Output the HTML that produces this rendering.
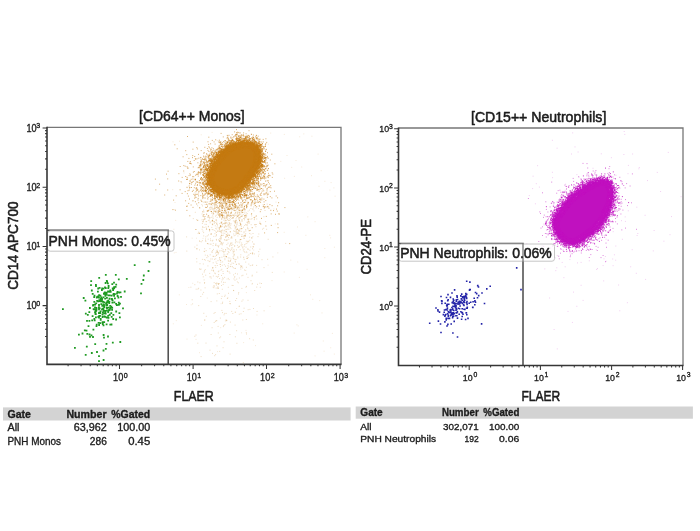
<!DOCTYPE html>
<html lang="en"><head><meta charset="utf-8"><title>PNH clone flow cytometry</title>
<style>html,body{margin:0;padding:0;background:#fff}body{width:700px;height:531px;overflow:hidden}svg{display:block;filter:blur(0.4px)}text{font-family:"Liberation Sans", sans-serif;fill:#1c1c1c;stroke:#1c1c1c;stroke-width:0.55px;stroke-linejoin:round}.s text,.s{stroke-width:0.34px}</style></head><body>
<svg width="700" height="531" viewBox="0 0 700 531">
<defs><filter id="b1" color-interpolation-filters="sRGB" x="-5%" y="-5%" width="110%" height="110%"><feGaussianBlur stdDeviation="0.45" color-interpolation-filters="sRGB"/></filter><filter id="b2" color-interpolation-filters="sRGB" x="-5%" y="-5%" width="110%" height="110%"><feGaussianBlur stdDeviation="0.7" color-interpolation-filters="sRGB"/></filter><filter id="b3" color-interpolation-filters="sRGB" x="-20%" y="-20%" width="140%" height="140%"><feGaussianBlur stdDeviation="0.35" color-interpolation-filters="sRGB"/></filter></defs>
<rect width="700" height="531" fill="#ffffff"/>
<g id="monos">
<path d="M181.2 182.8h1M172.5 141.8h1M258.6 254.3h1M286.5 155.5h1M214.1 204.7h1M253.2 250.1h1M311.0 175.7h1M262.2 323.8h1M330.2 347.8h1M217.0 351.6h1M192.6 200.5h1M218.3 186.7h1M226.1 222.3h1M321.5 312.9h1M269.5 306.5h1M324.4 181.3h1M233.4 251.5h1M243.1 342.6h1M186.7 187.7h1M206.8 298.1h1M178.8 294.8h1M172.2 189.7h1M262.6 186.2h1M330.1 237.9h1M314.6 221.7h1M297.0 227.0h1M244.6 144.5h1M245.5 330.4h1M218.5 245.4h1M250.5 234.2h1M333.8 354.1h1M220.2 327.7h1M314.6 355.9h1M317.6 154.1h1M329.4 190.1h1M297.7 325.9h1M252.0 283.4h1M307.3 216.9h1M192.2 283.3h1M247.3 156.9h1M191.7 238.2h1M246.8 243.0h1M329.3 235.3h1M204.7 198.1h1M283.8 134.4h1M243.8 193.7h1M190.7 304.8h1M220.6 303.7h1M214.5 193.8h1M267.8 144.2h1M280.3 161.4h1M252.3 236.6h1M173.4 229.3h1M186.0 304.5h1M172.8 323.8h1M218.5 140.9h1M318.5 186.3h1M225.0 237.4h1M199.0 352.7h1M228.5 208.5h1M179.0 141.2h1M333.9 247.2h1M186.5 339.1h1M310.0 294.8h1M210.3 157.3h1M274.8 223.9h1M324.3 257.7h1M271.5 280.6h1M303.3 133.9h1M188.3 287.5h1M249.7 152.8h1M312.3 299.3h1M195.5 339.4h1M266.8 183.7h1M196.0 238.2h1M216.8 140.6h1M246.1 251.5h1M311.4 136.2h1M208.7 193.9h1M320.7 170.7h1M262.5 204.5h1M299.2 136.8h1M202.5 238.4h1M333.4 187.9h1M291.2 167.4h1M241.8 153.3h1M175.2 220.4h1M247.4 255.6h1M241.1 332.8h1M334.6 196.2h1M183.5 172.9h1M224.3 217.4h1M212.7 270.5h1M277.3 252.9h1M319.2 300.6h1M284.1 178.3h1M247.0 203.5h1M175.5 252.4h1M324.3 248.5h1M296.4 324.8h1M200.7 134.8h1M305.4 235.3h1M236.1 308.5h1M283.7 232.3h1M290.3 260.1h1M301.2 167.0h1M235.7 264.3h1M235.1 312.2h1M322.8 341.0h1M275.5 202.1h1M211.6 132.4h1M293.9 176.4h1M200.9 325.4h1M229.8 215.1h1M243.3 257.8h1M273.4 209.0h1M295.5 160.5h1M330.6 182.6h1M174.5 202.5h1M323.6 351.2h1M173.8 252.9h1M255.0 345.6h1M234.3 276.6h1M270.2 133.1h1M331.9 333.4h1M298.9 277.4h1M293.7 333.1h1M256.4 315.0h1M173.6 209.5h1M250.5 253.3h1M175.8 320.6h1M306.6 269.3h1M267.6 265.2h1M245.3 185.6h1M297.2 262.0h1M226.5 279.1h1M194.3 192.7h1M283.7 272.0h1M245.9 292.6h1M259.6 186.3h1" fill="none" stroke="#c47a12" stroke-width="1" stroke-opacity="0.16"/>
<path d="M236.9 233.3h1M214.9 321.4h1M241.2 236.5h1M233.3 201.6h1M205.5 221.6h1M232.1 204.0h1M213.3 203.2h1M234.3 204.8h1M232.2 208.2h1M203.2 235.9h1M229.9 250.6h1M251.8 275.2h1M219.9 244.1h1M218.4 271.0h1M254.9 203.1h1M235.9 234.0h1M226.0 204.2h1M232.0 266.7h1M212.8 243.4h1M229.9 303.7h1M242.3 320.0h1M207.4 265.9h1M255.4 226.7h1M224.4 240.0h1M216.3 223.0h1M244.2 209.7h1M212.3 224.8h1M228.4 252.5h1M239.3 231.1h1M228.1 220.6h1M241.3 275.8h1M195.5 335.0h1M234.6 231.4h1M244.2 225.5h1M215.9 255.2h1M228.1 215.6h1M210.3 259.0h1M225.6 213.1h1M218.9 240.7h1M213.9 286.1h1M223.1 256.2h1M221.9 243.8h1M212.1 267.8h1M225.8 223.0h1M219.1 227.3h1M237.9 230.1h1M229.8 266.3h1M242.5 299.9h1M236.3 199.1h1M224.4 258.3h1M229.4 273.2h1M237.7 233.8h1M233.3 201.7h1M229.3 207.2h1M204.0 216.6h1M221.4 257.2h1M222.9 223.5h1M244.1 213.0h1M205.8 316.3h1M258.0 208.5h1M250.5 280.7h1M240.5 245.1h1M203.5 211.9h1M243.5 209.4h1M191.7 299.8h1M224.1 198.1h1M245.6 205.5h1M240.1 265.7h1M222.3 223.9h1M221.0 281.9h1M251.7 201.8h1M244.3 244.5h1M252.7 202.4h1M215.7 288.1h1M227.3 253.8h1M226.9 271.0h1M235.1 300.5h1M226.9 204.7h1M233.0 207.0h1M211.3 227.4h1M190.4 287.2h1M226.5 240.1h1M239.6 228.8h1M246.4 222.3h1M212.2 209.0h1M238.9 264.1h1M213.5 313.4h1M235.5 218.8h1M246.7 204.5h1M223.2 207.0h1M205.5 343.1h1M214.6 222.5h1M226.4 226.7h1M209.6 261.1h1M235.6 259.4h1M228.3 239.3h1M233.9 225.7h1M236.7 222.2h1M228.3 207.0h1M230.7 216.4h1M212.5 245.6h1M217.5 260.6h1M212.7 218.4h1M210.0 238.9h1M217.0 277.1h1M235.5 215.4h1M219.9 318.1h1M224.2 296.4h1M238.5 218.1h1M228.5 234.8h1M219.8 203.4h1M209.8 204.7h1M233.7 235.7h1M220.7 215.6h1M227.5 265.7h1M204.7 204.5h1M203.0 220.1h1M244.7 235.8h1M212.5 267.7h1M220.9 223.6h1M247.6 211.1h1M216.8 293.9h1M233.0 290.4h1M225.9 205.2h1M263.6 208.6h1M237.0 274.0h1M217.6 210.8h1M219.8 201.3h1M215.6 262.0h1M225.0 223.6h1M247.5 221.3h1M220.5 211.2h1M217.8 333.0h1M229.4 261.3h1M272.4 256.9h1M244.0 270.0h1M215.8 283.8h1M233.4 249.4h1M215.2 267.3h1M216.0 223.8h1M205.0 240.8h1M241.5 221.5h1M227.8 260.3h1M228.5 202.5h1M230.3 243.5h1M223.3 199.4h1M236.2 279.1h1M228.9 218.7h1M212.0 353.4h1M207.1 217.2h1M206.9 255.4h1M225.1 204.8h1M228.6 279.6h1M230.4 264.4h1M220.2 241.8h1M253.4 243.8h1M238.8 306.0h1M220.7 243.2h1M213.8 223.6h1M234.7 261.2h1M232.6 205.4h1M227.2 233.2h1M230.4 213.5h1M225.8 229.6h1M248.4 254.8h1M226.1 220.4h1M227.8 224.4h1M215.2 283.4h1M213.5 208.5h1M221.8 244.9h1M254.2 290.5h1M238.6 212.1h1M245.8 332.7h1M209.3 276.9h1M229.6 354.1h1M199.0 249.9h1M241.3 212.8h1M226.8 268.4h1M252.2 264.9h1M229.3 303.6h1M246.5 205.1h1M221.0 215.6h1M228.8 220.5h1M205.7 250.6h1M216.8 265.5h1M224.7 295.2h1M212.4 216.9h1M240.9 226.7h1M240.3 214.7h1M215.2 245.0h1M214.6 256.4h1M240.1 257.0h1M226.3 320.4h1M215.8 219.7h1M233.7 251.0h1M218.7 197.8h1M198.2 232.2h1M219.1 278.5h1M235.4 233.0h1M227.0 235.1h1M236.7 229.4h1M224.1 277.4h1M213.4 287.7h1M229.1 209.9h1M263.6 310.8h1M250.9 214.5h1M236.1 330.7h1M221.5 296.4h1M199.4 282.8h1M239.4 241.1h1M236.4 343.3h1M231.6 285.4h1M212.8 212.7h1M220.7 213.7h1M223.8 227.6h1M200.6 269.1h1M221.0 235.5h1M220.9 298.6h1M241.3 246.0h1M205.4 241.2h1M228.1 263.6h1M215.5 207.4h1M225.8 234.8h1M208.8 229.3h1M202.2 226.8h1M234.8 220.6h1M228.6 227.7h1M221.8 289.3h1M219.2 250.9h1M228.7 215.0h1M236.7 211.9h1M244.2 235.7h1M247.5 300.3h1M213.3 236.4h1M226.4 208.0h1M213.8 205.7h1M226.3 205.8h1M230.7 223.8h1M236.2 225.1h1M222.9 235.2h1M242.9 208.3h1M227.5 243.2h1M202.0 205.9h1M250.2 247.0h1M208.0 234.9h1M215.6 211.2h1M221.2 244.0h1M247.1 227.3h1M199.5 263.7h1M207.9 226.8h1M218.1 246.2h1M202.8 202.2h1M266.1 229.3h1M241.4 266.2h1M196.0 219.7h1M236.9 281.9h1M238.9 246.4h1M201.9 240.7h1M230.4 228.6h1M224.1 208.7h1M234.9 242.8h1M225.4 236.7h1M244.8 217.4h1M243.0 227.2h1M217.4 287.9h1M214.0 259.3h1M207.5 260.6h1M226.5 239.9h1M233.4 197.6h1M225.7 313.4h1M212.7 262.8h1M221.3 269.3h1M229.9 219.8h1M234.6 210.9h1M266.7 204.1h1M204.5 224.3h1M220.4 262.2h1M211.6 221.1h1M222.1 224.6h1M245.9 241.2h1M214.6 312.5h1M244.6 199.4h1M210.6 244.2h1M227.8 278.4h1M202.8 276.8h1M254.0 218.9h1M233.4 278.9h1M205.0 216.5h1M246.0 334.0h1M263.2 228.3h1M231.1 211.2h1M238.0 294.0h1M225.9 234.6h1M214.6 204.5h1M238.9 217.5h1M238.3 247.1h1M217.9 276.3h1M227.3 209.2h1M222.9 326.6h1M243.5 249.2h1M237.6 247.3h1M220.9 232.2h1M245.2 270.4h1M242.9 202.5h1M251.6 203.9h1M247.7 241.1h1M239.7 205.8h1M211.2 217.3h1M224.4 259.7h1M199.2 268.7h1M253.9 253.9h1M202.8 264.0h1M234.5 259.5h1M218.1 274.5h1M221.2 200.4h1M233.2 258.7h1M245.5 247.2h1M222.7 273.5h1M223.8 212.5h1M229.1 216.1h1M209.5 350.2h1M256.6 311.4h1M225.6 256.6h1M230.0 217.4h1M231.5 243.0h1M235.9 220.8h1M227.5 248.9h1M212.9 276.0h1M236.4 207.8h1M258.3 234.0h1M258.9 205.8h1M209.2 273.4h1M241.4 288.4h1M240.3 269.1h1M226.3 244.6h1M256.2 219.0h1M227.8 208.7h1M225.3 225.5h1M204.3 319.9h1M236.1 226.8h1M249.4 250.2h1M216.9 206.4h1M220.4 231.3h1M238.3 233.6h1M209.7 254.8h1M232.3 313.5h1M230.3 244.7h1M271.8 272.4h1M222.1 277.9h1M203.7 272.1h1M234.7 312.2h1M227.8 208.6h1M249.3 240.3h1M220.2 260.6h1M225.2 206.7h1M224.4 251.5h1M224.2 209.7h1M234.2 210.5h1M239.1 205.2h1M211.2 270.2h1M244.4 252.3h1M244.8 215.7h1M212.1 268.0h1M222.2 230.0h1M238.9 278.0h1M242.8 236.4h1M221.8 265.3h1M238.5 200.6h1M196.2 258.7h1M217.0 251.8h1M220.9 215.1h1M228.7 271.9h1M216.1 252.3h1M215.0 199.0h1M222.1 213.8h1M250.7 224.7h1M228.6 222.8h1M212.8 256.5h1M216.3 300.9h1M220.9 238.1h1M226.7 254.2h1M240.0 217.8h1M211.2 252.0h1M210.7 278.1h1M215.3 201.9h1M236.9 245.4h1M228.0 237.5h1M245.3 231.0h1M224.9 206.2h1M227.0 215.7h1M224.3 203.2h1M267.1 259.3h1M226.2 212.7h1M242.4 246.9h1M232.4 244.6h1M240.3 210.7h1M243.8 218.5h1M201.4 201.6h1M224.3 216.3h1M242.9 311.5h1M214.2 355.7h1M201.6 229.3h1M218.6 215.5h1M224.7 226.1h1M221.0 230.4h1M246.3 252.6h1M223.9 239.7h1M216.5 345.9h1M201.3 204.6h1M227.9 261.3h1M242.4 275.3h1M232.9 267.8h1M204.8 255.1h1M221.4 310.4h1M219.4 203.5h1M225.6 203.6h1M213.1 211.3h1M219.7 241.0h1M227.2 219.7h1M244.0 238.3h1M218.0 284.5h1M256.5 197.4h1M218.1 207.4h1M202.2 227.2h1M224.3 222.2h1M228.9 224.6h1M203.1 232.6h1M204.6 218.7h1M252.0 241.9h1M249.1 237.2h1M235.7 241.7h1M238.5 218.9h1M239.5 209.9h1M221.4 222.1h1M215.9 239.4h1M228.0 198.8h1M210.7 201.2h1M225.4 229.3h1M235.7 220.3h1M224.6 256.5h1M233.5 255.7h1M224.6 220.0h1M243.6 308.2h1M215.4 220.2h1M212.7 287.1h1M215.9 285.1h1M234.7 227.0h1M222.0 303.3h1M215.1 253.0h1M206.0 228.3h1M236.1 217.3h1M208.0 217.2h1M232.6 285.5h1M259.4 249.2h1M208.9 220.1h1M227.8 257.9h1M202.8 219.7h1M223.4 254.1h1M216.2 229.0h1M222.9 215.5h1M225.6 319.8h1M224.2 313.4h1M204.0 270.8h1M220.0 227.3h1M199.4 241.5h1M204.1 202.0h1M244.0 219.8h1M243.5 232.8h1M241.1 243.0h1M223.8 264.7h1M239.5 239.6h1M240.5 313.8h1M246.9 206.9h1M219.8 213.6h1M243.7 259.4h1M217.8 211.1h1M249.1 221.8h1M224.4 255.0h1M226.0 231.6h1M201.5 219.8h1M219.0 228.8h1M234.5 280.2h1M218.0 239.8h1M224.8 213.3h1M222.5 230.9h1M229.3 245.2h1M215.2 258.8h1M251.2 215.9h1M232.0 215.2h1M238.7 225.6h1M203.1 292.4h1M222.8 251.4h1M211.7 199.3h1M208.8 217.1h1M233.5 210.2h1M247.7 309.7h1M227.6 214.1h1M262.0 229.2h1M226.4 236.0h1M240.6 228.8h1M204.1 282.5h1M226.1 320.7h1M235.1 240.7h1M241.1 266.2h1M211.9 252.1h1M225.0 220.5h1M230.7 204.4h1M210.2 240.6h1M252.3 209.1h1M237.9 282.8h1M261.0 283.5h1M235.9 203.3h1M243.1 209.5h1M202.0 274.2h1M226.7 247.6h1M225.7 231.9h1M249.9 253.5h1M227.8 211.5h1M209.7 244.1h1M221.8 208.0h1M204.2 248.7h1M255.4 207.9h1M219.8 260.5h1M206.9 243.6h1M219.4 216.1h1M249.6 230.5h1M222.8 242.9h1M247.0 241.7h1M223.0 282.3h1M227.9 207.6h1M253.4 210.9h1M217.0 225.1h1M234.4 203.7h1M217.6 199.7h1M198.1 288.3h1M222.4 205.1h1M223.3 252.3h1M216.8 213.0h1M213.3 285.8h1M222.3 215.0h1M236.0 264.4h1M229.3 203.8h1M208.8 201.7h1M221.7 235.5h1M217.4 286.8h1M236.1 298.5h1M245.7 212.8h1M223.3 325.5h1M249.2 233.5h1M238.5 210.2h1M225.0 249.7h1M222.3 216.8h1M248.0 221.1h1M256.1 265.4h1M259.4 283.2h1M212.9 270.2h1M209.4 248.6h1M221.1 234.0h1M234.3 245.9h1M199.0 240.8h1M218.6 228.0h1M243.6 235.6h1M206.2 229.3h1M244.1 199.3h1M235.1 226.9h1M218.7 227.4h1M223.4 220.2h1M220.2 225.8h1M228.0 202.1h1M234.3 231.2h1M205.9 224.4h1M261.5 259.7h1M252.5 209.0h1M227.7 235.3h1M238.5 212.3h1M235.8 230.3h1M245.9 267.3h1M241.5 234.6h1M209.0 218.1h1M224.8 212.1h1M257.0 284.3h1M224.3 233.3h1M242.4 210.4h1M220.0 266.5h1M223.7 213.2h1M219.5 238.6h1M233.2 234.0h1M219.0 258.0h1M251.5 218.7h1M244.5 209.1h1M240.5 224.4h1M220.5 237.2h1M197.4 289.1h1M211.5 212.9h1M216.9 214.2h1M230.4 266.6h1M244.4 210.9h1M216.1 255.2h1M233.0 230.9h1M221.1 242.5h1M219.3 259.4h1M237.4 258.0h1M212.6 209.8h1M251.7 265.4h1M219.8 203.6h1M203.1 210.2h1M220.7 227.1h1M245.2 216.2h1M207.9 226.3h1M228.1 267.1h1M197.1 205.8h1M247.5 277.4h1M217.1 251.4h1M194.3 336.3h1M248.9 223.1h1M232.3 251.0h1M203.9 217.2h1M243.6 251.4h1M228.0 293.3h1M202.7 215.5h1M235.2 223.0h1M216.2 203.0h1M203.9 259.5h1M246.1 216.2h1M241.4 301.2h1M245.1 224.4h1M203.6 279.9h1M209.7 222.8h1M232.6 256.7h1M196.3 261.9h1M195.7 289.2h1M246.0 286.4h1M219.0 206.5h1M214.3 273.0h1M194.3 284.7h1M253.1 207.0h1M207.7 239.2h1M247.0 228.7h1M207.8 243.9h1M186.1 236.9h1M227.4 225.3h1M230.4 242.9h1M205.4 227.0h1M226.0 214.2h1M239.5 222.0h1M244.4 236.3h1M237.0 233.1h1M206.1 221.6h1M226.9 298.5h1M229.5 205.8h1M222.7 284.4h1M210.3 276.8h1M215.8 276.4h1M203.6 227.5h1M245.2 262.1h1M211.4 213.3h1M214.8 211.5h1M210.6 334.5h1M242.7 214.5h1M215.0 216.2h1M186.3 251.1h1M210.5 209.8h1M222.5 271.4h1M227.2 271.3h1M263.4 216.7h1M225.0 205.5h1M222.1 261.9h1M214.8 225.8h1M220.5 197.9h1M225.0 266.2h1M229.1 235.5h1M244.7 235.0h1M212.6 229.8h1M216.0 232.5h1M221.9 215.4h1M214.3 230.4h1M247.8 249.2h1M243.1 257.2h1M223.6 314.8h1M256.2 287.1h1M231.2 245.5h1M229.8 261.1h1M226.7 223.2h1M220.2 231.1h1M206.3 257.6h1M208.8 261.6h1M222.2 251.1h1M213.1 271.2h1M232.9 220.9h1M216.8 252.5h1M220.8 207.3h1M207.1 243.5h1M219.2 223.6h1M230.3 238.0h1M216.7 211.3h1M210.2 207.0h1M256.3 272.2h1M222.6 218.1h1M245.2 229.6h1M246.8 213.6h1M207.1 198.5h1M216.3 282.9h1M229.3 249.3h1M235.4 210.5h1M225.7 218.1h1M213.6 210.9h1M204.2 320.2h1M205.0 239.0h1M234.6 228.8h1M246.8 202.2h1M214.7 205.6h1M225.4 210.5h1M238.2 263.9h1M205.2 275.2h1M218.9 283.6h1M263.5 267.6h1M237.4 236.0h1M214.7 265.5h1M231.2 311.4h1M215.7 207.2h1M233.1 263.3h1M237.5 216.4h1M221.0 275.5h1M247.4 203.6h1M257.5 236.6h1M231.5 263.1h1M228.8 226.2h1M229.1 246.2h1M220.7 235.8h1M223.8 201.0h1M253.8 219.7h1M220.7 223.0h1M236.2 231.5h1M219.1 337.8h1M208.2 215.5h1M231.3 199.9h1M237.8 232.9h1M258.0 256.1h1M236.1 209.4h1M225.0 222.4h1M242.7 212.4h1M229.4 334.5h1M234.1 277.2h1M249.9 230.3h1M194.3 247.1h1M241.4 236.2h1M228.3 229.3h1M219.8 264.4h1M234.5 268.4h1M245.9 319.5h1M213.0 249.4h1M228.9 235.3h1M233.6 254.7h1M197.3 282.0h1M202.1 294.2h1M234.8 268.4h1M250.5 219.2h1M232.6 253.1h1M234.8 235.1h1M224.1 230.3h1M248.2 228.9h1M218.9 208.0h1M252.5 233.5h1M221.8 204.9h1M215.4 243.9h1M218.8 293.5h1M245.5 217.7h1M216.4 263.5h1M246.2 208.2h1M217.5 254.3h1M255.9 224.5h1M235.9 232.7h1M245.4 287.2h1M232.4 207.0h1M212.1 250.5h1M253.0 308.5h1M242.1 267.9h1M267.7 239.3h1M219.0 230.0h1M206.8 235.9h1M240.3 254.8h1M237.7 232.0h1M192.8 218.6h1M219.1 209.3h1M216.0 240.2h1M221.3 248.4h1M243.2 218.5h1M234.2 225.1h1M215.2 228.4h1M218.7 229.0h1M204.6 287.8h1M233.5 197.1h1M227.8 248.8h1M235.0 262.0h1M248.6 219.1h1M229.0 223.1h1M236.5 224.3h1M229.1 216.2h1M235.9 229.7h1M236.9 213.7h1M234.9 336.8h1M227.8 287.3h1M222.7 249.6h1M249.4 309.4h1M249.1 338.7h1M252.0 248.7h1M229.9 322.1h1M231.2 249.6h1M200.8 241.8h1M217.8 271.7h1M240.7 266.9h1M219.1 240.9h1M236.9 212.4h1M218.1 207.5h1M212.2 215.1h1M232.8 258.2h1M196.5 245.2h1M230.4 259.1h1M230.1 205.3h1M226.7 236.5h1M246.3 204.5h1M243.2 238.2h1M222.0 312.6h1M221.5 206.9h1M211.7 229.5h1M219.6 201.5h1M207.9 220.4h1M211.8 241.0h1M251.6 284.0h1M248.3 264.1h1M238.4 217.7h1M230.1 213.8h1M219.9 225.9h1M220.5 270.2h1M199.6 207.9h1M238.7 306.5h1M235.1 239.5h1M237.2 207.1h1M219.7 264.5h1M219.2 241.5h1M216.0 235.0h1M242.8 250.1h1M236.6 208.6h1M220.7 250.7h1M247.6 218.7h1M242.2 247.9h1M245.2 233.7h1M200.6 356.6h1M241.8 198.7h1M221.7 215.8h1M227.6 208.0h1M213.7 282.6h1M234.6 325.1h1M215.3 236.2h1M241.6 244.5h1M259.3 222.0h1M203.6 251.3h1M216.5 205.7h1M234.6 221.9h1M209.1 231.1h1M221.7 217.4h1M235.1 204.8h1M207.1 204.8h1M243.9 246.1h1M237.2 256.9h1M221.7 279.9h1M237.1 206.7h1M224.0 226.9h1M216.6 227.0h1M234.0 214.0h1M235.3 227.9h1M239.2 242.8h1M227.8 216.1h1M201.9 223.5h1M215.3 245.4h1M244.3 205.3h1M227.1 229.1h1M236.3 205.5h1M251.6 276.1h1M243.6 231.7h1M244.6 215.4h1M217.9 253.2h1M211.6 205.9h1M223.5 341.8h1M197.6 233.4h1M218.1 252.6h1M205.9 229.3h1M238.2 206.5h1M219.5 239.0h1M225.5 226.7h1M216.7 250.2h1M209.5 209.7h1M231.9 218.0h1M231.0 248.0h1M216.9 245.8h1M229.9 227.3h1M210.6 301.6h1M213.7 209.2h1M222.6 347.7h1M204.8 269.6h1M222.1 302.2h1M233.2 290.6h1M239.2 234.4h1M247.9 203.9h1M209.6 221.8h1M238.1 230.7h1M233.1 274.9h1M215.1 354.6h1M229.1 206.0h1M199.6 269.5h1M247.9 221.2h1M226.8 268.4h1M236.0 249.8h1M229.3 301.4h1M246.3 200.8h1M229.3 258.0h1M252.1 254.1h1M212.3 240.3h1M227.7 251.5h1M212.7 256.2h1M207.6 256.6h1M215.8 215.3h1M235.4 215.1h1M246.4 256.7h1M244.7 209.6h1M220.7 206.4h1M215.9 251.1h1M216.1 220.8h1M240.5 225.2h1M227.3 297.8h1M233.8 254.2h1M222.9 199.2h1M202.4 231.1h1M198.2 305.6h1M236.7 207.5h1M200.3 296.5h1M234.5 210.3h1M209.1 229.7h1M222.7 233.1h1M194.8 212.3h1M239.7 249.7h1M217.7 288.3h1M230.0 215.5h1M230.1 260.6h1M237.4 242.1h1M258.2 251.6h1M238.7 219.4h1M216.6 224.2h1M244.9 235.9h1M224.6 282.4h1M219.0 216.9h1M214.8 273.7h1M227.2 219.0h1M232.2 217.7h1M216.7 217.4h1M217.6 288.2h1M247.6 257.5h1M231.3 218.5h1M217.4 203.5h1M254.3 205.7h1M215.9 234.9h1M240.2 267.3h1M230.2 225.2h1M285.2 243.4h1M224.4 324.6h1M219.0 231.5h1M223.7 215.3h1M203.3 313.3h1M264.5 210.5h1M231.4 238.2h1M226.1 218.0h1M238.8 314.2h1M192.1 303.9h1M225.4 237.0h1M220.1 336.9h1M251.2 203.5h1M224.9 320.9h1M218.0 247.0h1M226.9 235.6h1M238.3 209.7h1M221.1 208.0h1M197.3 343.2h1M213.7 322.5h1M215.3 231.8h1M238.2 292.6h1M214.4 233.7h1M209.7 217.8h1M225.6 211.9h1M215.7 320.7h1M249.0 210.1h1M252.8 340.0h1M220.5 239.1h1M245.7 243.6h1M201.6 214.0h1M220.5 232.2h1M234.9 273.4h1M229.7 208.5h1M219.2 351.4h1M226.4 217.6h1M229.4 223.4h1M224.6 231.3h1M201.9 259.4h1M238.8 230.9h1M254.7 216.9h1M241.6 212.0h1M227.8 212.1h1M249.8 265.6h1M244.0 217.0h1M246.6 198.2h1M216.7 205.9h1M217.6 326.4h1M200.4 290.0h1M222.8 278.8h1M211.6 327.7h1M228.1 225.9h1M211.8 259.0h1M231.9 204.8h1M248.2 241.7h1M238.8 229.9h1M237.4 214.0h1M216.3 320.7h1M234.0 246.1h1M226.4 207.0h1M259.8 287.3h1M240.8 231.4h1M210.5 234.4h1M216.9 199.3h1M244.0 208.6h1M234.3 204.2h1M253.5 244.4h1M226.7 209.9h1M222.2 226.3h1M204.1 251.6h1M225.7 240.4h1M236.7 223.1h1M205.3 236.8h1M233.5 210.5h1M227.9 205.4h1M204.8 260.2h1M222.6 217.4h1M233.1 252.0h1M247.1 249.0h1M242.8 362.6h1M219.9 236.9h1M246.1 274.1h1M219.3 257.5h1M225.2 249.9h1M250.4 208.5h1M221.0 285.5h1M204.0 283.3h1M220.4 215.6h1M216.1 209.7h1M227.9 215.1h1M265.1 221.6h1M232.1 247.9h1" fill="none" stroke="#c47a12" stroke-width="1" stroke-opacity="0.25" filter="url(#b3)"/>
<path d="M257.2 171.9h1M243.5 186.9h1M255.1 167.4h1M236.8 145.1h1M203.2 177.5h1M260.8 158.2h1M258.6 174.6h1M226.5 198.0h1M261.3 142.1h1M211.0 184.7h1M231.4 146.4h1M209.9 178.2h1M216.6 192.7h1M251.9 145.1h1M244.1 191.4h1M203.1 175.4h1M225.9 194.1h1M228.9 143.4h1M208.5 155.1h1M240.9 144.8h1M247.4 222.9h1M248.1 185.6h1M245.8 195.7h1M257.7 136.2h1M237.9 145.5h1M244.0 189.5h1M234.7 222.8h1M231.8 197.0h1M248.7 181.4h1M213.7 162.8h1M258.2 143.9h1M260.5 209.6h1M198.1 167.3h1M190.7 179.3h1M222.6 196.0h1M236.2 146.1h1M254.1 146.7h1M209.6 172.3h1M230.4 195.2h1M236.9 195.0h1M263.6 165.8h1M188.7 190.1h1M240.9 144.5h1M249.6 179.4h1M241.5 142.9h1M259.7 171.2h1M224.7 203.7h1M222.1 215.8h1M207.7 172.4h1M240.4 193.1h1M223.0 151.7h1M235.2 142.5h1M226.4 198.8h1M208.3 137.2h1M227.6 199.2h1M247.2 181.0h1M255.8 216.0h1M219.7 154.5h1M264.0 207.7h1M243.8 142.8h1M221.2 219.0h1M255.1 144.1h1M203.0 175.6h1M233.5 145.1h1M197.2 182.5h1M236.8 144.7h1M221.8 193.5h1M210.5 170.0h1M256.1 148.4h1M240.2 143.1h1M227.3 141.7h1M237.1 145.3h1M242.1 194.5h1M221.0 152.1h1M258.0 152.5h1M223.6 152.9h1M266.5 189.3h1M199.7 164.1h1M259.7 150.8h1M256.5 151.8h1M223.2 201.0h1M232.8 140.4h1M264.3 146.5h1M249.6 187.6h1M254.5 174.6h1M207.5 189.8h1M195.8 187.7h1M259.7 194.9h1M239.1 140.9h1M257.2 159.6h1M222.2 154.3h1M245.0 200.2h1M228.0 146.4h1M229.1 148.8h1M218.9 140.2h1M220.3 157.1h1M258.4 174.1h1M203.4 162.8h1M240.6 144.5h1M219.2 157.9h1M216.2 162.2h1M213.0 191.8h1M223.3 199.2h1M230.3 208.9h1M261.9 156.3h1M265.4 226.0h1M238.2 143.6h1M189.4 187.6h1M204.0 186.8h1M220.8 222.3h1M257.1 152.6h1M205.2 181.1h1M202.7 216.3h1M245.4 143.3h1M205.7 183.1h1M229.5 148.3h1M254.2 168.7h1M186.6 166.7h1M261.7 167.0h1M238.7 208.0h1M254.9 148.9h1M257.3 163.4h1M258.1 151.0h1M265.5 159.3h1M212.4 155.6h1M253.4 170.3h1M202.0 175.0h1M258.5 172.2h1M251.6 183.9h1M200.4 157.4h1M241.8 140.3h1M200.2 166.8h1M225.3 152.3h1M277.6 227.7h1M223.6 152.0h1M223.5 153.3h1M223.4 202.3h1M247.7 142.8h1M214.2 162.7h1M261.0 154.5h1M222.9 152.1h1M208.9 177.7h1M219.6 157.2h1M216.8 157.6h1M256.6 151.5h1M213.9 195.2h1M213.3 154.2h1M257.7 157.9h1M208.2 193.7h1M215.0 156.5h1M257.5 171.3h1M260.0 151.7h1M256.8 178.4h1M256.4 163.7h1M253.2 187.3h1M244.9 144.3h1M207.2 185.1h1M214.6 158.6h1M229.2 194.2h1M232.8 194.9h1M250.8 194.0h1M224.2 150.7h1M231.8 144.8h1M229.0 204.9h1M249.8 141.8h1M239.8 190.7h1M262.6 164.9h1M205.8 160.2h1M222.8 136.9h1M219.9 206.0h1M214.9 156.6h1M235.1 191.1h1M205.3 172.2h1M230.5 142.6h1M217.5 192.7h1M258.0 152.7h1M257.3 158.8h1M203.9 176.7h1M198.4 172.7h1M255.8 180.5h1M256.6 165.0h1M254.1 182.7h1M243.5 142.1h1M254.0 192.9h1M206.1 173.8h1M233.0 202.2h1M242.7 184.5h1M260.9 188.5h1M232.9 199.8h1M225.1 150.9h1M222.3 206.9h1M256.2 168.8h1M224.7 151.2h1M211.1 190.3h1M242.0 201.4h1M174.3 144.8h1M183.2 171.0h1M261.9 154.6h1M208.0 166.9h1M236.6 138.8h1M230.7 212.8h1M247.6 142.7h1M213.6 162.6h1M240.0 145.1h1M229.6 197.6h1M228.4 194.4h1M240.7 196.9h1M240.7 141.1h1M237.9 203.2h1M257.9 168.9h1M229.3 148.3h1M219.2 158.4h1M208.1 160.3h1M235.1 144.4h1M205.4 167.2h1M257.2 165.2h1M249.3 175.5h1M212.5 167.2h1M223.8 198.5h1M262.2 155.6h1M259.1 153.3h1M247.3 178.1h1M217.0 157.9h1M206.8 196.0h1M239.8 143.5h1M206.0 170.6h1M192.4 200.9h1M193.8 171.5h1M211.3 187.7h1M252.7 179.4h1M219.6 142.2h1M245.6 133.8h1M251.7 196.5h1M241.5 197.4h1M246.0 141.6h1M211.7 159.9h1M254.1 195.1h1M211.4 152.3h1M214.7 192.0h1M224.2 147.7h1M258.1 184.6h1M259.6 163.0h1M268.0 182.3h1M250.6 144.5h1M225.5 150.9h1M246.7 198.4h1M209.7 182.8h1M203.8 176.7h1M215.6 161.8h1M221.3 197.5h1M258.6 157.0h1M199.8 171.9h1M221.3 153.3h1M270.7 213.9h1M255.4 170.8h1M218.6 158.8h1M199.5 182.8h1M250.5 197.0h1M225.6 151.2h1M233.2 195.0h1M241.0 192.0h1M206.3 180.4h1M215.1 162.9h1M253.6 147.2h1M244.5 140.6h1M259.3 152.6h1M245.5 137.5h1M222.0 216.9h1M256.1 145.7h1M210.0 167.1h1M217.6 153.7h1M193.3 194.3h1M211.9 189.6h1M220.2 193.7h1M204.9 187.5h1M209.7 186.5h1M226.6 150.1h1M228.1 147.4h1M256.5 165.5h1M217.4 160.6h1M231.4 193.0h1M204.3 147.3h1M242.2 144.5h1M240.9 145.4h1M216.4 195.8h1M251.7 227.7h1M239.7 196.3h1M215.9 154.4h1M215.5 196.0h1M219.7 194.9h1M262.8 166.1h1M212.8 165.2h1M195.4 188.8h1M239.3 213.0h1M209.7 174.9h1M259.6 153.0h1M253.5 144.3h1M199.8 168.9h1M217.7 283.7h1M258.6 151.6h1M255.4 182.8h1M251.8 139.7h1M228.0 209.4h1M242.7 186.6h1M245.3 138.7h1M218.3 194.0h1M256.0 150.9h1M224.3 208.2h1M216.6 157.2h1M236.9 216.3h1M243.0 186.6h1M246.2 143.9h1M250.2 144.2h1M202.6 197.2h1M254.2 186.9h1M221.3 155.8h1M265.4 155.2h1M207.5 170.7h1M209.2 169.4h1M261.2 150.6h1M256.7 152.5h1M202.9 167.5h1M207.3 182.1h1M232.3 137.8h1M213.5 189.3h1M239.6 189.0h1M194.5 194.9h1M210.5 166.2h1M226.4 150.0h1M229.3 147.5h1M212.1 160.8h1M190.9 182.4h1M245.5 143.3h1M196.2 204.0h1M203.1 166.4h1M255.2 166.9h1M237.8 132.6h1M209.3 158.7h1M256.1 172.5h1M204.8 157.1h1M209.9 177.9h1M215.5 193.1h1M245.2 193.8h1M205.6 190.5h1M224.7 149.8h1M239.1 140.7h1M193.2 176.7h1M227.0 142.7h1M258.4 168.6h1M233.7 144.7h1M239.1 190.9h1M212.9 164.5h1M212.1 161.0h1M243.6 188.3h1M236.0 191.6h1M256.4 149.2h1M203.2 175.0h1M246.3 188.3h1M238.1 196.0h1M210.1 164.5h1M205.3 178.6h1M262.9 206.1h1M254.4 146.4h1M234.1 196.4h1M264.3 177.6h1M257.1 153.6h1M234.4 145.3h1M226.3 149.3h1M235.5 134.4h1M266.8 194.9h1M239.3 137.9h1M223.7 153.7h1M247.5 189.6h1M240.9 186.9h1M225.9 148.4h1M219.4 155.8h1M246.8 144.6h1M233.4 146.5h1M240.1 140.1h1M206.9 171.1h1M206.5 202.1h1M208.2 168.4h1M238.1 189.0h1M252.0 175.2h1M255.0 176.5h1M225.2 195.6h1M256.3 137.9h1M253.4 188.7h1M259.3 160.8h1M210.5 186.3h1M254.5 173.9h1M232.6 141.9h1M267.6 180.6h1M210.1 170.1h1M213.7 161.8h1M211.4 162.0h1M227.7 146.7h1M231.9 197.2h1M228.5 193.1h1M226.3 150.7h1M226.1 150.8h1M223.3 149.6h1M220.2 149.0h1M225.8 151.6h1M260.3 159.2h1M231.7 142.1h1M218.5 191.7h1M257.7 151.2h1M216.4 207.5h1M240.4 144.4h1M258.0 163.0h1M249.0 183.9h1M251.9 183.0h1M243.3 143.5h1M224.2 153.6h1M232.1 205.2h1M232.0 145.4h1M265.2 168.7h1M249.7 183.4h1M252.3 145.9h1M247.9 182.7h1M258.4 166.5h1M259.3 145.5h1M230.1 146.8h1M255.1 165.7h1M224.3 218.2h1M243.2 141.2h1M206.8 177.2h1M264.9 144.6h1M266.6 177.0h1M224.7 211.3h1M255.2 166.5h1M206.2 207.5h1M210.0 176.1h1M256.9 159.7h1M251.3 144.1h1M257.8 164.4h1M240.8 210.9h1M241.4 143.2h1M237.7 141.0h1M230.1 206.8h1M257.4 144.9h1M204.6 158.5h1M241.2 141.0h1M238.7 188.8h1M234.5 146.5h1M263.1 169.4h1M262.8 141.9h1M208.4 183.0h1M167.2 190.0h1M263.8 204.5h1M203.7 185.6h1M198.7 182.2h1M257.6 182.3h1M257.5 147.7h1M219.1 145.9h1M252.7 174.9h1M204.2 194.9h1M218.2 146.1h1M257.4 153.0h1M190.0 163.3h1M221.5 192.6h1M229.6 147.8h1M212.5 186.1h1M211.3 183.9h1M239.9 188.7h1M256.3 164.8h1M230.1 193.5h1M242.3 185.0h1M256.1 165.8h1M204.5 189.0h1M224.1 195.9h1M224.8 196.2h1M256.9 160.2h1M261.2 178.7h1M218.2 156.4h1M251.3 174.9h1M258.4 156.8h1M208.8 166.5h1M249.2 178.6h1M254.5 224.7h1M211.1 159.2h1M251.8 177.3h1M254.8 173.8h1M222.9 150.1h1M166.0 174.1h1M203.7 165.7h1M200.2 185.9h1M243.8 184.1h1M235.8 146.1h1M260.2 159.0h1M240.0 144.5h1M261.2 167.4h1M198.8 183.0h1M200.3 161.9h1M248.6 142.5h1M205.9 161.7h1M240.6 207.2h1M253.7 182.7h1M260.0 149.1h1M243.0 184.6h1M243.5 141.5h1M220.0 156.7h1M243.1 144.6h1M211.7 166.2h1M215.0 198.5h1M219.3 151.2h1M216.1 153.3h1M259.2 153.5h1M276.8 211.1h1M246.7 182.9h1M186.5 187.3h1M235.5 195.7h1M218.4 153.8h1M226.9 194.6h1M207.2 164.5h1M261.8 149.7h1M251.4 176.5h1M255.4 165.6h1M207.9 188.3h1M208.2 210.3h1M229.6 148.3h1M221.8 154.1h1M260.2 151.9h1M227.2 193.2h1M235.0 204.2h1M224.9 148.1h1M253.5 169.5h1M258.4 164.9h1M257.1 164.1h1M214.4 162.2h1M205.8 177.1h1M243.1 140.1h1M257.5 149.3h1M248.3 141.3h1M225.6 152.0h1M202.3 168.0h1M232.4 197.1h1M203.4 214.5h1M211.9 194.1h1M207.0 206.2h1M253.2 146.4h1M240.3 141.0h1M214.2 151.3h1M218.4 142.0h1M232.0 146.5h1M241.2 185.5h1M233.7 216.0h1M258.0 154.3h1M213.1 164.2h1M230.2 144.8h1M256.1 150.7h1M252.7 176.2h1M247.9 178.2h1M255.0 205.6h1M180.6 181.8h1M215.0 189.4h1M181.6 193.4h1M254.4 168.5h1M244.2 186.3h1M257.4 148.5h1M219.2 196.6h1M206.8 211.1h1M224.5 150.1h1M250.4 141.4h1M249.9 186.4h1M179.6 189.8h1M242.9 134.7h1M252.8 181.4h1M251.3 176.5h1M228.8 200.5h1M202.2 196.4h1M255.7 149.4h1M230.7 144.7h1M245.8 187.0h1M238.1 136.5h1M226.7 196.1h1M202.9 179.1h1M205.6 164.5h1M258.8 140.0h1M230.8 194.3h1M240.8 143.7h1M202.4 174.6h1M232.4 197.3h1M200.7 169.2h1M252.2 144.0h1M229.8 148.0h1M244.0 142.9h1M248.3 180.0h1M200.0 164.1h1M270.8 225.4h1M241.8 209.7h1M229.6 144.6h1M249.9 141.6h1M209.5 179.5h1M213.6 193.3h1M267.8 175.4h1M237.4 142.8h1M248.1 183.5h1M230.5 146.1h1M224.0 198.4h1M260.9 175.0h1M208.8 188.5h1M221.1 144.7h1M254.5 177.0h1M224.9 152.0h1M258.6 191.2h1M246.7 191.9h1M262.9 175.4h1M228.9 142.6h1M241.9 144.8h1M233.2 146.6h1M247.7 185.4h1M185.2 150.7h1M214.3 196.1h1M210.4 199.1h1M255.1 141.4h1M202.9 167.0h1M240.0 198.1h1M257.6 160.0h1M241.8 187.5h1M250.0 143.7h1M257.6 160.2h1M202.3 198.6h1M256.2 163.2h1M255.1 145.8h1M242.6 183.9h1M235.0 205.4h1M235.0 144.2h1M237.8 203.0h1M257.9 183.8h1M247.6 141.6h1M242.2 190.4h1M252.9 173.0h1M218.8 156.1h1M242.3 144.3h1M205.3 156.1h1M243.5 139.5h1M216.5 197.0h1M224.5 196.1h1M211.1 191.5h1M203.3 180.8h1M194.9 201.7h1M218.2 149.0h1M204.7 169.3h1M203.9 159.3h1M213.8 189.8h1M253.6 193.9h1M257.1 161.0h1M232.7 143.6h1M183.3 165.6h1M222.4 198.5h1M243.2 144.1h1M211.8 164.4h1M255.2 172.5h1M261.3 199.9h1M225.1 150.8h1M227.8 149.7h1M213.4 150.2h1M212.9 148.7h1M225.1 151.6h1M233.8 145.3h1M227.6 198.1h1M240.9 141.4h1M234.9 143.6h1M264.3 206.6h1M219.8 152.0h1M255.8 145.7h1M258.0 156.6h1M251.4 191.4h1M262.9 161.5h1M206.7 172.1h1M222.4 155.0h1M246.7 143.0h1M253.7 146.8h1M260.3 146.0h1M208.8 165.6h1M192.8 190.3h1M212.8 166.3h1M213.4 155.4h1M255.9 149.4h1M210.1 185.8h1M243.8 142.9h1M257.5 164.3h1M210.3 190.4h1M229.6 147.5h1M246.0 185.4h1M201.8 164.0h1M261.3 145.9h1M221.8 205.5h1M219.2 193.4h1M207.8 183.2h1M262.7 139.4h1M259.7 156.2h1M258.1 155.2h1M235.4 145.1h1M251.4 144.4h1M217.9 157.9h1M258.9 167.4h1M239.4 192.8h1M254.0 184.7h1M263.1 169.6h1M218.5 191.6h1M227.9 146.3h1M208.4 167.5h1M222.1 153.6h1M228.3 148.1h1M256.1 164.9h1M268.5 175.7h1M259.4 160.6h1M258.7 148.3h1M224.9 146.9h1M257.8 155.7h1M240.5 202.6h1M256.2 168.4h1M197.1 190.2h1M218.6 158.3h1M205.4 170.3h1M252.5 144.8h1M194.5 179.8h1M258.2 167.6h1M258.1 152.6h1M254.4 175.2h1M252.5 139.4h1M207.9 160.4h1M257.4 150.8h1M226.9 145.7h1M259.5 146.8h1M234.9 207.7h1M255.1 136.8h1M254.8 176.6h1M225.4 151.7h1M264.2 175.0h1M236.5 146.2h1M231.7 147.3h1M217.4 231.1h1M252.8 145.5h1M233.5 191.8h1M203.1 159.5h1M256.0 167.8h1M214.8 200.6h1M222.1 149.3h1M219.0 157.5h1M249.8 193.6h1M257.6 138.8h1M210.2 149.0h1M219.5 146.1h1M208.8 177.9h1M255.2 144.0h1M222.0 147.3h1M263.5 147.8h1M254.2 179.8h1M200.1 165.0h1M258.2 156.6h1M257.3 152.9h1M265.3 200.6h1M257.3 166.8h1M228.2 141.6h1M210.6 168.0h1M248.0 188.2h1M230.9 147.2h1M266.7 166.2h1M211.6 162.1h1M251.9 183.0h1M214.8 164.4h1M250.3 145.0h1M229.8 148.0h1M206.4 175.1h1M221.5 151.9h1M232.4 192.5h1M240.3 193.0h1M258.0 150.1h1M237.8 190.7h1M216.5 162.4h1M207.9 156.1h1M260.4 160.4h1M240.1 192.9h1M216.9 196.2h1M255.1 177.9h1M224.9 153.0h1M247.8 188.8h1M200.3 183.4h1M224.4 151.1h1M176.7 148.8h1M230.2 202.1h1M227.4 197.4h1M260.5 195.5h1M255.1 165.7h1M257.6 196.1h1M243.3 191.8h1M184.7 166.2h1M253.7 217.5h1M277.1 197.8h1M228.7 209.2h1M203.6 162.4h1M247.7 143.0h1M235.2 146.1h1M229.4 200.5h1M207.7 197.4h1M253.0 179.2h1M204.4 171.2h1M226.8 150.2h1M254.8 169.0h1M221.8 142.5h1M261.6 161.2h1M243.8 189.4h1M224.4 195.2h1M227.8 149.1h1M221.1 157.0h1M185.2 176.5h1M217.9 193.1h1M228.6 145.6h1M245.6 180.9h1M210.0 181.6h1M225.0 199.0h1M206.4 162.7h1M227.5 145.4h1M236.5 145.3h1M259.4 164.6h1M255.8 147.1h1M254.0 168.7h1M210.9 169.3h1M228.8 148.1h1M206.0 160.9h1M228.9 196.8h1M257.5 148.5h1M238.9 188.6h1M257.4 202.4h1M240.3 144.8h1M234.4 195.1h1M235.0 144.8h1M251.0 176.9h1M219.9 152.9h1M227.0 148.1h1M178.2 181.0h1M246.0 190.7h1M257.6 183.0h1M241.3 205.6h1M260.9 157.9h1M217.3 158.1h1M246.2 181.9h1M210.6 173.4h1M231.1 146.9h1M238.0 191.4h1M258.9 157.4h1M261.9 154.0h1M252.8 172.9h1M256.2 163.2h1M220.6 133.4h1M258.5 167.2h1M239.1 144.1h1M225.1 151.8h1M256.1 147.2h1M259.1 159.6h1M210.9 185.3h1M241.4 190.0h1M249.3 143.3h1M196.1 189.0h1M219.2 210.0h1M233.9 146.6h1M206.8 170.5h1M253.9 145.3h1M219.6 158.3h1M214.5 198.9h1M257.7 167.0h1M246.1 143.9h1M232.0 142.9h1M257.6 172.8h1M246.5 190.7h1M233.1 202.2h1M258.9 151.9h1M225.7 203.7h1M235.8 144.4h1M259.0 154.3h1M182.6 156.8h1M233.4 197.5h1M243.0 191.2h1M208.3 167.4h1M249.8 199.6h1M208.6 177.5h1M207.9 176.6h1M256.0 163.6h1M256.4 166.6h1M219.1 195.8h1M214.9 156.5h1M237.6 192.3h1M220.8 192.8h1M222.8 154.1h1M195.5 191.7h1M219.2 205.1h1M210.9 169.8h1M222.9 154.2h1M266.5 157.3h1M241.8 142.4h1M200.7 169.0h1M206.5 163.7h1M200.3 164.7h1M258.1 154.2h1M208.0 156.4h1M256.0 180.0h1M241.5 143.7h1M247.5 202.8h1M220.3 151.8h1M213.9 159.1h1M242.9 143.8h1M260.2 147.2h1M264.1 169.8h1M256.8 144.6h1M259.3 170.8h1M257.5 152.9h1M239.8 144.0h1M258.0 154.9h1M213.6 194.1h1M245.3 190.2h1M259.6 165.5h1M225.9 143.3h1M211.9 199.5h1M264.4 155.0h1M222.7 150.0h1M219.0 197.3h1M209.1 229.9h1M256.8 147.1h1M265.1 162.1h1M259.9 159.0h1M200.6 179.2h1M248.3 139.6h1M203.7 163.6h1M237.9 137.0h1M210.5 187.2h1M206.6 169.2h1M202.0 193.3h1M260.1 180.3h1M264.8 171.6h1M200.0 179.3h1M219.2 193.8h1M257.6 173.9h1M228.7 146.9h1M202.4 188.4h1M247.1 136.6h1M247.1 184.1h1M209.7 175.6h1M217.6 151.9h1M207.2 168.6h1M234.4 142.8h1M237.2 146.1h1M204.8 190.3h1M256.0 164.6h1M233.5 145.3h1M221.3 203.8h1M206.1 204.3h1M227.0 150.4h1M216.4 161.8h1M218.7 191.5h1M231.0 145.4h1M251.9 175.2h1M232.5 146.5h1M217.2 198.3h1M224.8 194.3h1M260.9 160.0h1M234.7 144.5h1M212.0 152.1h1M259.7 169.1h1M199.1 166.2h1M217.2 160.7h1M254.4 143.4h1M213.9 166.2h1M214.6 161.4h1M254.5 148.4h1M254.9 166.7h1M207.0 183.6h1M221.9 153.9h1M258.6 155.4h1M190.9 184.1h1M238.7 188.1h1M253.5 171.2h1M210.7 172.2h1M216.7 160.1h1M235.0 207.1h1M214.2 163.4h1M254.4 169.2h1M234.6 221.3h1M219.4 194.0h1M239.0 194.2h1M253.3 181.6h1M207.9 193.0h1M238.7 214.8h1M258.9 145.8h1M239.5 145.4h1M208.9 169.2h1M228.8 147.9h1M228.2 197.7h1M214.6 199.8h1M250.7 177.6h1M246.6 189.4h1M213.5 203.9h1M229.3 148.4h1M261.5 151.8h1M218.4 156.3h1M255.3 174.9h1M252.4 145.3h1M254.7 188.2h1M215.7 161.3h1M228.9 196.6h1M223.1 150.0h1M216.4 197.4h1M228.8 209.5h1M256.0 172.5h1M234.6 146.0h1M230.3 143.8h1M256.6 169.6h1M223.6 152.8h1M221.2 212.5h1M209.6 179.0h1M257.4 176.8h1M206.9 185.1h1M240.8 134.8h1M210.5 155.4h1M216.7 160.9h1M239.8 143.2h1M248.5 185.0h1M225.1 151.7h1M213.4 166.6h1M265.7 184.9h1M215.1 159.1h1M259.9 147.7h1M256.8 146.2h1M255.6 164.6h1M245.5 185.1h1M213.5 158.9h1M247.9 144.3h1M217.6 156.3h1M264.2 162.5h1M208.1 144.4h1M221.8 152.9h1M221.7 156.5h1M261.8 164.5h1M221.6 214.3h1M174.9 210.2h1M266.7 188.5h1M206.9 171.2h1M222.2 194.9h1M255.1 188.1h1M261.2 148.5h1M210.9 152.1h1M249.6 139.0h1M255.3 147.7h1M207.3 181.3h1M228.6 197.8h1M204.2 179.8h1M230.6 215.6h1M223.7 150.2h1M201.0 160.3h1M187.3 167.8h1M188.4 158.4h1M206.7 174.8h1M232.3 146.4h1M259.1 151.9h1M251.4 144.4h1M207.3 155.9h1M238.1 141.5h1M252.9 135.0h1M257.3 154.0h1M256.5 166.5h1M257.2 169.4h1M260.2 177.2h1M214.1 161.3h1M240.0 224.8h1M251.6 172.2h1M258.4 160.1h1M258.2 158.5h1M247.8 195.6h1M252.9 182.8h1M219.2 192.5h1M249.4 180.6h1M258.1 156.8h1M240.6 216.5h1M245.4 143.6h1M217.0 197.1h1M255.3 199.6h1M221.2 151.0h1M251.1 183.6h1M228.8 140.3h1M247.5 144.6h1M227.8 146.1h1M253.3 186.9h1M227.7 200.4h1M210.7 200.3h1M259.0 159.9h1M230.2 145.2h1M254.4 144.2h1M255.6 167.9h1M204.2 219.1h1M257.1 153.8h1M246.3 206.5h1M231.8 146.8h1M223.6 153.3h1M265.4 207.0h1M257.1 156.8h1M220.2 197.0h1M248.7 143.5h1M230.7 212.7h1M265.4 138.8h1M257.8 156.6h1M224.9 147.1h1M216.9 156.8h1M224.6 202.7h1M225.5 151.5h1M208.6 172.3h1M215.6 192.9h1M197.7 167.8h1M208.9 147.8h1M221.0 193.2h1M243.4 140.5h1M256.8 153.4h1M256.8 160.9h1M232.6 198.4h1M234.8 144.8h1M263.1 166.5h1M251.9 142.3h1M262.0 149.0h1M213.0 163.9h1M260.5 160.1h1M258.1 202.2h1M260.7 178.6h1M213.7 161.3h1M202.2 190.9h1M208.7 155.1h1M201.5 161.8h1M244.9 136.9h1M239.7 143.8h1M215.5 195.2h1M255.2 177.7h1M252.9 146.4h1M260.3 154.1h1M200.8 179.9h1M217.4 159.9h1M240.3 239.5h1M191.9 182.2h1M248.2 189.7h1M228.5 146.9h1M258.9 162.9h1M258.3 157.9h1M235.1 145.9h1M215.0 150.2h1M257.3 158.0h1M225.5 194.1h1M253.6 197.0h1M222.6 154.9h1M226.9 207.0h1M253.2 175.0h1M256.6 182.8h1M242.5 144.6h1M245.4 142.3h1M277.1 205.8h1M256.4 169.4h1M257.1 200.9h1M221.0 194.8h1M226.1 151.1h1M209.0 177.8h1M254.2 169.6h1M207.8 210.9h1M261.6 153.1h1M252.4 184.2h1M213.3 165.8h1M205.2 186.7h1M253.7 140.2h1M211.4 147.8h1M214.5 196.1h1M253.6 173.5h1M237.1 143.4h1M209.5 173.5h1M259.1 156.4h1M228.7 206.6h1M215.2 162.6h1M223.7 153.8h1M201.7 179.1h1M254.3 183.3h1M262.0 150.9h1M234.9 194.1h1M226.1 194.0h1M258.2 189.7h1M258.7 156.1h1M245.8 189.9h1M211.3 159.1h1M187.4 168.4h1M235.2 146.3h1M244.9 182.8h1M214.4 190.2h1M251.0 141.4h1M239.1 144.9h1M226.6 150.7h1M224.1 151.6h1M227.4 145.3h1M254.3 203.2h1M243.8 194.1h1M242.9 187.4h1M197.5 200.0h1M257.4 180.2h1M194.9 179.7h1M231.9 204.4h1M216.3 159.4h1M220.2 148.6h1M207.9 183.8h1M218.9 151.9h1M257.4 147.3h1M185.1 200.8h1M261.6 170.6h1M208.4 172.9h1M241.9 185.1h1M223.3 192.7h1M258.3 150.7h1M234.6 146.3h1M240.8 145.5h1M262.2 169.0h1M264.1 232.9h1M218.4 158.3h1M225.4 202.3h1M242.4 189.4h1M206.8 177.5h1M253.5 170.4h1M242.3 184.9h1M257.3 153.4h1M188.7 186.0h1M233.8 143.0h1M256.5 190.1h1M265.1 163.8h1M235.4 138.8h1M234.3 145.8h1M216.4 160.3h1M231.4 192.3h1M213.2 162.8h1M267.4 176.6h1M209.4 196.4h1M248.7 181.9h1M253.7 170.5h1M218.0 159.0h1M209.0 159.0h1M232.8 217.8h1M218.3 158.3h1M219.0 214.0h1M195.0 179.7h1M237.7 144.1h1M213.4 158.7h1M262.4 177.7h1M221.4 215.4h1M227.6 199.2h1M231.1 208.7h1M226.8 147.8h1M238.9 145.4h1M200.6 169.5h1M238.5 145.4h1M271.4 197.9h1M201.0 177.6h1M257.0 153.9h1M219.0 156.8h1M223.3 192.6h1M202.4 195.3h1M256.0 163.8h1M259.8 184.0h1M253.7 171.2h1M263.7 185.2h1M210.9 158.3h1M231.2 237.0h1M212.6 163.8h1M258.2 183.6h1M223.4 153.2h1M240.9 186.3h1M213.0 193.0h1M198.3 158.2h1M220.2 225.9h1M212.6 186.9h1M220.3 141.7h1M258.3 164.1h1M254.5 147.6h1M211.4 153.7h1M252.5 171.6h1M262.0 178.2h1M252.8 183.2h1M192.2 155.6h1M204.9 180.5h1M258.1 157.7h1M257.6 178.9h1M255.2 168.0h1M259.1 172.8h1M265.3 178.2h1M222.5 146.1h1M245.8 143.0h1M219.7 214.6h1M228.1 148.3h1M228.6 198.7h1M237.9 145.2h1M252.7 173.9h1M211.2 170.3h1M214.9 194.2h1M211.6 152.5h1M226.0 150.0h1M278.7 214.1h1M253.9 143.9h1M198.9 180.5h1M198.9 233.3h1M216.7 194.4h1M197.7 198.4h1M255.8 149.9h1M222.1 193.0h1M198.2 202.7h1M257.9 155.2h1M225.8 207.6h1M256.6 189.0h1M259.3 152.6h1M184.7 191.6h1M220.5 154.5h1M221.6 146.7h1M222.5 195.0h1M195.1 175.2h1M255.6 150.2h1M251.8 202.0h1M192.1 176.7h1M211.8 170.3h1M186.5 179.3h1M247.0 184.3h1M257.6 157.1h1M263.5 193.7h1M262.9 172.1h1M259.6 171.4h1M245.5 192.2h1M235.0 146.4h1M260.1 156.0h1M219.4 158.3h1M245.0 181.3h1M261.5 150.2h1M261.9 161.4h1M210.9 164.3h1M198.6 191.2h1M226.2 203.5h1M226.2 150.7h1M232.8 215.2h1M209.2 193.5h1M258.4 153.3h1M265.0 181.1h1M255.1 147.1h1M224.4 199.3h1M249.7 144.7h1M249.0 176.5h1M215.2 151.9h1M260.3 224.1h1M261.1 152.4h1M214.6 154.7h1M209.8 160.4h1M240.9 198.1h1M226.1 197.4h1M206.7 179.4h1M216.1 161.6h1M207.8 184.0h1M230.9 144.6h1M212.8 167.3h1M252.1 253.1h1M246.2 195.7h1M228.2 201.9h1M209.4 180.2h1M192.0 157.6h1M248.5 178.1h1M243.6 202.3h1M221.7 151.9h1M257.0 163.8h1M208.7 177.4h1M236.6 138.4h1M241.4 139.0h1M196.8 185.5h1M212.2 158.1h1M222.6 193.9h1M256.0 145.7h1M246.9 144.1h1M258.0 156.5h1M258.2 155.8h1M257.4 143.1h1M257.6 154.3h1M248.7 180.7h1M214.2 198.1h1M246.9 181.2h1M208.3 177.2h1M258.6 156.5h1M256.9 169.2h1M258.2 146.9h1M258.2 143.1h1M250.3 190.6h1M240.3 190.7h1M219.8 157.9h1M253.8 174.5h1M209.3 181.4h1M259.2 152.7h1M206.6 161.9h1M258.4 165.5h1M228.6 194.7h1M213.2 159.8h1M256.5 190.1h1M206.4 188.0h1M243.2 142.0h1M229.8 197.6h1M256.6 165.4h1M260.0 150.2h1M244.5 139.0h1M268.7 175.2h1M208.3 161.6h1M256.5 137.9h1M251.7 186.8h1M260.1 199.0h1M214.1 160.3h1M203.5 161.9h1M239.7 145.1h1M218.1 211.0h1M252.3 200.6h1M245.5 142.3h1M232.7 201.7h1M225.9 148.6h1M230.5 204.3h1M255.4 171.5h1M252.5 193.9h1M255.7 149.1h1M253.0 174.7h1M212.5 168.8h1M227.9 148.0h1M249.0 144.2h1M228.9 148.8h1M221.7 208.0h1M215.5 152.1h1M243.2 138.3h1M255.5 170.0h1M200.1 190.4h1M229.2 192.9h1M241.8 212.4h1M215.6 162.1h1M261.4 145.8h1M221.6 200.1h1M261.0 218.4h1M164.2 195.0h1M250.8 177.6h1M256.5 165.4h1M204.5 159.6h1M221.7 154.8h1M244.9 138.2h1M252.5 140.6h1M204.3 171.3h1M256.8 187.9h1M254.7 144.3h1M202.8 184.7h1M231.7 146.8h1M258.7 153.9h1M256.0 146.4h1M243.8 144.8h1M204.3 165.5h1M219.3 156.6h1M221.4 214.8h1M259.9 163.0h1M239.5 189.6h1M223.2 153.6h1M234.1 146.0h1M192.4 179.0h1M232.3 146.4h1M215.7 156.7h1M248.3 178.9h1M219.1 206.2h1M244.0 206.6h1M258.4 150.5h1M254.8 146.5h1M246.6 187.2h1M237.3 144.6h1M212.1 200.3h1M232.0 146.7h1M222.4 192.7h1M231.2 147.1h1M233.9 198.0h1M219.1 155.1h1M216.3 156.9h1M218.1 153.5h1M241.2 145.2h1M239.8 223.4h1M264.1 174.1h1M229.9 144.7h1M230.9 198.2h1M213.7 160.5h1M200.9 186.7h1M239.4 143.1h1M215.8 160.4h1M258.7 186.9h1M216.7 201.6h1M196.5 174.1h1M257.4 150.3h1M233.1 202.3h1M207.0 181.7h1M248.5 143.3h1M208.5 180.5h1M246.0 143.6h1M263.5 173.5h1M221.1 206.0h1M258.3 151.2h1M209.8 181.8h1M248.5 179.1h1M230.5 192.5h1M241.7 144.1h1M256.7 169.5h1M225.3 149.9h1M204.0 173.4h1M226.4 151.1h1M223.9 193.1h1M246.2 187.5h1M216.8 158.2h1M224.0 151.1h1M247.5 143.3h1M192.8 166.9h1M246.5 225.0h1M255.5 202.3h1M254.1 199.4h1M219.2 147.5h1M226.3 197.1h1M249.7 194.7h1M188.2 203.4h1M245.4 185.8h1M245.1 187.5h1M247.1 137.9h1M254.6 171.4h1M200.3 162.1h1M219.4 197.9h1M220.0 156.8h1M241.1 188.3h1M215.2 162.2h1M244.6 186.1h1M246.2 195.9h1M232.7 194.3h1M186.7 206.1h1M203.4 171.4h1M254.5 201.0h1M256.4 150.1h1M197.8 176.1h1M246.3 144.1h1M231.8 146.1h1M257.2 170.3h1M222.4 155.6h1M224.0 145.9h1M246.1 139.8h1M256.5 138.0h1M241.9 195.2h1M226.6 138.3h1M234.3 143.7h1M263.1 178.2h1M197.8 173.8h1M242.4 203.7h1M262.6 157.7h1M179.7 166.5h1M228.2 198.7h1M255.6 146.2h1M273.0 210.6h1M221.2 155.0h1M218.0 158.8h1M195.6 197.4h1M258.3 152.6h1M258.3 142.4h1M204.9 194.1h1M208.4 173.0h1M225.5 150.3h1M202.3 211.8h1M211.7 203.0h1M228.3 144.4h1M240.5 204.3h1M216.3 196.9h1M254.3 174.1h1M223.0 154.0h1M241.5 141.2h1M221.0 146.3h1M211.2 161.7h1M224.4 140.6h1M213.7 198.6h1M223.2 154.9h1M253.2 174.0h1M233.8 146.6h1M242.0 144.9h1M259.8 211.7h1M237.5 197.9h1M213.5 163.2h1M208.2 158.5h1M208.6 183.4h1M246.3 195.4h1M257.9 181.4h1M229.8 142.2h1M218.9 154.3h1M278.4 213.8h1M205.8 192.1h1M223.4 151.3h1M211.0 169.7h1M246.8 179.7h1M187.5 190.7h1M238.9 140.3h1M212.7 167.7h1M208.6 181.3h1M239.5 140.3h1M251.9 183.6h1M247.5 180.9h1M259.2 186.2h1M255.1 167.7h1M229.9 143.1h1M208.1 192.9h1M252.8 173.6h1M256.4 176.7h1M254.7 174.6h1M233.7 145.8h1M274.0 191.2h1M247.5 188.7h1M260.3 158.8h1M248.9 176.2h1M255.6 138.0h1M217.5 154.5h1M257.2 152.3h1M215.3 164.2h1M213.1 213.8h1M229.1 147.5h1M213.3 166.5h1M194.2 198.2h1M175.7 195.8h1M250.5 144.1h1M246.6 179.2h1M188.6 175.6h1M263.1 162.0h1M259.8 158.3h1M206.7 169.2h1M259.3 176.2h1M221.5 196.2h1M256.7 151.1h1M243.9 182.3h1M231.7 144.5h1M226.9 137.5h1M240.6 187.0h1M210.6 186.6h1M277.1 232.6h1M217.9 160.1h1M264.5 158.1h1M205.0 189.9h1M215.6 157.7h1M235.1 212.9h1M234.9 146.1h1M221.5 153.1h1M266.7 170.1h1M261.9 166.2h1M229.6 144.0h1M211.0 204.4h1M229.2 143.8h1M257.8 157.7h1M249.4 183.5h1M206.3 176.9h1M260.4 146.8h1M208.3 193.5h1M209.3 160.5h1M231.4 147.0h1M252.5 179.9h1M221.3 197.8h1M262.4 189.1h1M205.6 176.8h1M206.1 183.8h1M211.0 163.4h1M227.8 139.1h1M234.5 146.0h1M247.5 179.1h1M233.1 141.0h1M253.9 171.1h1M195.4 194.2h1M250.0 184.1h1M259.1 160.8h1M255.5 147.2h1M253.9 143.2h1M216.5 158.8h1M239.4 136.6h1M247.8 143.6h1M256.8 152.5h1M213.1 187.6h1M225.8 147.0h1M244.7 144.7h1M210.4 185.1h1M225.7 204.8h1M196.1 190.4h1M190.6 205.0h1M245.1 144.7h1M216.6 190.5h1M232.5 196.7h1M223.6 153.4h1M210.8 171.0h1M244.2 142.5h1M212.5 158.1h1M243.9 206.7h1M234.3 192.3h1M218.5 158.9h1M254.6 167.8h1M246.8 190.0h1M239.8 145.7h1M258.6 157.7h1M260.9 166.4h1M210.7 173.0h1M211.5 161.3h1M232.2 205.6h1M233.9 200.5h1M233.2 193.5h1M234.9 144.7h1M223.4 148.6h1M245.1 144.6h1M219.1 192.6h1M219.3 199.5h1M239.4 144.8h1M244.3 142.2h1M209.2 179.6h1M208.2 184.0h1M249.6 181.5h1M195.4 229.5h1M216.8 160.0h1M265.2 151.0h1M249.7 179.1h1M253.0 178.2h1M249.2 185.9h1M194.7 179.1h1M250.7 204.2h1M187.0 136.5h1M226.5 201.7h1M210.1 167.1h1M239.0 220.6h1M256.6 167.9h1M248.5 137.3h1M248.4 139.8h1M247.1 192.1h1M211.1 194.5h1M215.9 159.1h1M211.0 185.0h1M209.8 161.0h1M254.5 176.6h1M224.6 195.1h1M219.1 202.5h1M228.9 195.2h1M244.4 195.8h1M208.6 164.9h1M254.5 184.7h1M204.8 175.3h1M256.2 146.5h1M225.8 212.9h1M257.7 166.1h1M261.5 164.2h1M261.4 198.1h1M229.8 231.8h1M238.4 142.3h1M217.2 149.1h1M225.6 150.3h1M253.0 144.5h1M198.0 154.4h1M225.7 143.6h1M249.7 143.6h1M262.5 156.1h1M230.9 194.7h1M214.3 162.9h1M258.7 157.6h1M253.3 170.0h1M211.3 167.8h1M230.7 142.2h1M216.7 157.7h1M261.0 169.8h1M215.3 157.3h1M200.5 189.3h1M264.6 161.8h1M257.0 151.3h1M263.4 154.4h1M231.7 197.0h1M212.3 165.1h1M238.8 210.5h1M259.7 171.9h1M267.2 170.4h1M211.8 160.8h1M220.3 155.0h1M257.1 145.3h1M205.3 169.0h1M209.2 173.0h1M254.8 148.4h1M221.5 193.7h1M243.2 187.8h1M245.0 181.7h1M228.7 196.1h1M218.7 154.8h1M259.7 156.0h1M210.9 153.7h1M250.5 200.2h1M257.7 163.7h1M232.3 146.3h1M217.6 194.3h1M230.4 196.8h1M248.3 142.6h1M222.6 194.5h1M224.1 153.0h1M257.9 152.6h1M207.3 170.7h1M199.2 185.1h1M212.2 163.1h1M218.6 202.7h1M258.7 149.0h1M203.3 195.3h1M209.5 184.1h1M235.1 201.5h1M246.3 179.6h1M223.0 141.6h1M219.8 154.4h1M215.1 163.7h1M214.8 159.3h1M226.6 149.2h1M243.7 197.3h1M247.5 140.6h1M240.1 144.7h1M231.0 147.4h1M266.0 192.9h1M248.5 178.1h1M216.2 155.1h1M237.0 144.8h1M207.7 179.7h1M203.4 157.0h1M245.4 144.4h1M231.0 207.8h1M251.7 145.0h1M252.3 145.9h1M249.3 194.3h1M230.1 147.5h1M224.5 144.2h1M222.8 150.0h1M223.1 206.2h1M238.0 196.2h1M206.9 210.9h1M256.1 143.8h1M216.2 150.2h1M266.3 184.6h1M271.8 177.4h1M242.7 136.0h1M253.2 144.7h1M235.4 191.4h1M252.5 185.3h1M258.3 145.7h1M221.2 154.8h1M208.6 159.9h1M208.2 182.4h1M260.1 193.9h1M268.4 208.2h1M239.7 197.6h1M228.0 145.9h1M231.4 201.5h1M242.5 200.2h1M252.7 175.9h1M230.5 143.1h1M222.9 154.3h1M242.8 192.6h1M256.3 146.0h1M200.3 165.5h1M255.5 165.8h1M241.8 204.9h1M258.9 162.6h1M241.7 207.0h1M239.5 144.0h1M252.2 145.2h1M237.9 145.6h1M257.0 153.5h1M232.2 146.9h1M215.2 162.9h1M227.2 150.0h1M235.3 143.5h1M242.8 186.3h1M245.2 195.7h1M257.2 147.2h1M213.2 165.6h1M248.0 186.3h1M258.5 153.1h1M267.8 187.4h1M236.6 145.8h1M155.3 189.9h1M249.3 192.4h1M238.0 143.3h1M195.1 183.8h1M206.0 167.9h1M256.4 168.8h1M244.3 144.5h1M225.3 151.7h1M222.4 144.2h1M227.4 196.2h1M258.8 163.7h1M231.9 197.8h1M249.9 176.7h1M223.0 153.5h1M210.3 189.4h1M238.3 196.3h1M207.3 174.6h1M233.8 141.9h1M217.3 156.8h1M268.9 183.9h1M240.7 187.7h1M241.4 141.4h1M221.0 157.0h1M228.9 204.3h1M249.5 179.5h1M261.4 165.1h1M243.6 186.6h1M212.6 163.0h1M255.8 164.2h1M196.3 174.6h1M212.6 162.6h1M219.0 196.4h1M262.2 157.9h1M221.3 153.3h1M257.5 162.5h1M262.4 173.1h1M253.3 143.7h1M221.2 150.3h1M253.7 177.0h1M222.6 203.5h1M241.6 143.0h1M250.3 179.0h1M250.8 144.5h1M241.7 185.0h1M206.1 214.2h1M211.3 172.0h1M254.0 170.3h1M222.4 194.5h1M200.5 187.7h1M217.2 149.4h1M228.1 146.7h1M265.0 157.6h1M256.8 151.5h1M236.2 139.7h1M246.6 197.5h1M206.4 170.1h1M203.8 190.8h1M243.1 141.3h1M256.2 164.7h1M261.6 156.8h1M243.0 183.4h1M202.9 191.3h1M210.2 191.2h1M257.9 158.6h1M259.8 155.3h1M245.7 135.9h1M234.3 146.0h1M261.5 155.1h1M267.4 193.3h1M204.6 165.0h1M220.2 156.2h1M200.5 159.8h1M244.0 195.2h1M250.8 183.0h1M210.2 161.5h1M256.8 189.9h1M260.7 145.1h1M265.4 193.1h1M257.0 162.2h1M208.0 191.4h1M225.5 197.5h1M246.0 184.0h1M192.9 172.2h1M205.9 187.7h1M261.0 193.0h1M214.6 144.1h1M252.5 194.3h1M248.9 182.8h1M202.3 197.3h1M226.2 146.7h1M204.9 191.4h1M222.7 155.1h1M254.0 144.8h1M223.9 144.9h1M238.1 197.7h1M250.3 144.8h1M245.1 191.1h1M256.9 147.7h1M196.3 147.6h1M222.2 155.5h1M251.4 138.6h1M215.5 196.3h1M208.0 175.1h1M210.2 184.1h1M258.7 174.7h1M238.2 143.5h1M259.4 151.4h1M190.0 175.0h1M230.4 195.6h1M154.9 179.1h1M238.1 145.5h1M210.4 189.6h1M238.5 190.0h1M224.1 150.9h1M202.7 171.1h1M208.1 169.6h1M258.3 164.6h1M225.0 143.7h1M226.7 148.5h1M221.6 150.8h1M257.1 172.8h1M256.2 206.7h1M208.5 203.8h1M272.3 174.1h1M206.4 193.3h1M228.6 148.6h1M217.1 156.3h1M262.9 165.3h1M231.7 134.7h1M210.5 185.1h1M222.0 153.8h1M251.1 145.1h1M251.3 172.6h1M256.6 142.5h1M231.2 146.6h1M211.3 169.3h1M214.5 208.6h1M230.5 146.0h1M248.6 189.9h1M241.5 189.5h1M259.3 160.2h1M207.2 174.5h1M233.7 206.5h1M259.2 159.6h1M256.3 168.7h1M219.9 150.9h1M260.3 173.9h1M261.4 158.7h1M258.5 146.2h1M246.3 198.9h1M240.2 144.7h1M261.2 153.6h1M214.9 160.1h1M221.7 153.2h1M257.1 170.4h1M181.7 177.4h1M215.8 190.7h1M218.4 194.5h1M258.6 148.8h1M267.9 177.6h1M257.7 151.2h1M233.9 145.7h1M238.3 145.4h1M258.6 163.7h1M214.2 153.6h1M248.8 197.0h1M250.2 144.2h1M214.7 189.3h1M230.8 146.6h1M248.7 181.9h1M234.0 193.1h1M216.8 156.2h1M200.1 157.8h1M252.9 176.8h1M217.2 155.2h1M236.6 145.6h1M235.3 191.2h1M211.7 162.8h1M205.6 159.1h1M225.3 152.4h1M260.2 167.0h1M242.4 184.2h1M237.0 145.6h1M234.4 144.4h1M235.3 143.3h1M220.2 203.9h1M233.3 208.8h1M207.4 161.8h1M263.5 194.7h1M252.0 175.1h1M236.2 132.5h1M208.6 157.1h1M227.0 145.1h1M217.8 153.3h1M258.0 150.6h1M187.9 196.1h1M246.9 179.8h1M230.9 202.6h1M243.9 202.5h1M216.0 161.1h1M257.0 155.0h1M246.0 179.9h1M234.4 144.3h1M211.9 169.3h1M210.1 180.0h1M255.2 148.4h1M237.6 207.5h1M246.8 194.2h1M265.9 157.7h1M228.6 148.7h1M242.7 142.6h1M228.5 135.3h1M256.4 165.2h1M208.8 178.3h1M251.5 182.7h1M239.1 191.2h1M208.3 188.0h1M228.8 146.8h1M258.5 155.3h1M234.2 207.9h1M229.5 194.6h1M216.3 158.6h1M262.2 172.4h1M227.1 146.9h1M186.4 210.4h1M212.6 154.4h1M221.8 153.5h1M247.1 189.4h1M241.0 144.8h1M244.4 138.3h1M235.3 146.2h1M253.8 174.2h1M258.6 164.7h1M222.5 153.1h1M238.6 144.2h1M245.8 143.1h1M254.6 147.9h1M252.4 171.1h1M256.4 199.0h1M257.6 196.5h1M196.4 188.2h1M260.8 165.1h1M252.0 143.5h1M243.9 191.7h1M203.0 162.1h1M254.7 169.7h1M217.5 157.6h1M210.7 171.9h1M251.5 175.9h1M210.0 171.1h1M261.1 144.4h1M256.7 179.2h1M240.7 145.4h1M205.9 168.4h1M241.5 135.1h1M235.4 192.2h1M204.7 168.6h1M254.2 174.1h1M228.4 208.8h1M211.7 160.4h1M256.5 148.0h1M244.7 195.2h1M255.8 175.7h1M225.3 199.8h1M219.6 147.9h1M209.6 184.0h1M214.0 189.8h1M210.0 159.1h1M239.6 188.6h1M200.9 177.5h1M254.2 203.1h1M260.0 161.4h1M253.4 146.6h1M244.1 185.0h1M244.7 144.6h1M218.6 202.6h1M249.2 176.9h1M213.8 158.2h1M202.3 159.5h1M202.9 172.6h1M207.5 165.4h1M196.4 248.8h1M256.4 162.1h1M209.0 174.1h1M231.1 197.1h1M194.9 158.7h1M202.5 183.1h1M242.0 210.5h1M221.8 154.3h1M236.8 145.6h1M251.2 172.9h1M223.6 201.2h1M249.9 144.3h1M247.2 144.1h1M196.9 148.9h1M259.4 144.4h1M261.4 165.6h1M205.1 207.4h1M236.4 192.9h1M234.6 207.0h1M251.3 145.1h1M244.4 196.9h1M240.4 144.0h1M219.3 150.8h1M207.3 194.4h1M253.7 174.3h1M207.4 180.4h1M241.4 191.5h1M251.3 142.5h1M219.9 200.1h1M252.8 177.8h1M204.7 178.8h1M260.1 178.6h1M260.3 152.9h1M249.6 142.2h1M254.2 199.4h1M263.0 147.2h1M205.2 190.1h1M202.6 187.6h1M233.7 146.5h1M218.4 153.5h1M264.7 159.1h1M246.6 188.0h1M249.1 178.8h1M266.3 165.3h1M206.9 148.5h1M212.1 189.3h1M207.9 193.8h1M215.6 204.7h1M221.4 210.2h1M209.1 160.7h1M261.0 150.2h1M237.5 197.6h1M215.2 163.8h1M205.3 183.3h1M215.9 153.2h1M205.2 177.9h1M257.6 170.9h1M271.6 205.7h1M215.8 155.5h1M192.7 142.1h1M211.2 192.4h1M210.9 161.0h1M255.9 148.4h1M203.1 184.2h1M246.0 144.3h1M231.8 140.4h1M194.7 197.0h1M226.3 203.6h1M219.4 157.1h1M197.0 184.6h1M256.9 180.3h1M262.4 149.1h1M258.1 161.4h1M197.6 172.4h1M208.5 176.8h1M204.9 202.1h1M209.0 178.9h1M246.4 182.7h1M200.4 173.0h1M251.4 137.5h1M253.9 183.4h1M254.1 173.6h1M235.1 143.1h1M241.5 145.2h1M221.6 202.1h1M224.7 210.1h1M235.7 196.9h1M209.1 183.8h1M256.8 163.7h1M220.6 155.8h1M234.6 194.4h1M244.9 202.2h1M219.4 211.3h1M247.7 144.5h1M216.6 160.2h1M226.1 149.6h1M226.4 194.9h1M213.0 192.4h1M260.1 202.3h1M233.6 205.1h1M238.7 145.6h1M247.6 219.5h1M256.3 165.7h1M254.2 147.5h1M212.5 156.3h1M238.4 143.6h1M255.3 166.1h1M234.9 145.1h1M227.1 143.5h1M252.4 175.8h1M203.9 170.7h1M267.6 194.5h1M233.9 202.8h1M269.4 187.1h1M260.9 173.9h1M267.3 206.9h1M245.5 195.2h1M235.6 143.5h1M243.1 132.9h1M258.8 162.2h1M251.2 189.7h1M265.3 185.7h1M218.1 214.1h1M226.7 150.1h1M259.2 157.5h1M228.8 143.0h1M218.7 211.4h1M230.1 146.6h1M264.4 169.2h1M258.8 151.6h1M244.3 143.9h1M232.7 144.2h1M253.2 171.5h1M257.9 163.4h1M246.1 141.4h1M192.5 207.4h1M228.1 212.8h1M212.6 168.6h1M257.3 184.5h1M255.5 182.2h1M206.8 193.6h1M219.4 157.1h1M220.0 144.4h1M245.8 141.7h1M245.0 140.1h1M200.1 182.5h1M239.7 145.2h1M220.6 202.5h1M256.3 138.5h1M261.6 165.5h1M211.0 168.2h1M259.4 151.4h1M259.9 199.9h1M248.4 139.2h1M234.9 144.1h1M173.1 200.1h1M258.2 159.0h1M277.3 224.0h1M202.9 175.1h1M211.4 207.9h1M230.8 192.8h1M167.2 178.9h1M203.4 190.7h1M212.4 186.7h1M248.7 143.8h1M247.1 142.9h1M212.5 164.5h1M259.4 147.2h1M263.4 167.4h1M218.4 158.2h1M257.2 164.9h1M208.7 184.0h1M236.5 139.5h1M194.2 156.5h1M257.3 156.7h1M255.4 171.0h1M244.7 140.7h1M221.5 151.6h1M222.7 149.9h1M259.8 170.6h1M233.7 145.1h1M246.4 198.5h1M240.1 144.5h1M240.2 190.6h1M217.2 157.2h1M219.5 150.4h1M240.0 143.4h1M229.8 200.3h1M269.8 160.0h1M255.9 163.5h1M233.1 200.5h1M213.6 198.7h1M263.3 185.8h1M236.2 191.7h1M186.7 177.4h1M256.7 161.5h1M276.0 209.1h1M258.7 155.8h1M255.0 175.8h1M235.0 197.5h1M218.5 158.5h1M228.0 198.8h1M251.6 184.3h1M209.0 160.9h1M214.2 193.5h1M267.3 206.4h1M224.5 151.1h1M236.7 192.1h1M233.0 143.0h1M258.3 151.2h1M250.6 144.2h1M258.3 155.9h1M246.2 142.7h1M253.7 147.0h1M200.9 191.7h1M238.0 140.1h1M256.0 150.5h1M256.7 149.0h1M234.9 142.9h1M252.0 144.6h1M218.1 159.1h1M233.4 146.3h1M197.2 220.3h1M236.4 194.2h1M194.4 195.6h1M198.9 172.7h1M232.4 145.5h1M266.6 180.9h1M259.5 188.0h1M213.5 156.8h1M254.6 169.4h1M232.0 140.5h1M263.4 199.1h1M258.2 157.2h1M214.0 163.2h1M222.6 149.7h1M253.3 187.4h1M206.6 181.8h1M263.9 165.9h1M201.4 164.1h1M225.6 147.0h1M204.1 181.2h1M206.9 169.5h1M202.5 169.8h1M227.3 136.0h1M258.7 185.8h1M252.2 173.9h1M200.7 172.1h1M227.1 144.9h1M250.0 189.6h1M248.6 190.8h1M248.3 185.4h1M238.8 140.3h1M212.0 197.7h1M189.0 187.9h1M242.0 143.3h1M257.9 161.9h1M251.0 195.8h1M234.4 191.2h1M167.6 171.2h1M261.7 191.1h1M234.1 131.9h1M211.6 203.6h1M231.4 146.1h1M258.6 165.9h1M217.6 160.9h1M203.3 153.3h1M236.4 145.0h1M255.1 167.2h1M216.1 162.4h1M223.9 154.0h1M256.2 169.4h1M249.9 181.1h1M250.4 195.1h1M208.4 146.7h1M221.3 154.8h1M243.3 185.0h1M245.6 183.1h1M245.5 195.3h1M222.2 151.4h1M203.1 189.1h1M229.1 196.6h1M209.9 174.4h1M210.5 195.1h1M246.5 186.4h1M258.1 161.8h1M251.6 144.4h1M252.3 182.5h1M255.1 147.0h1M258.7 162.5h1M209.9 177.1h1M252.5 141.2h1M210.7 211.5h1M262.8 154.1h1M251.0 144.2h1M226.2 148.3h1M240.2 145.6h1M218.1 195.1h1M231.8 193.5h1M213.4 163.1h1M254.3 146.6h1M203.8 185.6h1M275.7 196.0h1M226.6 151.1h1M234.3 204.0h1M236.1 198.9h1M236.1 195.0h1M239.2 144.9h1M254.8 171.7h1M237.9 144.9h1M258.7 156.9h1M231.8 146.9h1M245.3 144.2h1M269.8 191.6h1M216.3 194.5h1M211.5 170.3h1M237.9 191.9h1M239.9 143.7h1M237.4 145.4h1M249.0 139.0h1M200.0 174.0h1M247.9 181.2h1M252.4 145.4h1M258.1 173.9h1M197.2 189.6h1M253.3 188.4h1M231.5 198.8h1M208.3 181.9h1M214.9 159.4h1M256.4 173.2h1M231.2 145.8h1M245.3 144.1h1M235.8 138.4h1M224.3 223.7h1M217.1 159.3h1M248.2 180.1h1M229.2 206.2h1M257.1 154.8h1M206.1 192.3h1M230.4 147.0h1M228.0 148.8h1M256.0 179.0h1M226.8 135.4h1M226.9 150.7h1M256.4 166.9h1M227.2 215.1h1M216.4 155.7h1M259.6 169.4h1M206.2 184.1h1M240.5 144.6h1M219.3 192.5h1M231.1 140.1h1M230.9 197.2h1M247.5 137.6h1M256.8 194.9h1M227.5 147.6h1M219.2 159.0h1M218.3 155.6h1M210.1 170.9h1M200.5 170.4h1M256.5 171.0h1M241.6 216.0h1M231.5 145.8h1M215.7 192.9h1M220.3 193.5h1M253.4 176.3h1M259.7 154.1h1M218.2 195.1h1M236.4 140.9h1M243.1 144.1h1M255.2 141.1h1M212.1 220.3h1M235.5 206.0h1M249.2 142.8h1M250.5 187.0h1M241.2 143.0h1M213.5 159.4h1M245.6 215.1h1M220.3 154.0h1M201.9 158.6h1M207.0 181.1h1M210.9 189.3h1M215.4 190.6h1M222.9 154.3h1M208.8 183.9h1M220.9 156.3h1M200.1 172.8h1M233.8 144.7h1M219.7 192.1h1M209.2 175.3h1M226.4 193.4h1M231.9 145.2h1M193.7 160.5h1M209.6 203.8h1M257.2 146.2h1M216.9 191.2h1M233.6 199.9h1M261.7 155.0h1M224.0 151.8h1M255.0 177.6h1M270.3 210.3h1M260.4 154.4h1M211.4 194.9h1M257.3 164.5h1M254.8 167.2h1M222.4 208.2h1M238.7 140.4h1M211.4 171.2h1M215.7 153.2h1M243.2 185.5h1M248.8 176.3h1M256.5 178.3h1M186.3 154.6h1M257.6 156.9h1M189.3 215.8h1M255.7 149.5h1M264.9 186.9h1M220.0 142.6h1M259.0 199.3h1M205.8 183.9h1M215.2 139.8h1M229.0 145.8h1M207.7 181.2h1M254.1 181.0h1M216.2 197.4h1M238.4 140.7h1M260.5 151.6h1M245.6 142.6h1M252.1 193.3h1M258.4 154.0h1M207.5 141.8h1M204.3 176.8h1M259.0 171.9h1M233.0 146.2h1M258.8 141.6h1M256.2 186.3h1M258.6 161.9h1M209.7 184.5h1M251.5 180.1h1M245.1 136.8h1M227.0 209.2h1M249.2 142.6h1M219.1 199.8h1M250.9 177.6h1M209.7 176.6h1M255.9 135.7h1M271.3 154.2h1M255.2 142.2h1M216.0 149.4h1M257.0 150.5h1M202.5 221.7h1M257.9 152.7h1M253.6 171.2h1M209.3 155.0h1M259.1 159.3h1M202.1 183.6h1M255.2 188.5h1M257.0 166.7h1M215.5 162.3h1M220.3 226.5h1M218.3 151.8h1M212.0 195.5h1M230.3 208.7h1M217.3 208.1h1M274.4 163.8h1M221.9 205.3h1M206.4 165.5h1M208.6 175.5h1M206.5 183.5h1M258.0 162.5h1M209.4 170.9h1M203.9 184.0h1M222.8 154.5h1M244.8 192.6h1M226.5 216.9h1M256.3 162.7h1M269.4 204.6h1M220.6 154.4h1M224.6 152.0h1M229.2 197.5h1M211.0 167.5h1M189.7 181.0h1M221.0 212.7h1M257.6 160.4h1M248.5 144.4h1M213.3 162.0h1M233.2 145.9h1M256.6 153.0h1M248.2 182.9h1M205.6 186.6h1M206.5 164.6h1M217.8 190.9h1M253.2 139.9h1M249.6 140.7h1M260.5 185.0h1M244.6 184.1h1M231.7 140.3h1M259.5 223.4h1M225.5 152.3h1M229.2 148.0h1M261.5 157.4h1M209.1 171.9h1M249.9 177.1h1M252.1 145.2h1M249.4 186.0h1M249.6 138.7h1M200.7 161.7h1M257.6 161.3h1M259.1 167.2h1M212.1 166.5h1M211.0 162.2h1M246.1 187.2h1M249.2 143.2h1M252.4 183.8h1M227.0 148.2h1M261.0 170.4h1M236.7 145.7h1M211.0 183.5h1M212.9 154.6h1M262.6 152.6h1M218.1 158.5h1M206.9 181.9h1M255.0 167.5h1M230.8 146.4h1M213.6 141.9h1M194.3 185.2h1M256.4 183.4h1M248.3 185.4h1M250.0 176.8h1M215.4 196.8h1M254.7 173.8h1M255.6 168.4h1M259.4 169.5h1M257.3 146.0h1M228.3 149.5h1M241.0 142.5h1M221.9 148.8h1M256.9 161.4h1M209.2 171.5h1M243.6 196.1h1M213.5 161.7h1M259.5 189.5h1M209.3 173.8h1M236.9 145.1h1M203.7 152.6h1M253.5 141.7h1M208.6 183.6h1M210.0 167.5h1M217.6 152.8h1M202.1 179.7h1M266.2 142.4h1M230.0 145.7h1M237.6 135.7h1M225.1 197.3h1M256.3 151.9h1M258.2 162.1h1M220.2 157.1h1M265.0 173.7h1M227.7 193.0h1M252.2 178.3h1M259.5 155.6h1M226.0 142.9h1M247.6 135.3h1M229.0 148.3h1M245.1 143.4h1M259.0 151.6h1M238.8 205.2h1M225.0 152.0h1M210.5 160.8h1M256.1 149.8h1M237.0 189.9h1M259.6 157.4h1M220.9 152.7h1M242.7 135.5h1M254.5 147.1h1M250.6 205.7h1M225.4 150.9h1M252.3 174.4h1M257.9 165.3h1M189.0 199.0h1M210.2 150.2h1M219.2 158.6h1M234.4 191.8h1M216.5 162.3h1M266.5 190.9h1M248.6 180.2h1M248.5 130.7h1M207.7 173.3h1M255.1 167.5h1M241.3 192.5h1M256.2 151.0h1M245.1 139.4h1M261.9 166.9h1M228.7 140.2h1M256.9 163.8h1M221.5 207.8h1M226.0 150.3h1M246.3 137.7h1M252.3 172.8h1M256.0 177.8h1M227.4 193.7h1M221.3 156.1h1M238.8 142.9h1M228.2 148.8h1M245.8 194.8h1M267.7 165.1h1M252.0 201.2h1M254.4 180.3h1M200.3 195.6h1M209.1 184.6h1M239.0 189.8h1M261.5 166.2h1M233.2 194.1h1M200.6 178.0h1M256.0 170.8h1M204.5 198.0h1M264.0 178.8h1M216.0 196.3h1M216.7 160.7h1M205.6 178.8h1M247.6 142.0h1M186.9 179.2h1M228.5 148.4h1M221.6 204.2h1M251.2 183.9h1M230.6 138.4h1M261.4 166.9h1M214.5 211.2h1M200.3 165.7h1M260.9 169.6h1M247.9 182.0h1M220.6 155.7h1M223.3 148.3h1M256.2 183.8h1M264.7 158.1h1M189.0 183.7h1M244.4 143.4h1M260.7 157.9h1M197.4 174.2h1M256.2 149.0h1M263.6 201.9h1M211.9 163.7h1M261.0 161.2h1M250.9 187.8h1M219.4 216.9h1M249.9 144.3h1M244.1 140.2h1M205.6 177.5h1M225.5 144.9h1M257.0 161.3h1M208.7 179.5h1M200.7 150.6h1M210.3 173.6h1M237.2 132.2h1M218.6 158.5h1M248.0 202.4h1M221.0 154.1h1M246.4 186.8h1M206.1 175.6h1M216.2 201.5h1M250.6 199.5h1M241.4 144.7h1M250.5 143.2h1M224.7 195.2h1M214.4 197.0h1M256.3 151.0h1M244.1 182.9h1M252.4 171.5h1M249.5 185.1h1M258.6 170.5h1M216.8 197.1h1M254.2 180.1h1M250.1 190.3h1M209.9 175.6h1M224.9 148.2h1M218.6 151.6h1M206.4 176.4h1M256.1 148.8h1M257.5 161.1h1M262.4 153.4h1M261.6 160.2h1M260.7 188.5h1M224.3 197.1h1M250.4 175.4h1M247.1 188.9h1M233.9 145.9h1M225.3 196.8h1M261.8 148.4h1M220.4 156.9h1M236.1 136.7h1M257.8 147.9h1M257.3 168.2h1M238.8 141.2h1M233.3 145.5h1M223.8 196.8h1M260.1 170.2h1M206.4 185.3h1M214.4 197.5h1M259.8 165.3h1M201.2 201.3h1M222.8 146.7h1M214.3 165.4h1M234.6 145.3h1M257.5 161.6h1M258.4 155.7h1M240.5 191.6h1M265.0 151.4h1M210.6 184.4h1M257.9 155.3h1M201.8 178.7h1M208.1 172.2h1M260.3 156.3h1M251.9 176.6h1M218.8 192.3h1M231.6 144.7h1M210.1 143.8h1M262.9 172.0h1M265.3 143.7h1M201.2 189.0h1M247.2 142.8h1M234.8 142.4h1M252.7 246.8h1M241.4 142.8h1M268.6 187.1h1M203.9 163.2h1M255.3 165.6h1M254.2 171.7h1M259.1 155.2h1M218.7 153.0h1M269.7 175.7h1M257.8 183.4h1M245.1 190.8h1M212.3 150.9h1M202.1 194.1h1M221.0 143.7h1M193.8 187.7h1M223.0 154.3h1M204.4 160.7h1M257.8 185.7h1M251.8 173.1h1M257.0 154.1h1M243.2 183.7h1M217.4 150.9h1M209.8 159.0h1M250.5 143.5h1M214.2 165.0h1M214.3 194.0h1M249.9 143.7h1M246.4 143.3h1M260.2 163.5h1M241.2 141.7h1M247.2 190.9h1M231.1 145.5h1M220.3 191.8h1M221.5 155.3h1M257.9 158.8h1M248.4 143.1h1M215.3 212.1h1M267.9 158.2h1M239.2 145.1h1M228.7 148.7h1M246.1 205.7h1M257.4 167.7h1M252.7 146.2h1M226.0 149.6h1M204.6 174.3h1M233.6 143.6h1M248.6 141.9h1M221.8 152.1h1M236.4 137.6h1M201.5 180.8h1M263.2 190.8h1M246.0 207.5h1M225.3 148.2h1M238.3 141.0h1M252.0 181.4h1M214.6 157.1h1M233.8 144.3h1M260.1 162.1h1M261.1 157.2h1M250.1 143.6h1M256.5 151.4h1M219.5 152.7h1M224.2 194.0h1M228.1 195.6h1M256.6 164.3h1M244.2 143.9h1M207.4 162.4h1M205.7 172.9h1M207.3 183.1h1M210.1 201.3h1M210.4 182.4h1M235.1 136.0h1M256.1 171.9h1M241.8 142.4h1M218.8 142.3h1M206.9 164.7h1M237.5 192.1h1M254.7 185.8h1M211.7 168.5h1M213.3 160.9h1M231.8 209.2h1M245.8 194.7h1M235.6 135.0h1M228.1 197.7h1M218.6 152.8h1M236.9 229.1h1M207.5 165.0h1M258.6 160.1h1M239.0 191.9h1M208.4 151.5h1M232.7 145.7h1M261.7 159.3h1M241.3 228.6h1M258.8 158.3h1M212.0 165.0h1M233.6 144.0h1M247.6 198.2h1M249.4 180.9h1M200.1 178.6h1M209.8 172.3h1M243.3 187.7h1M223.8 198.8h1M214.6 158.1h1M214.3 153.0h1M198.1 195.9h1M240.1 144.9h1M213.8 163.4h1M210.4 168.1h1M210.9 211.5h1M227.9 148.9h1M233.4 145.4h1M207.8 178.5h1M250.7 177.8h1M200.5 200.2h1M240.6 142.8h1M207.6 182.1h1M258.8 149.4h1M235.6 192.1h1M264.7 153.8h1M257.9 152.7h1M259.1 201.6h1M250.4 181.9h1M241.5 220.0h1M230.0 148.0h1M260.6 157.9h1M263.9 162.2h1M257.2 150.3h1M258.0 153.9h1M257.6 156.8h1M250.7 175.4h1M248.2 197.9h1M252.7 141.7h1M242.9 141.0h1M251.7 174.8h1M209.6 153.3h1M208.4 173.5h1M210.8 173.0h1M239.4 142.8h1M258.6 164.2h1M211.1 159.8h1M257.1 159.8h1M251.9 172.4h1M210.7 233.9h1M224.9 194.7h1M236.2 196.3h1M255.6 182.8h1M255.1 166.8h1M214.7 203.2h1M252.2 145.8h1M242.2 141.4h1M243.1 144.3h1M246.9 186.7h1M251.4 179.3h1M211.0 160.8h1M254.0 145.9h1M229.1 148.4h1M252.0 187.1h1M213.5 157.7h1M235.1 198.9h1M222.4 195.4h1M197.4 162.8h1M236.9 138.4h1M249.4 140.7h1M244.8 194.7h1M222.3 154.4h1M240.2 194.8h1M224.7 152.9h1M222.9 193.7h1M207.8 174.0h1M248.6 190.8h1M210.5 151.8h1M211.2 170.2h1M228.2 148.8h1M236.2 138.0h1M214.4 159.9h1M243.7 191.5h1M266.6 158.0h1M248.6 143.3h1M202.0 172.3h1M214.9 155.0h1M211.0 170.4h1M260.2 167.3h1M254.1 170.2h1M218.1 156.5h1M260.4 158.8h1M259.7 173.7h1M246.6 258.5h1M205.7 187.7h1M250.2 182.4h1M201.5 168.8h1M249.7 138.5h1M225.4 151.7h1M254.2 139.1h1M217.0 155.5h1M197.7 194.0h1M249.0 139.1h1M254.0 174.4h1M186.2 179.5h1M211.4 186.9h1M224.7 150.9h1M244.1 188.0h1M212.1 155.7h1M253.6 204.0h1M257.9 146.8h1M210.2 191.6h1M211.7 168.5h1M243.2 140.7h1M217.5 155.7h1M243.6 136.2h1M213.5 156.4h1M240.6 197.7h1M245.7 180.3h1M209.1 160.4h1M254.5 167.8h1M203.2 165.3h1M266.9 197.3h1M257.8 148.5h1M245.0 188.1h1M243.6 208.2h1M248.4 144.5h1M248.0 144.1h1M192.4 149.2h1M198.0 171.8h1M236.7 196.4h1M240.3 187.9h1M235.4 139.2h1M257.8 145.9h1M235.5 145.6h1M189.8 161.5h1M264.4 157.1h1M172.4 209.6h1M257.7 189.5h1M221.2 148.5h1M202.3 182.7h1M275.0 214.3h1M223.4 154.4h1M259.1 156.1h1M203.7 181.2h1M236.9 190.4h1M205.4 184.1h1M211.8 220.9h1M209.4 207.9h1M234.7 145.0h1M205.9 175.9h1M252.9 145.7h1M208.2 177.9h1M258.1 159.9h1M224.7 148.1h1M230.4 147.0h1M240.3 187.9h1M207.1 178.6h1M244.5 144.2h1M255.4 148.0h1M226.0 198.0h1M205.4 191.3h1M251.0 144.7h1M257.4 167.6h1M262.8 206.7h1M238.9 144.3h1M219.4 152.0h1M244.0 185.1h1M256.3 164.7h1M218.8 159.3h1M234.3 135.9h1M245.2 141.7h1M218.6 215.4h1M223.5 152.1h1M198.9 165.5h1M256.8 153.9h1M239.1 139.7h1M210.2 161.5h1M257.1 154.0h1M226.6 149.5h1M233.4 144.4h1M228.5 195.8h1M237.9 145.8h1M192.8 181.4h1M198.2 192.0h1M253.8 143.5h1M228.9 148.0h1M241.3 190.6h1M207.6 184.8h1M211.9 164.3h1M250.1 183.0h1M243.4 196.9h1M246.8 144.5h1M284.4 207.6h1M248.7 230.7h1M228.6 199.0h1M260.4 161.6h1M262.1 161.0h1M212.4 164.6h1M236.0 129.6h1M253.5 183.6h1M258.4 156.6h1M247.9 177.0h1M257.2 160.9h1M250.4 196.5h1M255.8 169.0h1M246.5 144.1h1M216.3 154.9h1M232.4 142.9h1M207.0 184.3h1M258.2 165.6h1M189.3 183.4h1M238.1 143.2h1M251.1 213.7h1M232.4 194.6h1M267.1 165.6h1M245.7 189.1h1M206.4 186.1h1M214.4 162.3h1M254.1 184.8h1M250.9 179.5h1M259.1 153.6h1M215.6 156.4h1M256.5 152.3h1M264.6 194.1h1M261.7 177.2h1M232.7 146.4h1M238.4 142.8h1M261.5 164.5h1M249.2 193.9h1M209.6 187.4h1M252.3 144.9h1M217.2 156.9h1M186.2 206.4h1M207.8 215.9h1M219.3 156.8h1M239.4 145.7h1M210.4 184.3h1M254.0 198.5h1M230.3 198.5h1M224.7 146.0h1M224.8 148.9h1M256.7 165.0h1M237.9 140.7h1M246.8 178.9h1M257.0 166.2h1M258.0 154.4h1M255.3 148.6h1M260.4 147.9h1M220.9 151.2h1M241.6 144.4h1M245.2 143.9h1M207.5 150.4h1M226.0 256.7h1M237.6 145.7h1M201.0 186.6h1M231.6 144.7h1M218.3 195.5h1M206.1 153.7h1M230.6 146.9h1M215.2 202.2h1M259.0 161.1h1M210.3 186.1h1M248.3 186.3h1M206.8 185.0h1M252.3 175.4h1M237.0 144.8h1M211.3 157.1h1M237.6 145.1h1M246.0 141.7h1M255.8 145.3h1M213.1 189.7h1M252.7 143.0h1M229.0 146.1h1M220.3 191.8h1M223.5 152.6h1M235.7 144.7h1M249.4 187.5h1M207.3 180.8h1M251.2 202.6h1M257.8 158.8h1M238.4 142.8h1M189.3 173.9h1M255.8 166.5h1M227.6 202.7h1M221.9 210.5h1M206.5 154.4h1M246.3 183.7h1M248.0 178.9h1M256.4 139.2h1M253.4 180.1h1M238.7 145.8h1M259.1 156.4h1M245.8 139.0h1M205.5 190.6h1M259.7 157.3h1M189.5 181.0h1M233.9 146.7h1M257.7 155.3h1M195.7 182.2h1M258.8 206.0h1M263.7 170.4h1M220.4 197.8h1M253.8 142.1h1M230.5 193.1h1M207.2 185.1h1M236.2 134.2h1M196.5 194.5h1M220.2 157.8h1M239.7 195.4h1M226.2 215.9h1M238.0 145.9h1M252.3 145.7h1M238.0 142.5h1M256.3 147.0h1M265.3 160.4h1M222.8 194.5h1M215.0 152.1h1M214.3 159.9h1M239.9 143.7h1M240.5 194.1h1M255.5 149.2h1M211.6 168.2h1M225.4 198.8h1M221.5 153.3h1M204.7 193.3h1M248.3 185.3h1M229.5 147.1h1M257.4 152.7h1M237.2 208.8h1M255.0 142.2h1M199.0 207.8h1M259.1 170.9h1M255.2 168.2h1M249.3 143.5h1M261.5 184.1h1M249.8 139.1h1M224.0 210.5h1M242.6 145.0h1M249.2 178.6h1M228.0 138.2h1M213.8 163.7h1M236.4 139.6h1M191.0 187.5h1M258.0 154.3h1M227.0 149.3h1M255.2 181.2h1M187.3 161.4h1M199.1 167.6h1M238.8 145.6h1M235.4 206.8h1M233.5 141.2h1M207.3 199.1h1M252.9 196.2h1M259.2 149.0h1M278.1 202.7h1M216.6 160.2h1M222.6 212.3h1M256.7 162.1h1M236.0 200.5h1M244.2 215.7h1M267.0 156.4h1M250.7 186.6h1M178.4 173.7h1M238.3 144.0h1M214.4 191.5h1M242.6 143.5h1M224.7 201.5h1M248.9 177.6h1M260.6 171.6h1M208.9 173.7h1M213.6 152.9h1M255.7 164.9h1M246.2 180.2h1M251.0 177.3h1M252.2 140.0h1M205.2 162.6h1M260.7 158.4h1M244.1 140.2h1M214.5 202.4h1M251.3 237.9h1M221.2 155.3h1M210.8 149.7h1M204.4 183.9h1M231.2 147.0h1M211.9 224.2h1M255.9 135.3h1M260.2 178.9h1M260.3 163.5h1M244.9 144.7h1M268.0 173.3h1M211.5 168.1h1M222.0 150.9h1M264.2 176.7h1M230.6 146.7h1M259.0 152.0h1M234.1 143.3h1M260.7 149.4h1M217.6 153.7h1M250.5 141.7h1M242.3 200.3h1M240.6 136.4h1M205.7 182.8h1M257.9 151.0h1M247.2 142.5h1M224.9 140.6h1M233.4 145.5h1M227.6 149.3h1M210.2 158.6h1M220.0 154.1h1M262.8 162.6h1M196.5 158.8h1M257.3 154.9h1M257.8 181.2h1M269.8 196.6h1M239.5 144.9h1M204.5 159.3h1M238.0 196.2h1M202.4 182.4h1M241.0 187.4h1M237.7 215.6h1M261.9 157.5h1M244.7 140.9h1M237.1 199.1h1M218.6 191.6h1M196.6 181.5h1M247.4 183.5h1M205.7 165.7h1M217.3 160.7h1M246.1 206.0h1M228.8 143.2h1M247.6 177.3h1M264.0 170.9h1M208.5 188.3h1M270.5 187.8h1M219.1 159.2h1M260.9 164.6h1M258.4 156.3h1M221.5 156.3h1M257.5 171.9h1M247.9 188.3h1M237.5 199.7h1M257.0 147.2h1M247.4 144.3h1M215.9 157.5h1M253.9 173.0h1M252.9 177.1h1M204.4 169.8h1M258.5 161.3h1M260.3 141.9h1M247.2 178.8h1M257.4 155.8h1M250.9 176.6h1M230.9 193.6h1M255.3 196.6h1M223.6 194.7h1M259.5 168.8h1M255.9 150.3h1M246.1 197.1h1M218.8 197.5h1M232.2 142.2h1M209.7 185.9h1M253.6 193.2h1M216.2 190.6h1M215.9 200.3h1M206.1 174.3h1M241.9 143.7h1M203.1 156.1h1M212.4 168.3h1M186.9 193.7h1M255.6 164.8h1M252.2 172.8h1M257.6 177.9h1M254.2 169.7h1M242.5 145.1h1M249.9 191.6h1M267.0 152.7h1M248.5 179.9h1M240.9 199.1h1M242.1 144.9h1M255.6 165.9h1M258.8 197.6h1M258.2 149.9h1M246.4 144.1h1M226.0 195.4h1M242.0 139.2h1M252.4 178.0h1M256.0 168.4h1M258.9 176.5h1M263.1 172.5h1M249.1 143.2h1M250.2 180.6h1M257.8 160.9h1M189.5 163.4h1M244.2 140.4h1M216.0 191.1h1M205.6 187.3h1M238.8 144.3h1M191.9 191.4h1M257.2 147.2h1M236.9 143.1h1M190.8 163.8h1M204.0 181.3h1M226.4 147.0h1M239.9 144.9h1M214.0 156.9h1M210.5 172.9h1M257.6 161.3h1M252.7 174.6h1M210.3 196.5h1M248.0 187.5h1M214.2 207.1h1M225.2 193.9h1M213.8 165.5h1M217.8 160.5h1M261.6 172.9h1M195.2 159.2h1M257.3 159.1h1M216.2 192.8h1M215.8 154.4h1M264.0 160.7h1M238.1 144.1h1M289.2 243.6h1M207.2 172.5h1M203.4 169.3h1M256.4 165.3h1M263.3 176.5h1M248.5 138.0h1M204.9 169.4h1M250.9 176.9h1M249.4 180.2h1M256.5 161.6h1M216.5 190.9h1M255.3 166.4h1M251.3 144.8h1M228.2 145.3h1M254.8 146.3h1M259.3 162.3h1M243.4 187.4h1M236.2 145.5h1M258.4 185.5h1M205.8 156.9h1M253.3 139.5h1M215.6 155.3h1M220.5 157.2h1M265.8 216.4h1M205.0 188.3h1M259.0 156.3h1M271.7 172.8h1M254.9 172.5h1M254.1 141.7h1M216.4 162.4h1M243.4 183.8h1M215.9 202.5h1M234.1 204.3h1M227.6 144.5h1M254.0 170.9h1M225.9 150.8h1M256.2 142.1h1M230.4 194.1h1M213.6 221.7h1M209.8 170.5h1M256.7 143.8h1M260.3 168.5h1M213.0 158.1h1M218.4 208.9h1M238.7 145.7h1M260.7 155.9h1M249.7 142.2h1M201.8 184.2h1M257.8 162.5h1M223.9 152.7h1M208.5 172.7h1M250.4 178.0h1M210.6 172.5h1M252.3 179.6h1M211.8 140.4h1M244.5 144.4h1M220.1 152.1h1M252.9 183.8h1M239.8 139.1h1M227.1 201.0h1M246.2 137.0h1M215.9 160.1h1M226.8 197.6h1M249.3 187.2h1M203.4 172.1h1M258.1 157.6h1M256.0 164.4h1M221.2 146.3h1M217.9 158.5h1M249.1 176.2h1M216.1 152.9h1M220.5 151.9h1M219.7 150.2h1M256.5 146.2h1M261.0 146.8h1M207.3 192.3h1M243.7 144.4h1M253.8 144.8h1M225.6 151.4h1M259.6 153.9h1M258.4 150.7h1M218.9 194.4h1M243.0 195.1h1M259.4 156.8h1M206.2 177.5h1M210.1 185.1h1M207.5 170.5h1M213.1 153.6h1M224.2 149.3h1M217.5 155.5h1M255.9 167.7h1M220.0 157.1h1M208.6 194.2h1M255.3 177.6h1M204.9 186.4h1M223.3 151.0h1M256.6 172.9h1M159.1 184.2h1M270.2 185.6h1M256.9 153.2h1M219.5 158.4h1M225.2 196.5h1M240.4 187.7h1M257.7 153.5h1M257.1 174.4h1M254.0 146.7h1M217.8 212.5h1M189.3 163.1h1M223.6 151.0h1M253.5 147.0h1M256.0 164.9h1" fill="none" stroke="#c47a12" stroke-width="1" stroke-opacity="0.58" filter="url(#b3)"/>
<path d="M238.0 189.7h1M242.9 184.7h1M210.1 170.1h1M208.5 178.1h1M207.5 170.9h1M233.1 144.6h1M255.1 148.0h1M254.5 144.0h1M250.2 142.5h1M247.4 180.1h1M232.1 146.4h1M239.0 192.9h1M262.3 157.8h1M256.8 165.7h1M244.2 144.5h1M219.3 193.7h1M253.7 169.9h1M245.6 144.3h1M258.0 169.9h1M245.4 142.9h1M251.8 172.8h1M209.4 170.8h1M239.1 145.2h1M243.4 141.2h1M215.6 162.6h1M233.5 141.6h1M257.8 155.8h1M230.0 193.5h1M257.9 165.4h1M256.1 165.1h1M264.1 160.5h1M229.7 144.2h1M246.5 143.1h1M216.6 153.9h1M240.5 188.9h1M255.7 168.9h1M255.1 177.1h1M247.5 140.4h1M257.3 156.9h1M247.2 144.1h1M251.5 177.2h1M208.8 176.4h1M256.9 168.5h1M243.9 144.2h1M228.7 193.9h1M218.9 152.3h1M224.5 152.1h1M226.6 150.7h1M210.6 171.5h1M243.3 189.0h1M213.1 165.9h1M213.0 166.9h1M207.6 181.0h1M235.0 192.4h1M246.6 186.9h1M253.6 171.8h1M248.5 182.7h1M229.7 197.4h1M255.9 164.9h1M234.2 192.5h1M258.5 164.8h1M209.9 173.5h1M210.0 160.0h1M216.3 161.3h1M253.8 175.1h1M249.9 175.6h1M213.0 192.6h1M250.1 143.4h1M239.1 192.1h1M240.3 187.9h1M258.4 182.2h1M251.3 144.8h1M227.6 149.5h1M227.3 195.2h1M209.8 176.1h1M234.1 144.6h1M241.6 186.4h1M215.8 190.6h1M250.6 174.0h1M215.6 160.8h1M246.8 181.6h1M213.1 165.2h1M219.0 194.6h1M210.0 172.3h1M229.5 146.1h1M254.0 172.0h1M248.7 144.2h1M246.6 180.7h1M216.4 191.3h1M226.8 193.5h1M235.7 191.1h1M230.8 193.0h1M208.3 175.5h1M258.0 164.0h1M237.1 140.4h1M256.7 167.3h1M254.7 145.5h1M258.3 154.3h1M246.8 187.0h1M206.8 169.2h1M254.7 146.6h1M206.7 180.3h1M256.7 149.2h1M235.2 144.0h1M238.5 188.7h1M220.4 152.0h1M254.4 147.3h1M258.2 153.2h1M260.5 153.0h1M250.1 175.8h1M215.7 161.7h1M245.6 144.2h1M240.9 138.0h1M215.0 189.7h1M245.9 184.7h1M231.4 193.4h1M210.4 172.9h1M219.3 157.9h1M234.0 192.4h1M257.5 157.9h1M247.1 183.5h1M212.7 187.4h1M251.6 145.1h1M228.5 193.3h1M259.2 162.2h1M230.3 192.9h1M245.0 183.5h1M232.0 201.7h1M258.1 152.7h1M239.3 188.1h1M247.2 179.6h1M266.7 162.9h1M203.3 182.4h1M211.9 156.3h1M227.2 194.3h1M237.0 192.2h1M243.0 185.4h1M240.6 139.7h1M230.3 195.2h1M233.3 145.6h1M220.8 194.5h1M250.0 176.6h1M258.6 167.6h1M209.5 173.6h1M219.4 193.4h1M249.3 180.2h1M237.3 145.2h1M209.7 167.6h1M210.2 170.7h1M241.7 142.0h1M253.4 170.4h1M227.5 149.5h1M236.3 192.1h1M243.8 185.4h1M209.7 178.8h1M255.0 168.4h1M223.1 152.6h1M208.8 176.8h1M236.6 143.5h1M249.6 175.4h1M257.3 158.6h1M252.2 172.1h1M258.7 151.0h1M234.7 193.5h1M232.0 192.6h1M235.8 192.5h1M230.8 197.9h1M234.5 198.3h1M212.6 167.8h1M229.2 194.9h1M219.5 193.2h1M252.6 143.8h1M248.8 177.7h1M238.8 194.2h1M214.9 191.4h1M232.3 195.4h1M228.2 196.3h1M217.3 155.8h1M248.7 143.8h1M254.3 168.6h1M213.4 189.2h1M257.3 153.6h1M209.8 180.3h1M216.3 161.9h1M248.5 183.3h1M246.7 142.7h1M233.9 191.9h1M259.0 159.1h1M228.4 148.6h1M223.0 199.6h1M222.6 193.5h1M223.7 152.1h1M228.8 148.0h1M240.1 143.3h1M220.3 192.6h1M258.6 162.0h1M253.4 145.2h1M207.0 182.2h1M257.0 146.9h1M243.8 193.5h1M229.3 145.2h1M227.5 147.1h1M253.6 145.7h1M208.7 163.9h1M212.4 167.5h1M236.2 144.4h1M221.9 154.9h1M255.3 167.1h1M246.8 144.0h1M225.6 150.9h1M211.9 168.8h1M258.1 162.2h1M253.7 146.8h1M233.1 145.7h1M256.0 173.2h1M213.1 187.7h1M257.2 154.3h1M211.8 191.3h1M225.5 193.6h1M238.9 144.2h1M220.6 193.3h1M252.9 144.4h1M246.4 141.7h1M238.5 189.9h1M249.6 177.0h1M235.4 197.8h1M216.9 192.5h1M235.7 191.1h1M217.3 192.6h1M252.8 178.0h1M244.4 184.7h1M211.2 154.5h1M259.6 152.8h1M253.4 176.3h1M210.7 165.4h1M212.2 168.9h1M208.8 176.9h1M244.6 182.8h1M208.8 169.2h1M216.3 161.1h1M249.0 140.5h1M234.7 145.7h1M240.0 144.9h1M211.3 187.7h1M249.2 143.8h1M227.7 148.3h1M215.7 191.8h1M221.5 192.9h1M210.7 171.6h1M230.2 147.6h1M206.1 169.9h1M217.5 192.1h1M206.7 180.3h1M218.1 155.6h1M227.2 142.5h1M244.9 182.2h1M240.0 141.2h1M231.6 196.8h1M259.4 157.7h1M212.5 166.3h1M210.3 170.8h1M247.9 179.2h1M208.3 174.1h1M231.6 198.8h1M241.7 143.4h1M211.8 185.5h1M219.6 192.1h1M258.2 163.5h1M252.0 172.7h1M209.6 167.9h1M235.2 199.3h1M250.0 178.1h1M251.4 142.7h1M218.8 196.9h1M239.8 187.9h1M254.1 140.4h1M214.9 158.2h1M221.6 155.4h1M213.4 166.5h1M255.5 147.0h1M243.1 185.0h1M245.9 182.8h1M251.3 142.9h1M243.0 142.5h1M228.1 193.7h1M247.1 185.4h1M259.9 150.3h1M213.3 166.4h1M255.8 167.9h1M233.2 194.1h1M239.9 188.4h1M252.0 142.0h1M222.1 155.3h1M228.3 193.0h1M227.3 196.2h1M217.3 192.7h1M250.2 177.4h1M210.3 163.5h1M253.6 180.5h1M234.8 191.5h1M208.9 179.5h1M239.3 187.9h1M240.6 143.1h1M255.9 145.1h1M259.3 150.6h1M219.8 157.4h1M247.3 185.6h1M258.9 172.6h1M240.4 187.1h1M220.3 155.4h1M239.5 132.9h1M255.7 166.9h1M250.3 175.2h1M257.4 164.2h1M243.4 186.2h1M210.1 168.3h1M240.6 187.3h1M258.8 152.4h1M253.2 171.8h1M251.9 173.0h1M240.0 142.4h1M251.9 173.3h1M249.5 143.7h1M249.0 136.2h1M224.4 193.6h1M229.7 147.2h1M246.1 144.2h1M250.9 134.3h1M212.1 189.6h1M235.5 144.0h1M231.1 192.8h1M232.1 192.9h1M229.9 145.2h1M221.7 144.7h1M239.7 187.7h1M241.4 185.8h1M244.5 143.1h1M243.1 143.4h1M257.1 159.9h1M219.7 157.0h1M214.6 164.0h1M252.5 137.0h1M229.6 147.9h1M211.5 165.6h1M255.4 174.7h1M238.8 144.0h1M248.7 197.8h1M254.9 168.1h1M254.9 169.4h1M214.8 163.6h1M212.1 188.3h1M257.3 155.0h1M203.6 167.2h1M210.5 172.9h1M232.1 192.8h1M239.8 187.5h1M212.5 189.6h1M235.3 145.5h1M257.9 165.6h1M260.7 151.4h1M216.3 160.7h1M232.9 144.3h1M227.4 193.1h1M233.5 191.9h1M258.4 155.0h1M254.9 148.4h1M209.9 172.1h1M255.4 141.9h1M259.6 150.4h1M235.7 194.0h1M221.6 153.2h1M258.5 157.8h1M254.3 147.2h1M242.2 189.4h1M254.0 171.7h1M251.9 176.1h1M244.3 143.9h1M232.6 197.2h1M245.8 140.9h1M235.7 190.9h1M261.1 163.7h1M246.6 139.6h1M210.9 189.8h1M254.6 171.0h1M227.5 197.7h1M214.4 164.5h1M246.1 182.8h1M262.5 146.5h1M256.8 148.4h1M244.2 184.3h1M240.0 142.6h1M246.0 184.1h1M254.0 170.2h1M224.6 151.1h1M258.0 159.2h1M234.7 145.7h1M229.1 193.7h1M248.1 177.4h1M221.6 155.9h1M215.5 156.4h1M215.6 156.2h1M208.5 176.2h1M237.9 140.3h1M249.2 185.8h1M234.7 145.8h1M213.9 190.7h1M211.9 164.9h1M259.3 163.9h1M263.4 183.5h1M210.7 185.9h1M256.3 172.4h1M232.8 145.3h1M215.0 162.8h1M219.5 192.3h1M214.6 158.2h1M237.9 193.2h1M260.1 160.5h1M236.3 139.2h1M210.6 183.4h1M258.9 155.4h1M254.8 171.2h1M240.1 188.6h1M257.8 149.4h1M236.6 142.8h1M210.1 186.1h1M209.1 184.9h1M205.7 179.3h1M258.4 157.6h1M211.0 184.1h1M258.6 170.8h1M258.1 161.1h1M222.5 151.0h1M223.5 154.0h1M210.5 173.1h1M236.6 191.4h1M213.2 188.8h1M219.2 155.3h1M245.1 182.8h1M259.6 152.3h1M235.5 145.0h1M255.3 167.8h1M211.0 171.7h1M258.4 142.0h1M232.5 194.6h1M211.6 165.9h1M232.7 143.7h1M209.8 166.9h1M233.1 146.5h1M259.3 143.8h1M213.8 161.7h1M253.1 170.7h1M255.9 146.8h1M241.6 188.2h1M241.8 188.9h1M220.4 153.9h1M234.2 144.1h1M252.3 173.5h1M248.0 177.8h1M228.0 195.2h1M239.5 191.8h1M231.0 195.3h1M211.7 189.7h1M242.9 189.3h1M234.1 145.5h1M233.9 193.7h1M210.0 174.4h1M256.0 169.0h1M258.5 151.3h1M234.2 192.7h1M209.7 182.8h1M217.8 191.7h1M254.0 145.9h1M223.6 153.2h1M215.6 162.3h1M228.4 146.8h1M225.1 194.4h1M209.1 179.1h1M208.6 183.6h1M259.4 150.4h1M251.1 143.6h1M258.6 161.5h1M217.0 158.2h1M239.2 144.3h1M220.4 157.0h1M218.0 199.7h1M259.3 155.6h1M223.1 152.5h1M240.7 188.7h1M258.3 154.6h1M254.6 169.1h1M242.3 184.7h1M233.8 191.7h1M251.7 144.2h1M239.2 144.3h1M261.5 160.7h1M218.9 156.9h1M241.2 143.2h1M237.1 195.8h1M231.7 145.2h1M259.6 145.3h1M226.6 146.7h1M253.1 171.9h1M207.8 181.6h1M208.2 172.5h1M237.2 143.4h1M247.9 179.3h1M256.7 149.2h1M249.2 144.3h1M233.3 136.8h1M210.0 180.3h1M225.7 151.6h1M244.5 143.0h1M232.6 145.6h1M220.1 152.8h1M217.3 191.8h1M209.8 172.0h1M222.7 192.9h1M234.8 144.5h1M216.7 154.5h1M249.2 143.9h1M256.1 165.8h1M254.5 145.8h1M247.6 182.4h1M256.8 152.4h1M244.5 186.2h1M221.7 192.6h1M258.2 160.2h1M211.4 163.7h1M236.2 145.0h1M262.0 164.8h1M237.6 190.1h1M212.3 161.8h1M247.1 180.0h1M218.6 159.1h1M240.0 194.8h1M215.3 193.0h1M262.1 155.3h1M225.2 149.8h1M216.3 161.2h1M263.7 158.5h1M256.7 148.2h1M216.0 190.5h1M204.2 164.2h1M211.8 187.1h1M236.0 193.3h1M224.1 193.6h1M235.2 143.0h1M213.4 166.8h1M210.0 171.6h1M219.8 154.6h1M258.5 159.3h1M257.8 151.4h1M208.2 175.6h1M243.4 190.1h1M209.3 166.9h1M246.0 142.0h1M206.8 166.1h1M256.8 172.2h1M257.6 163.5h1M215.1 191.0h1M248.9 182.1h1M237.6 142.2h1M221.2 151.2h1M257.4 168.5h1M203.1 166.9h1M253.2 145.9h1M213.0 188.5h1M235.1 193.1h1M231.5 140.8h1M213.9 165.0h1M216.5 160.7h1M207.5 172.5h1M231.0 192.8h1M245.3 183.1h1M242.2 186.0h1M249.5 178.1h1M257.6 140.1h1M211.5 167.0h1M222.9 192.9h1M259.6 157.2h1M259.6 162.3h1M245.2 183.8h1M218.7 158.7h1M246.7 179.4h1M241.0 144.3h1M244.7 144.1h1M234.5 194.0h1M211.5 161.3h1M244.5 184.2h1M211.1 185.5h1M223.7 195.2h1M223.7 194.6h1M247.0 179.0h1M251.4 143.3h1M233.4 192.6h1M227.9 193.5h1M255.5 166.9h1M258.6 143.5h1M253.1 145.6h1M210.8 183.2h1M222.3 193.2h1M239.4 196.0h1M208.1 177.3h1M257.5 171.1h1M215.7 157.6h1M229.5 195.0h1M222.5 195.6h1M253.5 145.6h1M219.3 192.4h1M258.1 158.9h1M210.2 182.3h1M256.8 161.5h1M254.2 146.3h1M216.7 191.5h1M259.2 166.1h1M211.1 160.1h1M244.9 185.7h1M210.1 168.2h1M209.0 180.6h1M243.6 185.1h1M234.5 197.4h1M213.9 166.1h1M259.8 156.9h1M209.8 173.4h1M238.1 193.0h1M256.2 165.7h1M238.7 145.1h1M236.0 144.5h1M258.0 164.5h1M215.3 192.1h1M245.7 143.6h1M208.4 184.3h1M214.4 164.5h1M246.3 143.5h1M239.9 196.4h1M213.6 190.4h1M231.8 145.8h1M218.9 156.4h1M256.8 151.1h1M258.5 149.5h1M246.9 140.8h1M218.6 147.8h1M251.0 177.9h1M258.0 166.1h1M233.2 196.9h1M230.8 146.8h1M249.1 189.4h1M253.4 169.9h1M217.7 191.6h1M247.4 183.0h1M222.0 152.5h1M221.1 156.1h1M240.4 186.9h1M208.6 171.2h1M213.0 190.0h1M249.0 188.4h1M225.9 148.2h1M216.9 193.0h1M247.4 181.0h1M212.7 190.3h1M212.6 191.5h1M244.6 182.8h1M230.8 143.5h1M231.6 145.2h1M240.4 144.9h1M238.4 189.1h1M217.0 192.4h1M258.3 164.8h1M210.9 162.9h1M209.3 177.8h1M229.2 198.4h1M212.8 166.6h1M228.9 193.5h1M256.8 152.4h1M235.4 146.0h1M215.1 190.7h1M243.4 142.8h1M210.5 183.8h1M254.0 147.0h1M230.5 194.3h1M226.0 149.7h1M226.2 194.4h1M229.3 201.1h1M220.2 156.2h1M216.2 159.1h1M261.9 161.9h1M257.2 160.6h1M258.1 168.2h1M258.0 158.0h1M254.8 148.2h1M214.7 164.1h1M209.6 167.9h1M240.2 145.1h1M248.7 143.8h1M227.4 148.1h1M221.8 194.4h1M211.3 189.4h1M255.1 148.5h1M255.9 146.1h1M213.0 165.1h1M230.2 194.9h1M233.9 192.2h1M205.7 176.6h1M257.7 161.2h1M255.7 148.0h1M259.5 164.2h1M257.2 165.6h1M248.1 142.1h1M250.2 177.2h1M256.8 175.9h1M217.4 160.6h1M237.8 196.8h1M250.0 175.2h1M226.4 150.5h1M226.6 148.9h1M237.5 190.3h1M207.1 175.7h1M259.9 156.5h1M230.1 194.9h1M255.8 145.2h1M240.9 143.0h1M246.1 184.8h1M238.1 138.5h1M259.7 163.0h1M237.8 190.2h1M247.7 178.6h1M256.5 145.7h1M209.7 180.4h1M255.6 148.1h1M247.0 179.1h1M257.7 158.7h1M209.7 182.5h1M256.8 165.9h1M209.4 176.6h1M224.6 145.6h1M224.5 142.1h1M230.6 192.8h1M232.9 145.7h1M244.6 186.8h1M254.7 170.1h1M255.5 167.8h1M217.1 191.6h1M238.1 192.2h1M228.1 193.0h1M262.0 169.0h1M218.2 196.4h1M245.6 183.4h1M262.0 166.6h1M251.9 143.6h1M215.4 162.4h1M222.0 193.8h1M224.7 149.5h1M257.1 166.0h1M261.8 171.1h1M229.4 193.9h1M232.9 144.8h1M236.0 191.5h1M218.8 157.6h1M244.4 186.4h1M222.1 151.4h1M249.6 175.3h1M211.1 184.3h1M227.4 145.9h1M215.0 190.2h1M261.0 165.7h1M214.4 162.8h1M209.3 163.7h1M222.2 153.5h1M212.2 168.0h1M255.8 144.1h1M255.4 173.6h1M227.7 193.9h1M242.1 186.8h1M236.8 144.6h1M260.4 155.6h1M253.8 146.9h1M225.5 149.2h1M249.8 181.3h1M259.0 162.1h1M210.0 174.2h1M214.3 161.7h1M209.2 169.7h1M256.7 151.4h1M228.4 148.4h1M212.3 165.1h1M238.1 145.4h1M205.2 175.8h1M259.4 164.8h1M221.3 153.2h1M223.7 152.9h1M239.1 189.5h1M255.1 172.2h1M211.3 185.9h1M222.3 192.7h1M232.6 197.3h1M256.1 165.9h1M211.7 163.5h1M211.1 166.0h1M233.2 192.7h1M252.5 145.8h1M209.5 173.3h1M221.1 155.6h1M263.5 148.8h1M216.9 161.2h1M227.6 146.8h1M256.7 164.0h1M204.8 191.0h1M244.4 183.0h1M210.0 167.2h1M207.8 167.1h1M235.6 192.9h1M221.3 154.3h1M265.7 149.4h1M229.3 195.4h1M209.9 183.8h1M211.0 165.4h1M209.2 184.8h1M233.6 192.1h1M210.9 183.6h1M207.0 166.1h1M223.0 193.3h1M248.5 178.7h1M232.4 145.8h1M252.6 144.1h1M242.1 185.0h1M256.6 166.7h1M226.2 193.6h1M227.2 147.1h1M207.9 176.6h1M260.0 144.5h1M246.7 143.9h1M208.2 179.5h1M219.3 158.4h1M256.0 148.9h1M244.9 142.5h1M257.7 157.1h1M232.7 145.5h1M212.0 187.4h1M212.0 169.0h1M240.8 189.0h1M212.2 189.4h1M200.4 169.5h1M248.8 176.6h1M216.7 155.2h1M252.1 143.6h1M220.4 197.7h1M208.1 171.9h1M227.0 146.5h1M211.0 189.2h1M258.5 149.4h1M211.2 184.1h1M250.7 174.6h1M250.9 175.5h1M236.9 144.6h1M212.3 168.6h1M245.0 182.0h1M240.9 186.7h1M211.2 165.8h1M256.0 172.3h1M224.7 150.7h1M229.7 147.1h1M208.8 174.8h1M232.3 202.8h1M234.1 192.1h1M220.7 157.1h1M237.5 143.0h1M228.6 147.6h1M206.8 178.3h1M238.8 144.6h1M239.3 189.3h1M263.8 161.5h1M223.3 151.4h1M236.6 192.8h1M209.9 180.8h1M238.5 144.8h1M244.8 183.2h1M239.0 188.2h1M238.2 190.7h1M233.3 146.5h1M252.7 175.4h1M259.7 153.1h1M213.1 165.1h1M216.4 191.2h1M257.9 162.4h1M233.8 144.5h1M236.2 197.1h1M238.2 141.1h1M240.8 145.1h1M242.0 185.3h1M257.4 155.3h1M250.7 144.6h1M251.2 144.5h1M211.1 191.5h1M248.3 177.5h1M217.9 193.4h1M257.6 163.7h1M245.7 140.4h1M216.1 152.6h1M242.0 144.9h1M264.4 157.6h1M243.0 185.8h1M208.9 177.2h1M249.6 180.8h1M240.5 135.7h1M257.2 154.0h1M216.3 160.7h1M212.1 191.7h1M252.8 170.8h1M216.2 154.3h1M254.5 167.9h1M214.2 162.6h1M230.0 193.7h1M230.8 193.4h1M242.4 184.6h1M213.9 190.0h1M209.2 180.1h1M253.7 175.5h1M228.2 147.9h1M209.8 165.5h1M223.3 193.3h1M224.8 150.7h1M253.2 144.8h1M220.0 153.6h1M211.1 169.3h1M220.6 195.6h1M241.9 142.9h1M245.0 186.9h1M248.5 182.6h1M218.5 193.8h1M240.0 191.5h1M250.4 144.4h1M213.6 165.6h1M206.9 179.3h1M245.1 181.3h1M219.6 157.9h1M224.7 194.5h1M257.7 159.9h1M249.0 143.7h1M225.4 149.0h1M210.3 184.9h1M209.6 180.1h1M210.9 171.8h1M245.7 182.7h1M258.2 173.5h1M234.4 192.4h1M260.0 162.9h1M226.9 193.7h1M257.7 176.9h1M240.1 144.5h1M254.4 146.9h1M232.4 146.8h1M214.2 196.2h1M211.6 168.6h1M253.9 145.5h1M252.4 175.1h1M211.0 183.8h1M257.3 163.2h1M220.8 194.2h1M240.4 145.1h1M238.7 192.2h1M257.0 161.1h1M255.8 147.2h1M220.5 154.9h1M250.2 175.1h1M257.3 158.0h1M219.7 197.3h1M219.9 193.4h1M254.4 171.3h1M225.8 196.0h1M229.2 147.0h1M256.1 145.1h1M257.7 150.8h1M247.8 143.8h1M228.8 194.1h1M260.6 165.0h1M224.6 146.6h1M225.4 147.2h1M212.8 167.7h1M246.2 182.2h1M233.1 193.7h1M258.8 158.3h1M218.2 156.1h1M210.5 167.1h1M243.0 186.3h1M255.5 145.1h1M208.4 185.5h1M222.4 155.0h1M233.3 146.0h1M210.2 182.2h1M241.6 187.6h1M237.9 144.4h1M209.0 155.8h1M210.6 169.8h1M252.7 174.0h1M236.0 143.4h1M222.9 193.8h1M232.0 144.5h1M241.8 144.9h1M218.6 192.3h1M222.3 192.9h1M226.0 147.5h1M225.1 151.4h1M208.4 180.6h1M244.5 183.8h1M208.7 180.2h1M256.4 164.6h1M208.8 175.1h1M230.3 193.0h1M247.9 177.6h1M205.6 190.7h1M219.1 194.6h1M257.1 152.4h1M232.8 144.5h1M253.0 170.6h1M216.7 156.1h1M226.4 150.2h1M225.9 195.8h1M226.5 150.3h1M232.6 144.5h1M244.5 142.5h1M231.5 195.1h1M206.5 174.5h1M235.3 145.8h1M212.7 164.6h1M237.7 145.6h1M229.3 194.2h1M208.4 176.2h1M259.4 156.2h1M240.4 187.8h1M256.7 162.5h1M231.5 146.3h1M214.0 164.1h1M225.6 151.0h1M246.5 180.1h1M212.6 168.3h1M257.8 160.5h1M222.0 193.9h1M212.2 187.8h1M206.9 189.5h1M220.6 156.0h1M256.1 166.6h1M213.0 166.1h1M222.0 196.0h1M257.8 178.3h1M219.7 155.5h1M259.1 161.9h1M250.8 174.5h1M252.8 174.6h1M207.4 186.4h1M256.4 147.2h1M218.0 155.3h1M247.0 180.4h1M258.4 157.8h1M257.4 156.4h1M219.8 144.0h1M204.8 173.1h1M222.5 193.5h1M235.7 191.0h1M229.3 147.3h1M243.7 140.6h1M228.3 194.0h1M210.9 167.5h1M227.2 142.5h1M209.8 181.9h1M208.0 182.9h1M220.6 155.0h1M221.4 152.9h1M247.5 181.9h1M248.7 176.5h1M251.5 179.8h1M237.2 144.9h1M259.5 144.3h1M215.6 190.4h1M246.1 180.6h1M211.5 170.0h1M212.7 161.3h1M257.1 149.8h1M210.4 184.1h1M253.0 143.9h1M238.7 145.2h1M243.7 144.5h1M226.2 146.2h1M260.4 154.6h1M234.4 142.1h1M229.7 195.7h1M266.2 166.8h1M223.6 149.8h1M226.4 193.1h1M256.0 165.0h1M253.6 174.1h1M259.5 149.8h1M209.8 164.4h1M206.2 188.6h1M220.5 156.4h1M258.5 159.9h1M216.1 157.3h1M221.4 153.4h1M243.4 139.0h1M235.4 191.1h1M222.9 152.4h1M240.6 143.8h1M261.9 143.6h1M225.9 151.3h1M230.7 194.3h1M246.2 183.6h1M236.1 143.6h1M257.7 156.7h1M211.5 170.7h1M217.4 195.4h1M225.3 198.1h1M223.0 154.4h1M226.5 148.3h1M219.3 158.1h1M216.4 191.8h1M252.9 173.2h1M257.5 154.1h1M242.1 141.4h1M241.5 190.9h1M227.9 148.4h1M253.7 172.9h1M241.6 138.2h1M210.3 167.6h1M217.5 193.1h1M257.4 152.8h1M246.6 181.1h1M244.7 181.9h1M209.7 163.0h1M239.2 142.5h1M255.0 167.7h1M214.1 189.1h1M226.0 195.5h1M252.9 172.2h1M217.2 192.5h1M211.2 185.2h1M207.5 177.6h1M260.6 156.5h1M216.0 161.4h1M240.4 142.3h1M232.6 193.9h1M249.5 176.5h1M222.0 193.4h1M232.9 146.3h1M235.2 144.4h1M235.8 192.6h1M210.0 181.5h1M209.4 177.8h1M256.9 166.2h1M252.7 145.4h1M241.8 188.6h1M243.4 186.4h1M211.6 168.9h1M241.2 142.8h1M251.5 172.8h1M211.6 191.4h1M238.1 144.9h1M256.1 150.2h1M248.0 179.0h1M232.0 146.9h1M257.3 151.8h1M210.0 195.0h1M213.9 190.4h1M232.2 144.7h1M223.0 199.6h1M237.1 144.6h1M211.6 185.9h1M256.5 163.1h1M209.8 179.6h1M231.5 146.7h1M244.6 183.0h1M208.8 179.8h1M255.1 146.9h1M256.6 163.3h1M247.7 177.8h1M218.8 158.5h1M220.6 195.6h1M257.6 172.0h1M247.8 180.8h1M241.6 185.7h1M220.0 155.4h1M218.5 156.5h1M231.8 143.5h1M212.4 166.8h1M242.7 144.0h1M264.9 157.9h1M218.4 152.4h1M231.8 195.0h1M240.9 189.2h1M225.7 144.6h1M208.3 183.6h1M210.0 167.2h1M237.2 143.8h1M204.6 166.0h1M223.7 193.9h1M215.5 190.7h1M239.4 145.4h1M225.8 151.2h1M232.8 196.1h1M252.0 173.2h1M254.3 171.5h1M257.7 155.9h1M258.6 153.7h1M257.5 157.0h1M210.0 173.5h1M249.4 176.4h1M210.7 186.4h1M233.9 144.6h1M205.7 177.1h1M226.8 149.7h1M248.9 179.8h1M221.5 149.5h1M237.8 189.4h1M259.5 153.3h1M228.2 144.7h1M222.9 152.4h1M211.9 188.7h1M257.6 171.7h1M209.3 179.6h1M257.3 160.7h1M234.7 145.3h1M240.4 143.2h1M241.9 143.0h1M217.9 160.0h1M212.5 160.1h1M228.2 148.8h1M255.1 168.3h1M242.7 187.9h1M240.9 190.9h1M240.1 142.0h1M225.2 149.8h1M238.6 145.6h1M235.5 145.8h1M243.6 144.1h1M218.0 157.2h1M209.2 175.4h1M261.4 151.6h1M256.4 150.3h1M241.9 187.5h1M257.6 170.1h1M209.6 189.9h1M259.7 160.9h1M242.1 144.3h1M260.7 166.9h1M240.9 142.1h1M244.9 187.4h1M217.9 191.9h1M258.9 154.0h1M232.0 145.8h1M221.2 150.2h1M254.1 169.8h1M256.5 162.6h1M256.7 163.2h1M256.3 163.2h1M221.0 154.8h1M209.5 178.7h1M232.7 145.5h1M211.3 186.2h1M227.5 147.8h1M230.0 145.2h1M214.4 191.4h1M241.9 144.6h1M222.4 192.9h1M254.1 178.5h1M211.1 162.7h1M211.2 170.7h1M251.8 142.6h1M223.1 150.2h1M209.4 181.8h1M244.2 183.5h1M241.7 142.6h1M217.8 158.1h1M257.3 155.0h1M250.8 176.5h1M253.1 137.6h1M245.2 181.6h1M224.0 153.2h1M228.1 195.3h1M255.0 169.8h1M216.9 195.3h1M227.1 197.9h1M219.3 198.4h1M204.8 166.8h1M212.1 189.2h1M242.4 188.7h1M249.2 143.4h1M233.6 146.1h1M228.8 147.5h1M261.5 165.5h1M242.2 185.1h1M264.3 166.5h1M229.3 148.0h1M247.9 177.8h1M244.0 185.2h1M212.9 190.8h1M248.5 144.3h1M246.8 143.8h1M213.8 166.1h1M243.3 184.7h1M232.1 196.0h1M238.7 192.8h1M257.2 148.4h1M229.7 202.3h1M238.1 190.5h1M255.8 166.8h1M207.7 175.9h1M243.9 183.2h1M253.1 145.7h1M248.1 143.8h1M209.3 175.2h1M254.2 146.5h1M252.4 174.1h1M232.2 192.7h1M232.6 193.1h1M256.7 165.1h1M237.8 142.5h1M216.7 161.0h1M207.0 175.6h1M220.5 154.9h1M221.7 193.1h1M211.6 187.1h1M209.9 184.3h1M244.1 141.7h1M230.4 193.3h1M218.6 159.3h1M212.5 187.6h1M216.7 195.1h1M210.9 165.3h1M220.7 198.9h1M242.1 185.2h1M217.1 191.9h1M249.9 141.9h1M209.8 182.6h1M259.1 149.5h1M210.1 173.0h1M243.7 184.1h1M211.9 187.3h1M259.2 152.6h1M217.1 160.8h1M213.4 188.7h1M246.8 184.1h1M237.1 192.4h1M227.4 149.9h1M249.9 143.8h1M261.5 157.1h1M227.1 149.1h1M260.1 161.7h1M214.8 158.2h1M259.3 157.7h1M246.8 185.7h1M261.7 164.5h1M223.4 192.8h1M238.8 192.7h1M235.8 145.0h1M238.4 144.6h1M214.5 159.9h1M234.1 196.1h1M227.7 193.1h1M246.2 181.8h1M256.2 149.5h1M258.3 162.9h1M208.9 176.9h1M243.6 143.3h1M250.1 177.6h1M237.4 191.5h1M229.6 146.5h1M258.2 160.2h1M213.5 159.9h1M218.6 192.7h1M239.0 144.6h1M259.1 156.8h1M223.8 153.4h1M265.0 146.2h1M203.3 175.6h1M257.8 156.5h1M209.5 159.8h1M253.2 142.3h1M230.5 141.2h1M253.2 173.8h1M244.1 195.4h1M254.9 141.7h1M257.2 174.7h1M218.4 154.9h1M209.9 183.1h1M234.6 145.4h1M204.3 173.5h1M248.7 179.2h1M223.5 150.8h1M257.6 153.7h1M256.9 176.3h1M231.9 193.8h1M218.7 193.9h1M236.4 191.3h1M246.6 142.0h1M253.4 180.8h1M225.2 151.4h1M210.3 186.1h1M213.6 193.1h1M212.1 166.5h1M253.9 171.5h1M248.0 178.2h1M227.4 148.4h1M208.9 169.7h1M237.7 144.2h1M225.3 194.7h1M254.9 175.6h1M235.8 190.7h1M218.0 159.1h1M256.1 142.1h1M209.4 172.7h1M259.1 166.4h1M253.4 175.3h1M263.7 176.7h1M245.1 181.8h1M258.4 147.5h1M244.2 144.3h1M242.6 186.7h1M255.5 167.2h1M212.2 187.8h1M247.0 142.4h1M217.6 160.0h1M212.9 165.6h1M216.3 190.6h1M231.1 146.8h1M257.1 168.0h1M250.5 175.2h1M221.2 152.2h1M232.4 143.8h1M258.5 152.3h1M231.3 194.7h1M210.1 184.0h1M220.7 192.5h1M214.1 163.8h1M223.9 194.3h1M230.5 193.0h1M221.9 154.8h1M249.6 179.8h1M236.4 144.9h1M236.8 145.9h1M210.4 182.6h1M259.1 157.6h1M228.4 196.5h1M258.2 149.4h1M242.8 187.4h1M213.1 190.5h1M247.7 143.9h1M221.8 155.8h1M249.7 143.3h1M206.1 174.3h1M217.8 159.7h1M226.5 149.8h1M221.5 150.0h1M223.8 193.2h1M221.4 149.5h1M248.4 178.2h1M256.9 162.6h1M210.5 184.9h1M239.2 188.1h1M223.0 152.3h1M212.1 187.5h1M230.2 193.7h1M218.1 159.5h1M228.7 197.2h1M241.6 141.7h1M210.0 182.2h1M255.0 174.7h1M259.0 146.4h1M244.4 185.9h1M225.3 150.1h1M238.0 189.5h1M211.3 169.0h1M232.4 192.6h1M251.2 173.8h1M206.1 179.9h1M223.3 152.4h1M257.5 171.1h1M224.6 148.7h1M205.6 184.5h1M216.8 157.3h1M217.8 192.7h1M231.3 194.3h1M247.0 181.8h1M209.2 179.5h1M252.9 176.4h1M223.9 152.9h1M211.9 186.2h1M217.7 148.3h1M252.9 145.4h1M209.2 180.9h1M257.3 149.2h1M261.1 165.0h1M219.3 148.0h1M238.1 145.7h1M224.3 192.9h1M249.8 178.1h1M206.6 184.3h1M259.2 154.2h1M222.7 152.4h1M248.0 142.8h1M226.5 148.0h1M259.0 164.4h1M216.3 157.5h1M231.6 145.2h1M250.7 177.9h1M211.7 196.0h1M224.8 193.8h1M223.6 152.5h1M209.5 180.1h1M260.0 166.0h1M225.2 194.4h1M219.1 195.6h1M216.1 161.3h1M256.2 150.7h1M210.0 173.6h1M226.4 149.7h1M260.7 149.3h1M252.2 181.0h1M251.3 183.1h1M256.6 144.7h1M233.0 144.2h1M219.4 148.8h1M213.4 191.0h1M238.0 190.1h1M209.4 163.3h1M217.7 160.2h1M211.1 184.5h1M259.3 172.7h1M217.0 192.0h1M236.4 142.5h1M208.6 184.3h1M232.4 146.1h1M244.5 144.5h1M258.9 152.2h1M212.2 166.4h1M239.7 144.5h1M256.7 143.8h1M237.7 190.6h1M252.2 172.9h1M237.7 190.5h1M209.1 179.9h1M248.9 181.0h1M226.5 141.6h1M203.8 177.2h1M227.9 149.3h1M240.8 144.5h1M259.3 156.4h1M251.7 173.1h1M219.4 193.7h1M258.7 142.0h1M221.2 194.0h1M206.4 168.4h1M239.2 188.1h1M235.9 145.0h1M211.6 165.5h1M223.0 154.2h1M209.7 176.6h1M254.0 171.6h1M210.4 167.8h1M258.3 158.8h1M251.7 173.6h1M254.8 168.0h1M223.6 193.7h1M256.8 168.0h1M239.0 142.5h1M240.9 143.5h1M246.9 180.6h1M239.3 145.4h1M260.8 159.2h1M226.4 193.1h1M228.0 145.5h1M218.3 151.1h1M259.4 157.5h1M234.0 145.6h1M259.7 158.9h1M227.0 148.3h1M239.2 139.3h1M255.8 176.9h1M256.5 162.4h1M258.3 155.5h1M207.8 182.5h1M247.6 179.8h1M259.3 162.7h1M257.3 154.8h1M253.7 146.5h1M221.5 153.1h1M219.1 158.7h1M212.7 188.9h1M230.2 146.4h1M226.3 148.6h1M220.3 153.2h1M247.1 179.2h1M258.8 163.1h1M231.7 145.8h1M210.7 163.9h1M211.4 167.7h1M256.2 148.1h1M213.1 167.3h1M244.7 183.7h1M244.9 144.5h1M252.3 183.5h1M212.4 187.8h1M215.0 163.9h1M229.2 197.5h1M245.2 184.9h1M219.7 157.7h1M204.6 184.7h1M222.0 193.5h1M253.7 171.1h1M236.3 143.9h1M254.3 145.8h1M258.1 162.6h1M242.1 186.3h1M240.7 186.6h1M213.7 159.4h1M228.8 145.1h1M261.4 161.2h1M239.7 145.4h1M227.9 149.3h1M258.8 156.7h1M208.4 174.2h1M244.0 185.8h1M212.6 165.0h1M258.2 150.0h1M258.1 148.2h1M247.0 179.2h1M260.2 159.1h1M258.3 143.6h1M259.4 139.2h1M243.0 185.6h1M218.9 158.9h1M252.8 144.4h1M230.8 196.5h1M240.7 187.5h1M256.2 173.5h1M257.2 173.0h1M253.4 171.6h1M249.9 178.4h1M254.6 147.9h1M251.2 175.0h1M216.6 152.3h1M258.0 158.8h1M257.4 155.5h1M251.9 173.8h1M214.8 163.4h1M231.6 192.6h1M244.1 143.8h1M243.4 188.6h1M216.0 190.5h1M234.8 193.5h1M257.5 156.5h1M226.2 146.3h1M219.8 152.1h1M250.6 143.2h1M210.4 163.5h1M248.9 176.9h1M233.8 145.0h1M216.6 192.4h1M213.2 157.4h1M243.0 184.9h1M238.5 144.6h1M248.2 142.4h1M211.5 160.8h1M208.3 174.4h1M212.6 166.7h1M252.0 138.4h1M251.3 177.2h1M257.4 160.4h1M215.2 189.8h1M240.8 191.5h1M239.8 187.9h1M250.7 182.8h1M237.9 190.4h1M209.7 161.9h1M240.7 143.6h1M228.7 147.7h1M210.3 181.7h1M213.8 166.1h1M224.9 150.1h1M246.3 184.9h1M224.7 146.4h1M213.5 156.1h1M210.5 190.7h1M256.7 147.3h1M208.1 181.0h1M241.9 188.6h1M251.4 174.3h1M209.6 173.2h1M226.2 149.3h1M234.8 145.7h1M220.1 192.4h1M238.6 189.4h1M233.0 142.9h1M212.6 189.7h1M218.0 194.1h1M256.7 145.6h1M236.6 194.4h1M257.2 162.7h1M232.6 146.8h1M211.1 184.6h1M211.4 191.4h1M234.3 146.3h1M247.8 144.2h1M246.4 136.6h1M261.2 157.0h1M210.4 172.7h1M259.0 167.5h1M210.6 182.4h1M209.1 184.0h1M243.1 144.2h1M247.4 180.8h1M209.5 183.5h1M242.3 187.0h1M234.3 196.3h1M247.3 186.9h1M260.3 159.5h1M248.7 179.1h1M237.4 189.9h1M259.3 163.3h1M208.5 177.0h1M211.7 169.5h1M257.3 154.7h1M228.8 148.4h1M238.3 191.2h1M228.0 197.4h1M215.5 191.7h1M244.4 182.2h1M215.0 158.3h1M206.6 173.2h1M232.9 192.3h1M249.8 144.5h1M210.2 186.9h1M256.2 170.4h1M258.4 153.5h1M229.9 194.5h1M245.9 181.0h1M210.1 184.1h1M209.1 179.7h1M210.7 165.6h1M212.2 166.9h1M217.6 160.1h1M260.0 162.8h1M209.6 182.4h1M225.5 150.3h1M207.7 175.4h1M263.5 154.7h1M242.6 184.3h1M208.0 184.2h1M230.5 142.6h1M203.1 183.9h1M209.5 174.6h1M247.8 142.8h1M226.8 193.9h1M234.0 145.7h1M221.9 153.6h1M209.1 183.1h1M209.4 187.1h1M217.4 156.8h1M256.9 164.2h1M241.5 143.8h1M238.2 139.8h1M227.0 148.1h1M212.1 188.9h1M226.3 193.9h1M249.1 179.7h1M207.6 174.3h1M258.3 168.3h1M220.1 150.8h1M254.3 170.1h1M257.9 178.9h1M243.9 140.2h1M237.2 145.6h1M241.8 186.7h1M257.0 162.1h1M230.9 146.7h1M254.3 142.6h1M242.9 144.7h1M236.8 193.4h1M212.7 189.5h1M255.2 170.0h1M230.0 146.8h1M213.0 166.1h1M229.5 148.0h1M214.3 164.9h1M212.4 166.9h1M255.4 148.6h1M226.0 193.8h1M234.2 145.0h1M247.3 143.4h1M245.9 181.4h1M209.5 178.6h1M208.2 178.2h1M220.4 148.9h1M237.0 191.9h1M231.4 146.7h1M259.7 169.5h1M251.0 144.6h1M222.1 155.2h1M232.6 193.6h1M256.5 148.9h1M245.1 181.5h1M250.5 175.4h1M211.7 164.8h1M237.0 193.8h1M239.9 144.7h1M257.4 157.7h1M211.6 169.3h1M240.4 187.5h1M208.8 185.2h1M216.8 161.1h1M231.3 193.6h1M233.7 193.3h1M248.3 142.6h1M252.0 175.7h1M206.7 166.0h1M205.9 174.4h1M219.8 151.8h1M221.1 151.4h1M238.7 190.2h1M215.7 162.1h1M225.0 152.4h1M228.7 148.8h1M230.9 146.5h1M257.3 153.3h1M238.6 194.4h1M248.5 182.6h1M243.1 184.2h1M215.7 161.9h1M257.8 163.0h1M224.7 151.8h1M257.6 158.7h1M245.8 189.0h1M250.0 143.8h1M231.0 146.1h1M219.7 155.3h1M251.0 143.9h1M220.0 157.0h1M246.7 144.2h1M257.5 158.1h1M209.8 189.2h1M241.1 186.6h1M249.8 181.8h1M238.6 135.7h1M241.0 188.7h1M251.3 177.3h1M248.9 143.6h1M234.5 145.5h1M233.7 196.5h1M221.1 194.6h1M257.5 166.1h1M239.7 142.2h1M209.0 182.2h1M226.9 149.8h1M228.8 146.7h1M205.7 183.9h1M214.0 157.6h1M211.0 183.6h1M217.5 160.4h1M252.5 175.1h1M257.0 164.0h1M257.1 149.4h1M209.7 190.4h1M253.5 170.4h1M233.8 144.5h1M235.4 146.0h1M220.4 154.1h1M223.9 151.4h1M258.4 158.1h1M246.4 181.8h1M221.9 152.8h1M247.0 142.5h1M218.3 159.5h1M255.5 148.1h1M233.3 192.3h1M255.6 149.6h1M249.8 176.6h1M209.6 179.6h1M208.9 174.0h1M226.2 150.0h1M221.5 193.7h1M257.7 157.3h1M209.8 173.6h1M208.7 175.5h1M252.2 174.9h1M211.3 162.3h1M235.7 141.3h1M256.4 165.7h1M219.3 192.7h1M250.5 144.3h1M214.1 188.9h1M257.5 154.1h1M230.5 193.4h1M218.3 159.5h1M251.1 144.1h1M249.8 177.7h1M252.0 189.5h1M258.3 161.1h1M225.4 193.8h1M215.6 162.4h1M232.3 146.7h1M230.4 140.6h1M257.5 168.6h1M255.5 149.2h1M226.4 193.1h1M214.6 159.5h1M260.2 162.1h1M246.4 141.8h1M255.4 171.0h1M247.6 141.4h1M257.7 159.8h1M240.3 142.1h1M215.1 159.0h1M236.8 191.3h1M227.8 147.5h1M237.4 192.6h1M253.2 171.6h1M216.6 190.7h1M255.0 167.4h1M210.9 168.4h1M252.2 172.7h1M225.4 149.8h1M239.6 137.5h1M258.7 175.9h1M212.6 187.6h1M245.0 142.8h1M249.2 177.2h1M243.9 189.4h1M238.2 144.6h1M227.5 147.8h1M242.3 142.3h1M256.4 168.5h1M227.5 194.0h1M233.7 146.4h1M209.9 165.6h1M252.0 176.0h1M256.9 164.1h1M232.1 195.8h1M261.8 166.2h1M245.8 181.3h1M221.0 192.8h1M213.3 166.7h1M257.0 150.1h1M218.8 156.6h1M202.2 187.5h1M219.7 154.6h1M223.0 193.9h1M255.7 170.7h1M246.3 179.8h1M218.9 191.8h1M211.2 167.6h1M254.8 148.3h1M213.2 159.1h1M259.6 161.4h1M259.3 153.8h1M245.7 143.8h1M245.4 185.4h1M258.3 160.7h1M227.8 196.3h1M231.9 192.4h1M240.0 137.3h1M239.7 139.8h1M235.5 191.1h1M239.7 144.0h1M207.6 161.6h1M250.4 179.7h1M212.3 191.6h1M209.8 182.4h1M235.3 192.3h1M227.2 194.0h1M246.3 144.4h1M229.7 193.3h1M222.1 154.7h1M255.6 167.6h1M253.2 182.6h1M249.9 143.4h1M228.1 196.4h1M239.3 143.9h1M246.9 181.5h1M217.3 154.5h1M245.1 143.7h1M256.3 150.2h1M223.2 200.5h1M227.3 148.2h1M208.6 177.5h1M257.6 153.0h1M210.0 172.3h1M246.4 143.6h1M221.0 192.7h1M246.9 143.6h1M255.6 172.1h1M228.0 197.1h1M261.7 158.7h1M247.3 142.2h1M241.2 145.1h1M214.2 189.0h1M238.0 144.9h1M211.8 192.9h1M222.6 192.8h1M236.1 145.8h1M209.9 165.8h1M250.8 176.1h1M223.1 193.4h1M257.0 149.6h1M240.6 187.5h1M212.5 165.1h1M251.4 177.6h1M224.5 195.6h1M231.1 196.5h1M255.0 168.6h1M234.5 191.9h1M248.3 181.1h1M242.5 140.5h1M254.9 148.0h1M255.7 170.4h1M247.9 143.8h1M253.4 171.6h1M263.4 156.5h1M243.4 185.4h1M232.6 146.5h1M249.0 178.0h1M255.6 149.4h1M258.0 159.7h1M259.7 148.7h1M247.8 183.6h1M221.1 149.6h1M226.1 194.8h1M238.9 143.9h1M247.9 181.0h1M257.4 160.1h1M232.0 195.2h1M248.4 144.2h1M214.0 164.4h1M251.3 175.2h1M241.9 187.5h1M260.1 147.3h1M212.3 188.1h1M228.5 193.3h1M253.0 171.8h1M236.5 145.6h1M207.8 174.4h1M259.1 152.2h1M236.6 190.3h1M218.4 192.1h1M256.7 163.6h1M230.4 137.2h1M233.4 144.2h1M246.5 142.6h1M258.2 156.7h1M255.5 147.9h1M209.9 181.3h1M238.1 144.3h1M258.7 145.4h1M207.1 173.7h1M212.4 164.1h1M256.3 145.6h1M247.7 135.7h1M251.1 176.3h1M255.3 166.9h1M239.2 138.3h1M211.8 167.8h1M225.2 150.4h1M226.2 149.5h1M259.4 168.3h1M208.9 178.1h1M212.7 164.9h1M211.9 166.6h1M257.2 171.5h1M230.4 193.8h1M224.1 150.7h1M214.7 163.8h1M210.4 181.8h1M244.1 143.8h1M210.7 172.8h1M257.5 155.1h1M209.7 193.9h1M222.1 155.2h1M258.4 157.4h1M240.6 191.5h1M228.1 193.7h1M207.9 176.6h1M230.9 141.3h1M257.8 154.7h1M210.2 195.6h1M228.2 147.3h1M254.8 167.7h1M254.0 171.8h1M240.8 190.4h1M224.7 196.0h1M247.0 178.7h1M210.5 171.6h1M245.8 144.3h1M245.0 143.9h1M240.0 188.3h1M242.6 186.3h1M210.2 181.9h1M211.2 186.1h1M212.1 159.2h1M213.4 193.0h1M242.0 195.2h1M240.6 191.9h1M241.1 143.6h1M258.1 160.4h1M253.4 175.4h1M236.3 191.1h1M255.7 148.7h1M207.3 173.2h1M208.0 168.5h1M246.5 182.0h1M209.6 176.8h1M213.1 164.4h1M207.7 157.6h1M253.7 143.1h1M261.2 144.5h1M235.9 145.8h1M213.6 166.2h1M258.0 167.3h1M245.7 184.3h1M241.9 187.5h1M258.0 153.3h1M221.4 155.8h1M206.3 183.7h1M230.8 193.3h1M213.7 192.0h1M210.4 187.8h1M218.8 158.1h1M222.8 193.0h1M223.9 152.6h1M259.2 166.3h1M249.6 179.8h1M210.8 185.3h1M240.8 141.7h1M211.8 169.0h1M247.1 180.9h1M256.5 172.0h1M258.3 145.5h1M257.2 146.5h1M216.8 194.3h1M228.5 193.8h1M211.3 169.4h1M257.1 160.3h1M211.3 162.0h1M252.9 181.6h1M228.1 193.4h1M224.8 194.4h1M257.5 144.9h1M208.0 188.0h1M239.3 189.2h1M258.4 158.1h1M258.6 160.5h1M211.8 186.9h1M250.7 174.0h1M219.4 149.1h1M217.4 192.8h1M214.4 162.9h1M249.2 176.4h1M235.8 196.1h1M251.8 145.3h1M212.1 169.2h1M253.5 171.2h1M235.5 191.9h1M229.3 148.2h1M257.9 151.0h1M256.1 149.8h1M254.9 148.4h1M250.7 178.4h1M249.3 184.6h1M255.2 169.8h1M255.2 169.0h1M226.6 150.3h1M232.7 192.8h1M210.2 183.4h1M257.6 160.7h1M244.6 143.8h1M232.4 192.6h1M251.9 142.6h1M215.0 163.7h1M252.1 143.7h1M214.5 159.8h1M214.2 164.6h1M253.2 171.3h1M216.9 192.1h1M231.2 193.4h1M209.7 171.7h1M243.9 186.7h1M216.8 154.6h1M251.3 175.5h1M222.7 152.4h1M219.3 192.5h1M249.3 143.3h1M254.1 175.9h1M206.9 185.2h1M249.2 176.3h1M254.1 171.6h1M240.8 194.5h1M232.9 146.4h1M240.9 187.1h1M259.5 153.4h1M238.7 190.5h1M209.7 170.2h1M258.6 160.3h1M243.6 184.4h1M245.1 137.3h1M226.4 193.9h1M238.7 145.0h1M250.3 177.5h1M231.5 196.3h1M206.7 169.5h1M218.2 151.3h1M210.9 169.8h1M216.5 192.4h1M240.7 143.6h1M215.8 190.7h1M230.7 147.3h1M260.4 162.4h1M224.0 151.5h1M219.0 157.6h1M219.0 158.7h1M242.2 190.0h1M257.8 156.6h1M229.3 141.0h1M250.8 174.9h1M254.1 169.9h1M253.3 139.0h1M254.7 176.2h1M211.0 170.7h1M211.1 170.9h1M240.0 187.5h1M234.1 143.7h1M213.8 159.7h1M208.0 174.5h1M256.5 151.5h1M240.6 144.5h1M241.3 142.5h1M236.7 134.1h1M221.7 154.5h1M231.0 192.8h1M235.5 134.8h1M240.8 189.8h1M258.5 147.2h1M247.7 181.3h1M219.8 155.4h1M230.0 194.6h1M213.3 193.7h1M209.1 181.9h1M245.2 143.9h1M257.4 157.4h1M259.6 163.4h1M257.7 154.3h1M249.1 143.6h1M256.3 145.4h1M207.8 177.8h1M248.6 143.7h1M211.9 186.0h1M258.9 160.3h1M210.3 169.6h1M259.1 158.4h1M229.0 202.2h1M226.0 145.5h1M242.6 141.5h1M257.4 150.7h1M230.3 143.6h1M213.8 161.2h1M258.5 164.0h1M259.7 161.4h1M213.9 161.7h1M253.9 145.3h1M217.3 191.6h1M235.6 143.4h1M238.3 189.9h1M252.0 179.3h1M251.1 142.8h1M258.0 159.9h1M257.3 161.0h1M235.2 146.1h1M212.2 167.5h1M205.3 182.0h1M242.0 141.4h1M232.0 193.0h1M252.5 171.4h1M257.7 160.7h1M206.9 181.5h1M243.1 144.4h1M227.3 193.8h1M233.6 192.7h1M239.7 189.8h1M241.6 142.6h1M252.0 145.2h1M257.6 157.1h1M217.1 154.9h1M224.2 194.1h1M218.2 192.7h1M224.8 149.8h1M211.4 169.6h1M227.0 194.7h1M216.6 190.8h1M260.1 155.6h1M219.1 197.7h1M210.1 172.9h1M219.9 197.4h1M212.4 188.4h1M251.5 140.5h1M253.4 143.8h1M227.8 148.9h1M246.3 188.6h1M221.0 194.2h1M237.3 144.9h1M239.1 189.5h1M207.0 177.9h1M222.6 199.4h1M250.5 177.6h1M242.8 144.1h1M240.9 144.2h1M219.7 195.9h1M220.4 193.4h1M213.4 152.8h1M255.0 170.3h1M257.3 157.1h1M217.8 193.5h1M257.4 152.4h1M222.7 193.8h1M244.4 143.2h1M220.8 193.7h1M242.2 141.4h1M238.7 189.0h1M251.0 175.5h1M258.3 150.9h1M212.4 165.6h1M254.0 173.0h1M229.8 147.9h1M215.3 162.6h1M231.9 144.0h1M212.3 188.7h1M226.0 146.3h1M256.5 163.1h1M246.5 183.3h1M245.5 181.3h1M248.7 143.2h1M241.0 142.6h1M218.8 152.5h1M232.5 145.6h1M249.1 144.0h1M240.5 144.4h1M239.7 142.9h1M248.4 140.8h1M208.8 170.6h1M243.3 185.8h1M249.7 180.6h1M242.0 187.7h1M227.4 149.3h1M220.3 195.2h1M213.3 163.4h1M210.1 167.3h1M257.4 146.3h1M210.3 169.4h1M248.2 182.5h1M223.8 149.4h1M258.2 167.6h1M252.9 175.0h1M212.4 168.2h1M239.9 187.4h1M207.2 175.2h1M212.8 166.5h1M234.1 145.2h1M227.5 148.9h1M210.2 181.8h1M255.9 164.9h1M221.3 194.4h1M259.6 159.3h1M257.4 153.5h1M239.2 195.7h1M251.5 143.4h1M235.3 143.3h1M211.1 194.7h1M209.9 163.8h1M246.3 180.4h1M212.0 187.7h1M247.9 186.1h1M238.9 190.0h1M225.6 194.3h1M253.9 146.1h1M209.5 179.8h1M221.1 196.2h1M247.0 185.3h1M209.3 173.4h1M243.7 138.6h1M258.0 149.7h1M208.3 183.4h1M253.3 172.1h1M257.0 152.7h1M240.4 144.1h1M206.4 177.6h1M247.4 184.1h1M241.2 143.9h1M205.3 167.2h1M256.3 146.9h1M213.6 192.7h1M260.4 165.8h1M260.6 167.9h1M208.9 181.4h1M209.0 185.3h1M219.0 155.3h1M224.6 193.4h1M252.4 173.9h1M222.5 152.4h1M255.6 149.4h1M254.4 146.8h1M260.1 156.4h1M227.4 195.8h1M250.2 177.1h1M241.8 185.4h1M214.3 195.2h1M251.8 174.4h1M257.7 146.1h1M206.7 176.1h1M236.2 141.0h1M228.1 195.2h1M210.5 172.6h1M256.1 148.8h1M257.3 152.5h1M235.7 143.9h1M267.9 168.6h1M238.2 190.5h1M231.4 192.9h1M219.2 156.5h1M232.1 139.6h1M231.5 192.7h1M216.9 161.2h1M215.0 189.6h1M221.1 153.3h1M222.2 152.7h1M257.2 164.4h1M209.6 181.7h1M256.3 171.8h1M223.8 151.6h1M258.4 168.4h1M250.3 175.3h1M204.8 169.3h1M215.2 156.3h1M226.5 149.8h1M213.9 162.1h1M260.2 166.2h1M240.0 144.2h1M246.4 144.1h1M206.9 182.4h1M210.3 173.7h1M230.8 147.2h1M236.0 191.0h1M208.9 176.3h1M249.1 143.2h1M213.2 163.8h1M237.7 144.0h1M255.3 148.6h1M250.9 179.0h1M212.7 189.0h1M248.9 178.8h1M212.3 187.6h1M252.7 145.8h1M239.6 187.6h1M209.0 178.8h1M253.2 146.2h1M249.8 143.3h1M224.2 152.7h1M250.4 175.6h1M252.5 184.9h1M258.4 161.3h1M248.5 184.7h1M250.7 143.5h1M256.6 165.1h1M257.1 150.1h1M252.7 145.0h1M249.5 185.6h1M217.1 193.1h1M222.2 152.3h1M259.7 152.3h1M253.5 143.1h1M243.1 143.4h1M226.6 147.9h1M256.2 149.1h1M236.0 192.3h1M257.6 150.9h1M233.3 195.9h1M258.0 156.8h1M209.6 192.2h1M229.6 196.9h1M260.3 177.2h1M248.6 176.5h1M226.4 149.7h1M229.6 145.8h1M244.8 186.6h1M260.7 161.1h1M225.9 197.2h1M242.7 143.8h1M209.3 169.5h1M240.7 189.7h1M211.6 185.7h1M222.6 154.9h1M247.2 141.0h1M213.7 163.9h1M207.4 184.2h1M211.0 183.7h1M224.5 150.1h1M244.7 184.3h1M222.8 193.6h1M263.3 153.5h1M256.0 183.7h1M220.8 156.9h1M251.7 144.9h1M234.2 192.0h1M237.3 190.9h1M215.9 190.6h1M254.2 170.1h1M223.3 150.0h1M229.4 193.8h1M208.2 178.6h1M253.8 173.1h1M235.3 192.2h1M246.8 181.5h1M229.8 146.4h1M210.4 187.5h1M229.5 194.1h1M226.4 148.9h1M218.9 158.2h1M257.9 152.7h1M212.7 167.3h1M252.6 171.6h1M214.2 190.1h1M246.5 140.3h1M258.0 161.8h1M238.6 191.9h1M232.5 145.6h1M213.4 189.0h1M257.4 157.4h1M228.5 197.1h1M247.9 142.9h1M241.4 190.4h1M221.4 192.6h1M243.7 143.5h1M238.9 145.0h1M257.8 151.1h1M254.3 169.2h1M244.7 144.5h1M223.4 153.9h1M237.3 196.2h1M223.0 197.1h1M244.9 182.5h1M203.0 173.9h1M236.7 191.4h1M252.4 143.6h1M226.9 149.8h1M251.4 173.7h1M240.0 187.6h1M226.2 151.1h1M251.0 173.8h1M218.9 156.8h1M216.6 193.7h1M228.6 196.1h1M206.8 186.5h1M230.6 142.2h1M232.3 146.0h1M219.8 157.7h1M215.7 161.8h1M245.2 143.1h1M223.9 195.0h1M225.0 151.9h1M211.4 195.2h1M241.0 191.6h1M225.9 149.5h1M258.6 160.4h1M249.7 175.9h1M257.7 163.1h1M257.9 160.1h1M228.9 194.5h1M232.3 192.5h1M253.5 176.2h1M257.4 147.4h1M227.3 149.6h1M224.9 200.3h1M237.9 191.6h1M227.9 140.1h1M256.8 163.3h1M254.8 168.2h1M236.5 141.0h1M217.3 159.7h1M230.5 194.5h1M231.1 194.8h1M242.4 186.5h1M220.3 154.7h1M218.5 192.9h1M258.6 158.3h1M262.2 162.1h1M236.4 194.1h1M258.1 153.4h1M209.2 177.1h1M250.3 174.7h1M238.8 144.9h1M258.1 157.0h1M214.0 164.0h1M212.5 167.3h1M239.7 189.6h1M240.0 145.2h1M254.0 140.9h1M256.7 172.6h1M212.4 187.3h1M222.0 155.0h1M212.0 169.7h1M207.2 178.7h1M210.4 160.1h1M222.0 192.9h1M220.7 193.0h1M252.2 172.0h1M255.6 170.1h1M205.9 175.0h1M209.3 174.8h1M249.4 144.1h1M213.9 191.7h1M229.1 147.4h1M248.7 179.1h1M222.9 154.2h1M209.2 183.6h1M211.5 170.7h1M220.4 155.3h1M239.3 142.4h1M221.3 193.1h1M260.3 162.3h1M253.8 146.5h1M257.9 156.1h1M218.6 154.6h1M216.7 194.5h1M221.8 152.2h1M258.6 151.1h1M223.6 153.8h1M221.5 192.9h1M222.7 152.0h1M210.3 181.8h1M257.2 153.1h1M256.5 149.0h1M216.8 157.9h1M208.3 191.0h1M212.1 167.9h1M262.8 159.0h1M215.1 190.2h1M257.7 164.2h1M228.9 147.5h1M257.6 157.7h1M257.6 160.1h1M247.2 144.3h1M236.6 192.2h1M234.0 192.8h1M230.1 193.5h1M237.1 140.6h1M258.0 165.0h1M257.2 167.0h1M258.0 166.4h1M261.8 151.0h1M237.9 189.3h1M208.6 176.4h1M236.2 191.2h1M229.3 147.9h1M253.2 170.6h1M210.0 180.7h1M229.0 193.9h1M207.8 180.8h1M235.4 192.6h1M234.3 193.6h1M256.1 166.0h1M253.5 172.5h1M215.9 190.4h1M212.3 160.6h1M243.6 184.6h1M214.6 162.8h1M260.7 160.0h1M251.4 173.0h1M228.1 193.0h1M256.2 147.3h1M216.0 159.4h1M221.6 155.4h1M253.9 173.7h1M265.3 168.3h1M208.4 187.2h1M228.7 147.5h1M215.5 161.9h1M249.7 176.7h1M248.8 179.5h1M208.7 189.7h1M243.9 193.6h1M221.6 192.7h1M212.1 167.3h1M232.7 145.1h1M217.6 194.9h1M242.9 187.6h1M254.7 168.5h1M258.7 160.7h1M241.1 187.6h1M212.9 189.9h1M259.0 154.0h1M254.6 147.4h1M257.0 153.3h1M237.6 192.0h1M260.1 145.7h1M215.7 161.0h1M254.2 175.8h1M235.7 141.8h1M228.2 193.8h1M201.7 190.4h1M207.8 177.6h1M258.1 150.5h1M258.4 152.3h1M259.4 157.6h1M210.8 186.6h1M212.8 189.4h1M228.9 143.4h1M242.7 188.1h1M213.9 163.3h1M229.7 193.4h1M200.5 170.7h1M248.5 180.6h1M221.1 151.0h1M254.2 144.8h1M206.5 170.6h1M208.1 178.1h1M252.6 172.9h1M244.2 185.4h1M222.4 193.1h1M207.8 173.7h1M239.2 188.7h1M224.0 152.7h1M220.1 153.1h1M211.4 170.1h1M243.9 186.0h1M246.6 180.1h1M256.6 176.3h1M219.5 154.8h1M237.3 191.1h1M216.8 192.4h1M209.4 190.2h1M210.5 182.2h1M252.4 176.4h1M236.0 194.0h1M244.5 183.1h1M208.7 166.6h1M229.5 195.6h1M219.9 152.1h1M224.7 148.7h1M249.1 177.8h1M208.8 175.0h1M210.3 183.9h1M215.5 162.9h1M239.1 189.8h1M213.3 166.1h1M244.6 184.1h1M211.8 167.3h1M236.5 145.7h1M245.5 138.5h1M220.7 155.1h1M219.1 154.7h1M256.1 143.0h1M209.5 170.6h1M215.8 162.7h1M256.1 150.3h1M229.9 193.5h1M234.8 195.0h1M209.5 171.7h1M213.7 188.6h1M230.3 194.7h1M214.4 164.3h1M244.0 140.3h1M241.6 185.4h1M212.7 190.7h1M233.0 145.9h1M246.1 184.9h1M220.7 196.1h1M256.1 166.6h1M250.2 178.5h1M224.2 153.1h1M257.5 164.1h1M232.2 194.2h1M239.1 143.7h1M229.4 193.8h1M229.5 195.0h1M241.8 143.7h1M256.9 175.0h1M223.1 193.7h1M255.2 147.1h1M247.7 182.1h1M207.6 181.6h1M240.4 144.3h1M236.6 143.9h1M234.5 191.7h1M244.1 142.7h1M211.4 186.6h1M222.0 154.7h1M246.2 180.6h1M254.5 147.2h1M208.6 177.5h1M218.2 152.7h1M246.4 142.8h1M211.6 186.3h1M212.8 187.3h1M208.8 168.0h1M259.7 157.5h1M248.3 178.7h1M208.9 183.8h1" fill="none" stroke="#c47a12" stroke-width="1" stroke-opacity="0.85" filter="url(#b3)"/>
<path d="M238.4 146.9L238.8 146.8L239.3 146.7L239.7 146.6L240.2 146.5L240.6 146.4L241.1 146.3L241.6 146.2L242.0 146.1L242.5 146.1L243.0 146.0L243.5 145.9L244.0 145.8L244.5 145.7L245.0 145.7L245.5 145.6L246.0 145.6L246.4 145.5L246.9 145.5L247.4 145.5L247.8 145.5L248.2 145.5L248.6 145.6L249.0 145.6L249.4 145.7L249.7 145.8L250.0 145.9L250.4 146.1L250.7 146.2L251.0 146.4L251.3 146.5L251.5 146.7L251.8 146.9L252.1 147.1L252.3 147.4L252.5 147.6L252.8 147.8L253.0 148.1L253.2 148.4L253.4 148.6L253.6 148.9L253.8 149.2L254.0 149.4L254.1 149.7L254.3 150.0L254.5 150.3L254.6 150.6L254.8 150.9L254.9 151.1L255.1 151.4L255.2 151.7L255.3 152.0L255.4 152.4L255.5 152.7L255.6 153.0L255.7 153.3L255.8 153.6L255.8 154.0L255.9 154.3L255.9 154.7L256.0 155.0L256.0 155.4L256.1 155.7L256.1 156.1L256.1 156.4L256.1 156.8L256.1 157.2L256.1 157.5L256.1 157.9L256.1 158.3L256.0 158.6L256.0 159.0L256.0 159.4L255.9 159.7L255.8 160.1L255.8 160.5L255.7 160.9L255.6 161.3L255.5 161.7L255.4 162.1L255.3 162.5L255.2 162.9L255.0 163.2L254.9 163.6L254.8 164.0L254.6 164.4L254.5 164.8L254.3 165.2L254.2 165.6L254.0 166.0L253.8 166.4L253.7 166.8L253.5 167.1L253.3 167.5L253.2 167.8L253.0 168.2L252.8 168.5L252.6 168.9L252.4 169.2L252.2 169.5L252.0 169.8L251.8 170.1L251.6 170.5L251.4 170.8L251.2 171.1L251.0 171.4L250.8 171.7L250.6 171.9L250.3 172.2L250.1 172.5L249.9 172.8L249.7 173.1L249.4 173.4L249.2 173.6L249.0 173.9L248.7 174.2L248.5 174.5L248.3 174.8L248.0 175.1L247.8 175.4L247.6 175.6L247.4 175.9L247.1 176.2L246.9 176.5L246.7 176.9L246.5 177.2L246.2 177.5L246.0 177.8L245.8 178.1L245.5 178.4L245.3 178.8L245.1 179.1L244.8 179.4L244.6 179.7L244.4 180.1L244.1 180.4L243.9 180.7L243.6 181.1L243.4 181.4L243.2 181.7L242.9 182.0L242.6 182.4L242.4 182.7L242.1 183.0L241.8 183.3L241.6 183.6L241.3 183.9L241.0 184.2L240.7 184.6L240.4 184.9L240.1 185.2L239.8 185.6L239.5 185.9L239.2 186.2L238.9 186.5L238.6 186.9L238.3 187.2L237.9 187.5L237.6 187.8L237.3 188.1L236.9 188.4L236.6 188.7L236.2 189.0L235.9 189.2L235.5 189.5L235.1 189.7L234.8 189.9L234.4 190.1L234.0 190.3L233.7 190.5L233.3 190.6L232.9 190.8L232.5 190.9L232.1 191.0L231.7 191.1L231.3 191.2L230.8 191.3L230.4 191.4L230.0 191.5L229.6 191.5L229.1 191.6L228.7 191.6L228.3 191.7L227.8 191.7L227.4 191.7L227.0 191.7L226.6 191.7L226.2 191.7L225.7 191.7L225.3 191.7L224.9 191.7L224.5 191.6L224.1 191.6L223.7 191.5L223.3 191.5L222.9 191.4L222.5 191.3L222.1 191.3L221.7 191.2L221.3 191.1L220.9 191.0L220.6 190.9L220.2 190.8L219.8 190.6L219.4 190.5L219.0 190.3L218.6 190.2L218.3 190.0L217.9 189.9L217.6 189.7L217.2 189.5L216.9 189.3L216.6 189.1L216.3 188.9L216.0 188.7L215.7 188.5L215.4 188.2L215.1 188.0L214.9 187.7L214.6 187.4L214.4 187.1L214.2 186.8L213.9 186.5L213.7 186.2L213.5 185.9L213.3 185.5L213.1 185.2L212.9 184.8L212.8 184.5L212.6 184.1L212.5 183.7L212.3 183.4L212.2 183.0L212.0 182.6L211.9 182.3L211.8 181.9L211.7 181.6L211.6 181.2L211.5 180.9L211.4 180.6L211.3 180.3L211.2 179.9L211.2 179.6L211.1 179.3L211.1 179.0L211.0 178.8L211.0 178.5L211.0 178.2L210.9 177.9L210.9 177.6L210.9 177.4L210.9 177.1L210.9 176.8L211.0 176.5L211.0 176.3L211.0 176.0L211.1 175.7L211.1 175.4L211.2 175.1L211.3 174.8L211.4 174.5L211.5 174.1L211.6 173.8L211.7 173.5L211.8 173.1L211.9 172.8L212.1 172.4L212.2 172.0L212.4 171.6L212.6 171.2L212.7 170.8L212.9 170.4L213.1 170.0L213.4 169.5L213.6 169.1L213.8 168.7L214.0 168.3L214.3 167.8L214.5 167.4L214.7 167.0L215.0 166.6L215.2 166.2L215.4 165.8L215.7 165.4L215.9 165.0L216.1 164.7L216.4 164.3L216.6 164.0L216.8 163.6L217.0 163.3L217.3 163.0L217.5 162.7L217.7 162.4L217.9 162.1L218.1 161.9L218.3 161.6L218.6 161.3L218.8 161.1L219.0 160.8L219.2 160.6L219.5 160.3L219.7 160.1L219.9 159.8L220.1 159.6L220.4 159.3L220.6 159.1L220.9 158.8L221.1 158.6L221.4 158.3L221.6 158.1L221.9 157.8L222.1 157.6L222.4 157.3L222.7 157.0L222.9 156.7L223.2 156.4L223.5 156.0L223.8 155.7L224.1 155.4L224.4 155.0L224.7 154.7L225.0 154.3L225.3 153.9L225.7 153.6L226.0 153.2L226.3 152.8L226.6 152.5L227.0 152.1L227.3 151.8L227.6 151.4L228.0 151.1L228.3 150.8L228.6 150.5L229.0 150.2L229.3 149.9L229.7 149.6L230.0 149.4L230.3 149.2L230.7 149.0L231.0 148.8L231.3 148.6L231.7 148.5L232.0 148.3L232.3 148.2L232.7 148.1L233.0 148.0L233.4 147.9L233.7 147.8L234.0 147.7L234.4 147.6L234.7 147.5L235.1 147.5L235.4 147.4L235.8 147.3L236.2 147.3L236.5 147.2L236.9 147.2L237.3 147.1L237.7 147.0L238.0 147.0Z" fill="#c47a12" filter="url(#b1)"/>
<path d="M255.6 164.3h1M247.6 174.5h1M216.1 163.7h1M211.4 179.7h1M241.4 183.1h1M245.5 175.7h1M216.9 188.1h1M257.8 158.0h1M211.9 179.9h1M231.8 150.3h1M253.8 166.4h1M231.5 148.3h1M212.5 180.5h1M252.6 145.8h1M235.2 186.9h1M225.2 154.6h1M209.3 176.7h1M247.8 175.8h1M212.3 172.1h1M256.7 163.1h1M249.8 146.6h1M256.7 154.5h1M245.1 176.7h1M233.7 189.4h1M252.3 168.3h1M219.8 163.2h1M254.7 158.8h1M253.5 150.8h1M251.3 146.6h1M216.2 188.9h1M222.1 158.1h1M216.0 188.2h1M229.6 149.0h1M211.2 172.8h1M221.4 156.0h1M229.8 150.3h1M223.0 189.7h1M231.3 150.3h1M229.7 190.3h1M250.4 168.4h1M234.6 188.0h1M211.5 181.4h1M248.6 177.2h1M227.8 153.7h1M253.3 167.8h1M245.6 176.8h1M253.7 168.2h1M243.3 178.4h1M239.8 147.6h1M212.8 186.1h1M251.6 170.4h1M248.6 145.4h1M215.3 186.1h1M253.9 156.5h1M249.6 173.1h1M236.9 189.1h1M255.9 153.0h1M254.0 161.8h1M233.3 191.9h1M231.9 188.7h1M252.1 166.6h1M249.7 171.9h1M250.3 169.2h1M251.4 167.3h1M232.0 191.8h1M254.2 161.0h1M230.0 191.5h1M253.4 166.0h1M219.4 158.2h1M256.7 157.1h1M223.3 157.5h1M254.5 156.9h1M215.0 170.4h1M216.2 186.4h1M254.8 160.7h1M213.0 168.0h1M251.8 165.7h1M250.0 148.0h1M214.9 186.6h1M224.2 191.2h1M212.3 185.7h1M257.7 156.0h1M253.9 166.6h1M212.4 178.4h1M250.2 145.9h1M224.1 155.4h1M237.8 186.9h1M214.3 186.9h1M248.5 173.8h1M254.6 156.8h1M240.5 146.5h1M254.8 161.0h1M223.3 155.9h1M234.6 146.4h1M237.2 189.5h1M242.9 181.4h1M252.2 170.1h1M234.5 148.9h1M247.1 146.2h1M239.6 185.2h1M257.6 155.5h1M255.8 166.1h1M214.0 165.3h1M254.6 160.2h1M222.0 191.5h1M244.4 180.9h1M228.1 192.7h1M248.2 177.6h1M250.7 170.5h1M251.4 170.2h1M250.8 146.2h1M232.3 192.1h1M224.0 154.3h1M231.9 149.2h1M242.9 146.5h1M228.3 151.1h1M254.0 149.4h1M214.1 170.7h1M224.9 151.9h1M257.0 155.4h1M248.4 177.2h1M243.2 182.0h1M244.4 177.6h1M227.1 189.9h1M240.1 147.6h1M237.6 185.3h1M224.2 154.6h1M251.3 145.9h1M231.8 192.3h1M231.7 190.9h1M214.3 164.9h1M233.9 147.8h1M210.6 175.3h1M251.7 169.3h1M209.7 181.0h1M245.1 177.9h1M213.9 167.4h1M209.7 180.1h1M235.3 145.9h1M223.7 157.0h1M245.6 147.6h1M251.7 172.0h1M223.8 157.4h1M217.3 187.2h1M247.1 178.9h1M246.5 145.8h1M214.9 168.4h1M239.3 147.8h1M250.9 147.5h1M237.6 146.3h1M216.0 167.0h1M223.9 156.4h1M232.2 190.7h1M254.8 155.5h1M224.5 193.1h1M237.5 186.4h1M255.9 154.8h1M253.9 155.5h1M254.2 168.2h1M231.5 149.2h1M237.0 147.9h1M212.9 176.3h1M212.6 173.6h1M212.6 172.5h1M226.9 191.9h1M254.8 156.6h1M225.1 155.8h1M224.1 154.0h1M212.1 175.4h1M229.5 149.0h1M235.8 147.1h1M229.2 192.5h1M215.7 169.9h1M215.2 187.0h1M253.4 148.5h1M249.6 175.2h1M248.3 147.6h1M224.1 153.3h1M241.9 145.8h1M224.1 192.3h1M253.8 156.8h1M256.6 152.1h1M255.9 155.3h1M225.1 155.8h1M230.1 190.3h1M247.4 178.1h1M238.9 148.9h1M222.9 190.9h1M250.2 173.5h1M242.1 179.8h1M212.5 177.3h1M253.6 149.7h1M212.3 168.3h1M224.4 153.7h1M232.3 189.4h1M236.2 186.6h1M256.0 151.8h1M239.1 187.3h1M212.7 167.3h1M240.9 186.6h1M214.1 186.6h1M245.3 147.5h1M254.5 162.4h1M253.7 160.3h1M236.2 147.2h1M245.3 145.0h1M254.4 162.1h1M243.7 147.7h1M214.3 183.8h1M211.4 182.7h1M245.2 177.4h1M243.7 146.3h1M237.0 187.5h1M256.1 155.9h1M238.3 186.7h1M243.2 180.5h1M254.8 163.0h1M220.0 158.3h1M211.9 177.5h1M232.5 188.5h1M242.2 185.4h1M252.9 148.4h1M215.4 189.1h1M228.7 190.2h1M228.3 153.5h1M234.4 147.0h1M217.7 162.4h1M223.6 156.6h1M230.1 192.3h1M243.0 180.9h1M231.8 189.1h1M224.8 193.4h1M217.7 161.3h1M254.2 153.6h1M216.6 188.3h1M227.0 152.1h1M253.5 162.3h1M250.2 170.7h1M221.7 160.3h1M213.8 182.3h1M233.6 147.3h1M213.6 183.8h1M231.3 147.1h1M220.6 161.7h1M210.4 180.4h1M254.4 158.1h1M253.9 161.5h1M222.4 156.2h1M245.4 175.8h1M210.5 178.3h1M237.7 188.5h1M235.2 190.9h1M240.0 145.4h1M218.6 161.1h1M249.3 174.3h1M246.0 176.4h1M248.6 146.8h1M213.1 186.8h1M216.8 167.5h1M227.7 192.8h1M232.1 190.7h1M216.1 167.8h1M251.1 147.9h1M223.8 190.3h1M215.1 171.0h1M243.2 179.5h1M222.7 154.5h1M234.6 189.3h1M254.9 148.2h1M235.3 146.2h1M234.3 188.0h1M213.6 169.3h1M249.8 146.2h1M219.1 163.7h1M256.2 152.9h1M253.5 150.4h1M252.2 170.2h1M238.9 187.5h1M231.9 191.7h1M238.3 187.7h1M243.9 146.9h1M216.2 189.3h1M212.2 170.7h1M235.8 147.6h1M221.4 191.5h1M229.1 148.5h1M232.8 149.5h1M253.7 161.4h1M247.8 146.1h1M257.2 155.6h1M213.8 171.1h1M254.6 168.6h1M252.4 148.9h1M230.3 147.4h1M209.8 178.8h1M232.8 147.8h1M248.0 176.7h1M254.5 158.5h1M253.3 152.1h1M232.1 150.7h1M254.2 155.1h1M216.8 163.4h1M253.4 160.9h1M224.3 158.0h1M246.8 145.4h1M243.3 182.4h1M239.9 183.3h1M235.3 146.3h1M227.6 154.0h1M243.0 182.8h1M237.3 186.2h1M210.2 174.1h1M211.9 185.1h1M225.0 152.2h1M211.4 178.1h1M227.2 193.0h1M225.9 152.2h1M248.4 177.3h1M243.8 180.6h1M246.3 179.2h1M230.6 189.6h1M244.3 147.6h1M234.5 187.6h1M247.0 173.6h1M252.7 165.3h1M254.1 166.2h1M216.4 164.1h1M243.3 183.7h1M236.0 149.1h1M240.1 186.3h1M211.3 176.9h1M249.6 173.4h1M220.5 161.7h1M253.6 161.2h1M251.9 169.9h1M251.8 172.8h1M254.3 150.3h1M213.2 169.7h1M237.8 188.0h1M253.1 150.5h1M224.4 192.7h1M231.0 189.9h1M228.5 191.1h1M211.9 175.0h1M248.6 144.3h1M230.9 192.4h1M246.5 145.9h1M235.8 149.3h1M213.5 181.4h1M254.1 155.6h1M227.8 150.1h1M256.5 156.4h1M244.3 178.4h1M245.9 147.2h1M244.9 181.9h1M210.8 171.8h1M252.3 150.3h1M214.8 166.3h1M239.2 187.9h1M216.8 163.3h1M257.3 156.1h1M228.3 153.8h1M212.2 172.8h1M245.9 146.8h1M232.9 191.8h1M248.2 145.9h1M211.1 173.2h1M244.3 179.8h1M214.7 166.8h1M224.6 154.2h1M256.8 156.6h1M218.7 163.1h1M242.6 183.0h1M241.7 181.6h1M213.7 182.0h1M235.1 147.9h1M210.7 178.8h1M256.0 163.4h1M238.9 146.5h1M252.5 149.0h1M249.5 171.2h1M248.7 145.2h1M248.0 146.6h1M230.8 147.2h1M255.6 153.2h1M247.0 176.7h1M233.9 146.7h1M224.9 193.3h1M211.1 177.5h1M249.8 170.0h1M211.7 180.9h1M257.6 154.8h1M246.9 178.8h1M226.4 151.2h1M213.4 173.4h1M234.1 188.8h1M235.6 191.2h1M213.3 171.1h1M241.5 184.4h1M237.3 187.3h1M220.1 190.4h1M220.6 191.9h1M234.5 190.0h1M216.3 187.5h1M255.5 152.8h1M212.5 171.4h1M255.6 154.9h1M218.9 163.6h1M219.0 191.8h1M230.5 150.0h1M238.7 185.4h1M213.7 181.5h1M249.2 144.9h1M249.6 173.4h1M256.8 154.2h1M210.4 181.0h1M254.2 149.1h1M229.1 189.9h1M253.2 166.8h1M256.8 155.4h1M218.3 162.6h1M253.7 165.7h1M249.2 147.5h1M241.0 182.6h1M255.3 161.3h1M210.5 174.3h1M215.9 186.0h1M231.1 146.8h1M223.2 159.3h1M249.8 174.1h1M223.0 157.7h1M253.0 166.6h1M223.2 159.2h1M255.1 152.2h1M228.8 149.1h1M220.3 191.6h1M234.1 188.1h1M241.5 185.8h1M243.6 181.9h1M255.1 154.1h1M213.4 185.4h1M245.3 179.5h1M224.0 153.8h1M254.5 149.4h1M232.8 188.4h1M218.3 188.1h1M213.5 173.2h1M210.4 183.2h1M238.1 187.0h1M211.6 172.0h1M211.8 175.2h1M242.1 181.8h1M238.6 188.3h1M246.1 179.6h1M214.3 165.8h1M256.3 151.7h1M219.2 162.7h1M217.0 190.3h1M244.5 181.8h1M231.3 149.5h1M233.3 149.4h1M234.6 149.0h1M251.2 148.1h1M230.8 191.0h1M227.3 149.5h1M239.9 146.6h1M250.6 173.2h1M234.4 189.6h1M251.8 170.3h1M218.7 192.0h1M224.4 191.6h1M221.4 159.1h1M252.6 164.7h1M214.8 169.5h1M230.3 192.4h1M233.2 146.1h1M223.2 158.5h1M241.8 146.9h1M240.8 184.2h1M253.4 167.1h1M231.3 192.7h1M238.3 149.0h1M218.3 191.1h1M248.2 147.7h1M213.6 170.4h1M257.5 160.1h1M234.3 189.9h1M212.6 185.2h1M227.7 151.5h1M245.0 176.8h1M212.0 181.1h1M243.6 144.7h1M247.6 147.3h1M237.9 186.8h1M216.7 190.5h1M250.6 170.5h1M213.5 171.0h1M248.2 175.3h1M253.4 169.9h1M210.5 177.0h1M210.5 175.2h1M235.9 149.2h1M256.0 150.1h1M251.4 147.3h1M220.7 161.2h1M253.2 170.9h1M227.2 151.8h1M219.5 190.4h1M215.7 188.9h1M239.6 148.3h1M220.4 190.0h1M224.2 156.2h1M237.6 146.5h1M241.4 180.9h1M254.1 155.5h1M227.2 152.9h1M238.7 185.0h1M234.7 188.4h1M233.4 190.5h1M222.5 192.5h1M247.4 147.7h1M240.8 147.6h1M214.8 167.9h1M214.7 184.7h1M241.3 183.5h1M211.7 182.6h1M212.5 175.2h1M251.7 172.5h1M240.5 182.4h1M255.2 166.5h1M255.3 151.2h1M216.2 190.4h1M212.4 171.2h1M214.6 188.6h1M254.1 167.7h1M212.2 184.7h1M238.6 184.4h1M236.0 188.6h1M240.7 147.0h1M215.0 166.2h1M225.9 152.4h1M249.6 170.9h1M245.0 180.5h1M230.6 190.7h1M241.4 184.4h1M245.0 181.3h1M215.1 171.3h1M214.1 182.0h1M248.6 175.4h1M213.1 185.1h1M211.3 178.7h1M237.7 188.8h1M253.0 168.0h1M221.5 155.7h1M239.4 145.1h1M213.4 174.5h1M218.9 163.3h1M254.0 160.9h1M220.2 189.6h1M236.1 146.7h1M250.2 173.2h1M214.3 187.4h1M238.8 185.0h1M237.4 189.1h1M214.6 169.8h1M223.0 192.6h1M251.5 170.2h1M212.3 171.1h1M221.6 189.8h1M249.6 173.7h1M215.8 189.6h1M211.3 170.5h1M247.9 144.5h1M255.6 155.0h1M246.1 179.9h1M255.1 167.3h1M220.1 191.5h1M245.9 146.3h1M229.1 151.7h1M212.1 171.7h1M238.6 185.7h1M255.0 153.4h1M247.7 147.5h1M211.5 170.6h1M220.4 189.4h1M240.6 187.1h1M248.3 174.4h1M246.7 144.9h1M214.4 169.0h1M255.8 161.5h1M251.9 168.7h1M255.6 164.8h1M220.5 189.6h1M250.4 171.1h1M253.7 147.6h1M222.8 155.1h1M257.3 156.3h1M256.3 162.5h1M211.2 170.4h1M234.3 188.7h1M230.4 149.9h1M226.4 153.1h1M221.0 190.2h1M255.6 155.0h1M249.8 173.9h1M212.1 181.0h1M249.2 171.5h1M227.6 191.5h1M252.3 150.6h1M221.2 189.4h1M231.7 150.7h1M215.1 185.9h1M250.8 171.0h1M252.6 149.4h1M217.0 187.6h1M222.2 190.3h1M213.6 169.6h1M239.2 146.9h1M257.3 152.7h1M213.3 188.3h1M218.5 191.4h1M211.9 176.3h1M224.9 152.1h1M215.7 168.1h1M214.5 188.4h1M237.9 147.8h1M247.6 177.6h1M252.8 164.9h1M251.7 168.5h1M215.1 184.7h1M253.8 149.2h1M241.1 185.8h1M245.3 177.8h1M254.7 148.7h1M220.2 160.9h1M218.7 158.7h1M255.0 167.4h1M249.9 148.2h1M214.9 185.4h1M253.8 160.4h1M217.9 189.8h1M242.4 184.0h1M221.9 156.4h1M248.8 174.0h1M226.7 191.1h1M250.2 145.2h1M242.9 179.6h1M225.8 151.6h1M253.5 152.9h1M212.8 168.8h1M236.2 189.9h1M220.6 190.8h1M224.6 152.1h1M227.5 152.9h1M236.3 186.8h1M237.9 148.6h1M250.2 170.0h1M255.7 163.2h1M215.9 186.5h1M216.8 190.3h1M226.4 191.6h1M249.1 173.6h1M237.1 187.1h1M222.7 192.3h1M243.0 148.1h1M247.9 145.1h1M244.2 145.6h1M220.3 159.4h1M213.2 187.2h1M247.3 172.7h1M218.7 190.8h1M225.9 156.4h1M252.4 147.0h1M255.9 159.3h1M247.0 175.8h1M235.2 189.9h1M244.0 178.7h1M222.7 159.4h1M223.3 189.8h1M249.7 144.9h1M251.5 167.4h1M228.3 191.3h1M215.2 169.7h1M214.0 185.8h1M238.3 146.7h1M248.4 175.8h1M213.4 187.2h1M233.0 147.4h1M234.7 187.2h1M254.5 154.8h1M255.0 163.7h1M240.8 184.7h1M253.9 149.7h1M232.4 189.7h1M234.5 147.4h1M225.4 155.7h1M216.4 188.9h1M229.7 147.8h1M213.8 185.7h1M249.6 147.6h1M211.4 182.9h1M216.6 190.6h1M211.5 184.1h1M252.6 167.6h1M211.2 172.0h1M225.1 189.6h1M234.5 149.7h1M253.1 151.0h1M225.5 193.3h1M221.0 157.2h1M254.0 155.3h1M214.1 167.1h1M229.8 148.6h1M211.5 171.0h1M212.2 182.5h1M254.9 162.1h1M230.8 151.6h1M249.5 148.0h1M244.2 180.2h1M246.6 146.7h1M233.1 188.4h1M212.4 171.5h1M229.1 190.9h1M254.0 164.6h1M214.4 185.1h1M213.9 172.2h1M252.5 166.7h1M246.9 175.7h1M257.2 161.0h1M234.1 187.9h1M247.2 145.1h1M239.9 186.8h1M249.8 147.2h1M254.4 168.7h1M237.6 148.1h1M248.8 144.4h1M248.9 170.7h1M241.8 181.0h1M219.3 159.9h1M254.5 148.1h1M229.9 150.4h1M211.5 173.5h1M226.0 152.7h1M217.7 160.8h1M218.4 188.3h1M246.1 144.1h1M225.7 151.6h1M217.8 190.5h1M257.5 155.2h1M232.9 150.1h1M255.3 154.9h1M255.0 159.0h1M216.5 187.0h1M214.2 172.1h1M254.6 150.7h1M240.9 182.9h1M235.2 188.0h1M235.0 189.9h1M232.1 190.8h1M236.5 190.5h1M241.4 145.6h1M231.0 150.3h1M218.8 189.5h1M209.5 175.4h1M211.7 181.6h1M232.4 146.6h1M222.0 190.5h1M246.6 180.0h1M212.9 169.1h1M256.3 157.3h1M215.8 190.6h1M213.1 171.9h1M219.7 191.2h1M219.8 158.3h1M255.4 152.2h1M219.1 162.5h1M231.7 150.0h1M223.0 159.8h1M242.9 182.0h1M255.7 153.5h1M216.6 188.3h1M254.0 168.6h1M210.4 176.2h1M248.3 174.4h1M212.1 173.8h1M241.0 182.2h1M233.1 192.1h1M226.7 151.1h1M241.2 184.3h1M246.4 146.6h1M233.1 146.7h1M257.3 155.1h1M252.0 172.6h1M214.9 168.3h1M239.0 147.0h1M215.1 169.4h1M230.4 190.9h1M210.3 180.9h1M246.9 177.3h1M250.1 173.3h1M232.0 147.4h1M226.4 153.8h1M213.3 184.1h1M244.1 177.0h1M251.5 147.9h1M248.2 143.9h1M252.8 169.8h1M212.3 172.1h1M254.0 168.0h1M252.1 167.1h1M225.8 192.2h1M212.9 167.0h1M236.1 147.1h1M232.9 148.0h1M220.0 190.0h1M210.9 184.3h1M245.1 175.6h1M257.1 152.4h1M211.9 186.6h1M255.4 153.4h1M226.2 154.4h1M254.0 152.8h1M210.9 181.0h1M246.8 144.6h1M210.4 178.2h1M256.5 159.4h1M214.0 181.8h1M221.4 160.3h1M242.7 147.5h1M246.2 178.0h1M254.1 150.8h1M251.6 168.9h1M243.8 177.4h1M234.8 147.8h1M245.0 181.2h1M212.1 177.9h1M253.4 170.1h1M253.3 166.0h1M240.4 182.4h1M214.3 187.7h1M217.1 189.8h1M239.2 182.8h1M255.4 157.3h1M221.5 161.1h1M221.4 190.9h1M216.3 189.8h1M212.3 172.9h1M253.9 160.7h1M231.9 147.7h1M215.1 164.4h1M215.7 163.5h1M214.3 170.9h1M255.3 160.7h1M211.6 183.1h1M252.7 165.4h1M225.4 191.8h1M225.1 153.0h1M224.9 190.6h1M248.1 144.9h1M213.2 170.7h1M235.2 148.3h1M215.7 165.9h1M212.2 181.2h1M249.6 144.9h1M250.9 170.8h1M245.7 144.2h1M241.6 186.0h1M214.6 183.8h1M218.8 161.6h1M242.8 182.1h1M243.0 180.7h1M254.8 159.3h1M246.0 144.4h1M212.8 177.8h1M237.2 187.9h1M218.2 191.7h1M212.3 176.4h1M239.8 183.3h1M221.7 158.3h1M231.7 189.5h1M224.2 191.9h1M219.2 163.0h1M248.6 171.6h1M212.9 172.8h1M250.7 168.2h1M215.3 169.2h1M215.0 187.3h1M233.3 149.3h1M232.3 189.1h1M211.6 172.5h1M248.1 145.7h1M211.8 174.6h1M223.8 190.6h1M253.6 163.6h1M217.3 163.5h1M256.6 159.4h1M228.7 193.0h1M211.0 184.4h1M251.0 146.6h1M219.6 192.3h1M254.7 147.9h1M227.5 150.9h1M255.7 163.6h1M219.1 189.9h1M231.2 150.4h1M237.0 189.6h1M240.5 147.7h1M241.6 181.0h1M216.7 188.8h1M223.8 190.3h1M233.3 148.0h1M252.3 145.4h1M253.1 149.1h1M243.0 182.2h1M236.6 187.2h1M217.4 161.0h1M255.0 156.1h1M242.6 146.7h1M212.5 176.9h1M235.1 187.4h1M245.1 146.0h1M229.9 150.3h1M245.1 145.2h1M231.9 189.8h1M244.0 179.0h1M232.8 149.7h1M238.5 186.5h1M255.5 161.2h1M223.9 158.3h1M226.7 191.4h1M254.8 154.2h1M256.3 150.2h1M216.7 187.7h1M247.8 147.0h1M245.8 178.0h1M211.0 178.8h1M211.2 174.3h1M213.7 181.5h1M256.1 151.4h1M241.9 148.1h1M214.1 182.6h1M243.5 182.7h1M222.3 190.0h1M253.9 150.5h1M253.7 152.3h1M254.6 155.1h1M212.5 175.1h1M254.8 160.5h1M256.6 161.8h1M217.3 160.7h1M244.1 182.2h1M217.3 162.3h1M229.2 190.9h1M219.7 188.7h1M245.7 179.9h1M233.4 190.0h1M240.3 184.2h1M223.5 190.1h1M226.1 153.6h1M214.5 186.5h1M218.2 190.6h1M212.7 186.1h1M241.3 146.4h1M254.5 164.1h1M239.8 186.0h1M235.4 146.1h1M211.3 170.6h1M227.9 151.7h1M220.9 192.2h1M224.4 157.3h1M233.3 189.1h1M227.9 152.9h1M237.7 146.3h1M212.5 180.9h1M231.5 189.8h1M210.8 175.1h1M232.7 149.5h1M234.9 191.7h1M209.9 177.8h1M246.0 145.0h1M218.3 190.0h1M249.1 172.8h1M215.9 168.3h1M250.6 171.6h1M216.8 187.2h1M229.3 191.8h1M238.8 148.9h1M224.5 156.1h1M250.7 146.7h1M228.3 151.9h1M215.2 168.3h1M252.8 148.8h1M213.6 170.5h1M229.4 151.7h1M249.9 172.5h1M222.0 190.4h1M255.9 153.4h1M242.2 179.7h1M230.3 191.9h1M237.2 187.3h1M255.5 158.4h1M236.3 148.5h1M241.7 148.3h1M257.5 156.3h1M249.9 172.7h1M252.6 165.9h1M247.8 144.6h1M239.1 183.5h1M255.8 165.8h1M245.5 175.9h1M253.7 147.1h1M222.2 155.3h1M214.7 164.2h1M241.1 147.5h1M243.3 146.2h1M213.6 180.3h1M250.8 168.4h1M245.4 179.8h1M231.1 189.9h1M231.7 149.6h1M255.1 148.9h1M246.0 180.8h1M212.7 168.1h1M217.9 188.1h1M245.2 181.1h1M227.7 192.5h1M243.9 146.5h1M246.2 178.7h1M209.2 177.2h1M241.1 145.6h1M230.9 189.6h1M255.5 156.4h1M256.9 158.3h1M248.3 172.1h1M254.6 161.8h1M253.0 148.4h1M251.9 171.4h1M214.8 168.1h1M217.7 190.5h1M216.9 167.7h1M220.3 159.5h1M211.3 174.5h1M254.5 160.5h1M242.7 182.4h1M249.0 171.7h1M213.7 169.8h1M215.6 185.9h1M213.3 186.0h1M224.5 157.3h1M253.0 164.3h1M253.7 170.2h1M214.0 181.7h1M222.9 159.6h1M240.4 145.4h1M227.4 151.0h1M252.1 168.9h1M248.5 176.1h1M214.6 183.6h1M228.8 151.8h1M248.1 145.9h1M233.3 190.4h1M217.8 162.3h1M229.8 191.3h1M215.7 188.7h1M210.8 174.2h1M214.8 185.3h1M241.0 146.7h1M226.4 154.6h1M254.9 166.4h1M238.7 187.7h1M220.1 158.1h1M244.6 178.3h1M235.9 186.5h1M214.2 189.0h1M244.8 178.1h1M251.8 170.2h1M226.3 192.1h1M256.3 156.8h1M241.6 183.7h1M255.8 161.9h1M253.1 150.2h1M234.2 146.0h1M219.3 161.0h1M233.3 149.2h1M238.6 185.1h1M253.1 168.0h1M225.7 152.0h1M253.2 167.1h1M238.0 187.1h1M213.2 187.6h1M253.9 161.1h1M231.6 191.9h1M215.1 164.3h1M217.2 187.2h1M247.6 177.1h1M255.3 151.9h1M235.6 188.4h1M234.3 191.5h1M250.1 168.6h1M243.1 184.2h1M244.0 183.2h1M252.4 148.5h1M226.4 151.7h1M218.3 165.1h1M216.4 187.2h1M254.3 167.6h1M222.1 189.3h1M242.6 179.4h1M255.8 161.5h1M251.4 170.6h1M219.2 189.1h1M249.0 171.8h1M214.5 183.8h1M222.4 157.2h1M211.6 170.4h1M223.8 153.3h1M224.7 154.7h1M215.3 170.1h1M231.5 192.5h1M254.8 162.3h1M246.8 146.3h1M242.5 182.5h1M254.1 148.6h1M253.1 149.2h1M251.0 173.0h1M244.7 176.4h1M235.6 147.4h1M254.2 151.9h1M215.2 186.3h1M243.0 144.7h1M220.2 158.3h1M253.5 147.6h1M242.9 184.1h1M230.3 189.5h1M216.7 165.2h1M232.3 190.9h1M251.5 169.7h1M217.2 164.6h1M254.1 159.5h1M233.3 146.3h1M214.0 182.9h1M242.4 145.3h1M232.6 146.5h1M223.0 157.1h1M254.5 160.0h1M236.0 147.6h1M238.9 186.0h1M235.6 148.3h1M227.5 190.5h1M238.8 183.5h1M242.1 179.9h1M214.4 171.1h1M215.7 167.5h1M220.0 162.7h1M213.8 166.8h1M253.8 152.9h1M246.1 147.0h1M248.1 171.7h1M247.4 176.7h1M241.7 182.8h1M220.2 189.2h1M252.6 169.8h1M234.8 146.4h1M242.1 181.2h1M253.4 161.8h1M239.5 183.0h1M235.9 188.8h1M222.1 192.8h1M255.3 157.9h1M237.3 190.2h1M230.8 149.0h1M253.7 150.9h1M218.4 164.5h1M254.3 165.7h1M247.8 176.4h1M224.7 153.0h1M235.1 190.8h1M229.7 151.1h1M240.8 147.1h1M222.1 191.3h1M249.1 145.5h1M228.6 189.6h1M215.0 169.7h1M254.1 152.3h1M253.9 162.4h1M219.6 157.9h1M213.4 170.1h1M219.6 190.6h1M216.9 189.9h1M255.5 159.3h1M227.3 190.6h1M227.4 153.8h1M236.9 186.8h1M248.6 147.4h1M231.7 150.3h1M214.6 165.6h1M249.0 147.6h1M240.0 187.1h1M253.5 153.7h1M224.8 153.7h1M212.0 182.7h1M230.2 151.1h1M233.6 190.6h1M237.7 149.1h1M249.7 144.3h1M252.4 163.8h1M217.0 162.4h1M216.9 189.2h1M228.8 150.9h1M243.4 181.2h1M239.1 147.5h1M233.2 189.9h1M256.5 150.8h1M256.6 153.9h1M254.1 161.6h1M255.0 160.1h1M238.9 187.3h1M220.8 190.0h1M218.1 159.4h1M242.6 144.5h1M247.6 145.5h1M246.5 178.5h1M240.3 187.4h1M252.8 146.0h1M213.6 166.9h1M252.6 166.7h1M237.2 148.2h1M210.8 183.3h1M248.4 146.3h1M226.1 150.8h1M235.3 189.3h1M216.8 162.7h1M210.6 173.2h1M250.2 171.0h1M230.5 191.2h1M246.1 146.6h1M244.1 144.2h1M245.9 176.7h1M227.4 150.4h1M213.3 172.2h1M213.6 168.0h1M239.9 187.5h1M233.0 148.7h1M219.8 191.6h1M214.6 189.2h1M226.9 153.9h1M254.2 164.3h1M252.9 162.5h1M222.7 191.7h1M223.6 189.8h1M212.0 185.6h1M252.6 147.0h1M252.6 171.0h1M251.8 166.8h1M230.6 189.1h1M217.6 189.1h1M237.1 187.0h1M225.4 154.0h1M238.2 183.9h1M224.5 189.5h1M254.4 149.2h1M229.7 193.1h1M232.3 148.3h1M227.1 155.0h1M240.6 145.9h1M236.3 148.7h1M220.9 192.2h1M217.7 161.3h1M253.7 163.9h1M248.2 145.6h1M227.1 155.3h1M230.5 190.1h1M251.9 167.7h1M252.5 168.2h1M241.7 181.6h1M256.4 162.9h1M253.4 166.3h1M216.0 187.8h1M228.4 149.7h1M213.8 183.2h1M224.4 191.6h1M257.2 154.4h1M239.6 145.9h1M222.4 158.3h1M223.8 158.7h1M224.4 156.4h1M254.8 156.5h1M242.5 145.4h1M232.1 190.0h1M235.3 188.5h1M227.6 189.7h1M211.7 174.2h1M224.2 158.0h1M230.3 192.1h1M213.8 166.3h1M239.6 146.8h1M253.9 161.3h1M254.1 166.0h1M240.5 181.8h1M223.6 157.6h1M254.4 156.4h1M221.1 160.3h1M254.2 154.2h1M256.3 153.5h1M245.0 180.6h1M233.1 191.9h1M223.6 158.1h1M216.8 190.1h1M252.2 172.4h1M254.9 153.4h1M219.1 191.4h1M214.2 166.8h1M237.0 189.1h1M254.3 163.0h1M250.3 173.2h1M236.1 190.1h1M222.8 154.8h1M227.5 151.5h1M251.1 149.0h1M248.9 146.1h1M249.9 170.3h1M239.3 148.9h1M226.1 192.8h1M233.1 148.6h1M215.4 168.7h1M249.7 175.0h1M241.3 144.8h1M211.9 183.5h1M211.3 170.8h1M223.8 156.7h1M222.1 156.6h1M212.0 171.6h1M222.2 190.4h1M241.7 181.2h1M247.1 176.0h1M217.3 165.4h1M215.8 188.8h1M228.8 151.7h1M216.2 168.8h1M254.6 164.4h1M254.8 148.5h1M239.8 146.5h1M249.2 146.3h1M243.9 179.6h1M230.1 151.1h1M248.2 175.9h1M243.4 146.4h1M221.9 159.4h1M235.7 189.5h1M225.0 190.6h1M213.4 184.3h1M251.5 147.8h1M226.3 189.5h1M252.1 172.1h1M252.5 165.5h1M242.7 146.4h1M231.0 189.3h1M245.4 144.7h1M249.7 148.0h1M217.6 187.2h1M213.1 186.2h1M223.1 157.0h1M227.6 150.8h1M229.9 189.6h1M220.7 162.2h1M256.9 157.0h1M223.5 192.2h1M229.8 151.1h1M248.0 146.7h1M216.7 165.1h1M253.9 154.8h1M244.8 146.1h1M224.4 192.2h1M224.4 156.4h1M246.8 176.9h1M253.8 163.5h1M248.3 173.6h1M253.3 163.1h1M227.0 191.6h1M251.9 148.5h1M254.8 157.1h1M213.7 165.7h1M256.6 163.0h1M209.8 180.8h1M234.7 187.4h1M252.7 148.3h1M244.5 180.1h1M255.6 162.2h1M216.2 167.9h1M225.3 152.8h1M212.8 178.0h1M229.6 189.7h1M235.1 149.4h1M255.2 158.9h1M250.4 144.7h1M254.3 161.3h1M231.1 190.3h1M213.5 171.1h1M250.6 148.4h1M231.1 149.4h1M229.6 192.4h1M216.4 162.1h1M211.4 176.5h1M250.2 148.3h1M218.5 159.8h1M247.6 178.2h1M223.2 189.5h1M213.3 186.7h1M246.0 178.2h1M253.1 166.9h1M238.6 184.4h1M212.4 172.4h1M210.5 183.2h1M230.8 191.5h1M217.4 161.4h1M257.5 158.8h1M224.0 152.8h1M239.8 182.4h1M242.0 146.6h1M224.4 191.2h1M233.3 190.9h1M253.0 170.2h1M224.3 192.5h1M213.0 176.6h1M231.2 150.6h1M243.7 145.8h1M218.8 189.0h1M234.0 149.0h1M245.6 178.1h1M228.6 152.4h1M244.9 175.8h1M213.4 171.9h1M240.8 186.1h1M211.8 185.8h1M211.7 180.6h1M256.6 151.8h1M257.2 157.7h1M227.4 190.8h1M256.3 154.0h1M219.6 160.5h1M214.4 183.5h1M250.4 144.9h1M224.5 157.5h1M216.5 163.5h1M222.7 157.4h1M239.7 146.8h1M252.4 145.8h1M253.6 153.5h1M251.5 144.9h1M213.2 183.1h1M233.0 146.8h1M213.5 173.2h1M247.7 144.3h1M225.8 153.0h1M247.0 178.3h1M234.3 190.8h1M212.0 174.4h1M216.6 191.1h1M222.9 154.9h1M253.8 159.2h1M252.9 162.8h1M254.2 151.5h1M253.6 167.5h1M226.7 189.6h1M252.7 148.9h1M224.3 155.0h1M218.5 163.2h1M213.5 167.9h1M233.3 150.1h1M221.0 189.9h1M210.1 177.7h1M252.0 171.0h1M229.2 152.1h1M222.0 159.5h1M212.2 184.5h1M254.1 158.8h1M218.5 189.3h1M244.6 180.1h1M256.2 159.7h1M232.3 190.7h1M213.2 186.3h1M223.8 155.1h1M242.1 182.3h1M256.1 159.4h1M249.9 173.6h1M218.9 191.1h1M213.6 185.7h1M246.0 176.0h1M220.6 158.8h1M237.9 185.7h1M221.8 189.8h1M217.3 163.6h1M225.0 154.4h1M233.4 191.3h1M243.5 147.9h1M214.5 169.7h1M256.9 154.3h1M218.3 190.2h1M227.6 154.5h1M214.9 188.4h1M224.6 158.2h1M239.5 187.6h1M253.2 147.8h1M238.2 186.9h1M218.4 159.2h1M252.9 167.4h1M233.5 150.0h1M256.0 152.3h1M209.8 176.8h1M215.5 162.7h1M253.1 164.8h1M213.1 170.9h1M228.9 151.7h1M248.2 177.1h1M252.6 168.1h1M249.6 174.3h1M228.6 190.2h1M224.0 153.5h1M246.7 176.6h1M232.6 148.1h1M214.3 166.4h1M220.3 189.3h1M210.4 179.1h1M233.5 146.7h1M252.7 151.1h1M231.0 192.1h1M247.2 175.0h1M228.6 148.7h1M228.0 193.3h1M247.0 177.6h1M253.2 147.0h1M224.9 154.9h1M254.5 149.9h1M226.0 191.1h1M218.0 160.6h1M210.5 181.0h1M219.9 160.1h1M217.2 190.6h1M211.6 170.1h1M218.2 190.1h1M233.8 190.8h1M215.3 165.1h1M248.3 175.5h1M253.8 156.7h1M255.1 147.9h1M251.3 147.3h1M213.1 176.6h1M251.1 168.3h1M228.0 151.5h1M256.0 153.4h1M228.6 192.8h1M217.6 164.0h1M211.2 175.2h1M242.0 145.7h1M212.8 168.7h1M231.8 146.6h1M253.0 163.6h1M220.6 160.8h1M220.4 189.1h1M254.7 164.2h1M235.5 147.3h1M228.7 151.5h1M217.9 164.3h1M239.1 146.6h1M210.7 181.2h1M236.3 188.9h1M253.4 169.1h1M222.5 159.0h1M256.8 155.5h1M254.1 149.6h1M216.8 187.2h1M213.5 185.0h1M215.4 165.8h1M249.3 170.7h1M211.0 182.0h1M211.6 171.8h1M233.8 148.3h1M237.8 146.0h1M213.4 169.1h1M250.9 171.7h1M235.4 187.1h1M251.5 167.1h1M243.4 182.7h1M254.3 154.1h1M210.6 176.3h1M256.3 153.5h1M214.8 165.7h1M238.9 184.6h1M235.5 187.7h1M233.1 148.2h1M213.2 176.5h1M245.6 144.3h1M220.9 161.8h1M216.4 190.0h1M216.1 163.9h1M227.0 192.1h1M221.9 191.7h1M215.8 167.7h1M215.9 188.6h1M254.7 151.3h1M215.6 165.7h1M248.6 176.3h1M255.3 160.6h1M221.1 188.8h1M250.6 173.7h1M218.5 162.7h1M214.0 165.1h1M233.6 149.0h1M251.8 146.2h1M210.6 173.5h1M247.3 175.2h1M224.9 153.2h1M244.2 145.4h1M244.2 180.6h1M240.8 184.8h1M213.3 175.9h1M254.3 155.8h1M214.2 169.4h1M251.4 145.5h1M223.5 189.3h1M224.9 157.6h1M217.4 187.1h1M210.9 183.0h1M211.3 170.8h1M247.5 172.3h1M239.0 185.7h1M218.9 190.2h1M244.2 181.2h1M248.3 174.0h1M236.7 149.3h1M239.0 147.0h1M251.3 169.9h1M254.2 153.9h1M239.7 187.1h1M224.3 154.9h1M213.0 185.7h1M230.7 150.4h1M250.0 148.3h1M236.8 148.1h1M219.1 158.4h1M224.1 153.5h1M234.9 188.2h1M251.6 148.4h1M211.0 172.6h1M253.0 146.4h1M237.5 149.3h1M255.8 152.5h1M232.4 190.5h1M235.9 190.6h1M255.6 151.3h1M253.8 153.2h1M237.6 188.8h1M245.8 175.1h1M224.3 191.0h1M219.6 188.4h1M213.9 172.8h1M215.0 186.8h1M233.9 190.0h1M221.4 191.3h1M210.8 179.7h1M252.6 167.5h1M213.0 172.4h1M211.2 179.6h1M214.1 182.3h1M252.5 168.9h1M250.5 174.7h1M212.1 180.7h1M246.9 147.4h1M247.7 177.0h1M241.6 181.8h1M254.4 150.0h1M212.2 186.3h1M237.0 149.4h1M230.4 151.9h1M248.3 145.8h1M225.0 189.8h1M246.3 177.0h1M236.1 147.0h1M213.1 183.7h1M219.0 164.1h1M242.8 146.3h1M221.2 188.9h1M255.0 164.7h1M241.3 182.5h1M231.9 190.7h1M212.2 180.6h1M242.4 184.2h1M218.6 159.9h1M244.8 179.7h1M252.7 165.5h1M230.9 190.5h1M225.9 155.8h1M234.9 148.3h1M255.1 148.0h1M256.2 154.7h1M249.6 145.8h1M256.8 152.2h1M225.0 153.6h1M211.8 174.6h1M217.0 166.0h1M215.1 168.8h1M246.8 174.9h1M241.4 184.5h1M245.8 178.7h1M226.4 189.6h1M249.2 148.0h1M226.3 189.7h1M236.5 188.0h1M219.0 190.0h1M228.1 150.6h1M231.4 150.8h1M239.5 184.8h1M250.5 148.5h1M234.9 147.7h1M253.9 155.2h1M228.5 151.9h1M255.0 148.3h1M235.1 188.1h1M250.1 171.5h1M251.4 167.6h1M227.2 193.0h1M226.0 190.4h1M215.0 165.4h1M224.7 192.4h1M233.8 149.7h1M210.1 180.7h1M223.1 191.2h1M221.9 160.8h1M231.4 147.5h1M257.3 159.8h1M228.7 148.5h1M226.5 153.7h1M216.4 189.3h1M224.3 192.5h1M234.9 191.0h1M210.7 172.0h1M217.8 187.5h1M219.7 192.4h1M226.6 152.7h1M225.0 151.9h1M238.3 147.0h1M237.9 185.1h1M209.6 174.8h1M249.8 147.6h1M238.0 148.1h1M228.3 189.8h1M243.9 178.6h1M209.9 176.9h1M238.4 186.7h1M220.2 191.9h1M226.6 192.4h1M214.0 171.8h1M235.3 188.4h1M246.5 147.2h1M227.4 149.4h1M223.7 155.9h1M241.0 182.4h1M213.8 181.1h1M213.4 179.3h1M213.6 182.6h1M213.1 171.2h1M254.9 149.6h1M253.2 170.9h1M215.2 186.3h1M220.3 159.8h1M213.3 176.4h1M256.0 156.8h1M253.9 165.4h1M210.9 182.3h1M220.0 159.8h1M221.0 191.4h1M236.1 187.3h1M254.0 155.2h1M253.2 146.0h1M249.1 173.4h1M213.0 175.4h1M253.8 155.7h1M237.0 186.4h1M233.8 148.4h1M217.7 161.3h1M227.7 154.4h1M216.6 190.3h1M215.0 166.6h1M228.5 190.4h1M240.2 183.2h1M213.4 166.8h1M221.3 190.9h1M247.3 175.5h1M212.7 186.5h1M232.8 146.3h1M249.5 145.0h1M244.0 182.9h1M216.1 187.5h1M227.6 151.1h1M239.4 182.9h1M254.5 158.9h1M255.3 156.1h1M234.3 191.0h1M244.8 176.7h1M246.2 147.6h1M251.5 166.1h1M233.4 147.8h1M239.1 184.9h1M238.5 186.0h1M254.8 163.4h1M243.4 184.1h1M221.3 190.9h1M254.3 158.0h1M216.9 190.6h1M222.0 160.2h1M236.5 188.9h1M254.0 159.5h1M246.1 178.1h1M233.1 148.3h1M216.8 187.9h1M221.5 161.2h1M226.0 156.3h1M221.3 190.4h1M211.3 180.4h1M240.5 184.5h1M245.3 178.0h1M232.1 190.2h1M242.6 184.1h1M221.9 189.6h1M237.3 148.4h1M217.3 164.2h1M227.5 154.2h1M251.1 167.2h1M247.4 175.2h1M233.6 148.0h1M241.5 181.9h1M221.2 189.5h1M244.3 146.3h1M226.3 153.9h1M214.5 165.1h1M217.2 165.8h1M252.6 150.5h1M255.3 152.1h1M239.5 185.5h1M224.4 155.1h1M248.5 147.9h1M248.4 144.1h1M213.7 169.8h1M215.0 165.0h1M227.9 191.5h1M231.4 190.4h1M255.0 155.7h1M257.3 157.8h1M254.4 152.7h1M254.3 168.1h1M222.9 157.1h1M217.1 190.7h1M213.6 188.8h1M237.2 149.0h1M248.8 176.5h1M230.5 192.3h1M219.8 162.8h1M212.1 186.9h1M250.2 169.9h1M257.1 158.6h1M244.9 180.6h1M247.0 174.3h1M254.1 149.5h1M246.7 173.9h1M252.6 165.5h1M219.8 160.2h1M255.3 154.8h1M227.6 192.0h1M214.4 168.2h1M250.0 172.7h1M256.0 158.1h1M214.2 187.4h1M239.2 183.8h1M230.2 189.4h1M251.7 145.9h1M237.6 145.5h1M256.3 162.6h1M213.9 167.1h1M237.1 148.5h1M249.2 174.2h1M238.4 148.9h1M246.4 177.8h1M232.5 191.4h1M231.9 190.1h1M245.4 177.3h1M253.5 170.3h1M254.2 156.1h1M218.1 162.2h1M251.3 168.9h1M240.2 183.0h1M242.8 183.8h1M212.5 182.6h1M256.4 153.6h1M219.6 158.9h1M256.8 151.5h1M214.4 182.8h1M223.3 155.0h1M249.7 169.5h1M252.2 171.0h1M217.5 163.5h1M209.9 180.3h1M256.3 154.0h1M254.6 157.4h1M230.0 151.2h1M221.6 156.4h1M224.5 189.8h1M217.4 165.9h1M239.8 182.6h1M240.5 146.8h1M251.5 171.2h1M254.8 163.2h1M215.7 163.6h1M256.1 153.7h1M239.4 183.0h1M235.4 146.4h1M249.8 169.2h1M212.4 184.7h1M212.9 178.5h1M226.8 149.9h1M233.8 149.4h1M229.5 148.3h1M218.5 189.2h1M234.6 149.8h1M248.6 146.3h1M242.9 144.7h1M213.1 173.3h1M214.3 188.1h1M240.4 182.3h1M211.9 179.3h1M219.7 159.6h1M237.7 147.0h1M212.4 179.5h1M213.1 175.4h1M213.2 182.4h1M234.2 188.2h1M234.1 189.4h1M255.7 162.7h1M213.5 184.8h1M243.8 178.2h1M241.0 145.7h1M229.5 149.8h1M217.5 191.0h1M215.3 184.9h1M213.4 170.6h1M251.9 169.0h1M242.9 183.1h1M237.5 145.6h1M253.2 166.4h1M244.4 182.8h1M227.7 151.1h1M252.3 167.7h1M253.7 152.3h1M254.8 156.4h1M257.0 157.8h1M254.7 162.7h1M241.2 148.4h1M244.1 145.2h1M210.5 179.9h1M210.7 172.1h1M210.8 172.6h1M229.6 190.8h1M231.7 189.8h1M219.5 161.9h1M213.2 183.1h1M213.1 167.3h1M224.9 152.5h1M220.4 190.2h1M233.9 149.3h1M221.3 190.5h1M220.3 157.8h1M214.5 184.5h1M233.2 149.1h1M213.2 187.3h1M256.4 159.9h1M214.4 187.1h1M254.7 165.4h1M220.6 158.8h1M238.7 147.0h1M219.1 161.3h1M230.9 191.3h1M238.1 189.3h1M222.3 156.1h1M254.5 149.5h1M210.2 177.3h1M256.4 162.3h1M254.4 148.9h1M225.1 153.5h1M255.3 149.3h1M248.0 174.0h1M233.6 189.1h1M252.1 165.3h1M219.2 159.6h1M237.4 148.2h1M244.2 145.7h1M226.2 153.3h1M237.3 186.1h1M211.7 184.8h1M233.0 188.8h1M236.8 186.1h1M237.0 188.0h1M214.7 168.9h1M253.2 162.0h1M234.0 149.9h1M218.3 164.0h1M255.6 153.6h1M241.1 145.3h1M246.0 175.5h1M255.1 162.8h1M253.4 148.8h1M211.9 170.1h1M251.6 145.5h1M246.1 174.8h1M252.3 171.9h1M216.6 167.5h1M228.6 148.4h1M229.7 192.7h1M242.6 184.1h1M248.0 175.8h1M226.8 191.2h1M249.8 173.9h1M210.4 174.5h1M246.2 147.8h1M225.9 155.5h1M219.4 161.9h1M251.7 166.3h1M240.3 145.2h1M213.3 173.0h1M255.9 160.3h1M237.0 188.4h1M247.0 177.3h1M223.6 189.9h1M225.9 152.3h1M242.9 179.9h1M214.1 170.0h1M218.5 191.0h1M253.1 148.0h1M211.1 175.6h1M218.5 163.2h1M234.1 188.0h1M241.5 185.6h1M215.4 168.9h1M211.3 177.4h1M253.7 166.6h1M223.6 154.0h1M227.1 153.6h1M214.3 165.4h1M253.4 168.3h1M232.2 149.7h1M214.0 171.5h1M243.0 145.5h1M221.7 159.2h1M228.5 192.3h1M240.2 146.4h1M255.0 154.9h1M254.1 164.4h1M212.5 181.3h1M252.7 149.9h1M254.2 163.4h1M251.4 148.2h1M226.7 190.4h1M256.8 157.8h1M254.5 164.3h1M226.9 155.1h1M219.3 163.6h1M254.5 166.9h1M229.9 149.5h1M246.3 179.1h1M254.4 153.6h1M210.7 179.7h1M214.8 188.0h1M226.2 189.8h1M234.3 147.4h1M248.3 176.6h1M215.8 188.1h1M255.5 162.0h1M211.9 175.7h1M210.9 179.8h1M246.0 179.5h1M238.8 146.9h1M246.7 178.0h1M256.0 156.9h1M212.9 187.0h1M252.3 165.9h1M256.2 155.3h1M238.9 188.7h1M221.9 189.9h1M247.9 147.2h1M231.8 150.7h1M254.3 160.1h1M242.9 182.7h1M250.7 173.2h1M232.5 146.6h1M223.9 158.0h1M256.8 155.2h1M224.0 153.4h1M216.5 191.1h1M248.6 176.6h1M232.8 147.3h1M214.4 171.3h1M254.5 160.1h1M236.4 146.4h1M212.6 183.6h1M210.1 182.1h1M232.9 189.2h1M241.0 182.9h1M239.7 145.1h1M215.4 169.3h1M214.8 189.4h1M210.7 173.3h1M242.8 183.5h1M215.8 168.4h1M253.7 153.1h1M238.7 147.2h1M216.2 166.9h1M242.6 180.4h1M213.8 183.3h1M254.0 153.3h1M214.8 189.9h1M228.4 150.8h1M214.4 169.5h1M212.4 168.4h1M215.8 168.3h1M254.4 154.1h1M249.9 169.3h1M210.5 173.4h1M253.4 149.5h1M249.7 174.8h1M244.4 145.8h1M255.0 159.0h1M212.5 178.8h1M221.0 161.5h1M236.9 145.8h1M225.2 154.8h1M214.7 169.6h1M221.8 157.0h1M225.0 157.4h1M212.5 184.7h1M228.2 189.5h1M212.8 177.9h1M213.2 173.0h1M248.8 144.9h1M220.6 158.9h1M231.8 192.2h1M221.9 192.9h1M238.6 187.1h1M254.8 151.6h1M223.0 156.2h1M214.6 183.4h1M252.3 165.5h1M245.8 179.9h1M231.8 190.5h1M255.8 159.4h1M216.1 190.1h1M233.8 188.4h1M216.1 167.4h1M217.2 164.7h1M211.3 172.4h1M232.0 192.5h1M222.5 189.9h1M251.5 173.5h1M247.7 175.1h1M250.8 148.3h1M227.0 153.4h1M244.1 178.1h1M240.5 184.0h1M232.8 189.1h1M230.3 149.9h1M211.6 179.1h1M219.7 162.2h1M254.7 157.2h1M256.0 158.3h1M255.0 148.9h1M237.1 146.4h1M211.1 184.8h1M234.7 188.8h1M226.5 192.2h1M210.2 178.9h1M219.7 161.8h1M213.2 184.6h1M215.0 168.1h1M242.5 148.4h1M254.8 155.7h1M234.9 147.2h1M223.6 157.1h1M237.3 186.7h1M239.6 182.9h1M254.7 153.0h1M251.6 149.7h1M236.3 187.4h1M253.8 148.2h1M216.7 163.3h1M215.5 189.8h1M243.4 180.5h1M225.1 155.2h1M255.6 160.7h1M252.7 150.9h1M253.9 158.7h1M226.3 153.9h1M254.9 152.2h1M249.7 145.6h1M213.5 182.4h1M211.7 179.8h1M251.9 167.6h1M238.0 188.5h1M238.5 185.5h1M217.7 161.8h1M211.3 183.0h1M229.7 151.1h1M236.3 149.0h1M254.4 155.2h1M244.8 182.1h1M216.1 186.7h1M228.7 148.8h1M255.6 157.0h1M256.7 158.7h1M238.7 145.5h1M210.0 176.8h1M216.1 166.9h1M240.7 146.7h1M241.4 145.5h1M214.7 170.6h1M224.4 192.0h1M251.6 167.5h1M219.8 188.4h1M246.6 179.0h1M215.4 170.6h1M224.5 152.6h1M239.2 148.0h1M213.8 171.9h1M213.3 167.3h1M251.3 168.5h1M211.5 177.0h1M242.6 181.7h1M249.3 171.4h1M218.7 189.7h1M214.7 169.2h1M226.9 151.2h1M226.8 153.7h1M255.5 150.4h1M210.9 176.1h1M220.7 189.0h1M215.7 168.7h1M219.9 161.1h1M251.8 149.1h1M210.5 176.6h1M255.3 162.2h1M241.3 183.4h1M248.2 146.1h1M230.6 147.4h1M216.7 190.5h1M212.6 182.2h1M238.9 187.6h1M247.6 177.1h1M255.9 164.6h1M254.4 166.0h1M241.9 185.5h1M218.3 159.4h1M253.0 152.0h1M228.1 148.7h1M242.5 147.3h1M236.9 146.9h1M217.2 161.3h1M216.6 161.6h1M216.9 166.3h1M214.1 172.9h1M229.6 152.3h1M253.3 152.9h1M211.4 172.6h1M246.3 146.6h1M244.7 179.4h1M213.0 172.9h1M220.0 188.8h1M228.5 192.0h1M247.0 147.2h1M213.9 173.7h1M255.5 160.7h1M228.4 193.3h1M235.6 146.8h1M231.6 189.9h1M210.8 179.6h1M241.8 180.5h1M211.9 185.0h1M253.0 148.3h1M252.6 147.2h1M256.4 151.8h1M209.5 175.5h1M256.7 159.8h1M254.5 158.7h1M212.3 185.0h1M246.8 175.9h1M214.2 187.3h1M255.2 154.8h1M254.9 148.4h1M227.7 189.9h1M255.2 166.6h1M254.2 155.6h1M245.2 147.9h1M231.4 148.6h1M219.0 191.0h1M211.7 179.7h1M228.2 152.8h1M232.9 147.4h1M211.5 180.0h1M236.8 147.5h1M229.1 191.6h1M239.2 184.3h1M254.4 155.5h1M240.0 185.6h1M216.6 188.7h1M246.2 177.2h1M231.5 149.3h1M252.2 148.7h1M228.3 150.9h1M219.9 190.2h1M245.4 179.0h1M255.6 164.1h1M254.1 149.1h1M254.1 147.6h1M244.1 146.1h1M253.8 168.0h1M224.0 156.1h1M253.9 148.5h1M243.0 146.3h1M229.2 189.4h1M248.3 177.7h1M244.8 181.0h1M244.4 147.9h1M235.8 186.9h1M243.5 183.7h1M237.0 147.9h1M233.1 147.4h1M240.0 184.0h1M228.4 149.7h1M218.5 188.8h1M256.0 155.6h1M235.0 146.3h1M240.0 182.1h1M230.0 189.8h1M211.5 175.9h1M255.7 164.7h1M231.1 189.2h1M255.5 166.0h1M252.7 165.9h1M243.8 178.3h1M229.4 152.7h1M210.9 183.2h1M242.1 183.8h1M247.3 177.9h1M238.5 184.7h1M255.2 152.5h1M225.7 156.4h1M242.1 180.1h1M231.1 191.1h1M252.4 146.7h1M228.2 152.2h1M227.1 189.8h1M238.0 145.9h1M254.3 147.0h1M250.9 167.4h1M215.2 187.0h1M240.8 184.9h1M215.9 162.0h1M216.8 189.1h1M223.2 156.3h1M217.9 165.0h1M242.5 146.1h1M231.6 150.5h1M257.1 152.0h1M246.9 179.3h1M224.2 189.9h1M226.4 155.5h1M251.0 174.0h1M243.4 147.3h1M251.9 148.9h1M216.3 163.7h1M256.6 160.2h1M210.2 180.8h1M210.1 178.7h1M232.4 146.6h1M238.8 148.1h1M254.1 164.9h1M219.9 157.9h1M242.5 184.9h1M256.4 162.7h1M245.2 176.7h1M257.1 161.0h1M239.0 149.0h1M241.4 148.5h1M223.1 159.6h1M212.0 175.9h1M221.0 188.9h1M253.4 162.5h1M248.8 175.7h1M232.1 148.9h1M219.5 162.3h1M255.4 148.8h1M237.6 189.1h1M232.4 150.2h1M243.0 145.9h1M225.4 192.2h1M210.9 172.4h1M254.2 169.3h1M239.2 184.6h1M230.0 150.5h1M213.6 188.7h1M222.3 159.0h1M209.9 176.6h1M255.7 164.0h1M255.4 153.6h1M213.6 188.4h1M248.3 175.2h1M248.7 146.2h1M246.7 144.9h1M219.2 163.4h1M211.7 173.6h1M222.9 159.1h1M241.1 148.0h1M215.2 189.9h1M254.3 153.1h1M225.9 154.9h1M213.0 186.9h1M244.3 144.2h1M222.2 155.2h1M254.9 167.1h1M232.5 150.0h1M246.6 176.2h1M213.8 165.3h1M228.7 191.9h1M232.5 190.6h1M249.6 172.8h1M237.5 145.4h1M224.6 155.0h1M238.0 145.4h1M250.3 147.6h1M215.4 188.1h1M229.5 189.5h1M251.0 172.5h1M214.9 186.6h1M232.9 148.1h1M214.1 171.3h1M214.1 183.2h1M245.9 180.7h1M217.6 191.4h1M239.8 148.6h1M251.4 166.7h1M213.2 184.2h1M211.3 183.9h1M255.6 149.3h1M246.3 178.7h1M234.0 146.0h1M256.5 162.4h1M255.7 154.6h1M229.0 193.3h1M243.1 179.7h1M226.7 193.0h1M248.5 146.2h1M210.7 179.2h1M241.8 185.6h1M252.5 145.2h1M225.9 192.8h1M216.7 190.2h1M247.5 173.6h1M253.9 164.6h1M225.6 155.0h1M213.7 184.7h1M247.9 173.1h1M214.2 165.1h1M238.6 183.7h1M233.0 191.4h1M255.5 152.5h1M248.6 172.4h1M242.4 179.4h1M219.9 162.1h1M256.5 163.5h1M226.6 191.1h1M253.9 165.8h1M213.2 170.8h1M256.0 152.5h1M230.6 190.8h1M251.5 167.0h1M212.1 175.4h1M226.1 155.9h1M236.1 148.4h1M210.5 178.0h1M239.2 145.6h1M213.8 171.5h1M212.4 172.5h1M218.8 162.2h1M211.1 171.1h1M257.0 153.0h1M229.8 149.5h1M253.8 168.2h1M217.0 162.1h1M255.3 149.8h1M250.4 145.1h1M250.5 170.2h1M252.3 147.3h1M249.3 175.5h1M256.0 153.9h1M223.2 155.3h1M216.5 167.3h1M225.0 157.1h1M217.8 190.1h1M255.9 165.2h1M244.8 144.5h1M251.1 147.2h1M251.9 169.2h1M252.9 170.6h1M251.1 171.8h1M220.9 160.8h1M213.3 174.1h1M220.0 188.5h1M237.1 185.9h1M254.4 165.5h1M215.8 190.6h1M253.6 168.5h1M218.7 163.1h1M229.7 152.5h1M223.7 192.7h1M244.7 144.2h1M209.9 178.3h1M249.7 175.2h1M230.0 151.1h1M250.1 144.5h1M211.0 175.3h1M213.3 169.1h1M245.3 146.3h1M220.0 160.0h1M254.2 164.0h1M215.5 165.2h1M218.6 160.0h1M221.6 191.1h1M216.4 188.6h1M230.3 150.2h1M254.2 154.0h1M227.1 190.4h1M243.4 180.7h1M241.7 145.8h1M253.6 146.2h1M247.0 178.1h1M222.5 157.7h1M222.1 158.3h1M249.5 175.2h1M211.1 173.3h1M217.2 190.8h1M218.3 159.1h1M215.6 167.5h1M247.6 174.3h1M222.9 155.1h1M210.3 178.8h1M253.9 150.0h1M250.8 145.8h1M247.9 145.1h1M217.6 164.3h1M229.4 189.5h1M251.5 147.2h1M212.7 183.5h1M210.9 182.7h1M225.8 156.2h1M213.9 186.4h1M238.7 148.0h1M222.4 190.2h1M234.6 189.0h1M219.5 162.9h1M253.7 168.9h1M254.6 166.3h1M213.7 174.0h1M221.0 159.7h1M210.4 179.4h1M256.6 162.7h1M221.2 192.3h1M250.9 145.5h1M222.7 157.1h1M234.7 149.3h1M241.2 144.8h1M241.7 182.6h1M223.2 156.9h1M221.9 158.6h1M244.9 181.0h1M255.1 165.7h1M219.8 188.4h1M242.4 182.9h1M240.7 146.1h1M227.3 191.0h1M243.7 181.2h1M242.5 180.8h1M255.1 156.2h1M217.2 187.4h1M251.1 167.0h1M238.4 148.3h1M213.3 184.9h1M216.5 165.7h1M217.9 163.8h1M257.2 159.9h1M225.2 157.1h1M219.3 163.5h1M217.2 188.0h1M222.1 157.7h1M238.9 184.5h1M254.7 166.5h1M247.0 172.8h1M216.4 165.6h1M216.1 187.1h1M226.9 191.2h1M221.6 159.0h1M252.1 147.4h1M242.9 146.8h1M218.5 189.1h1M210.7 177.2h1M222.2 159.1h1M233.1 189.8h1M211.9 182.5h1M245.8 180.9h1M256.7 151.0h1M219.9 160.4h1M230.4 149.0h1M255.2 151.1h1M212.9 188.1h1M213.7 183.4h1M212.7 177.7h1M237.4 189.6h1M247.8 176.5h1M241.3 181.8h1M251.2 170.4h1M218.8 189.5h1M254.3 150.3h1M231.1 189.9h1M221.0 192.6h1M223.8 153.4h1M224.6 190.5h1M245.8 175.0h1M213.8 188.9h1M246.7 145.6h1M249.2 173.3h1M226.1 190.4h1M213.4 188.0h1M254.0 160.6h1M215.5 162.7h1M249.3 171.1h1M236.7 147.3h1M232.7 149.4h1M242.6 179.7h1M243.8 147.5h1M216.0 187.5h1M222.5 156.1h1M227.1 191.8h1M224.7 155.6h1M235.8 187.1h1M224.1 191.2h1M239.2 183.4h1M250.7 145.7h1M257.3 160.9h1M224.1 156.8h1M230.7 190.3h1M210.1 175.5h1M212.4 178.7h1M254.6 156.5h1M244.4 144.5h1M256.4 152.7h1M242.1 144.8h1M253.7 163.8h1M220.3 192.5h1M243.7 183.8h1M255.3 162.7h1M215.2 163.9h1M251.5 169.4h1M228.3 153.0h1M253.5 153.5h1M254.8 161.0h1M254.3 160.3h1M255.8 157.9h1M254.9 151.3h1M235.6 148.9h1M254.1 149.8h1M229.8 150.8h1M250.0 173.7h1M251.9 148.9h1M246.2 180.5h1M231.9 192.0h1M211.4 183.4h1M235.0 146.3h1M225.1 190.3h1M214.5 189.0h1M209.5 178.5h1M257.2 158.3h1M237.6 188.1h1M215.4 168.7h1M256.8 157.4h1M255.4 155.4h1M212.6 180.9h1M221.2 189.6h1M255.7 162.6h1M246.3 176.9h1M253.9 158.3h1M257.0 155.3h1M216.4 186.2h1M247.5 145.4h1M246.9 174.1h1M220.1 159.3h1M216.6 161.3h1M254.5 161.6h1M252.3 168.5h1M250.6 168.8h1M240.5 184.9h1M255.0 160.4h1M243.6 183.0h1M255.9 161.8h1M219.8 190.4h1M242.0 185.1h1M247.9 173.2h1M252.3 147.6h1M249.7 145.6h1M214.3 169.1h1M254.4 167.1h1M255.6 148.9h1M245.1 178.8h1M218.7 190.7h1M235.1 148.1h1M255.7 165.4h1M236.5 148.8h1M240.8 184.0h1M252.4 147.0h1M232.1 150.6h1M249.4 146.8h1M248.7 147.6h1M255.1 155.1h1M233.2 147.8h1M250.4 146.2h1M256.8 157.8h1M242.9 180.4h1M228.9 152.8h1M229.6 148.5h1M215.2 167.2h1M242.6 184.1h1M214.3 171.3h1M229.0 153.0h1M211.1 182.1h1M217.9 162.5h1M246.4 176.5h1M245.3 145.4h1M236.4 189.3h1M221.7 156.6h1M256.1 156.9h1M253.9 150.5h1M235.1 187.9h1M249.4 172.7h1M239.4 146.2h1M218.2 164.9h1M211.0 173.0h1M233.9 147.4h1M241.8 146.5h1M252.9 150.1h1M238.1 187.0h1M213.4 172.4h1M252.2 168.6h1M254.0 148.1h1M253.2 149.8h1M243.6 182.8h1M246.6 179.6h1M227.2 149.8h1M235.1 188.4h1M234.0 188.5h1M231.4 148.2h1M224.1 192.0h1M247.7 144.0h1M243.1 145.0h1M236.1 186.7h1M252.8 163.9h1M214.2 182.8h1M222.5 190.4h1M250.1 169.5h1M243.3 146.3h1M248.8 171.6h1M209.3 176.6h1M220.8 191.0h1M255.0 150.3h1M248.4 144.5h1M211.8 186.0h1M237.1 147.9h1M227.7 153.2h1M214.6 166.3h1M243.9 147.3h1M211.8 172.3h1M250.7 168.5h1M227.8 152.5h1M247.3 176.5h1M243.7 181.9h1M210.0 176.3h1M248.1 147.6h1M238.3 184.5h1M257.5 154.2h1M211.9 184.7h1M251.2 167.5h1M242.8 184.5h1M223.1 157.1h1M224.6 190.4h1M219.8 162.5h1M216.0 168.7h1M255.4 166.6h1M213.2 170.8h1M229.0 148.8h1M214.6 167.4h1M210.8 172.6h1M255.9 155.6h1M227.4 193.0h1M249.1 147.7h1M228.6 192.9h1M250.5 147.8h1M220.3 157.5h1M233.6 188.7h1M240.0 184.6h1M213.2 171.4h1M220.0 189.9h1M251.1 169.0h1M213.7 183.2h1M229.1 190.6h1M242.9 182.0h1M217.5 161.4h1M212.0 184.3h1M232.6 191.2h1M237.0 147.9h1M215.2 186.5h1M215.1 185.9h1M234.8 189.2h1M244.1 183.0h1M236.5 186.9h1M250.8 168.8h1M225.2 152.8h1M250.3 148.6h1M232.3 149.8h1M212.1 176.8h1M255.6 158.6h1M254.2 149.1h1M247.9 175.8h1M239.4 183.3h1M231.1 149.2h1M224.3 189.8h1M226.0 189.6h1M233.0 148.4h1M209.9 178.8h1M213.5 167.6h1M254.2 166.5h1M222.5 189.4h1M255.1 151.9h1M254.7 160.1h1M212.8 184.7h1M256.8 158.2h1M224.2 190.1h1M243.8 181.8h1M253.7 159.3h1M240.4 148.3h1M248.6 173.7h1M237.8 188.4h1M243.2 183.2h1M216.5 187.3h1M236.7 146.6h1M220.7 157.2h1M241.1 184.3h1M211.6 173.5h1M256.1 161.6h1M224.3 154.8h1M256.3 155.9h1M248.9 174.6h1M217.3 162.2h1M235.1 147.1h1M239.5 148.5h1M232.2 149.0h1M248.8 146.1h1M212.1 168.5h1M243.8 180.7h1M252.7 163.4h1M220.7 188.9h1M210.2 172.7h1M245.8 180.1h1M254.2 165.8h1M253.5 151.8h1M216.3 168.1h1M216.7 161.8h1M236.4 189.0h1M229.3 193.2h1M217.2 188.1h1M250.9 144.7h1M251.2 172.2h1M216.1 188.2h1M246.2 179.2h1M252.3 149.8h1M240.4 144.9h1M230.6 190.2h1M235.0 189.4h1M254.2 166.2h1M245.2 147.2h1M209.8 176.1h1M212.4 173.5h1M244.1 146.0h1M253.2 164.1h1M255.8 152.5h1M238.8 185.0h1M216.3 189.2h1M211.4 185.5h1M213.0 168.1h1M223.4 191.8h1M211.8 181.1h1M228.8 190.6h1M219.8 162.6h1M225.0 192.6h1M216.7 190.8h1M247.4 177.2h1M227.4 151.0h1M230.6 148.7h1M210.1 181.6h1M212.3 181.5h1M240.6 186.1h1M255.0 164.2h1M248.3 176.3h1M232.4 192.4h1M231.5 151.0h1M255.1 160.1h1M251.6 172.0h1M231.3 150.3h1M234.8 189.5h1M216.8 167.0h1M209.9 173.5h1M244.5 179.4h1M253.6 147.5h1M248.9 147.2h1M219.1 163.9h1M227.3 149.5h1M250.7 169.8h1M211.3 175.1h1M228.0 190.0h1M210.5 179.7h1M239.2 184.1h1M212.6 168.9h1M238.2 148.8h1M229.0 190.3h1M216.5 162.6h1M254.6 166.4h1M223.8 189.7h1M229.9 150.8h1M250.8 168.3h1M252.1 147.9h1M249.8 172.0h1M244.7 176.2h1M213.1 167.1h1M255.1 157.5h1M251.9 168.4h1M216.4 166.2h1M241.5 185.8h1M238.0 145.4h1M243.5 145.6h1M253.4 151.2h1M255.7 161.9h1M218.7 161.7h1M222.2 189.3h1M221.2 156.0h1M247.3 176.5h1M220.4 162.1h1M245.3 147.3h1M226.1 192.6h1M227.8 150.4h1M253.4 169.5h1M253.3 152.6h1M247.5 174.3h1M235.1 146.9h1M233.7 146.8h1M213.4 181.0h1M235.0 146.4h1M251.4 170.8h1M212.9 176.1h1M222.4 192.6h1M254.6 162.8h1M255.3 152.7h1M213.9 184.2h1M233.8 188.8h1M237.1 187.5h1M245.2 179.6h1M253.5 161.0h1M230.1 147.8h1M216.0 189.6h1M252.6 150.8h1M231.6 191.5h1M250.5 174.3h1M240.8 182.1h1M217.6 163.2h1M235.0 148.8h1M227.6 192.6h1M254.8 156.1h1M214.7 169.4h1M242.0 145.2h1M212.1 185.6h1M236.8 188.4h1M246.4 176.5h1M245.8 146.8h1M251.0 169.6h1M249.9 145.1h1M215.4 166.0h1M246.7 173.4h1M225.4 153.3h1M214.4 171.1h1M214.1 166.0h1" fill="none" stroke="#c47a12" stroke-width="1" filter="url(#b3)"/>
</g>
<path d="M113.5 302.4h1.8M106.2 281.6h1.8M93.8 320.4h1.8M115.3 284.7h1.8M93.6 295.7h1.8M84.5 300.7h1.8M98.1 309.3h1.8M98.0 313.1h1.8M98.3 301.2h1.8M90.3 281.2h1.8M107.4 295.4h1.8M103.9 292.5h1.8M86.9 314.9h1.8M91.7 316.1h1.8M105.9 280.8h1.8M114.0 294.1h1.8M117.9 279.3h1.8M107.7 286.8h1.8M99.3 313.1h1.8M111.8 288.3h1.8M97.3 288.5h1.8M104.3 298.7h1.8M95.5 307.9h1.8M91.8 293.9h1.8M98.4 300.2h1.8M112.5 294.3h1.8M100.4 297.5h1.8M123.8 291.5h1.8M110.8 316.8h1.8M104.8 295.4h1.8M110.9 298.8h1.8M112.3 319.0h1.8M94.1 312.1h1.8M104.1 287.3h1.8M104.3 294.4h1.8M93.3 297.2h1.8M97.0 291.6h1.8M101.1 309.3h1.8M102.5 297.3h1.8M101.8 308.7h1.8M108.5 301.7h1.8M104.9 288.1h1.8M100.4 304.1h1.8M107.4 291.7h1.8M92.7 309.1h1.8M96.2 300.8h1.8M97.4 316.8h1.8M102.3 301.9h1.8M106.7 302.1h1.8M109.6 307.9h1.8M109.3 308.6h1.8M104.7 283.0h1.8M107.0 283.3h1.8M94.4 312.8h1.8M112.2 290.1h1.8M99.5 323.1h1.8M92.5 304.8h1.8M99.8 301.4h1.8M106.3 301.4h1.8M105.8 317.5h1.8M108.9 314.8h1.8M97.4 296.3h1.8M98.0 307.6h1.8M94.2 304.5h1.8M114.0 298.4h1.8M112.9 294.0h1.8M101.0 300.6h1.8M99.8 298.7h1.8M105.8 303.0h1.8M107.8 310.4h1.8M95.3 303.4h1.8M95.1 310.7h1.8M108.8 295.4h1.8M103.5 302.4h1.8M105.4 304.4h1.8M98.2 295.1h1.8M103.1 293.5h1.8M98.3 277.9h1.8M102.5 304.5h1.8M108.8 310.2h1.8M90.9 290.5h1.8M94.1 307.4h1.8M118.2 292.5h1.8M108.8 291.5h1.8M95.1 286.2h1.8M111.3 307.8h1.8M98.7 287.8h1.8M120.1 296.8h1.8M103.0 293.9h1.8M97.2 301.3h1.8M93.4 318.8h1.8M109.8 291.8h1.8M105.8 307.7h1.8M102.0 312.3h1.8M108.5 291.8h1.8M115.2 303.8h1.8M99.8 319.0h1.8M105.2 303.7h1.8M103.1 304.8h1.8M109.5 291.0h1.8M91.3 320.4h1.8M106.1 308.3h1.8M106.3 305.0h1.8M113.2 287.2h1.8M104.1 316.9h1.8M98.1 317.5h1.8M111.5 302.6h1.8M101.3 288.4h1.8M113.1 282.7h1.8M118.1 304.7h1.8M92.1 305.5h1.8M117.5 297.5h1.8M96.5 297.0h1.8M105.4 305.3h1.8M96.6 296.7h1.8M107.7 285.9h1.8M95.6 309.0h1.8M93.6 309.5h1.8M110.5 306.6h1.8M109.3 305.8h1.8M104.8 313.6h1.8M99.7 311.3h1.8M117.7 304.8h1.8M119.6 292.4h1.8M110.7 295.7h1.8M101.0 290.0h1.8M116.6 291.8h1.8M95.8 324.6h1.8M95.0 317.3h1.8M104.4 311.8h1.8M101.7 317.0h1.8M95.5 310.3h1.8M108.3 303.2h1.8M98.1 316.1h1.8M103.3 307.4h1.8M88.5 320.8h1.8M94.5 309.4h1.8M113.3 288.3h1.8M110.4 313.2h1.8M122.1 308.3h1.8M105.8 292.7h1.8M93.4 301.9h1.8M105.2 294.1h1.8M99.5 295.7h1.8M105.4 292.6h1.8M102.6 309.7h1.8M88.4 312.2h1.8M101.6 314.5h1.8M105.9 310.6h1.8M117.9 302.6h1.8M115.3 311.5h1.8M108.3 309.9h1.8M118.5 313.2h1.8M107.4 288.1h1.8M102.2 308.6h1.8M114.7 286.9h1.8M99.1 315.9h1.8M107.3 312.0h1.8M107.1 291.4h1.8M119.1 303.7h1.8M107.3 315.8h1.8M105.7 304.1h1.8M102.7 310.8h1.8M102.6 288.7h1.8M90.1 285.2h1.8M98.8 308.4h1.8M108.7 298.9h1.8M103.2 306.3h1.8M95.9 297.5h1.8M101.2 298.9h1.8M112.5 314.9h1.8M111.7 300.4h1.8M111.2 299.5h1.8M104.5 295.9h1.8M116.1 293.5h1.8M111.2 309.9h1.8M99.8 319.9h1.8M98.1 304.8h1.8M107.2 300.7h1.8M98.0 297.5h1.8M105.6 294.3h1.8M113.2 295.9h1.8M99.5 300.4h1.8M101.7 301.7h1.8M107.6 317.8h1.8M109.4 290.3h1.8M107.6 307.6h1.8M95.0 311.3h1.8M89.0 308.0h1.8M101.4 305.8h1.8M111.4 284.2h1.8M95.0 285.0h1.8M84.9 313.6h1.8M100.3 301.0h1.8M115.9 305.2h1.8M104.0 292.7h1.8M106.0 297.9h1.8M104.3 310.8h1.8M108.6 298.6h1.8M98.1 305.7h1.8M108.7 314.6h1.8M82.8 298.0h1.8M116.7 296.0h1.8M98.4 312.6h1.8M103.4 313.4h1.8M94.6 314.0h1.8M103.6 316.4h1.8M115.2 319.5h1.8M110.6 324.5h1.8M109.4 324.7h1.8M107.2 320.7h1.8M86.1 320.9h1.8M119.0 317.3h1.8M101.9 324.0h1.8M101.7 322.1h1.8M94.9 314.1h1.8M103.3 322.2h1.8M102.6 325.4h1.8M87.6 326.2h1.8M92.5 329.6h1.8M83.9 330.3h1.8M85.6 330.7h1.8M105.7 324.4h1.8M95.6 326.2h1.8M97.7 322.9h1.8M98.2 325.0h1.8M62.0 309.2h1.8M148.5 261.8h1.8M133.8 265.1h1.8M147.6 271.0h1.8M142.9 275.5h1.8M142.4 280.0h1.8M140.6 283.9h1.8M140.1 293.4h1.8M125.9 278.9h1.8M114.9 274.9h1.8M104.9 274.9h1.8M74.0 347.9h1.8M78.0 334.7h1.8M98.1 361.2h1.8M102.7 360.0h1.8M84.8 354.9h1.8M90.9 353.0h1.8M96.1 352.0h1.8M98.1 356.2h1.8M85.9 346.7h1.8M94.3 344.2h1.8M104.9 348.8h1.8M102.6 350.5h1.8M105.6 343.8h1.8M111.9 342.7h1.8M119.4 342.0h1.8M86.4 333.8h1.8M88.6 334.5h1.8M90.6 335.3h1.8M92.1 337.0h1.8M89.1 336.8h1.8M102.7 335.0h1.8M103.1 337.7h1.8M107.1 336.5h1.8M81.6 333.5h1.8" fill="none" stroke="#1f9a22" stroke-width="1.8" filter="url(#b1)"/>
<path d="M47.00 230.2H168.2V364.40" fill="none" stroke="#4a4a4a" stroke-width="1.5"/>
<rect x="47.6" y="230.9" width="126.4" height="20.3" rx="2.5" ry="2.5" fill="#ffffff" fill-opacity="0.82" stroke="#c6c6c6" stroke-width="1"/>
<path d="M168.2 230.2V252" fill="none" stroke="#4a4a4a" stroke-width="1.5" stroke-opacity="0.55"/>
<text x="48.6" y="246.0" font-size="15.2" textLength="122" lengthAdjust="spacingAndGlyphs" fill="#111">PNH Monos: 0.45%</text>
<path d="M47.00 127.30H341.00V364.40" fill="none" stroke="#777777" stroke-width="1.3"/>
<path d="M47.00 126.80V364.40H341.50" fill="none" stroke="#363636" stroke-width="1.6"/>
<path d="M68.10 364.40v1.9M47.00 347.00h-1.9M81.05 364.40v1.9M47.00 336.57h-1.9M90.24 364.40v1.9M47.00 329.17h-1.9M97.36 364.40v1.9M47.00 323.43h-1.9M103.19 364.40v1.9M47.00 318.74h-1.9M108.11 364.40v1.9M47.00 314.78h-1.9M112.37 364.40v1.9M47.00 311.34h-1.9M116.14 364.40v1.9M47.00 308.31h-1.9M119.50 364.40v4.6M47.00 305.60h-4.4M141.64 364.40v1.9M47.00 287.77h-1.9M154.58 364.40v1.9M47.00 277.34h-1.9M163.77 364.40v1.9M47.00 269.94h-1.9M170.90 364.40v1.9M47.00 264.20h-1.9M176.72 364.40v1.9M47.00 259.51h-1.9M181.64 364.40v1.9M47.00 255.54h-1.9M185.91 364.40v1.9M47.00 252.11h-1.9M189.67 364.40v1.9M47.00 249.08h-1.9M193.10 364.40v4.6M47.00 246.40h-4.4M215.17 364.40v1.9M47.00 228.54h-1.9M228.12 364.40v1.9M47.00 218.11h-1.9M237.30 364.40v1.9M47.00 210.70h-1.9M244.43 364.40v1.9M47.00 204.96h-1.9M250.25 364.40v1.9M47.00 200.27h-1.9M255.18 364.40v1.9M47.00 196.31h-1.9M259.44 364.40v1.9M47.00 192.87h-1.9M263.20 364.40v1.9M47.00 189.84h-1.9M266.50 364.40v4.6M47.00 187.20h-4.4M288.70 364.40v1.9M47.00 169.30h-1.9M301.65 364.40v1.9M47.00 158.87h-1.9M310.84 364.40v1.9M47.00 151.47h-1.9M317.96 364.40v1.9M47.00 145.73h-1.9M323.79 364.40v1.9M47.00 141.04h-1.9M328.71 364.40v1.9M47.00 137.08h-1.9M332.97 364.40v1.9M47.00 133.64h-1.9M336.74 364.40v1.9M47.00 130.61h-1.9M340.10 364.40v4.6M47.00 127.90h-4.4" fill="none" stroke="#363636" stroke-width="1.05"/>
<text class="s" x="113.10" y="380.90" font-size="10.4" textLength="10.2" lengthAdjust="spacingAndGlyphs">10</text><text class="s" x="123.70" y="377.50" font-size="7.1">0</text>
<text class="s" x="26.50" y="309.20" font-size="10.4" textLength="10.2" lengthAdjust="spacingAndGlyphs">10</text><text class="s" x="36.30" y="306.00" font-size="7.1">0</text>
<text class="s" x="186.70" y="380.90" font-size="10.4" textLength="10.2" lengthAdjust="spacingAndGlyphs">10</text><text class="s" x="197.30" y="377.50" font-size="7.1">1</text>
<text class="s" x="26.50" y="250.00" font-size="10.4" textLength="10.2" lengthAdjust="spacingAndGlyphs">10</text><text class="s" x="36.30" y="246.80" font-size="7.1">1</text>
<text class="s" x="260.10" y="380.90" font-size="10.4" textLength="10.2" lengthAdjust="spacingAndGlyphs">10</text><text class="s" x="270.70" y="377.50" font-size="7.1">2</text>
<text class="s" x="26.50" y="190.80" font-size="10.4" textLength="10.2" lengthAdjust="spacingAndGlyphs">10</text><text class="s" x="36.30" y="187.60" font-size="7.1">2</text>
<text class="s" x="333.70" y="380.90" font-size="10.4" textLength="10.2" lengthAdjust="spacingAndGlyphs">10</text><text class="s" x="344.30" y="377.50" font-size="7.1">3</text>
<text class="s" x="26.50" y="131.50" font-size="10.4" textLength="10.2" lengthAdjust="spacingAndGlyphs">10</text><text class="s" x="36.30" y="128.30" font-size="7.1">3</text>
<text x="139" y="121.0" font-size="15.0" textLength="105.6" lengthAdjust="spacingAndGlyphs">[CD64++ Monos]</text>
<text x="173.8" y="401.1" font-size="15.0" textLength="40" lengthAdjust="spacingAndGlyphs">FLAER</text>
<text transform="translate(18.0 289.8) rotate(-90)" font-size="15.2" textLength="88.4" lengthAdjust="spacingAndGlyphs">CD14 APC700</text>
<g id="neut">
<path d="M561.7 195.2h1M627.8 210.8h1M532.6 176.2h1M602.3 235.6h1M562.7 212.7h1M660.1 191.5h1M551.4 239.2h1M566.1 188.5h1M595.8 249.7h1M556.8 348.9h1M604.1 219.9h1M585.5 232.8h1M599.8 193.2h1M631.7 249.7h1M543.5 223.9h1M535.8 183.7h1M581.6 216.2h1M562.9 233.0h1M621.9 239.3h1M603.2 280.9h1M577.8 210.3h1M595.8 206.9h1M590.2 205.0h1M680.6 196.7h1M613.9 254.8h1M669.5 234.7h1M562.5 192.9h1M538.9 187.1h1M647.0 180.6h1M574.5 146.9h1M553.2 204.8h1M617.5 190.5h1M615.3 246.0h1M569.4 252.9h1M605.4 187.8h1M543.6 225.0h1M552.1 177.7h1M624.7 216.9h1M552.8 205.6h1M567.3 208.9h1M591.9 215.5h1M582.6 300.4h1M528.8 195.6h1M589.6 242.3h1M567.3 211.5h1M561.8 203.3h1M630.2 266.8h1M612.6 265.7h1M569.4 259.6h1M614.6 215.4h1M656.8 172.4h1M577.6 152.0h1M638.4 168.8h1M561.2 205.2h1M635.8 273.3h1M560.4 244.1h1M585.0 198.8h1M604.0 190.9h1M578.0 218.4h1M571.9 322.4h1M570.4 197.9h1M604.9 256.5h1M590.9 178.4h1M573.0 292.1h1M612.7 231.7h1M593.5 204.6h1M601.2 180.0h1M608.2 187.9h1M566.0 224.1h1M636.3 207.2h1M610.9 157.7h1M563.4 277.7h1M621.0 220.7h1M667.8 152.4h1M605.9 194.5h1M615.5 175.3h1M576.4 174.7h1M586.8 179.9h1M612.2 259.0h1M576.3 306.3h1M588.8 260.8h1M578.3 227.9h1M580.6 262.4h1M571.0 154.0h1M616.7 210.1h1M623.7 131.5h1M597.0 268.6h1M598.3 207.7h1M624.9 221.4h1M548.7 217.4h1M604.2 235.8h1M551.9 140.3h1M605.5 239.2h1M557.7 218.9h1M572.2 132.9h1M537.1 165.7h1M534.9 203.8h1M614.0 215.9h1M645.1 279.4h1M596.1 269.4h1M549.1 298.0h1M638.8 167.5h1M578.4 177.6h1M603.8 206.9h1M617.6 199.7h1M556.3 267.8h1M555.3 270.7h1M632.1 154.0h1M567.1 234.3h1M586.8 242.2h1M581.9 221.9h1M605.7 261.2h1M598.3 231.5h1M565.5 215.0h1M652.8 250.9h1M564.7 190.2h1M619.3 310.8h1M565.1 184.2h1M556.6 148.2h1M589.1 180.2h1M592.7 195.9h1M567.1 208.0h1M618.1 285.0h1M563.7 219.9h1M600.5 200.0h1M627.9 165.4h1M624.3 134.4h1M663.4 241.2h1M566.0 247.0h1M592.5 168.3h1M602.6 265.6h1M561.7 262.4h1M619.0 203.2h1M600.2 204.2h1M586.0 216.3h1M598.3 214.3h1M586.0 246.7h1M551.9 172.3h1M600.5 187.8h1M627.5 173.7h1M564.7 266.8h1M593.1 226.8h1M603.2 196.7h1M644.6 215.3h1M626.9 302.7h1M671.0 216.6h1M600.1 198.3h1M603.5 258.8h1M577.3 215.9h1M550.2 220.4h1M637.3 233.5h1M577.0 262.9h1M585.0 210.0h1M580.6 285.3h1M636.6 235.5h1M567.5 311.4h1M570.9 225.7h1M532.1 188.6h1M600.8 153.8h1M577.2 219.3h1M653.6 230.5h1M575.5 243.9h1M560.6 242.0h1M554.8 257.9h1M615.2 260.2h1M556.8 255.6h1M547.4 246.1h1M544.3 268.9h1M623.4 154.5h1M611.8 222.6h1M553.6 329.5h1" fill="none" stroke="#c011bf" stroke-width="1" stroke-opacity="0.2"/>
<path d="M595.7 231.9h1M604.1 217.9h1M609.2 182.5h1M618.4 196.3h1M572.0 195.6h1M594.6 227.9h1M611.5 192.8h1M613.6 193.5h1M567.4 244.2h1M590.3 254.6h1M591.5 185.2h1M627.0 205.6h1M573.3 252.1h1M556.1 218.7h1M605.5 243.1h1M553.5 202.7h1M585.3 245.9h1M581.8 180.7h1M555.2 219.0h1M557.1 211.5h1M582.5 186.2h1M555.7 215.7h1M561.4 239.2h1M557.9 216.4h1M601.8 227.3h1M561.3 240.9h1M584.0 186.3h1M588.2 175.2h1M554.8 213.3h1M572.6 196.5h1M604.5 215.8h1M570.4 191.2h1M563.5 206.2h1M595.4 181.7h1M597.1 230.5h1M612.4 195.7h1M574.2 243.2h1M570.3 199.1h1M552.0 216.3h1M612.9 185.2h1M556.3 234.5h1M558.3 213.9h1M607.0 224.8h1M555.7 242.3h1M604.0 181.1h1M563.4 205.0h1M549.4 223.9h1M610.9 203.0h1M586.8 248.0h1M553.3 235.8h1M615.4 187.6h1M598.6 223.8h1M595.9 231.2h1M592.8 240.2h1M556.7 240.2h1M571.7 251.5h1M610.3 181.5h1M575.8 242.0h1M561.8 201.6h1M614.3 200.2h1M564.1 207.7h1M589.6 232.3h1M583.5 187.9h1M555.1 225.6h1M602.9 218.2h1M607.8 182.5h1M596.0 234.0h1M583.4 179.0h1M561.2 237.1h1M573.7 196.0h1M609.8 202.2h1M609.8 209.8h1M606.5 212.4h1M591.7 175.0h1M582.3 185.9h1M615.4 205.7h1M611.8 214.6h1M550.5 228.0h1M606.7 209.4h1M553.7 220.2h1M563.7 238.7h1M566.0 200.8h1M545.2 222.5h1M560.6 212.1h1M550.6 229.8h1M554.5 209.6h1M587.8 237.6h1M560.4 205.6h1M570.0 255.2h1M559.0 214.1h1M586.9 182.9h1M590.4 182.1h1M568.9 193.6h1M612.4 177.0h1M610.0 199.6h1M569.7 200.6h1M579.8 243.1h1M604.9 181.5h1M614.7 194.9h1M592.6 183.5h1M555.3 220.0h1M546.4 220.9h1M613.8 203.3h1M575.9 194.4h1M582.1 180.8h1M594.6 172.2h1M550.3 228.1h1M590.4 232.0h1M561.6 209.5h1M554.4 220.9h1M613.8 186.5h1M596.0 176.8h1M571.9 250.5h1M545.8 206.7h1M594.8 183.7h1M611.7 190.7h1M592.4 233.8h1M556.7 217.2h1M561.6 242.7h1M554.4 213.1h1M607.3 173.4h1M565.0 202.2h1M611.3 181.6h1M631.9 173.9h1M599.9 177.6h1M568.4 193.4h1M555.5 219.9h1M570.4 194.5h1M615.5 209.9h1M595.7 229.2h1M560.6 249.4h1M599.9 226.7h1M611.3 200.4h1M548.0 218.8h1M608.1 225.2h1M592.7 232.3h1M601.3 232.4h1M578.0 244.1h1M576.9 187.9h1M596.1 227.8h1M576.0 195.4h1M584.0 244.7h1M570.2 251.6h1M570.9 242.1h1M612.8 215.0h1M555.9 217.0h1M592.1 240.2h1M561.6 239.5h1M603.8 181.4h1M576.7 193.5h1M590.4 180.2h1M613.8 208.5h1M549.6 206.9h1M601.3 180.9h1M561.0 210.1h1M613.5 188.2h1M561.1 205.9h1M591.4 234.2h1M631.0 202.8h1M567.4 198.0h1M552.3 227.1h1M588.8 257.5h1M598.5 179.1h1M554.7 225.6h1M592.7 230.8h1M572.9 246.5h1M568.4 241.8h1M576.3 242.4h1M611.6 193.7h1M582.3 184.1h1M562.7 201.4h1M555.7 215.5h1M596.5 182.8h1M575.2 243.7h1M554.8 223.8h1M556.2 193.2h1M559.4 190.2h1M550.6 220.4h1M611.6 216.2h1M556.6 210.9h1M614.1 209.9h1M590.5 235.1h1M575.9 243.3h1M526.3 244.2h1M599.7 180.6h1M598.8 225.5h1M603.6 223.6h1M593.0 230.1h1M583.9 238.9h1M555.4 221.3h1M610.5 194.6h1M571.5 192.6h1M595.7 237.2h1M580.8 253.0h1M594.3 229.0h1M601.4 181.0h1M580.6 185.0h1M553.8 248.7h1M565.3 200.7h1M568.6 200.2h1M589.5 185.5h1M573.1 181.4h1M576.2 193.1h1M555.7 233.0h1M619.3 177.3h1M587.2 186.5h1M580.0 185.5h1M561.3 209.7h1M608.4 223.5h1M586.1 240.6h1M557.2 212.6h1M604.0 216.1h1M608.0 181.0h1M578.1 190.9h1M569.9 199.5h1M600.4 180.8h1M606.4 214.7h1M614.3 201.8h1M578.9 187.7h1M557.6 204.8h1M580.0 187.4h1M559.3 210.7h1M582.8 237.6h1M589.1 236.6h1M553.2 214.1h1M584.2 182.4h1M563.1 243.1h1M553.0 217.7h1M589.8 236.9h1M574.1 244.0h1M550.6 210.8h1M581.8 242.0h1M540.5 228.1h1M602.9 227.5h1M606.8 215.3h1M578.5 247.2h1M609.8 230.2h1M588.4 176.8h1M551.7 221.9h1M611.6 183.0h1M604.1 237.4h1M612.0 211.1h1M565.6 201.4h1M580.5 190.1h1M562.8 242.0h1M564.9 206.4h1M613.6 215.6h1M600.1 179.8h1M562.1 240.2h1M553.6 218.5h1M566.3 204.7h1M610.0 205.8h1M555.0 212.9h1M612.0 194.5h1M556.7 241.2h1M577.5 243.4h1M600.4 225.3h1M557.1 238.6h1M606.0 216.2h1M568.5 243.7h1M583.4 242.7h1M563.2 206.7h1M553.8 225.7h1M581.4 191.1h1M609.9 198.6h1M557.8 235.7h1M610.1 204.8h1M582.3 184.4h1M572.7 178.4h1M610.0 198.2h1M593.5 183.7h1M553.4 215.0h1M609.9 209.6h1M562.0 246.0h1M573.5 242.0h1M580.7 242.1h1M602.7 217.3h1M602.4 176.6h1M590.4 232.2h1M587.2 235.0h1M567.9 187.0h1M612.2 199.7h1M611.2 201.2h1M571.7 247.4h1M549.3 222.0h1M563.9 205.8h1M555.3 226.5h1M602.0 218.1h1M592.5 243.1h1M605.4 219.4h1M613.4 204.8h1M581.2 242.3h1M610.7 193.9h1M578.3 247.6h1M598.7 182.1h1M595.1 239.1h1M561.1 208.9h1M560.0 253.2h1M609.5 227.0h1M559.3 238.6h1M587.5 183.3h1M554.8 215.9h1M560.3 237.4h1M583.2 238.7h1M598.3 226.0h1M553.0 211.8h1M574.6 193.6h1M598.4 238.7h1M590.2 243.0h1M594.4 229.8h1M610.9 214.6h1M587.0 182.7h1M552.5 228.4h1M612.0 201.7h1M592.0 175.0h1M553.3 203.1h1M582.4 186.3h1M569.4 196.4h1M595.3 181.4h1M614.1 174.8h1M599.9 222.3h1M591.2 175.1h1M592.8 231.9h1M608.9 177.8h1M588.1 241.5h1M570.4 191.7h1M608.9 212.3h1M560.0 213.2h1M592.4 236.1h1M587.2 249.5h1M573.6 245.7h1M592.9 179.5h1M588.4 183.9h1M559.4 198.9h1M583.3 185.9h1M552.9 214.9h1M591.0 237.9h1M611.2 182.0h1M611.3 190.8h1M566.9 204.1h1M550.6 231.8h1M592.8 232.9h1M562.2 209.1h1M623.2 185.5h1M583.0 189.6h1M571.8 195.0h1M604.3 221.1h1M564.4 199.9h1M591.3 232.5h1M583.6 239.2h1M553.9 252.4h1M574.9 191.6h1M582.8 238.9h1M597.1 240.2h1M558.8 258.8h1M578.1 241.5h1M574.7 195.7h1M616.8 200.1h1M584.9 188.7h1M588.8 186.4h1M584.0 246.0h1M606.5 210.6h1M571.1 192.9h1M612.0 207.5h1M574.7 195.5h1M592.4 184.7h1M549.5 227.5h1M588.7 246.4h1M587.5 187.1h1M573.9 194.6h1M629.6 186.0h1M560.2 248.6h1M594.3 173.9h1M569.1 196.5h1M595.2 227.6h1M562.2 237.6h1M562.8 239.6h1M599.8 175.9h1M614.7 202.8h1M581.1 238.7h1M560.8 197.8h1M550.8 203.3h1M575.8 244.1h1M609.4 209.7h1M625.0 228.1h1M577.7 192.3h1M578.7 240.7h1M585.1 186.3h1M591.4 236.2h1M557.9 213.7h1M556.7 202.1h1M594.9 180.4h1M571.8 190.7h1M572.4 195.7h1M590.1 181.9h1M589.8 184.2h1M588.7 184.6h1M603.0 226.6h1M581.7 242.2h1M603.6 219.0h1M578.2 176.6h1M608.5 168.7h1M592.5 175.5h1M599.5 229.8h1M549.4 224.6h1M612.8 197.9h1M585.6 235.9h1M551.0 239.0h1M605.0 261.7h1M587.9 233.5h1M579.5 239.9h1M598.7 178.7h1M556.4 209.9h1M554.9 216.6h1M613.4 214.6h1M611.5 197.6h1M550.9 220.5h1M560.5 205.9h1M590.7 242.6h1M580.1 190.9h1M609.5 201.0h1M602.5 180.2h1M562.7 250.1h1M570.9 192.4h1M592.2 230.3h1M545.9 209.4h1M587.2 168.0h1M607.0 217.1h1M602.1 218.5h1M604.8 235.1h1M592.4 232.9h1M611.4 195.5h1M578.3 191.2h1M564.6 240.2h1M581.4 191.1h1M552.7 233.3h1M589.7 248.9h1M553.2 231.5h1M606.0 213.2h1M578.5 250.7h1M591.6 179.3h1M583.3 187.0h1M602.7 181.2h1M556.3 233.5h1M618.2 193.1h1M600.5 221.4h1M606.0 182.7h1M594.6 230.5h1M585.6 182.7h1M594.3 179.6h1M605.6 215.4h1M610.3 200.2h1M569.8 200.1h1M584.5 236.0h1M605.6 217.9h1M550.0 214.6h1M566.0 189.1h1M549.5 221.3h1M598.7 230.6h1M568.7 242.7h1M578.7 190.3h1M570.9 194.4h1M555.3 219.1h1M602.4 181.3h1M564.0 207.4h1M569.2 197.3h1M615.1 221.8h1M606.9 221.6h1M556.4 212.0h1M557.5 233.5h1M598.6 176.6h1M601.0 227.1h1M583.5 240.7h1M596.9 179.1h1M612.3 202.6h1M589.6 183.0h1M601.6 176.7h1M607.3 209.9h1M614.5 192.2h1M603.4 217.5h1M591.1 233.8h1M605.0 182.1h1M565.2 205.7h1M609.7 186.0h1M598.5 227.0h1M610.0 199.4h1M560.3 236.4h1M589.4 235.8h1M559.7 207.6h1M562.6 241.5h1M563.2 239.5h1M601.3 227.4h1M621.5 203.1h1M605.4 226.1h1M576.3 194.7h1M609.8 203.6h1M581.4 241.6h1M597.8 231.4h1M567.7 198.8h1M556.3 242.1h1M598.5 233.5h1M575.9 245.6h1M583.6 236.8h1M607.7 219.2h1M619.3 188.1h1M557.7 206.7h1M608.3 208.1h1M614.6 201.3h1M583.9 244.5h1M636.0 229.3h1M603.1 181.6h1M586.3 236.3h1M560.2 235.7h1M574.7 190.2h1M611.8 186.4h1M616.2 187.0h1M557.3 215.5h1M587.0 234.2h1M608.6 209.2h1M595.2 231.1h1M586.9 186.5h1M554.9 220.5h1M603.7 216.6h1M603.9 214.8h1M550.1 248.1h1M569.9 247.5h1M607.5 214.3h1M574.4 195.5h1M561.9 209.4h1M557.0 231.2h1M563.4 192.2h1M590.3 234.8h1M554.9 225.2h1M620.4 214.0h1M590.1 185.1h1M554.6 215.9h1M562.8 207.2h1M610.2 186.1h1M594.2 179.4h1M556.8 246.5h1M608.6 217.9h1M590.0 242.9h1M550.7 214.5h1M568.6 201.2h1M563.2 241.4h1M556.1 229.7h1M566.6 198.8h1M611.6 205.9h1M614.3 197.1h1M574.5 195.2h1M568.3 201.2h1M595.1 228.3h1M563.2 196.0h1M579.2 188.2h1M562.2 209.8h1M613.5 215.2h1M561.4 198.9h1M601.0 229.6h1M590.8 239.9h1M620.6 180.7h1M581.9 185.8h1M620.7 199.3h1M601.3 219.2h1M564.3 206.3h1M593.1 179.5h1M612.9 208.1h1M588.1 235.5h1M582.4 240.1h1M582.2 187.7h1M604.5 216.1h1M605.8 215.0h1M601.3 180.0h1M560.0 203.5h1M573.3 195.2h1M547.6 234.9h1M608.4 209.4h1M563.6 239.8h1M595.6 246.4h1M599.6 178.1h1M547.4 212.0h1M575.0 186.1h1M564.8 239.7h1M558.2 256.2h1M570.4 194.1h1M599.0 178.7h1M552.6 213.2h1M588.2 183.0h1M579.6 191.2h1M564.1 239.1h1M599.5 227.6h1M574.4 251.2h1M570.6 193.7h1M592.1 184.9h1M553.7 210.8h1M597.4 234.3h1M576.6 194.9h1M603.2 179.6h1M598.5 234.5h1M602.6 255.5h1M574.6 196.4h1M600.2 222.8h1M556.9 234.1h1M605.1 212.7h1M613.2 200.9h1M602.3 180.2h1M565.7 186.4h1M557.8 235.3h1M569.2 196.9h1M606.3 212.9h1M592.4 184.1h1M567.0 242.6h1M579.7 184.8h1M609.6 210.6h1M580.7 240.1h1M559.3 201.7h1M621.4 181.7h1M570.0 190.6h1M612.9 221.8h1M576.6 243.7h1M588.9 237.6h1M588.5 250.1h1M548.2 225.4h1M584.7 188.6h1M595.4 175.0h1M593.5 228.9h1M594.5 181.2h1M551.2 182.1h1M615.9 195.9h1M609.4 181.5h1M560.2 207.9h1M584.5 237.6h1M576.5 187.0h1M620.3 203.8h1M617.0 199.1h1M611.3 195.5h1M576.0 193.0h1M584.6 179.2h1M593.9 243.3h1M576.3 194.2h1M571.2 243.1h1M562.2 209.6h1M567.6 200.4h1M590.2 182.9h1M538.3 241.5h1M565.2 241.7h1M582.3 188.6h1M608.0 206.0h1M587.1 187.7h1M603.0 180.9h1M566.0 198.4h1M620.7 206.3h1M550.2 222.9h1M527.9 198.5h1M606.4 216.2h1M563.1 208.4h1M555.0 212.8h1M616.2 195.1h1M618.3 199.2h1M615.2 208.4h1M600.5 257.6h1M572.7 191.5h1M620.7 201.7h1M594.6 182.5h1M597.1 225.6h1M610.7 196.3h1M600.4 220.5h1M555.0 228.9h1M624.7 187.9h1M564.4 185.1h1M611.5 183.6h1M588.8 184.0h1M567.5 245.3h1M614.4 190.7h1M571.9 244.7h1M596.0 229.2h1M592.9 234.4h1M566.3 246.2h1M603.7 179.8h1M592.6 181.4h1M601.5 180.0h1M582.9 186.6h1M582.1 189.9h1M585.7 181.3h1M587.6 172.9h1M569.1 190.9h1M560.4 207.9h1M607.9 221.4h1M539.3 211.9h1M594.2 233.8h1M607.3 215.0h1M556.7 235.1h1M607.7 213.6h1M602.0 222.1h1M601.8 222.4h1M595.5 232.4h1M612.4 191.3h1M562.7 208.3h1M612.5 191.9h1M587.7 187.5h1M600.4 222.8h1M581.2 240.8h1M613.6 206.0h1M558.9 213.1h1M576.4 193.1h1M540.0 213.5h1M588.0 238.9h1M608.3 208.4h1M565.6 240.8h1M595.2 229.7h1M613.2 211.7h1M612.2 197.9h1M551.5 216.7h1M561.4 202.5h1M589.7 236.4h1M595.0 179.2h1M559.8 211.4h1M579.2 192.8h1M610.2 206.8h1M564.1 196.6h1M602.1 220.4h1M583.5 237.8h1M582.9 186.8h1M554.8 207.0h1M593.8 183.9h1M576.7 183.4h1M608.2 205.4h1M587.0 187.6h1M590.1 181.8h1M575.9 194.4h1M610.4 195.1h1M596.7 182.9h1M546.3 233.7h1M594.0 184.3h1M578.7 185.1h1M611.1 203.1h1M561.0 206.7h1M600.3 225.3h1M614.4 199.9h1M552.2 224.5h1M592.0 182.7h1M584.6 185.4h1M573.3 242.7h1M560.0 207.9h1M543.8 215.1h1M606.5 211.5h1M578.7 241.1h1M591.3 234.0h1M590.6 185.9h1M567.4 197.7h1M593.8 230.9h1M604.4 215.7h1M611.0 196.5h1M607.7 240.2h1M614.3 193.3h1M577.3 246.9h1M565.8 186.5h1M546.0 206.6h1M584.5 184.8h1M583.7 242.9h1M611.1 199.0h1M553.6 216.4h1M542.0 192.8h1M565.7 205.2h1M574.3 194.7h1M589.2 239.5h1M613.4 215.3h1M557.9 236.5h1M581.4 240.7h1M555.7 230.2h1M597.9 234.5h1M570.9 199.6h1M605.6 215.4h1M604.2 214.0h1M581.8 190.7h1M555.5 211.1h1M588.0 249.9h1M605.0 217.8h1M608.9 204.3h1M562.8 207.7h1M577.8 190.9h1M563.0 239.9h1M570.0 200.1h1M560.2 240.1h1M560.5 238.3h1M609.4 205.5h1M614.0 184.7h1M579.4 186.6h1M553.3 215.6h1M604.2 222.3h1M617.0 201.7h1M608.7 203.0h1M592.6 229.7h1M561.7 241.7h1M528.6 255.8h1M567.0 241.1h1M583.1 186.4h1M578.9 240.9h1M593.8 232.1h1M609.5 185.3h1M580.3 239.2h1M602.4 219.8h1M585.1 188.6h1M606.0 247.3h1M603.8 218.5h1M561.9 199.4h1M578.0 190.6h1M610.4 188.1h1M616.7 211.3h1M558.0 233.9h1M558.5 234.5h1M586.3 240.9h1M567.9 198.2h1M596.8 250.5h1M560.5 239.1h1M601.7 222.7h1M571.0 184.5h1M610.9 209.7h1M622.4 210.1h1M576.6 241.3h1M604.1 218.0h1M568.5 243.5h1M607.2 232.1h1M582.7 239.2h1M581.4 188.2h1M583.4 239.7h1M567.0 243.2h1M608.5 223.7h1M585.1 188.8h1M554.5 216.2h1M553.6 216.3h1M569.0 251.0h1M586.6 174.1h1M563.2 196.2h1M554.8 221.3h1M616.9 223.9h1M582.7 239.8h1M587.1 186.1h1M582.5 249.6h1M591.4 183.9h1M582.8 238.5h1M605.3 218.1h1M608.8 179.6h1M565.0 199.5h1M621.3 229.9h1M555.4 234.4h1M563.4 241.7h1M561.2 236.5h1M573.5 195.5h1M610.8 193.2h1M554.7 233.4h1M588.8 234.8h1M561.2 194.4h1M606.7 212.0h1M592.2 176.3h1M615.7 202.9h1M560.4 192.2h1M607.8 209.3h1M610.2 199.9h1M552.5 234.8h1M570.7 198.3h1M551.4 217.6h1M611.7 205.6h1M608.1 209.2h1M587.1 240.0h1M618.3 205.6h1M579.3 187.4h1M555.7 213.8h1M578.0 192.2h1M589.4 236.2h1M568.0 201.3h1M587.7 186.1h1M581.0 250.6h1M567.8 202.6h1M562.4 239.4h1M558.1 238.9h1M576.1 245.6h1M607.7 183.8h1M546.2 223.5h1M571.6 253.7h1M606.3 212.7h1M593.6 233.5h1M557.7 190.6h1M609.2 181.5h1M576.7 191.4h1M599.5 226.2h1M550.1 233.6h1M553.8 226.5h1M593.7 237.0h1M576.3 193.8h1M595.7 182.8h1M554.0 232.8h1M591.1 233.9h1M613.8 205.0h1M564.4 202.6h1M561.6 241.0h1M600.5 181.9h1M572.8 197.5h1M576.8 186.9h1M584.4 188.8h1M557.0 217.8h1M610.6 184.6h1M610.9 180.1h1M587.5 239.5h1M552.3 212.3h1M587.9 172.5h1M581.8 187.6h1M579.3 243.7h1M613.6 178.6h1M578.7 192.1h1M574.9 187.8h1M556.0 207.0h1M601.7 220.3h1M593.9 178.4h1M581.4 186.0h1M589.8 234.3h1M585.4 235.3h1M610.4 221.8h1M582.0 244.1h1M592.6 183.2h1M583.4 182.7h1M564.0 205.4h1M603.3 216.0h1M600.0 232.0h1M608.1 209.0h1M566.8 240.9h1M614.9 205.2h1M590.6 184.1h1M575.3 244.3h1M564.3 205.6h1M562.8 207.9h1M600.5 233.0h1M578.9 241.2h1M577.3 246.9h1M589.6 178.6h1M547.1 226.2h1M573.9 243.5h1M626.1 183.6h1M612.1 188.9h1M595.5 231.4h1M620.1 180.8h1M614.8 211.3h1M582.1 240.9h1M601.9 218.4h1M572.9 197.0h1M611.2 189.2h1M612.6 205.5h1M569.8 256.7h1M594.8 183.5h1M559.8 209.9h1M604.2 176.6h1M618.6 195.9h1M555.3 221.8h1M575.8 241.8h1M586.8 235.5h1M597.1 228.4h1M614.9 183.6h1M556.4 235.7h1M611.5 195.5h1M580.3 238.9h1M594.6 183.0h1M557.2 235.2h1M597.3 225.4h1M552.4 233.2h1M564.9 196.6h1M618.8 187.1h1M565.0 245.6h1M610.6 194.0h1M606.0 179.3h1M552.8 230.9h1M575.0 194.5h1M610.2 206.2h1M610.9 197.0h1M589.3 234.4h1M553.6 239.3h1M583.4 186.8h1M559.1 212.5h1M613.4 214.6h1M553.7 220.8h1M593.4 182.8h1M563.4 238.7h1M616.3 195.6h1M560.3 237.2h1M606.6 179.7h1M554.1 237.2h1M563.8 203.0h1M606.9 215.5h1M597.0 225.3h1M580.0 239.3h1M597.8 181.9h1M553.5 224.5h1M554.2 226.3h1M554.9 229.2h1M584.6 237.9h1M598.0 225.2h1M612.1 190.6h1M570.0 200.2h1M582.7 187.5h1M559.6 211.2h1M564.1 245.5h1M573.5 195.3h1M567.6 243.7h1M578.7 248.0h1M608.3 231.7h1M611.0 183.6h1M571.7 194.7h1M618.3 210.3h1M580.8 182.1h1M612.6 195.1h1M614.6 195.0h1M557.2 244.1h1M582.0 248.6h1M557.8 235.4h1M554.7 224.6h1M552.7 227.0h1M609.2 166.5h1M589.2 181.8h1M584.1 180.3h1M552.2 212.9h1M590.6 237.0h1M591.7 249.5h1M612.2 211.0h1M573.8 196.6h1M613.2 196.1h1M567.2 243.0h1M591.6 231.8h1M588.6 233.6h1M572.6 192.1h1M569.5 247.6h1M562.9 242.3h1M554.9 222.0h1M575.1 189.4h1M564.4 241.2h1M566.9 193.8h1M553.4 221.8h1M561.3 209.7h1M615.0 218.5h1M593.6 183.0h1M585.8 250.4h1M585.1 236.0h1M600.9 180.3h1M558.3 234.3h1M563.1 200.6h1M608.5 206.6h1M558.5 209.5h1M605.0 181.3h1M601.7 229.0h1M582.9 181.8h1M608.6 204.9h1M611.5 192.1h1M609.8 204.3h1M574.2 190.5h1M572.1 194.5h1M575.8 241.2h1M609.6 208.6h1M602.7 223.9h1M581.5 245.6h1M593.3 182.8h1M590.3 182.1h1M566.8 204.3h1M587.5 238.3h1M562.4 201.2h1M612.0 221.1h1M569.5 199.2h1M608.3 209.7h1M603.5 217.4h1M559.7 199.6h1M565.2 205.5h1M565.3 242.5h1M613.8 185.7h1M615.5 183.9h1M611.9 208.2h1M590.7 184.5h1M582.5 182.1h1M618.1 203.3h1M571.5 243.9h1M561.5 238.1h1M592.7 231.2h1M603.5 228.9h1M586.5 163.6h1M599.6 228.5h1M552.0 244.9h1M551.4 222.5h1M617.6 197.5h1M563.9 206.1h1M609.8 202.1h1M619.7 209.1h1M585.5 181.2h1M576.0 192.3h1M602.9 221.1h1M594.9 227.7h1M582.4 243.3h1M585.6 237.8h1M557.8 234.4h1M559.8 207.4h1M606.9 208.4h1M608.3 184.7h1M609.7 216.5h1M576.0 188.3h1M596.2 179.4h1M570.8 198.0h1M563.6 191.5h1M543.0 217.4h1M602.7 180.9h1M563.2 241.5h1M587.8 180.7h1M556.7 214.7h1M553.3 243.5h1M565.5 202.4h1M580.4 242.3h1M582.1 189.5h1M599.1 224.7h1M569.1 196.7h1M590.3 234.3h1M579.9 243.0h1M560.4 242.4h1M609.9 187.4h1M565.9 194.2h1M570.5 243.2h1M591.4 181.9h1M566.4 204.2h1M615.2 200.4h1M612.3 200.1h1M557.0 204.4h1M569.5 243.2h1M581.7 181.8h1M576.8 243.4h1M610.3 194.7h1M600.3 179.3h1M611.6 205.4h1M598.2 228.8h1M608.9 172.6h1M580.8 250.8h1M611.2 209.0h1M608.4 183.5h1M607.3 207.0h1M589.8 184.8h1M552.6 215.9h1M578.1 191.1h1M566.7 195.3h1M599.5 225.9h1M545.3 201.8h1M576.9 243.8h1M557.8 202.5h1M559.8 211.1h1M559.5 200.3h1M554.0 210.5h1M575.8 186.4h1M614.5 190.1h1M573.8 189.7h1M611.9 215.0h1M603.9 219.9h1M595.4 170.6h1M545.8 237.0h1M569.3 241.9h1M565.1 203.2h1M597.6 247.3h1M565.7 204.1h1M547.9 233.9h1M573.8 246.3h1M603.1 175.7h1M605.6 216.3h1M602.7 224.4h1M608.6 204.9h1M581.1 238.5h1M561.4 237.1h1M600.1 222.1h1M605.8 214.3h1M610.3 209.6h1M561.5 204.7h1M558.1 234.2h1M542.0 235.5h1M607.9 213.9h1M604.2 175.7h1M557.3 246.2h1M568.4 193.5h1M560.5 196.0h1M612.5 189.5h1M598.0 224.5h1M570.7 195.7h1M560.1 235.8h1M612.5 228.4h1M558.4 202.0h1M568.6 185.6h1M597.2 231.3h1M606.1 219.5h1M611.8 194.5h1M608.9 184.7h1M586.4 175.8h1M603.7 216.6h1M616.7 201.8h1M586.8 183.4h1M556.2 230.6h1M556.0 214.0h1M574.4 243.9h1M557.3 242.9h1M557.0 210.0h1M596.7 180.8h1M557.1 215.6h1M576.1 194.8h1M574.0 191.1h1M545.6 216.7h1M569.3 250.8h1M542.0 226.8h1M576.3 247.8h1M574.6 194.4h1M554.3 245.0h1M570.1 199.0h1M611.8 192.8h1M608.8 219.8h1M571.2 185.4h1M577.6 189.4h1M551.5 216.3h1M608.8 207.0h1M586.3 246.1h1M568.6 199.3h1M575.4 188.7h1M559.3 208.3h1M599.3 225.0h1M608.1 207.2h1M554.2 215.4h1M596.0 227.5h1M625.0 199.6h1M593.1 235.5h1M573.5 246.1h1M613.4 214.3h1M606.6 219.7h1M605.7 223.9h1M611.7 192.1h1M599.6 227.5h1M598.7 226.2h1M612.0 204.5h1M582.8 239.8h1M592.7 171.0h1M608.8 204.6h1M562.2 209.7h1M608.8 207.7h1M613.9 211.0h1M613.2 211.3h1M556.9 206.6h1M580.5 178.9h1M580.8 190.4h1M581.4 239.1h1M575.6 242.5h1M568.7 247.0h1M556.2 217.9h1M581.5 240.4h1M541.7 245.8h1M612.4 212.6h1M574.0 194.8h1M569.0 198.4h1M599.1 226.7h1M565.2 200.5h1M572.0 244.1h1M564.5 245.7h1M612.9 193.3h1M599.1 179.1h1M544.9 233.5h1M595.1 238.8h1M587.7 235.6h1M608.8 208.9h1M570.5 242.2h1M611.1 185.7h1M558.3 236.2h1M572.9 196.6h1M596.4 181.8h1M553.3 232.4h1M571.6 197.9h1M559.4 239.1h1M549.0 216.4h1M584.1 236.4h1M601.1 240.3h1M582.5 163.4h1M568.9 200.5h1M581.9 249.4h1M593.8 179.0h1M575.4 192.4h1M592.6 180.6h1M580.0 192.3h1M595.7 180.5h1M565.0 203.4h1M590.1 179.5h1M599.8 181.3h1M588.3 180.3h1M558.9 205.7h1M590.2 185.7h1M608.6 212.7h1M582.2 189.6h1M551.1 203.2h1M587.0 244.2h1M546.3 230.0h1M551.4 239.6h1M616.6 217.1h1M599.5 237.8h1M595.6 182.9h1M551.2 233.1h1M590.9 182.0h1M599.9 223.0h1M562.9 239.1h1M556.3 208.1h1M608.8 230.7h1" fill="none" stroke="#c011bf" stroke-width="1" stroke-opacity="0.5" filter="url(#b3)"/>
<path d="M584.5 238.0h1M563.0 243.2h1M584.9 236.5h1M603.6 180.7h1M575.8 194.4h1M583.8 236.8h1M566.0 197.5h1M581.7 239.9h1M611.4 189.3h1M590.1 183.0h1M587.4 235.7h1M595.8 231.5h1M591.3 182.8h1M586.1 184.8h1M560.8 241.5h1M611.7 189.1h1M588.1 186.1h1M592.6 184.2h1M557.5 233.1h1M610.5 207.1h1M605.1 214.0h1M598.0 228.0h1M589.3 234.6h1M606.6 210.7h1M557.5 206.8h1M553.9 228.2h1M602.6 179.2h1M607.9 223.2h1M612.5 201.6h1M606.2 214.5h1M599.0 181.1h1M613.0 211.4h1M569.6 199.6h1M593.4 230.7h1M575.8 195.1h1M591.3 185.2h1M607.1 209.9h1M606.2 181.8h1M591.5 183.9h1M564.6 241.8h1M567.0 241.9h1M560.9 197.5h1M586.9 187.5h1M562.8 207.4h1M553.9 224.8h1M559.4 238.0h1M577.9 193.5h1M606.8 208.8h1M598.0 181.4h1M571.8 242.8h1M591.1 232.1h1M593.9 182.0h1M569.3 242.7h1M577.5 193.9h1M584.4 238.5h1M566.9 241.9h1M565.8 201.0h1M552.0 221.5h1M610.9 195.2h1M569.7 197.7h1M604.1 228.2h1M585.5 237.5h1M586.9 187.4h1M601.0 221.1h1M601.1 222.5h1M612.8 199.8h1M608.6 214.2h1M601.6 221.0h1M600.4 229.0h1M568.1 200.3h1M554.3 216.6h1M559.9 237.9h1M607.0 181.3h1M559.5 212.6h1M568.2 196.6h1M595.9 180.7h1M599.9 222.2h1M610.1 186.9h1M562.7 239.5h1M588.7 183.8h1M607.6 207.8h1M582.5 188.4h1M572.5 243.0h1M601.1 181.4h1M560.0 210.6h1M608.2 209.4h1M600.7 225.9h1M552.9 224.7h1M605.4 213.8h1M558.7 208.3h1M588.3 237.7h1M596.6 226.8h1M592.7 230.5h1M610.4 199.2h1M583.6 183.0h1M555.1 215.3h1M564.9 240.3h1M610.6 189.6h1M587.4 186.4h1M591.4 233.7h1M609.0 207.5h1M597.4 178.6h1M611.1 182.1h1M609.1 211.4h1M599.2 180.6h1M592.6 230.2h1M559.3 239.4h1M599.7 223.4h1M567.6 197.9h1M604.5 216.8h1M608.9 214.5h1M612.8 196.3h1M579.4 243.8h1M596.8 231.8h1M610.4 207.6h1M555.5 218.1h1M553.6 224.8h1M608.5 211.1h1M558.2 235.8h1M609.9 204.6h1M568.7 200.7h1M594.2 233.8h1M611.2 191.4h1M599.6 225.1h1M573.8 196.6h1M604.6 180.2h1M562.2 204.0h1M609.7 182.6h1M554.1 239.1h1M611.5 189.1h1M581.3 239.2h1M618.1 185.5h1M576.7 241.7h1M562.2 238.0h1M558.0 237.9h1M612.2 194.4h1M555.0 226.8h1M567.8 241.7h1M608.6 208.9h1M602.8 218.7h1M607.6 210.5h1M582.3 187.7h1M558.9 212.3h1M609.6 186.8h1M610.6 189.9h1M572.6 197.3h1M574.1 192.6h1M585.7 187.3h1M586.4 237.5h1M583.4 184.9h1M606.5 214.2h1M607.4 217.5h1M614.3 193.2h1M592.4 179.2h1M584.5 186.1h1M600.3 180.6h1M609.3 202.9h1M583.8 187.2h1M588.4 178.6h1M602.5 219.1h1M611.5 197.4h1M583.2 189.6h1M565.4 199.9h1M602.4 223.6h1M576.3 241.3h1M573.4 243.4h1M561.7 207.6h1M557.3 233.1h1M566.9 203.4h1M563.9 206.9h1M606.6 215.8h1M579.5 187.4h1M583.8 240.9h1M565.9 242.6h1M608.6 206.9h1M554.9 230.3h1M599.9 180.4h1M606.7 224.1h1M570.5 198.9h1M560.8 203.8h1M566.2 202.1h1M610.4 208.6h1M595.2 183.2h1M554.8 222.1h1M600.4 180.2h1M613.1 206.4h1M579.2 191.7h1M613.3 198.0h1M606.8 178.2h1M597.0 227.5h1M592.5 179.4h1M553.6 217.0h1M560.8 210.5h1M592.4 233.6h1M581.0 189.6h1M589.2 182.3h1M612.0 193.4h1M608.1 182.7h1M553.7 225.0h1M565.8 204.4h1M610.6 206.7h1M555.9 238.1h1M559.7 238.1h1M559.1 237.8h1M554.1 215.0h1M568.2 198.6h1M585.1 185.1h1M559.9 212.3h1M559.3 213.6h1M579.4 190.7h1M604.1 216.2h1M612.0 183.7h1M549.8 229.0h1M565.8 241.7h1M601.0 220.8h1M578.8 240.5h1M595.3 179.3h1M586.3 186.6h1M594.2 236.6h1M607.8 206.6h1M610.1 201.9h1M611.1 205.4h1M572.2 197.9h1M556.9 214.8h1M593.3 234.4h1M597.5 180.6h1M585.1 187.6h1M559.4 236.2h1M597.4 227.0h1M577.6 192.3h1M578.0 192.3h1M614.6 193.3h1M610.2 187.5h1M601.6 228.1h1M611.6 196.3h1M598.2 224.5h1M565.5 241.6h1M595.0 183.6h1M603.5 216.5h1M610.5 210.2h1M602.5 223.5h1M599.5 224.0h1M573.2 187.1h1M580.1 240.2h1M606.7 177.7h1M561.3 205.9h1M590.8 238.8h1M558.0 213.5h1M589.1 241.1h1M604.1 219.8h1M609.5 186.7h1M591.7 184.9h1M581.2 239.4h1M554.8 227.4h1M577.7 241.3h1M596.0 229.0h1M560.4 237.6h1M570.7 244.4h1M582.6 238.6h1M602.1 218.4h1M609.5 212.4h1M582.7 238.8h1M573.0 196.3h1M564.2 245.3h1M578.6 241.4h1M564.5 197.7h1M599.0 178.2h1M593.7 182.0h1M567.0 241.3h1M607.8 206.1h1M590.2 231.9h1M574.7 243.6h1M563.1 207.6h1M604.3 216.7h1M611.4 191.5h1M587.1 242.5h1M555.8 235.9h1M586.6 185.6h1M569.2 242.9h1M566.9 241.6h1M586.0 186.8h1M610.3 189.5h1M601.0 176.0h1M574.0 242.9h1M557.6 234.6h1M607.2 181.4h1M588.3 185.2h1M571.0 196.1h1M589.3 235.7h1M568.2 187.1h1M598.4 225.1h1M567.7 194.7h1M582.9 238.1h1M604.4 217.9h1M565.4 198.1h1M555.7 214.7h1M581.0 240.3h1M592.2 231.0h1M562.5 209.1h1M570.0 242.9h1M599.3 181.3h1M575.9 193.1h1M611.1 201.7h1M608.4 212.2h1M574.6 195.6h1M602.2 218.8h1M597.8 229.3h1M556.0 209.7h1M564.8 239.9h1M582.5 188.4h1M566.3 245.4h1M570.5 198.1h1M601.0 220.8h1M565.9 204.8h1M572.5 246.7h1M600.3 180.3h1M599.6 226.2h1M589.5 184.4h1M607.1 210.7h1M587.9 184.1h1M607.1 208.2h1M612.8 171.9h1M604.6 180.0h1M613.1 192.2h1M555.2 239.8h1M577.6 192.7h1M591.6 184.9h1M579.0 242.8h1M589.8 185.5h1M607.3 212.7h1M564.9 241.6h1M611.0 177.2h1M602.5 217.9h1M595.0 183.2h1M561.1 239.8h1M605.4 181.5h1M612.3 198.9h1M556.5 208.6h1M608.8 183.6h1M557.6 210.3h1M611.4 201.8h1M553.9 223.9h1M564.8 196.7h1M596.4 233.2h1M611.0 191.8h1M612.1 190.8h1M574.5 242.4h1M594.6 183.5h1M554.8 229.0h1M602.4 224.0h1M597.1 228.4h1M573.6 194.9h1M570.4 243.6h1M615.0 207.2h1M570.5 195.3h1M606.6 181.9h1M556.3 217.8h1M601.9 179.5h1M562.0 209.2h1M575.2 195.3h1M606.7 182.4h1M580.5 239.4h1M568.8 194.7h1M574.0 244.1h1M581.4 189.1h1M607.2 207.8h1M587.0 187.2h1M561.9 201.0h1M615.8 199.8h1M561.9 209.7h1M564.2 243.5h1M582.7 188.2h1M611.3 198.9h1M548.8 231.8h1M602.8 220.2h1M563.0 199.4h1M609.4 205.5h1M587.7 182.3h1M587.5 187.2h1M579.5 187.4h1M555.5 220.4h1M565.0 201.8h1M568.2 245.2h1M556.0 214.2h1M577.8 246.1h1M605.8 180.0h1M552.4 227.6h1M559.9 203.9h1M561.3 208.7h1M564.7 239.8h1M611.2 197.5h1M569.7 192.8h1M559.3 235.2h1M597.1 179.4h1M610.1 187.8h1M557.2 238.0h1M604.5 221.7h1M556.4 216.1h1M610.6 187.2h1M553.4 219.9h1M564.2 205.7h1M553.0 231.0h1M587.9 186.2h1M553.5 235.7h1M563.6 192.5h1M605.8 235.2h1M578.6 244.9h1M569.3 200.8h1M577.1 246.9h1M607.5 208.0h1M577.5 186.4h1M563.9 206.7h1M607.3 209.2h1M603.6 224.7h1M564.3 204.4h1M613.6 204.1h1M589.5 183.8h1M561.6 204.8h1M577.4 240.9h1M593.4 182.6h1M601.2 226.1h1M611.6 188.2h1M568.7 243.5h1M596.7 229.7h1M610.3 184.9h1M582.5 189.7h1M588.6 239.1h1M599.5 177.1h1M558.7 236.3h1M567.2 202.9h1M553.4 226.7h1M587.9 235.4h1M566.4 202.1h1M605.1 212.7h1M606.1 180.9h1M563.9 203.6h1M576.9 241.4h1M594.0 183.6h1M595.4 229.2h1M606.2 214.2h1M600.0 223.2h1M580.5 239.1h1M601.8 219.6h1M580.5 239.9h1M549.4 227.5h1M608.1 220.8h1M559.7 236.4h1M600.6 180.5h1M605.4 181.2h1M559.5 213.6h1M554.3 220.3h1M609.7 186.4h1M597.9 226.7h1M576.9 246.9h1M554.6 216.5h1M563.5 206.6h1M589.7 180.8h1M558.5 214.1h1M605.9 211.4h1M589.7 232.6h1M552.0 226.1h1M553.4 223.3h1M555.8 217.3h1M586.4 187.7h1M603.5 218.9h1M609.3 204.6h1M607.2 177.4h1M554.2 218.2h1M569.8 199.8h1M557.7 233.8h1M612.0 203.0h1M570.1 242.8h1M608.4 206.7h1M569.9 242.3h1M588.7 181.8h1M601.6 221.7h1M608.0 184.3h1M577.6 193.3h1M552.9 218.8h1M607.5 209.1h1M597.8 230.3h1M607.2 183.2h1M565.1 243.8h1M586.6 235.4h1M600.4 222.1h1M574.1 193.7h1M611.5 197.3h1M610.6 196.1h1M606.7 210.2h1M559.6 237.5h1M594.3 230.6h1M560.2 245.1h1M586.2 238.1h1M614.2 193.6h1M608.3 181.5h1M555.3 216.3h1M573.2 195.2h1M571.1 197.2h1M577.1 189.2h1M564.5 240.2h1M554.9 239.2h1M590.2 182.9h1M554.0 220.5h1M590.2 181.0h1M611.2 212.7h1M610.8 207.4h1M604.0 180.2h1M575.4 242.0h1M551.2 236.0h1M570.4 243.1h1M561.4 197.2h1M592.9 231.5h1M592.2 183.3h1M592.1 231.0h1M598.0 230.7h1M612.4 192.6h1M556.2 216.3h1M554.0 212.4h1M610.9 194.7h1M611.0 196.1h1M551.7 225.7h1M570.6 197.2h1M554.0 223.3h1M605.7 211.2h1M554.4 220.3h1M552.2 201.7h1M601.6 181.5h1M569.6 200.0h1M593.1 183.3h1M553.9 225.2h1M602.3 218.6h1M570.7 243.0h1M609.3 177.3h1M567.5 198.9h1M605.7 180.7h1M610.8 200.7h1M600.0 222.4h1M567.1 241.3h1M584.4 187.7h1M606.9 208.8h1M570.9 195.8h1M609.2 205.0h1M552.4 225.2h1M572.1 198.0h1M561.5 210.0h1M612.7 201.5h1M551.2 218.4h1M590.2 249.4h1M568.9 243.8h1M589.6 235.7h1M610.9 202.2h1M601.2 220.8h1M569.3 242.3h1M584.7 185.2h1M559.5 240.0h1M568.6 195.9h1M594.7 179.3h1M555.0 222.3h1M562.9 246.1h1M571.9 243.7h1M593.9 178.1h1M560.6 210.2h1M593.5 229.7h1M559.8 209.0h1M562.3 240.2h1M602.6 217.6h1M555.7 213.0h1M570.9 193.7h1M568.9 201.3h1M562.1 208.4h1M603.1 226.9h1M566.6 202.8h1M591.1 231.4h1M549.5 230.2h1M616.7 192.5h1M610.0 188.5h1M593.6 240.2h1M600.3 224.7h1M589.6 184.3h1M604.1 214.6h1M550.3 215.5h1M600.3 229.5h1M578.3 191.6h1M586.0 181.5h1M560.8 211.4h1M575.6 241.7h1M567.2 243.1h1M610.2 187.3h1M604.3 216.4h1M609.0 205.2h1M610.0 199.7h1M590.5 178.6h1M612.3 198.7h1M559.7 207.8h1M557.0 232.9h1M566.4 243.0h1M606.3 216.5h1M591.8 184.4h1M565.2 205.2h1M553.6 219.4h1M557.4 210.7h1M572.4 193.2h1M606.8 182.3h1M611.5 192.3h1M599.6 228.2h1M595.1 181.6h1M604.1 214.6h1M554.7 224.5h1M577.1 192.4h1M586.8 184.8h1M603.8 220.0h1M586.0 187.6h1M604.3 217.2h1M606.6 177.9h1M566.2 202.2h1M590.6 184.2h1M577.2 190.0h1M579.5 191.2h1M555.9 217.4h1M576.7 241.8h1M564.4 206.1h1M586.8 240.1h1M567.3 242.0h1M573.7 245.2h1M585.5 186.9h1M585.9 185.7h1M590.5 238.4h1M547.4 227.3h1M579.1 190.8h1M553.8 226.8h1M587.3 235.6h1M564.5 205.7h1M585.1 187.7h1M566.2 203.2h1M574.8 246.9h1M598.5 181.8h1M557.3 211.5h1M616.9 215.7h1M577.5 188.8h1M559.6 237.2h1M590.4 185.3h1M558.3 215.2h1M580.6 239.8h1M568.5 199.5h1M610.6 190.4h1M569.0 200.9h1M603.2 218.2h1M595.2 232.6h1M558.1 215.4h1M603.2 181.0h1M602.6 219.5h1M608.1 207.5h1M573.3 195.0h1M554.2 229.6h1M581.4 190.6h1M612.2 198.8h1M609.8 206.2h1M554.9 219.8h1M560.6 209.3h1M575.7 243.0h1M557.2 241.7h1M556.0 238.9h1M605.4 178.7h1M599.1 230.5h1M585.1 188.2h1M593.2 183.4h1M598.4 227.6h1M600.6 180.8h1M584.5 236.2h1M613.7 192.5h1M577.2 190.7h1M557.4 233.2h1M562.1 238.2h1M594.6 181.4h1M562.2 241.6h1M578.8 243.2h1M610.5 180.3h1M609.5 211.3h1M611.1 196.9h1M589.8 232.6h1M606.0 216.4h1M547.3 229.5h1M609.4 214.8h1M558.4 234.6h1M611.4 192.1h1M601.7 226.2h1M605.0 168.1h1M585.4 185.8h1M609.5 203.3h1M607.5 209.3h1M556.4 231.0h1M559.3 212.7h1M561.8 205.9h1M602.6 179.9h1M591.7 230.9h1M568.9 195.4h1M612.8 194.7h1M579.4 239.9h1M602.6 221.7h1M575.0 246.6h1M602.1 219.4h1M584.2 187.3h1M606.6 181.5h1M576.5 188.3h1M609.5 210.8h1M553.6 225.2h1M607.3 210.9h1M557.1 214.4h1M611.3 199.7h1M556.6 205.7h1M582.5 244.2h1M561.4 244.0h1M605.5 222.5h1M567.2 200.6h1M605.2 215.8h1M591.5 233.5h1M607.5 180.1h1M611.0 193.5h1M581.9 239.7h1M557.6 233.4h1M584.5 239.8h1M579.8 240.6h1M587.3 235.5h1M606.1 182.0h1M554.3 229.3h1M560.6 207.6h1M583.1 240.1h1M555.0 227.7h1M607.7 210.7h1M559.5 212.7h1M608.5 181.2h1M590.8 233.2h1M570.3 199.9h1M584.2 238.2h1M602.5 217.5h1M611.8 180.2h1M572.0 244.7h1M581.8 189.3h1M587.7 180.4h1M611.4 190.2h1M554.8 221.4h1M595.8 228.5h1M577.7 192.9h1M565.9 204.2h1M598.0 231.0h1M607.1 208.1h1M553.4 220.7h1M608.9 205.0h1M590.2 179.7h1M580.3 239.5h1M612.0 194.4h1M605.5 222.5h1M586.4 187.6h1M555.7 230.8h1M555.0 227.2h1M610.4 205.8h1M567.0 201.9h1M610.6 205.5h1M588.9 235.0h1M571.0 243.2h1M611.0 183.3h1M599.5 179.9h1M592.0 234.4h1M595.6 182.6h1M604.9 213.2h1M612.1 196.8h1M552.1 225.7h1M602.2 220.1h1M599.1 181.6h1M604.5 214.7h1M602.6 180.6h1M610.3 184.1h1M562.6 240.3h1M604.1 225.0h1M551.9 229.7h1M573.9 242.3h1M576.9 189.8h1M610.7 203.1h1M575.8 195.0h1M561.9 210.3h1M597.2 178.6h1M557.6 233.5h1M609.0 185.8h1M607.5 210.7h1M608.3 215.4h1M592.8 182.1h1M612.2 186.3h1M569.3 197.6h1M606.3 219.2h1M607.7 220.3h1M555.0 218.9h1M554.4 232.1h1M562.6 238.6h1M580.1 239.6h1M554.2 223.4h1M601.1 181.4h1M560.0 241.6h1M595.6 181.1h1M610.9 195.2h1M610.2 202.9h1M580.1 239.7h1M556.7 210.8h1M604.3 214.9h1M582.0 187.4h1M558.0 238.8h1M581.4 240.3h1M557.5 212.5h1M561.3 238.0h1M583.8 237.0h1M563.3 205.2h1M590.2 185.2h1M578.9 245.5h1M555.4 242.0h1M597.8 180.0h1M607.2 212.7h1M607.8 210.1h1M554.8 223.0h1M562.2 207.7h1M567.5 202.5h1M554.8 218.5h1M603.3 218.3h1M614.7 191.9h1M600.2 222.9h1M605.4 216.1h1M609.6 203.2h1M604.3 221.9h1M587.7 235.2h1M607.7 209.1h1M558.8 210.6h1M556.9 217.3h1M554.7 224.5h1M557.3 234.5h1M555.6 214.1h1M610.3 176.2h1M610.4 199.4h1M602.3 219.3h1M559.3 241.8h1M553.6 221.0h1M564.5 239.7h1M563.6 241.0h1M599.4 181.9h1M605.7 215.3h1M579.6 240.1h1M609.9 199.4h1M602.3 217.9h1M611.8 187.2h1M597.2 178.0h1M588.9 185.5h1M583.5 184.8h1M612.1 195.3h1M556.8 236.7h1M582.5 244.1h1M578.7 240.2h1M594.5 235.6h1M611.6 197.1h1M592.1 231.2h1M587.8 242.4h1M592.4 232.7h1M554.1 227.3h1M561.2 237.1h1M609.9 200.4h1M579.9 242.4h1M555.4 220.5h1M600.4 222.0h1M573.3 194.3h1M577.1 194.1h1M607.4 213.5h1M582.1 183.9h1M548.3 227.7h1M606.6 181.7h1M613.0 204.4h1M578.1 241.8h1M562.6 207.1h1M561.2 211.0h1M554.1 227.0h1M608.5 210.7h1M587.1 184.9h1M612.3 203.3h1M588.8 182.1h1M557.8 235.1h1M605.5 220.4h1M575.2 248.9h1M607.5 210.1h1M555.5 233.2h1M581.4 182.1h1M609.8 200.0h1M587.9 186.1h1M556.3 213.6h1M576.1 192.7h1M576.1 191.2h1M580.2 246.7h1M605.4 215.9h1M557.6 235.7h1M593.9 182.9h1M614.8 189.9h1M559.2 239.2h1M570.3 195.6h1M548.7 222.9h1M556.6 231.4h1M617.6 202.7h1M607.1 211.0h1M557.6 241.5h1M555.0 233.3h1M576.1 194.5h1M605.9 227.4h1M573.7 242.5h1M554.6 217.1h1M572.4 242.7h1M608.6 185.0h1M563.4 201.1h1M572.6 196.9h1M609.6 185.7h1M570.0 242.5h1M610.5 198.9h1M562.2 241.4h1M610.8 187.8h1M591.4 236.1h1M559.7 201.3h1M568.1 246.2h1M599.3 226.1h1M557.1 235.3h1M616.9 188.5h1M587.1 234.6h1M558.4 212.7h1M563.8 207.3h1M558.1 214.9h1M605.8 218.4h1M576.5 194.3h1M578.3 191.3h1M576.9 186.0h1M571.7 195.4h1M561.1 241.4h1M589.3 180.7h1M558.4 233.9h1M562.9 207.8h1M566.9 203.3h1M575.5 242.3h1M586.9 182.2h1M611.4 190.6h1M561.7 210.1h1M607.9 206.7h1M607.3 217.6h1M598.4 227.4h1M576.0 242.2h1M554.7 221.0h1M598.2 181.2h1M572.8 194.7h1M607.4 215.3h1M602.2 222.4h1M557.5 206.3h1M590.3 185.5h1M560.7 237.9h1M599.1 224.6h1M605.0 216.3h1M555.6 215.9h1M554.8 227.4h1M589.5 235.3h1M573.9 245.3h1M563.9 239.4h1M594.9 228.1h1M580.2 239.2h1M604.6 213.7h1M554.9 214.9h1M611.0 197.6h1M563.7 241.3h1M571.3 243.9h1M555.6 218.2h1M577.1 191.9h1M583.3 186.3h1M607.5 210.3h1M601.0 181.0h1M602.2 222.6h1M608.1 206.0h1M609.3 204.5h1M554.8 229.2h1M610.7 189.2h1M591.8 235.2h1M606.2 211.0h1M613.5 190.3h1M584.3 186.1h1M612.3 199.2h1M552.1 220.2h1M607.1 181.5h1M556.8 231.7h1M555.8 219.9h1M606.6 214.4h1M583.5 236.9h1M561.4 208.2h1M553.8 229.2h1M611.4 185.5h1M564.6 243.6h1M592.0 183.2h1M611.9 192.9h1M565.6 191.9h1M591.3 231.3h1M608.2 214.9h1M567.4 198.3h1M577.2 242.8h1M563.2 238.7h1M565.6 203.1h1M556.7 216.0h1M582.1 183.0h1M600.4 180.1h1M610.4 199.9h1M582.8 190.0h1M578.4 184.4h1M554.0 226.9h1M553.4 229.7h1M570.7 198.7h1M604.5 214.4h1M553.6 223.8h1M586.4 236.2h1M575.8 241.7h1M608.8 183.7h1M581.7 239.0h1M616.0 184.0h1M581.4 190.2h1M557.6 233.6h1M594.8 183.2h1M555.2 217.5h1M599.1 182.1h1M596.2 175.1h1M589.4 183.9h1M606.7 211.1h1M587.3 184.6h1M562.4 204.5h1M552.2 226.7h1M575.3 191.6h1M596.1 230.1h1M597.2 178.8h1M594.7 181.1h1M570.7 197.7h1M584.6 236.7h1M581.6 189.6h1M554.7 228.7h1M565.4 205.3h1M550.6 218.6h1M611.1 197.6h1M606.5 180.6h1M561.0 211.0h1M597.4 230.9h1M568.0 243.7h1M566.3 251.3h1M561.3 201.0h1M559.1 211.2h1M610.9 192.5h1M610.2 186.2h1M551.8 213.8h1M574.8 246.5h1M567.6 201.6h1M565.7 247.6h1M596.4 227.2h1M553.3 225.1h1M579.9 241.2h1M567.7 202.3h1M545.7 221.4h1M559.0 213.9h1M581.2 191.2h1M615.3 188.0h1M590.6 233.0h1M613.9 189.0h1M552.2 222.5h1M584.0 187.9h1M580.5 241.3h1M559.6 209.3h1M610.5 202.6h1M585.4 236.3h1M561.7 239.4h1M610.5 214.7h1M560.8 241.4h1M555.0 219.2h1M600.7 180.8h1M594.8 182.5h1M606.8 213.9h1M592.3 230.6h1M611.4 203.7h1M553.6 222.0h1M557.2 237.3h1M581.9 186.8h1M609.2 185.2h1M555.8 232.4h1M592.0 230.6h1M597.8 180.7h1M558.0 235.6h1M585.2 188.3h1M554.1 210.0h1M559.1 237.9h1M592.6 182.4h1M605.6 181.8h1M567.5 201.3h1M583.9 246.4h1M563.8 205.6h1M589.9 236.5h1M608.7 209.6h1M610.2 198.4h1M608.7 205.1h1M593.1 232.5h1M573.5 196.4h1M597.3 180.9h1M556.6 217.7h1M610.1 199.9h1M565.0 204.7h1M613.0 202.2h1M576.6 188.7h1M587.2 186.9h1M557.6 209.8h1M584.7 184.3h1M609.9 201.4h1M568.7 198.7h1M571.2 198.9h1M603.9 179.5h1M601.4 223.7h1M576.1 190.4h1M554.1 227.8h1M591.2 232.8h1M602.3 224.3h1M596.7 229.6h1M589.6 239.2h1M553.8 227.0h1M603.3 180.6h1M582.5 238.8h1M610.2 210.8h1M561.4 210.6h1M616.2 196.0h1M610.9 204.6h1M565.8 245.0h1M600.0 222.5h1M570.6 197.0h1M598.5 224.2h1M554.8 229.8h1M578.9 188.7h1M607.7 207.7h1M611.9 190.8h1M609.5 185.9h1M583.2 189.2h1M578.0 186.4h1M608.8 208.4h1M560.7 237.1h1M603.7 216.2h1M602.2 219.7h1M580.2 191.1h1M604.9 220.1h1M595.0 181.5h1M584.0 240.2h1M560.8 205.0h1M592.5 234.7h1M553.6 221.5h1M554.7 233.1h1M607.2 210.8h1M586.6 235.3h1M612.2 196.7h1M590.4 239.8h1M604.7 179.2h1M586.7 237.0h1M610.8 194.7h1M610.4 187.6h1M558.6 234.5h1M585.2 187.0h1M597.0 179.6h1M552.9 206.3h1M560.4 242.9h1M553.3 225.1h1M552.3 235.9h1M561.9 237.4h1M574.3 194.3h1M545.3 224.6h1M603.5 216.3h1M593.3 229.4h1M579.2 192.5h1M561.8 203.2h1M581.7 190.4h1M578.7 189.0h1M613.1 201.7h1M605.6 182.1h1M552.7 223.3h1M554.7 219.8h1M557.6 239.8h1M556.0 234.7h1M577.5 244.8h1M608.7 206.0h1M608.9 205.2h1M568.7 200.3h1M608.7 224.9h1M549.1 233.6h1M596.0 180.3h1M614.2 187.8h1M572.2 195.0h1M559.0 211.3h1M572.6 244.9h1M581.6 186.0h1M602.6 231.2h1M583.9 240.3h1M584.8 236.0h1M568.5 247.7h1M592.4 183.4h1M558.0 237.2h1M590.0 185.4h1M561.5 207.0h1M590.1 233.3h1M605.7 215.6h1M586.2 235.2h1M558.5 208.6h1M572.8 197.1h1M562.3 203.5h1M556.6 231.6h1M561.7 240.1h1M612.8 192.7h1M610.9 188.9h1M587.0 187.3h1M609.9 188.0h1M585.5 187.6h1M609.8 187.1h1M554.5 234.0h1M603.4 218.4h1M609.2 183.5h1M559.6 237.6h1M607.5 207.2h1M564.6 204.2h1M606.2 210.7h1M598.0 177.6h1M593.6 183.8h1M587.8 238.0h1M598.4 228.7h1M600.5 224.1h1M561.8 239.4h1M584.5 236.9h1M553.0 222.4h1M565.8 245.2h1M579.1 243.1h1M565.3 203.6h1M573.7 242.4h1M566.6 241.7h1M609.6 206.3h1M574.6 194.4h1M603.0 222.9h1M587.2 236.8h1M581.6 244.9h1M585.3 186.2h1M598.1 228.0h1M614.1 204.4h1M605.6 181.8h1M609.4 221.1h1M612.6 198.7h1M563.4 240.5h1M566.8 244.1h1M597.0 231.7h1M619.4 202.5h1M562.5 205.0h1M593.3 232.5h1M568.4 200.0h1M558.5 235.8h1M552.3 216.6h1M569.3 199.5h1M573.7 242.7h1M601.6 221.3h1M565.8 241.1h1M592.0 179.8h1M553.2 232.5h1M575.4 195.0h1M556.7 210.4h1M611.4 205.4h1M581.5 243.7h1M576.0 194.6h1M613.2 196.5h1M552.3 234.3h1M592.1 181.3h1M611.0 192.6h1M580.2 184.4h1M596.3 229.7h1M582.1 188.2h1M571.1 192.6h1M591.2 233.8h1M575.2 192.1h1M553.0 223.9h1M608.8 183.1h1M606.3 212.6h1M610.8 202.5h1M549.4 228.5h1M552.3 224.4h1M566.0 204.0h1M567.2 201.0h1M612.4 187.8h1M560.2 236.3h1M563.5 238.9h1M607.0 209.6h1M602.1 224.5h1M604.3 216.7h1M568.4 242.7h1M591.0 232.5h1M596.5 178.3h1M595.9 227.5h1M583.1 238.6h1M615.5 199.2h1M602.3 181.1h1M561.2 207.7h1M610.2 200.6h1M556.4 230.7h1M580.2 190.3h1M584.2 184.8h1M577.6 245.3h1M605.5 212.6h1M556.9 217.6h1M608.3 183.9h1M561.7 209.7h1M604.6 217.9h1M603.6 218.1h1M571.1 194.4h1M608.9 202.9h1M609.9 207.2h1M586.5 234.8h1M557.7 211.1h1M598.3 228.6h1M600.0 177.5h1M566.2 246.1h1M567.4 202.4h1M581.6 238.5h1M599.3 229.0h1M592.8 230.9h1M557.3 208.8h1M557.6 241.6h1M612.4 206.2h1M613.6 207.2h1M611.7 208.9h1M582.3 243.2h1M560.1 240.5h1M586.4 181.0h1M559.6 235.8h1M585.4 188.2h1M598.5 227.5h1M571.4 195.8h1M612.1 209.0h1M611.2 205.0h1M608.8 210.7h1M590.5 231.8h1M609.3 203.3h1M562.3 208.1h1M577.8 186.7h1M607.9 213.3h1M552.0 219.6h1M559.5 235.5h1M563.5 241.0h1M551.2 230.2h1M592.1 181.6h1M558.8 234.7h1M601.2 180.9h1M610.5 205.4h1M559.0 242.2h1M587.0 184.7h1M584.6 241.0h1M610.8 189.4h1M564.7 206.0h1M563.9 206.0h1M579.9 240.3h1M594.3 231.6h1M583.8 188.4h1M599.1 223.3h1M560.8 239.4h1M561.3 237.1h1M606.0 219.1h1M607.0 182.6h1M564.1 207.1h1M611.1 190.4h1M563.6 203.4h1M606.7 180.0h1M566.4 243.5h1M564.9 204.7h1M558.4 215.1h1M609.7 184.2h1M606.7 210.8h1M590.0 185.2h1M553.8 219.0h1M600.0 228.2h1M601.0 180.7h1M586.1 237.3h1M558.5 234.3h1M589.4 232.8h1M603.3 218.7h1M556.0 232.8h1M550.7 220.5h1M599.5 181.0h1M554.5 236.0h1M576.1 251.0h1M594.5 228.6h1M572.1 197.7h1M581.6 239.3h1M605.8 181.8h1M595.5 182.0h1M557.1 215.1h1M580.8 238.8h1M600.5 177.7h1M600.1 230.7h1M609.2 185.8h1M604.8 181.0h1M559.9 210.7h1M561.5 208.3h1M575.4 195.2h1M601.3 224.7h1M593.5 183.6h1M590.9 185.1h1M576.3 194.0h1M552.9 228.2h1M556.1 217.7h1M575.2 189.7h1M602.8 217.8h1M600.0 231.5h1M610.2 185.4h1M602.4 224.5h1M611.8 191.5h1M569.8 242.2h1M612.1 194.5h1M606.1 179.4h1M612.2 192.7h1M607.2 215.4h1M609.8 213.1h1M610.4 189.7h1M557.1 215.2h1M597.7 231.8h1M614.1 205.3h1M565.4 240.8h1M606.4 182.0h1M545.0 223.5h1M561.9 238.8h1M574.6 242.2h1M611.2 187.0h1M583.7 243.3h1M609.9 173.6h1M616.9 185.5h1M604.3 217.1h1M573.0 243.0h1M554.5 229.1h1M585.6 187.9h1M610.4 187.5h1M600.3 221.8h1M606.5 181.7h1M554.4 230.8h1M550.2 222.9h1M607.9 183.0h1M545.9 222.8h1M609.4 211.2h1M578.8 191.2h1M557.7 216.0h1M595.0 228.0h1M561.7 242.7h1M565.1 203.5h1M614.8 197.4h1M579.6 189.8h1M554.3 214.2h1M567.4 202.4h1M588.0 182.1h1M613.1 187.1h1M610.6 187.3h1M593.5 182.5h1M561.1 239.4h1M579.5 190.3h1M582.8 245.0h1M572.6 245.1h1M574.2 194.0h1M608.4 209.7h1M588.3 235.1h1M563.9 202.8h1M552.8 230.1h1M608.7 184.3h1M587.9 183.7h1M593.9 180.4h1M569.2 242.3h1M569.1 242.4h1M610.4 201.9h1M585.4 186.1h1M569.9 200.1h1M589.0 235.1h1M583.5 184.2h1M567.7 247.7h1M563.8 203.8h1M592.5 234.8h1M601.4 180.9h1M603.3 220.5h1M556.1 217.7h1M554.8 224.8h1M609.5 201.2h1M559.5 210.3h1M589.8 185.4h1M578.8 190.2h1M554.6 222.4h1M599.8 178.8h1M555.2 215.9h1M557.3 235.6h1M566.7 203.3h1M615.1 197.3h1M608.4 183.7h1M583.0 238.8h1M573.3 244.5h1M565.2 240.6h1M562.2 208.3h1M557.1 216.9h1M557.9 237.8h1M607.1 211.8h1M604.6 222.6h1M596.0 183.2h1M588.7 185.7h1M563.7 240.7h1M559.7 211.8h1M607.7 211.0h1M561.0 237.0h1M613.0 200.2h1M603.6 220.1h1M610.8 194.4h1M556.2 232.7h1M560.3 199.7h1M610.4 202.7h1M551.3 238.7h1M600.1 223.5h1M561.1 207.7h1M602.5 219.9h1M613.8 198.7h1M596.0 183.0h1M582.9 239.3h1M591.6 232.2h1M588.7 185.7h1M611.4 201.9h1M553.2 225.6h1M554.0 219.5h1M578.1 242.8h1M611.3 189.6h1M571.6 244.7h1M557.0 216.0h1M593.1 183.0h1M577.0 190.9h1M581.4 190.1h1M600.5 228.9h1M605.8 221.5h1M601.4 224.5h1M608.0 215.6h1M608.6 182.2h1M589.8 232.6h1M570.0 197.0h1M592.4 183.9h1M568.3 200.6h1M604.9 216.7h1M611.5 197.5h1M588.3 185.7h1M557.3 232.5h1M578.0 189.3h1M601.2 223.9h1M568.5 199.0h1M607.4 179.8h1M572.6 246.6h1M600.8 222.5h1M574.3 194.2h1M556.4 214.9h1M596.5 227.5h1M573.3 242.7h1M554.8 228.3h1M567.5 245.0h1M579.8 241.3h1M607.2 212.5h1M590.5 232.6h1M600.8 176.7h1M582.0 186.2h1M567.8 197.3h1M564.4 245.0h1M611.2 192.0h1M602.6 225.5h1M553.9 225.7h1M565.0 205.0h1M587.1 184.8h1M562.9 241.6h1M561.7 242.2h1M609.5 186.4h1M562.2 241.9h1M586.7 185.8h1M583.1 188.1h1M564.7 202.1h1M607.7 207.1h1M612.7 195.5h1M610.1 183.5h1M573.1 188.2h1M611.5 191.5h1M554.4 227.0h1M612.3 196.9h1M603.9 181.1h1M600.9 225.2h1M582.4 238.6h1M583.6 185.9h1M586.7 240.8h1M562.7 239.2h1M580.2 182.8h1M592.9 231.0h1M598.8 224.3h1M571.0 195.2h1M610.3 200.0h1M609.9 181.1h1M564.1 204.1h1M598.5 224.1h1M582.9 239.2h1M559.5 212.7h1M605.4 212.0h1M612.2 189.3h1M616.0 207.5h1M561.5 202.3h1M610.3 198.4h1M554.4 243.5h1M554.3 228.1h1M590.8 231.6h1M599.1 178.6h1M586.8 235.5h1M605.1 178.2h1M587.9 184.9h1M610.6 195.6h1M599.0 224.7h1M570.6 197.4h1M568.9 244.0h1M552.3 246.1h1M594.0 229.4h1M589.5 233.9h1M585.3 236.2h1M610.9 192.0h1M610.6 207.6h1M608.8 181.5h1M571.3 243.9h1M557.9 235.7h1M586.7 187.5h1M612.0 198.8h1M610.4 197.0h1M565.4 241.8h1M560.9 240.5h1M574.2 196.3h1M570.1 242.8h1M570.8 197.0h1M572.7 244.2h1M609.9 205.7h1M564.4 204.8h1M584.1 187.9h1M551.9 219.3h1M552.3 215.2h1M614.6 197.0h1M588.0 233.4h1M569.9 198.1h1M593.8 232.6h1M608.8 209.5h1M558.4 205.9h1M563.6 205.1h1M605.4 217.3h1M609.7 204.9h1M559.6 210.8h1M588.3 236.2h1M561.8 237.4h1M573.5 244.6h1M597.0 231.0h1M564.5 244.9h1M562.0 239.0h1M609.3 203.6h1M557.6 234.3h1M585.2 236.8h1M562.5 206.6h1M553.1 219.9h1M558.6 234.8h1M578.3 241.1h1M575.1 188.5h1M588.6 185.3h1M554.1 219.9h1M612.0 188.5h1M596.3 182.7h1M566.3 203.5h1M585.0 187.0h1M601.4 221.0h1M587.3 187.0h1M594.9 183.5h1M564.1 241.5h1M612.0 181.9h1M579.1 246.9h1M587.1 235.3h1M557.1 217.0h1M554.9 222.7h1M592.1 236.2h1M573.5 243.8h1M603.9 217.8h1M556.0 232.6h1M565.8 203.2h1M579.2 191.6h1M562.5 202.5h1M606.9 181.3h1M610.4 200.2h1M598.3 182.1h1M559.9 236.1h1M579.8 191.6h1M553.0 230.2h1M600.9 224.7h1M574.8 244.3h1M561.3 206.9h1M589.3 186.1h1M565.0 204.2h1M607.2 214.0h1M580.2 189.4h1M568.3 200.7h1M608.2 184.1h1M608.6 184.7h1M572.6 197.1h1M568.3 196.7h1M577.1 188.7h1M593.1 181.4h1M557.9 215.1h1M578.9 241.7h1M600.4 223.8h1M554.6 231.8h1M565.4 241.6h1M568.7 199.9h1M595.1 231.6h1M612.5 187.5h1M577.7 241.3h1M596.2 182.9h1M589.8 185.2h1M607.5 180.3h1M570.1 199.5h1M610.2 202.0h1M557.6 236.9h1M571.6 245.5h1M605.4 181.8h1M576.7 188.1h1M559.0 243.4h1M583.7 247.3h1M559.7 213.3h1M567.6 195.3h1M591.3 236.9h1M582.7 239.7h1M555.4 229.3h1M554.2 222.3h1M580.2 189.7h1M562.8 204.8h1M585.3 185.3h1M585.9 236.2h1M576.3 245.6h1M609.8 207.3h1M585.7 186.8h1M578.8 246.3h1M572.5 196.7h1M606.7 215.9h1M554.9 213.4h1M612.3 192.6h1M595.1 182.6h1M586.7 183.2h1M547.3 216.7h1M610.7 197.5h1M561.6 237.5h1M608.0 206.0h1M607.1 179.1h1M580.9 191.3h1M562.9 202.9h1M611.2 185.2h1M571.5 244.9h1M563.5 243.9h1M552.2 222.7h1M584.8 236.2h1M604.1 218.4h1M564.6 204.2h1M576.5 190.7h1M574.4 244.2h1M609.3 181.7h1M568.0 201.9h1M577.7 191.0h1M603.3 178.2h1M610.9 193.8h1M563.1 204.4h1M571.2 198.4h1M602.6 222.2h1M549.8 223.6h1M560.1 207.5h1M570.1 199.4h1M610.9 206.9h1M576.8 244.3h1M602.4 180.8h1M558.3 234.2h1M564.4 241.7h1M607.2 214.1h1M550.5 219.7h1M596.2 178.0h1M600.8 180.3h1M583.0 186.3h1M590.3 179.3h1M605.8 215.1h1M572.0 195.5h1M557.4 235.1h1M573.5 243.3h1M612.6 213.1h1M553.2 216.2h1M599.7 223.8h1M590.1 182.9h1M609.7 202.8h1M599.6 223.7h1M579.7 191.9h1M568.6 201.2h1M611.3 197.9h1M591.1 174.0h1M569.2 198.2h1M564.2 242.5h1M569.5 198.9h1M614.4 190.0h1M566.7 203.9h1M583.9 239.3h1M565.8 204.6h1M561.9 237.5h1M610.9 202.6h1M584.6 188.4h1M572.5 244.1h1M596.2 239.7h1M565.3 201.0h1M612.7 200.1h1M567.0 200.2h1M559.0 212.5h1M605.0 213.4h1M597.3 226.8h1M556.6 239.9h1M607.6 207.2h1M592.7 179.1h1M595.1 182.8h1M569.2 199.9h1M583.6 187.9h1M562.4 204.7h1M611.3 196.4h1M610.6 185.4h1M611.3 193.5h1M565.4 241.8h1M559.2 210.9h1M606.4 210.5h1M597.3 180.7h1M573.2 243.2h1M585.8 236.3h1M566.4 202.5h1M568.4 200.1h1M590.4 182.9h1M569.2 244.1h1M566.1 241.8h1M582.7 185.0h1M595.0 237.8h1M573.0 194.8h1M594.7 183.6h1M556.0 210.1h1M587.8 234.8h1M557.8 214.9h1M590.7 233.2h1M591.1 233.0h1M618.5 203.4h1M567.9 200.5h1M583.6 240.7h1M553.3 221.3h1M553.6 223.0h1M576.2 194.0h1M616.0 191.5h1M571.2 195.2h1M578.0 190.1h1M597.8 229.1h1M606.7 214.8h1M608.0 211.4h1M594.6 180.3h1M577.9 192.3h1M581.7 238.4h1M592.4 232.5h1M580.3 242.4h1M611.2 184.3h1M608.2 212.1h1M594.6 228.7h1M553.3 214.6h1M607.4 209.7h1M601.1 220.9h1M612.2 190.2h1M596.7 233.6h1M554.1 219.3h1M550.3 211.7h1M562.4 207.1h1M551.0 235.4h1M558.6 209.2h1M593.1 233.3h1M558.0 213.5h1M602.6 218.0h1M578.6 192.8h1M607.1 180.4h1M562.7 209.2h1M577.8 191.8h1M610.9 192.5h1M578.5 240.4h1M607.9 232.5h1M563.4 251.5h1M594.7 233.5h1M610.9 205.4h1M601.1 173.9h1M610.5 197.8h1M560.3 207.8h1M610.1 186.0h1M594.4 182.6h1M554.5 232.1h1M567.2 242.0h1M567.9 201.0h1M575.2 195.6h1M564.7 204.1h1M575.0 194.4h1M570.1 195.2h1M585.8 181.0h1M607.9 206.3h1M609.9 200.1h1M567.9 200.8h1M562.2 240.2h1M606.5 209.8h1M604.8 220.8h1M602.5 218.0h1M560.5 237.3h1M555.4 217.5h1M563.5 205.0h1M605.4 212.1h1M616.9 198.2h1M554.7 224.3h1M576.2 182.9h1M613.2 183.1h1M571.5 243.8h1M614.5 200.2h1M589.0 232.8h1M594.8 228.3h1M560.0 211.1h1M564.4 241.1h1M591.7 230.9h1M596.2 183.1h1M587.3 185.7h1M598.4 228.4h1M570.1 195.2h1M610.0 186.5h1M589.2 186.0h1M565.1 241.2h1M607.1 177.3h1M564.5 240.2h1M595.4 178.2h1M562.5 240.5h1M558.5 211.5h1M556.2 218.1h1M562.7 206.5h1M558.0 215.2h1M573.5 191.9h1M555.3 218.8h1M556.4 231.5h1M595.8 229.5h1M611.7 194.3h1M592.5 183.6h1M561.0 207.7h1M612.6 186.6h1M609.4 184.8h1M597.9 181.6h1M580.7 239.9h1M597.0 226.7h1M594.1 183.8h1M604.8 214.6h1M606.8 209.0h1M606.4 182.4h1M575.2 193.4h1M567.0 242.0h1M578.3 244.8h1M574.0 187.7h1M591.1 182.2h1M557.2 216.1h1M606.7 178.6h1M588.6 236.1h1M608.4 219.7h1M606.9 209.1h1M609.7 206.0h1M592.6 231.3h1M582.9 239.4h1M558.9 208.5h1M582.4 241.0h1M578.8 191.8h1M554.2 223.7h1M607.7 217.0h1M604.1 217.1h1M591.1 181.0h1M574.7 191.0h1M576.4 190.5h1M599.0 228.1h1M569.1 243.1h1M553.1 220.0h1M611.6 207.8h1M592.9 231.8h1M598.5 178.1h1M581.6 240.9h1M575.8 247.4h1M595.5 229.8h1M568.9 246.9h1M560.1 209.0h1M588.0 234.1h1M579.3 191.6h1M568.1 201.7h1M609.7 203.2h1M601.4 224.3h1M570.2 243.5h1M603.1 221.9h1M608.7 175.9h1M610.3 189.6h1M588.2 235.7h1M564.1 207.2h1M610.8 181.9h1M592.6 237.6h1M561.9 210.1h1M596.0 179.0h1M553.9 228.0h1M610.4 182.5h1M602.5 177.7h1M611.5 193.9h1M599.3 225.2h1M611.1 194.5h1M572.3 197.0h1M573.7 195.8h1M558.7 236.9h1M592.5 184.0h1M561.5 207.7h1M589.0 182.7h1M576.9 246.7h1M558.2 214.6h1M610.9 185.8h1M591.4 232.3h1M561.5 208.4h1M577.0 194.1h1M590.1 234.1h1M593.3 229.8h1M559.8 235.7h1M567.1 202.2h1M607.0 180.9h1M610.7 202.5h1M559.2 213.1h1M611.5 207.9h1M552.9 220.5h1M567.0 201.6h1M601.6 227.2h1M607.9 206.9h1M560.8 209.8h1M601.0 180.8h1M585.4 237.3h1M601.9 218.8h1M580.0 189.3h1M578.5 241.5h1M591.7 182.6h1M606.1 217.5h1M571.9 251.0h1M586.1 241.4h1M555.5 233.5h1M594.1 183.5h1M561.7 202.1h1M610.3 182.9h1M585.9 183.3h1M610.7 196.9h1M564.5 202.9h1M592.1 183.8h1M585.7 187.4h1M554.8 220.7h1M568.4 247.7h1M566.8 201.5h1M561.9 208.9h1M555.3 236.9h1M610.1 187.6h1M554.2 230.7h1M612.3 211.5h1M559.5 213.4h1M554.7 220.4h1M570.4 192.0h1M605.6 214.9h1M557.7 214.0h1M555.0 234.0h1M594.1 243.9h1M567.4 241.3h1M602.3 223.2h1M565.0 206.0h1M607.7 213.9h1M582.3 238.2h1M556.9 239.8h1M581.5 239.1h1M606.6 217.5h1M567.3 197.1h1M562.1 192.1h1M563.8 242.8h1M551.9 221.5h1M582.3 190.3h1M603.4 177.5h1M611.0 196.7h1M609.7 208.7h1M610.9 192.2h1M584.9 236.1h1M564.8 243.3h1M600.8 179.2h1M583.7 237.9h1M560.8 210.6h1M610.8 198.6h1M610.4 202.6h1M603.9 218.1h1M607.3 212.6h1M554.9 233.4h1M591.6 182.2h1M578.2 191.7h1M608.9 204.3h1M607.1 182.5h1M585.8 236.6h1M559.0 237.5h1M563.4 239.2h1M566.4 203.5h1M555.8 218.8h1M612.8 191.5h1M561.5 197.3h1M572.5 193.9h1M610.2 201.9h1M551.8 224.3h1M553.0 227.6h1M567.8 200.1h1M575.3 193.8h1M556.6 217.5h1M584.6 236.7h1M557.5 215.7h1M599.4 227.1h1M610.5 185.7h1M556.4 217.1h1M602.0 219.3h1M611.7 188.2h1M580.8 189.6h1M605.2 215.8h1M610.8 212.9h1M592.4 184.5h1M576.4 241.3h1M600.9 220.4h1M557.3 205.1h1M573.8 242.6h1M555.6 220.1h1M606.9 208.9h1M565.5 205.1h1M585.4 187.7h1M575.2 241.8h1M608.3 174.8h1M555.3 228.7h1M571.3 197.2h1M610.1 188.7h1M599.8 180.1h1M603.5 220.4h1M554.3 224.0h1M582.4 241.1h1M554.9 228.0h1M613.7 196.9h1M563.0 244.4h1M586.6 187.3h1M594.1 232.1h1M603.1 180.9h1M610.6 188.0h1M610.5 188.0h1M553.8 216.5h1M608.9 181.7h1M580.4 189.0h1M564.8 206.2h1M568.3 243.1h1M608.3 181.4h1M558.4 214.6h1M602.1 219.9h1M591.6 234.4h1M568.0 202.2h1M612.1 182.7h1M562.6 238.4h1M576.7 246.2h1M573.9 195.1h1M611.6 207.5h1M556.7 232.2h1M586.4 186.8h1M553.9 227.9h1M555.5 216.7h1M570.4 193.0h1M600.7 224.7h1M553.9 229.4h1M610.0 176.4h1M575.1 243.8h1M604.4 180.0h1M557.0 210.9h1M584.5 187.0h1M606.4 210.2h1M557.1 212.7h1M610.2 204.9h1M563.5 241.1h1M607.5 183.4h1M600.6 220.9h1M609.4 202.8h1M557.5 214.6h1M555.6 229.5h1M600.5 181.6h1M587.7 184.3h1M595.5 227.8h1M611.4 198.6h1M568.4 244.1h1M556.0 231.0h1M557.1 215.3h1M554.7 213.8h1M603.7 215.8h1M572.6 197.3h1M608.2 207.5h1M561.8 208.5h1M593.9 183.0h1M581.8 183.2h1M579.1 185.8h1M562.9 207.1h1M572.8 243.0h1M576.6 194.3h1M568.7 199.8h1M584.0 237.2h1M596.9 180.4h1M554.1 229.1h1M600.8 229.3h1M607.3 179.3h1M605.9 220.1h1M607.6 209.2h1M593.8 182.9h1M611.0 201.7h1M607.6 182.2h1M574.1 194.2h1M605.3 219.8h1M563.4 208.1h1M610.7 194.8h1M589.3 234.2h1M580.6 190.0h1M586.5 179.0h1M578.0 192.7h1M600.4 225.8h1M594.9 229.9h1M556.6 236.0h1M601.2 219.8h1M558.0 208.3h1M608.9 215.9h1M586.9 186.6h1M609.5 182.5h1M571.7 242.8h1M558.4 210.2h1M614.4 200.2h1M602.5 221.4h1M609.0 185.7h1M562.1 238.5h1M609.8 203.8h1M585.1 245.5h1M586.4 235.4h1M598.6 225.9h1M594.2 230.0h1M601.4 180.9h1M569.5 200.2h1M562.7 195.3h1M606.3 212.7h1M609.5 212.3h1M565.3 204.6h1M611.2 188.6h1M612.3 197.2h1M565.1 240.4h1M587.8 236.8h1M597.9 228.6h1M568.7 244.0h1M559.8 212.7h1M553.8 223.2h1M556.6 218.3h1M557.4 235.6h1M594.8 183.5h1M570.5 197.1h1M609.6 185.1h1M564.6 240.0h1M599.9 224.2h1M575.4 191.6h1M561.9 210.2h1M585.8 237.6h1M579.5 188.4h1M581.5 190.2h1M557.9 213.6h1M611.1 189.6h1M559.3 238.0h1M581.3 239.2h1M564.1 204.6h1M561.8 238.2h1M590.5 232.1h1M554.7 224.5h1M552.3 215.9h1M610.7 197.2h1M612.0 192.6h1M607.0 212.6h1M595.2 229.5h1M559.4 241.8h1M550.7 210.8h1M607.0 209.9h1M583.0 188.2h1M573.8 242.2h1M584.4 236.3h1M602.8 221.7h1M567.1 201.2h1M547.2 219.9h1M560.9 239.1h1M610.2 201.4h1M556.0 210.1h1M598.2 224.5h1M576.9 243.2h1M558.3 208.3h1M566.8 242.5h1M611.3 189.8h1M558.0 235.0h1M614.5 200.1h1M579.8 239.7h1M607.0 210.5h1M551.0 226.5h1M580.0 187.6h1M564.4 240.8h1M563.7 247.1h1M577.9 240.7h1M556.7 231.9h1M607.8 206.2h1M610.0 200.2h1M560.4 209.8h1M585.2 238.5h1M554.6 221.4h1M602.6 181.5h1M604.4 173.9h1M610.3 180.4h1M581.9 245.6h1M580.0 191.7h1M608.9 213.6h1M604.7 216.5h1M607.4 183.3h1M591.7 230.8h1M568.4 196.6h1M583.2 239.1h1M592.4 177.8h1M558.9 234.9h1M594.6 228.6h1M552.9 234.7h1M606.6 217.1h1M566.1 204.0h1M582.2 189.6h1M578.3 193.0h1M553.5 226.6h1M577.0 243.6h1M591.6 231.2h1M588.9 184.1h1M609.8 200.5h1M554.8 220.3h1M592.3 231.8h1M580.8 179.9h1M599.1 182.0h1M556.3 233.5h1M578.3 240.9h1M588.6 233.4h1M614.2 194.9h1M567.0 199.5h1M598.2 225.3h1M553.2 225.0h1M614.3 208.4h1M585.5 236.9h1M563.3 206.9h1M571.4 195.7h1M593.8 183.7h1M609.8 184.5h1M593.0 182.8h1M610.4 190.4h1M607.8 209.9h1M589.3 232.9h1M614.3 197.2h1M598.7 223.8h1M602.3 181.5h1M551.9 228.1h1M602.4 180.9h1M558.5 207.8h1M601.8 227.1h1M569.6 200.1h1M587.6 235.6h1M571.9 197.3h1M583.7 185.3h1M558.8 235.9h1M612.0 194.1h1M558.1 213.4h1M565.2 241.1h1M588.6 182.5h1M610.4 197.9h1M562.3 209.1h1M604.8 213.7h1M580.6 241.8h1M621.9 196.6h1M602.1 178.6h1M555.5 232.4h1M608.6 212.2h1M546.1 225.3h1M600.0 222.9h1M565.9 249.4h1M610.1 198.7h1M571.9 189.9h1M607.4 213.9h1M621.8 183.9h1M564.0 207.2h1M552.2 223.2h1M602.1 181.4h1M608.0 213.3h1M581.8 238.4h1M591.7 184.7h1M582.2 184.2h1M608.3 182.6h1M600.7 181.2h1M589.7 185.0h1M611.8 189.5h1M552.9 218.7h1M581.4 189.8h1M587.0 186.9h1M575.5 192.9h1M583.3 239.5h1M605.3 213.6h1M554.6 223.6h1M584.5 241.4h1M597.7 180.9h1M588.2 183.8h1M570.8 196.9h1M612.6 204.1h1M575.5 188.1h1M597.7 227.6h1M606.4 224.5h1M603.4 180.5h1M567.9 201.9h1M556.3 231.9h1M601.7 219.6h1M611.0 191.0h1M580.1 186.9h1M580.0 189.3h1M591.3 185.2h1M587.7 233.8h1M602.3 228.9h1M557.7 233.1h1M608.4 184.2h1M599.7 225.3h1M561.2 238.2h1M612.6 212.8h1M597.8 227.4h1M601.1 180.4h1M565.6 241.4h1M566.5 201.8h1M568.2 243.6h1M553.1 228.4h1M608.0 205.6h1M588.5 234.6h1M554.9 228.1h1M570.5 199.3h1M567.6 200.7h1M569.8 243.1h1M610.2 200.0h1M612.1 188.4h1M612.0 196.2h1M596.4 228.3h1M602.0 220.2h1M563.3 243.8h1M609.4 204.5h1M602.1 237.4h1M582.9 187.1h1M565.6 203.7h1M575.9 242.5h1M582.0 189.8h1M585.3 236.2h1M603.7 221.4h1M596.9 230.1h1M606.8 218.5h1M586.5 234.8h1M561.8 237.4h1M564.0 201.6h1M595.5 231.1h1M590.5 181.3h1M581.1 239.9h1M574.7 192.0h1M559.6 212.7h1M611.0 182.1h1M567.7 196.6h1M562.9 238.8h1M609.8 184.8h1M556.5 230.9h1M591.9 183.8h1M600.5 221.8h1M571.3 243.4h1M589.5 185.0h1M611.5 198.1h1M563.8 207.5h1M574.1 194.3h1M611.2 189.4h1M557.0 209.0h1M562.6 208.6h1M588.6 185.5h1M579.7 241.0h1M579.8 241.2h1M569.6 200.4h1M582.0 185.9h1M552.9 217.9h1M571.8 196.0h1M558.7 236.0h1M587.0 234.4h1M589.7 184.7h1M611.8 196.9h1M599.6 181.4h1M583.1 238.9h1M587.1 184.7h1M573.6 242.7h1M572.2 194.2h1M601.3 220.2h1M585.3 187.1h1M602.3 230.7h1M582.5 238.1h1M601.3 221.5h1M557.6 214.6h1M562.3 203.3h1M601.0 181.2h1M573.8 196.2h1M558.8 205.0h1M563.5 204.9h1M599.2 226.8h1M583.8 237.0h1M566.0 243.7h1M569.1 249.9h1M560.6 236.5h1M554.9 233.6h1M596.3 182.3h1M605.2 230.8h1M557.3 211.9h1M603.0 181.2h1M603.5 229.9h1M555.9 239.3h1M581.6 184.9h1M612.8 192.7h1M591.6 182.1h1M558.4 234.1h1M550.9 233.6h1M554.1 222.3h1M555.7 219.0h1M560.1 207.5h1M561.4 237.1h1M591.3 233.4h1M543.2 246.3h1M582.6 188.9h1M606.1 211.9h1M558.5 213.2h1M608.5 207.4h1M553.6 234.4h1M609.0 213.9h1M576.7 241.7h1M580.6 244.9h1M555.7 211.4h1M586.7 234.8h1M604.3 217.9h1M592.9 231.2h1M557.8 216.2h1M566.3 241.4h1M600.3 221.3h1M553.2 221.7h1M598.9 178.4h1M561.2 210.9h1M552.6 218.9h1M552.9 222.8h1M590.9 183.9h1M588.4 234.9h1M597.9 181.6h1M586.2 237.7h1M553.0 219.9h1M558.0 215.6h1M608.2 183.1h1M603.9 215.6h1M580.3 191.6h1M604.1 216.6h1M604.6 222.7h1M572.7 242.9h1M560.4 238.5h1M577.0 244.8h1M609.3 201.7h1M587.8 184.3h1M555.1 234.7h1M584.9 187.5h1M591.9 231.6h1M588.4 183.5h1M589.9 185.8h1M585.9 244.8h1M564.7 202.6h1M550.2 219.4h1M609.3 210.1h1M558.4 235.8h1M612.6 191.8h1M566.1 192.9h1M585.7 236.1h1M584.7 239.3h1M601.7 224.8h1M576.6 243.2h1M568.6 197.8h1M610.1 203.7h1M609.4 202.0h1M581.6 240.2h1M607.9 206.2h1M605.7 220.6h1M566.4 203.9h1M587.9 233.7h1M577.3 243.0h1M608.7 184.2h1M549.8 222.9h1M553.8 225.2h1M609.6 211.1h1M558.0 241.3h1M561.3 237.8h1M591.7 182.6h1M607.7 181.1h1M598.1 180.5h1M593.5 184.0h1M575.2 195.5h1M607.0 213.1h1M581.2 184.4h1M564.9 241.3h1M628.1 202.6h1M610.6 187.9h1M607.9 207.4h1M558.9 210.7h1M605.4 213.3h1M611.3 201.0h1M604.8 220.7h1M595.4 228.1h1M574.6 194.0h1M592.1 181.9h1M610.8 207.6h1M610.9 201.6h1M618.0 187.8h1M554.4 215.6h1M605.6 226.2h1M554.4 231.0h1M601.9 181.4h1M582.9 175.9h1M578.4 193.1h1M553.1 223.1h1M610.6 200.9h1M609.5 204.8h1M609.0 184.8h1M564.3 239.9h1M613.1 188.0h1M555.3 209.9h1M609.3 205.1h1M601.1 222.5h1M564.7 246.6h1M576.1 194.2h1M564.0 241.2h1M610.4 197.3h1M551.5 223.8h1M595.5 181.4h1M597.3 226.9h1M589.9 232.0h1M611.6 221.5h1M573.7 192.8h1M575.7 194.1h1M563.5 203.2h1M572.4 193.8h1M567.7 195.9h1M569.3 242.4h1M575.9 247.5h1M600.5 221.8h1M585.4 236.0h1M581.4 242.8h1M601.5 221.6h1M606.4 212.0h1M576.5 193.5h1M580.1 189.1h1M603.2 217.9h1M611.3 191.7h1M553.1 217.3h1M549.2 226.1h1M574.1 242.5h1M592.7 230.4h1M561.3 207.3h1M609.9 199.5h1M556.8 232.2h1M557.3 232.5h1M607.6 208.1h1M611.2 192.6h1M608.6 205.5h1M569.9 197.8h1M556.3 209.1h1M554.2 207.9h1M571.4 198.2h1M588.3 183.1h1M574.8 242.6h1M611.6 181.8h1M564.6 204.5h1M590.0 184.2h1M610.7 201.0h1M576.1 193.0h1M593.7 230.7h1M581.3 191.1h1M578.8 186.3h1M585.3 183.7h1M557.3 232.8h1M615.0 215.0h1M601.2 181.5h1M554.7 213.9h1M577.6 193.6h1M563.1 204.8h1M607.0 213.6h1M587.3 235.8h1M588.8 233.2h1M556.6 217.7h1M607.3 209.6h1M555.8 219.3h1M579.3 243.2h1M575.8 191.7h1M559.1 204.0h1M589.9 184.5h1M562.9 238.3h1M556.0 219.6h1M575.7 192.9h1M598.8 230.4h1M579.7 190.4h1M606.0 212.3h1M592.7 234.3h1M601.0 180.1h1M598.0 180.6h1M588.2 184.6h1M614.1 187.7h1M554.8 232.3h1M601.5 221.0h1M566.5 200.1h1M615.4 192.5h1M562.0 205.2h1M570.3 244.6h1M554.0 225.3h1M571.2 192.6h1M605.4 220.1h1M556.2 212.9h1M610.9 193.4h1M589.3 181.8h1M602.1 220.8h1M593.8 183.7h1M605.3 219.3h1M583.7 185.8h1M573.6 196.9h1M569.2 242.5h1M599.1 227.4h1M557.4 214.2h1M608.1 180.5h1M559.2 208.8h1M601.9 221.4h1M596.8 228.7h1M587.8 186.4h1M610.6 196.6h1M605.0 216.4h1M610.7 196.3h1M611.9 213.0h1M583.3 237.7h1M612.3 190.8h1M575.4 193.6h1M581.5 190.9h1M598.3 228.5h1M611.0 196.5h1M602.6 180.4h1M608.4 221.3h1M564.4 203.6h1M612.1 198.5h1M583.4 237.9h1M581.8 189.5h1M555.5 230.6h1M578.3 189.5h1M569.1 196.1h1M577.0 242.3h1M554.2 221.1h1M573.4 242.7h1M586.4 186.6h1M554.8 228.0h1M611.5 189.8h1M554.3 232.2h1M609.9 199.5h1M607.3 207.3h1M587.2 187.0h1M611.1 190.8h1M562.5 238.9h1M616.4 189.7h1M556.9 217.5h1M554.1 222.2h1M583.0 187.9h1M566.8 203.4h1M583.0 241.8h1M564.7 243.3h1M562.8 207.3h1M610.7 192.9h1M562.6 208.9h1M560.7 205.7h1M566.9 197.7h1M591.6 180.6h1M590.0 236.2h1M605.4 181.5h1M607.9 181.6h1M557.9 202.3h1M597.1 232.0h1M581.4 190.1h1M550.6 217.9h1M607.7 208.1h1M593.4 232.6h1M604.0 177.4h1M602.9 218.0h1M580.3 189.5h1M572.4 197.5h1M610.5 206.9h1M572.6 242.9h1M591.1 185.2h1M603.5 216.2h1M582.8 187.7h1M591.4 184.9h1M583.2 189.4h1M586.7 182.8h1M602.6 218.3h1M611.2 205.3h1M605.0 221.7h1M606.6 211.7h1M557.6 211.3h1M612.1 198.5h1M555.4 218.2h1M611.2 183.7h1M594.3 230.9h1M611.2 195.0h1M607.6 210.4h1M604.7 215.1h1M601.2 234.9h1M603.0 216.8h1M566.8 198.5h1M572.6 197.6h1M570.1 243.9h1M566.5 242.8h1M586.9 236.7h1M583.0 237.4h1M568.3 248.7h1M587.3 187.3h1M580.2 188.2h1M554.1 236.2h1M594.1 183.5h1M615.4 196.8h1M599.3 223.6h1M610.6 193.1h1M610.1 200.2h1M556.4 215.4h1M582.7 241.2h1M602.2 219.0h1M558.8 238.4h1M615.0 178.8h1M609.2 202.7h1M553.6 223.2h1M559.8 211.2h1M602.5 219.3h1M610.3 187.3h1M589.8 185.5h1M554.8 220.0h1M613.8 189.5h1M584.2 237.6h1M596.2 182.9h1M611.0 191.3h1M560.1 208.7h1M608.0 208.1h1M586.1 235.2h1M571.9 243.7h1M586.4 187.2h1M611.5 193.9h1M558.3 209.0h1M610.5 182.0h1M601.6 223.3h1M553.7 212.7h1M563.1 203.1h1M610.4 200.7h1M595.6 227.4h1M605.0 219.0h1M597.0 226.2h1M557.9 236.4h1M578.7 185.5h1M609.7 206.0h1M573.9 191.5h1M551.6 214.8h1M556.5 210.6h1M600.6 221.1h1M551.9 220.8h1M561.6 244.7h1M594.5 182.9h1M604.9 216.5h1M569.6 196.2h1M612.9 198.7h1M570.6 243.4h1M605.8 182.0h1M611.0 191.9h1M580.6 239.2h1M560.3 207.5h1M600.5 223.3h1M608.5 184.2h1M573.5 242.3h1M605.2 181.3h1M601.0 220.3h1M584.1 188.7h1M579.0 241.8h1M596.0 183.2h1M582.0 245.9h1M610.7 181.4h1M563.4 239.9h1M591.2 184.3h1M560.1 238.2h1M607.5 208.5h1M598.2 228.1h1M613.1 185.9h1M592.3 231.3h1M560.5 209.1h1M558.8 237.2h1M591.9 231.0h1M596.3 228.3h1M574.6 194.5h1M612.4 198.6h1M602.8 220.3h1M608.4 210.3h1M556.1 213.6h1M605.8 181.3h1M551.2 222.2h1M581.0 239.3h1M614.4 197.3h1M588.2 184.8h1M590.2 233.4h1M609.6 200.8h1M610.4 203.9h1M564.6 241.4h1M605.9 211.2h1M566.6 202.9h1M581.3 238.6h1M569.0 245.1h1M582.5 238.4h1M612.5 198.7h1M557.7 233.3h1M578.1 183.7h1M608.9 205.2h1M595.3 229.1h1M552.4 219.2h1M572.1 195.3h1M572.9 193.3h1M580.0 242.4h1M602.6 177.3h1M589.6 183.4h1M555.9 217.3h1M610.6 191.8h1M556.7 233.7h1M555.2 216.5h1M575.6 241.9h1M605.6 214.7h1M589.1 232.7h1M600.7 223.3h1M556.7 232.7h1M594.7 180.9h1M588.1 184.7h1M615.1 207.7h1M555.3 219.8h1M575.2 244.0h1M555.2 232.4h1M608.5 215.9h1M567.7 202.7h1M585.5 236.7h1M576.5 244.7h1M595.4 229.3h1M585.2 237.6h1M560.3 239.7h1M603.4 227.7h1M571.7 192.9h1M612.0 197.1h1M564.6 244.5h1M612.8 200.1h1M565.5 240.6h1M572.7 243.8h1M606.7 180.5h1M593.6 180.1h1M573.9 243.3h1M600.2 227.2h1M598.9 180.9h1M596.1 182.0h1M601.5 178.4h1M585.3 235.5h1M585.7 185.5h1M602.8 217.2h1M574.9 245.9h1M583.4 237.2h1M607.0 182.3h1M556.7 213.5h1M554.6 217.9h1M567.5 242.6h1M558.6 200.0h1M572.4 197.8h1M598.3 226.9h1M565.5 242.9h1M613.0 196.3h1M569.4 245.4h1M613.0 188.2h1M557.6 233.4h1M566.4 202.9h1M612.2 188.7h1M604.8 213.9h1M592.8 180.3h1M555.3 220.2h1M592.6 229.9h1M555.2 219.2h1M593.7 183.5h1M602.1 178.8h1M565.0 204.6h1M579.1 241.8h1M577.4 192.2h1M573.5 184.8h1M592.3 232.6h1M553.0 230.8h1M611.1 192.4h1M607.5 209.4h1M597.3 229.5h1M618.6 199.0h1M584.3 188.1h1M608.9 185.9h1M552.3 214.1h1M555.3 218.4h1M561.9 238.0h1M553.8 220.4h1M614.0 190.5h1M598.9 241.4h1M597.2 229.8h1M584.7 240.8h1M612.1 195.2h1M561.5 208.2h1M571.2 198.7h1M592.0 231.2h1M609.1 181.8h1M554.0 224.6h1M609.7 186.3h1M554.8 222.1h1M565.6 203.0h1M556.6 233.5h1M605.1 181.6h1M597.4 182.0h1M551.9 224.4h1M551.9 212.1h1M562.7 207.4h1M601.1 225.0h1M589.9 236.5h1M561.8 207.9h1M568.9 201.3h1M583.4 186.0h1M605.4 219.7h1M584.8 179.4h1M586.0 188.0h1M599.4 178.8h1M598.5 180.1h1M558.0 205.4h1M609.3 207.1h1M554.7 234.0h1M608.6 215.4h1M609.9 206.1h1M565.8 200.9h1M589.3 185.2h1M603.0 218.6h1M591.6 184.2h1M602.6 181.0h1M584.3 242.2h1M593.5 230.2h1M575.7 243.0h1M583.4 241.8h1M607.3 214.0h1M593.1 182.1h1M576.9 243.2h1M592.8 231.8h1M574.8 194.2h1M611.0 182.7h1M579.7 191.0h1M583.4 186.4h1M555.6 228.9h1M570.0 245.3h1M581.5 238.4h1M600.2 224.2h1M603.1 220.5h1M596.0 180.5h1M558.9 235.9h1M610.9 203.2h1M576.1 246.5h1M571.0 195.1h1M609.1 204.0h1M567.6 200.2h1M591.7 184.4h1M591.2 185.0h1M584.9 238.8h1M603.1 218.0h1M602.4 219.1h1M571.9 193.1h1M602.4 223.4h1M580.6 187.8h1M601.2 233.3h1M560.3 237.4h1M587.1 185.7h1M557.8 215.6h1M597.2 225.6h1M610.7 195.8h1M608.5 204.3h1M581.3 190.5h1M586.6 239.3h1M553.9 218.4h1M574.2 194.3h1M592.4 233.5h1M556.7 215.3h1M576.5 190.2h1M607.6 207.1h1M566.9 199.8h1M611.1 188.3h1M603.0 221.0h1M610.8 197.9h1M566.5 241.3h1M563.5 207.9h1M566.6 201.1h1M610.8 193.8h1M576.1 242.1h1M604.3 218.9h1M614.5 191.7h1M603.9 181.0h1M604.4 179.8h1M553.5 210.2h1M612.5 185.5h1M561.8 204.9h1M564.5 204.1h1M592.0 232.4h1M603.7 179.8h1M590.1 234.8h1M577.9 189.0h1M562.6 208.4h1M603.9 217.1h1M577.2 193.0h1M557.0 213.2h1M580.8 191.2h1M571.3 243.6h1M590.9 234.2h1M562.7 204.4h1M558.2 215.4h1M609.9 229.8h1M576.8 242.0h1M610.3 186.4h1M579.4 192.1h1M616.6 192.6h1M560.0 237.7h1M584.3 238.5h1M608.7 205.0h1M585.1 186.9h1M580.6 189.7h1M557.7 233.1h1M583.1 237.8h1M577.9 242.5h1M561.7 237.5h1M584.5 187.2h1M571.4 198.4h1M568.1 196.7h1M605.5 214.1h1M594.4 230.8h1M573.5 245.9h1M577.4 190.8h1M580.0 239.6h1M570.8 197.4h1M553.9 219.2h1M565.9 244.0h1M588.6 235.9h1M586.4 186.3h1M554.3 207.3h1M589.8 233.7h1M604.0 181.3h1M564.0 205.1h1M574.5 193.9h1M554.0 234.2h1M618.5 208.8h1M561.4 237.0h1M611.2 196.8h1M593.8 182.7h1M567.1 203.0h1M595.2 182.2h1M596.8 182.5h1M582.3 181.3h1M554.7 219.8h1M614.1 197.4h1M574.1 243.5h1M560.1 236.7h1M566.3 203.1h1M568.3 200.3h1M555.4 228.4h1M586.3 187.8h1M605.1 220.3h1M606.2 217.7h1M555.1 222.0h1M555.5 212.6h1M600.3 224.4h1M610.2 204.7h1M599.9 180.1h1M596.4 227.3h1M556.6 216.0h1M572.0 196.2h1M572.0 243.3h1M578.3 241.4h1M558.2 212.7h1M592.8 233.6h1M564.8 240.7h1M581.7 182.6h1M587.7 238.5h1M570.8 197.8h1M612.0 199.9h1M563.3 206.9h1M600.5 221.6h1M556.5 231.6h1M607.4 217.1h1M594.3 183.7h1M609.9 199.6h1M606.9 210.4h1M557.0 232.3h1M607.5 208.8h1M583.9 239.8h1M562.2 238.6h1M593.9 183.2h1M585.6 236.4h1M595.3 180.2h1M576.1 190.9h1" fill="none" stroke="#c011bf" stroke-width="1" stroke-opacity="0.85" filter="url(#b3)"/>
<path d="M603.8 182.8L604.2 182.9L604.7 183.1L605.1 183.3L605.5 183.6L605.8 183.9L606.2 184.2L606.5 184.5L606.8 184.9L607.1 185.3L607.4 185.8L607.7 186.2L607.9 186.7L608.1 187.2L608.3 187.7L608.5 188.2L608.7 188.8L608.8 189.3L609.0 189.9L609.1 190.4L609.2 191.0L609.3 191.5L609.4 192.1L609.4 192.7L609.5 193.2L609.5 193.8L609.5 194.3L609.5 194.9L609.4 195.5L609.4 196.1L609.3 196.8L609.2 197.4L609.1 198.1L608.9 198.7L608.8 199.4L608.6 200.0L608.4 200.7L608.2 201.4L608.0 202.1L607.8 202.7L607.6 203.4L607.4 204.1L607.1 204.7L606.9 205.4L606.6 206.1L606.4 206.7L606.1 207.3L605.8 208.0L605.6 208.6L605.3 209.2L605.0 209.9L604.7 210.5L604.4 211.1L604.1 211.8L603.8 212.4L603.4 213.1L603.1 213.7L602.8 214.3L602.4 215.0L602.1 215.6L601.8 216.2L601.4 216.8L601.1 217.5L600.7 218.1L600.4 218.7L600.0 219.2L599.7 219.8L599.3 220.4L599.0 220.9L598.6 221.5L598.3 222.0L597.9 222.5L597.6 223.0L597.2 223.4L596.9 223.9L596.5 224.3L596.1 224.8L595.8 225.2L595.4 225.6L595.0 226.0L594.7 226.4L594.3 226.7L593.9 227.1L593.5 227.5L593.1 227.8L592.7 228.2L592.3 228.5L591.9 228.9L591.5 229.2L591.0 229.6L590.6 229.9L590.1 230.3L589.7 230.6L589.2 231.0L588.7 231.3L588.3 231.7L587.8 232.1L587.2 232.5L586.7 232.9L586.1 233.4L585.6 233.8L585.0 234.3L584.4 234.8L583.7 235.3L583.1 235.8L582.4 236.3L581.8 236.8L581.1 237.2L580.4 237.7L579.7 238.2L579.0 238.6L578.4 239.0L577.7 239.4L577.0 239.8L576.3 240.1L575.6 240.4L575.0 240.7L574.3 240.9L573.7 241.0L573.0 241.1L572.4 241.2L571.8 241.2L571.2 241.2L570.6 241.1L570.0 240.9L569.4 240.7L568.8 240.5L568.3 240.3L567.7 240.0L567.1 239.7L566.5 239.3L566.0 239.0L565.4 238.6L564.9 238.2L564.3 237.8L563.8 237.4L563.3 236.9L562.8 236.5L562.3 236.1L561.9 235.6L561.4 235.2L561.0 234.7L560.6 234.3L560.3 233.9L559.9 233.5L559.6 233.1L559.2 232.7L558.9 232.3L558.6 231.9L558.3 231.5L558.1 231.0L557.8 230.6L557.6 230.2L557.4 229.7L557.1 229.3L557.0 228.8L556.8 228.4L556.6 227.9L556.5 227.4L556.4 226.9L556.3 226.4L556.2 226.0L556.1 225.5L556.1 225.0L556.1 224.4L556.1 223.9L556.2 223.4L556.2 222.9L556.3 222.4L556.4 221.8L556.6 221.3L556.8 220.7L557.0 220.1L557.2 219.6L557.5 219.0L557.8 218.4L558.1 217.8L558.5 217.2L558.8 216.6L559.2 215.9L559.6 215.3L560.0 214.7L560.4 214.1L560.8 213.6L561.3 213.0L561.7 212.4L562.1 211.8L562.5 211.3L563.0 210.7L563.4 210.2L563.8 209.7L564.2 209.2L564.5 208.7L564.9 208.2L565.3 207.8L565.6 207.3L566.0 206.8L566.3 206.4L566.7 206.0L567.0 205.5L567.3 205.1L567.7 204.7L568.0 204.3L568.4 203.9L568.7 203.5L569.1 203.1L569.5 202.7L569.8 202.3L570.2 201.9L570.6 201.5L571.0 201.1L571.4 200.7L571.8 200.3L572.2 199.9L572.6 199.5L573.1 199.1L573.6 198.7L574.0 198.3L574.5 197.9L575.0 197.4L575.6 197.0L576.1 196.6L576.7 196.1L577.2 195.7L577.8 195.2L578.4 194.7L579.0 194.3L579.6 193.8L580.3 193.3L580.9 192.8L581.6 192.4L582.2 191.9L582.9 191.4L583.5 191.0L584.2 190.5L584.9 190.1L585.5 189.7L586.2 189.3L586.8 188.9L587.5 188.5L588.1 188.1L588.8 187.8L589.4 187.4L590.1 187.0L590.8 186.7L591.5 186.3L592.2 186.0L592.9 185.6L593.6 185.3L594.3 184.9L595.1 184.6L595.8 184.3L596.5 184.0L597.2 183.8L597.9 183.5L598.6 183.3L599.2 183.1L599.9 183.0L600.5 182.8L601.1 182.7L601.7 182.7L602.3 182.6L602.8 182.6L603.3 182.7Z" fill="#c011bf" filter="url(#b1)"/>
<path d="M582.6 193.5h1M564.3 208.8h1M599.8 218.5h1M610.9 195.6h1M602.9 217.6h1M564.6 239.1h1M562.0 234.2h1M560.6 214.5h1M570.2 242.1h1M557.8 218.6h1M567.5 204.8h1M557.8 221.4h1M581.1 235.3h1M558.7 215.3h1M570.8 238.8h1M558.8 229.2h1M603.3 212.9h1M561.3 217.0h1M570.3 199.3h1M562.0 215.2h1M576.0 239.6h1M595.2 186.5h1M584.2 233.0h1M607.0 196.0h1M597.5 182.5h1M576.6 198.1h1M583.7 235.4h1M607.0 206.3h1M581.2 195.5h1M604.8 210.4h1M607.3 201.3h1M593.3 187.0h1M605.0 185.4h1M559.9 230.3h1M577.4 238.7h1M586.9 187.1h1M557.0 230.3h1M567.0 203.6h1M561.6 210.0h1M586.6 231.3h1M596.8 184.5h1M603.8 215.9h1M583.8 189.4h1M574.6 239.4h1M606.1 182.0h1M564.1 239.6h1M556.0 230.2h1M566.8 240.1h1M593.7 186.6h1M585.3 188.9h1M562.7 210.7h1M556.3 228.9h1M558.6 227.4h1M560.9 214.4h1M596.2 223.0h1M586.5 187.7h1M574.9 238.5h1M557.1 227.1h1M592.3 229.1h1M604.7 211.9h1M599.9 217.3h1M561.9 233.1h1M608.7 186.1h1M594.7 186.0h1M587.1 190.1h1M555.7 228.4h1M592.1 227.0h1M585.7 230.9h1M610.9 193.7h1M560.1 214.5h1M589.2 188.0h1M607.9 194.1h1M574.1 238.7h1M610.6 192.3h1M565.4 206.9h1M563.1 235.9h1M598.0 218.8h1M561.7 234.7h1M601.4 185.1h1M605.6 212.2h1M588.8 231.2h1M597.7 182.7h1M604.4 183.3h1M564.1 239.2h1M590.2 187.3h1M566.2 209.6h1M569.7 205.3h1M572.3 200.4h1M593.9 185.4h1M586.1 234.3h1M572.0 198.4h1M609.7 195.0h1M561.3 234.4h1M606.6 198.5h1M555.7 223.9h1M606.9 197.0h1M574.9 239.6h1M608.1 186.6h1M602.6 217.1h1M610.3 191.6h1M607.4 197.7h1M562.4 236.5h1M580.9 192.3h1M604.3 213.7h1M593.2 226.2h1M591.6 228.4h1M599.3 216.9h1M568.9 204.1h1M592.5 186.3h1M570.2 201.5h1M604.5 206.1h1M592.9 228.2h1M556.5 230.1h1M589.9 232.4h1M561.9 215.3h1M606.2 182.2h1M555.4 229.2h1M596.5 184.3h1M599.7 218.3h1M567.4 203.6h1M567.8 202.5h1M560.6 231.4h1M608.4 198.8h1M562.6 235.4h1M570.5 203.6h1M590.5 227.4h1M598.5 183.3h1M558.8 220.9h1M555.9 219.1h1M607.1 188.9h1M560.5 215.5h1M607.5 204.1h1M579.7 192.0h1M581.2 237.4h1M607.3 195.3h1M599.4 185.2h1M565.2 205.4h1M594.2 228.3h1M609.6 193.0h1M563.3 237.2h1M598.2 220.0h1M596.5 184.0h1M591.1 229.6h1M574.3 196.1h1M601.0 216.4h1M565.0 236.2h1M593.1 227.9h1M574.9 238.8h1M605.0 209.1h1M596.5 222.9h1M572.6 202.1h1M602.2 217.2h1M582.1 235.8h1M571.1 200.8h1M610.4 194.4h1M560.9 235.9h1M602.5 182.6h1M575.3 198.7h1M590.3 231.8h1M603.1 209.7h1M563.2 237.0h1M608.8 199.4h1M592.7 184.5h1M610.4 190.4h1M592.4 184.6h1M598.4 182.1h1M578.2 239.1h1M559.0 214.4h1M585.4 233.4h1M604.3 212.0h1M559.5 230.3h1M582.7 192.5h1M580.9 238.7h1M587.9 187.3h1M577.2 197.3h1M560.1 215.1h1M607.2 186.6h1M566.0 205.5h1M580.4 193.5h1M598.6 182.2h1M558.9 229.5h1M597.3 182.9h1M561.0 235.6h1M606.4 204.6h1M570.9 202.2h1M573.3 198.8h1M592.4 230.0h1M599.9 183.0h1M559.1 217.9h1M602.8 216.5h1M560.5 236.0h1M610.7 196.2h1M593.5 226.5h1M594.4 223.9h1M604.5 213.1h1M609.0 186.8h1M592.7 185.3h1M595.2 227.8h1M593.4 227.4h1M590.6 232.0h1M608.1 193.3h1M556.2 226.6h1M566.2 207.4h1M605.6 206.3h1M596.6 224.9h1M606.0 185.8h1M556.8 229.3h1M574.3 239.4h1M562.0 213.5h1M582.6 233.4h1M570.2 203.9h1M602.6 181.2h1M596.2 222.4h1M607.1 200.6h1M576.0 237.8h1M562.9 237.0h1M573.9 197.9h1M596.8 222.4h1M592.6 229.7h1M603.3 184.7h1M557.4 229.3h1M610.0 193.1h1M601.1 183.2h1M605.4 183.0h1M563.9 213.0h1M601.6 212.6h1M556.1 223.1h1M580.5 195.6h1M596.0 183.7h1M558.6 220.2h1M577.9 236.8h1M560.8 211.8h1M578.0 193.0h1M596.4 183.6h1M602.5 182.3h1M587.2 232.6h1M599.5 221.0h1M601.1 183.8h1M610.0 196.6h1M590.3 186.1h1M558.7 218.4h1M570.5 204.4h1M581.1 238.7h1M557.8 219.0h1M558.4 229.3h1M577.1 197.7h1M558.5 228.0h1M597.4 225.5h1M585.5 190.6h1M594.4 187.0h1M562.0 232.9h1M561.5 216.3h1M575.5 239.8h1M563.5 237.7h1M564.7 206.6h1M592.1 185.8h1M605.4 181.9h1M586.1 191.5h1M608.8 197.3h1M587.7 232.0h1M599.3 221.7h1M575.0 240.6h1M576.5 240.4h1M561.0 235.8h1M584.8 189.7h1M555.2 225.2h1M590.4 186.4h1M594.5 187.4h1M564.8 239.1h1M606.6 203.0h1M607.1 196.0h1M599.3 223.3h1M560.6 215.2h1M590.7 231.7h1M564.4 211.7h1M579.7 236.6h1M593.1 225.1h1M585.7 191.8h1M584.0 234.9h1M605.6 185.0h1M603.7 183.8h1M584.5 189.9h1M587.9 188.1h1M608.5 197.4h1M580.0 239.2h1M584.4 234.3h1M585.2 234.5h1M564.4 212.3h1M600.7 183.1h1M603.1 215.4h1M608.7 188.2h1M579.6 237.1h1M606.5 205.4h1M594.9 228.3h1M580.9 194.5h1M610.5 197.8h1M602.4 182.7h1M560.9 215.2h1M598.7 185.9h1M585.5 192.4h1M601.6 215.6h1M568.3 203.2h1M557.5 230.7h1M554.8 223.1h1M609.0 202.3h1M607.1 207.8h1M604.0 211.2h1M565.4 236.1h1M591.1 229.2h1M597.9 218.9h1M609.4 193.2h1M564.7 211.4h1M566.7 239.6h1M588.3 233.8h1M558.2 215.9h1M569.7 204.7h1M581.8 237.1h1M602.4 182.9h1M607.9 205.5h1M558.4 229.6h1M580.3 238.0h1M558.4 229.4h1M589.2 229.0h1M604.2 182.2h1M561.8 232.6h1M557.0 230.0h1M587.3 230.7h1M586.3 187.3h1M600.8 185.1h1M560.9 214.0h1M563.2 208.3h1M589.5 187.3h1M573.5 242.3h1M592.1 185.4h1M591.6 230.8h1M600.9 217.7h1M586.3 187.5h1M562.8 210.5h1M573.2 240.9h1M556.7 228.6h1M562.8 237.0h1M559.7 218.1h1M566.9 203.9h1M592.0 230.7h1M572.9 201.1h1M562.2 212.6h1M561.6 235.5h1M558.9 219.5h1M598.9 183.7h1M585.3 233.4h1M574.5 200.7h1M607.6 186.6h1M559.5 232.8h1M599.9 215.8h1M571.8 199.0h1M580.1 237.4h1M557.5 224.5h1M569.8 199.9h1M595.7 182.8h1M607.5 187.6h1M586.4 191.5h1M572.7 198.9h1M602.4 215.5h1M610.0 200.1h1M563.8 239.6h1M602.5 213.8h1M555.2 228.2h1M572.1 241.8h1M599.5 217.0h1M604.2 208.0h1M567.6 239.1h1M599.5 216.1h1M578.1 236.8h1M595.2 185.8h1M581.2 192.9h1M595.4 184.4h1M608.6 190.6h1M601.8 212.8h1M575.0 239.4h1M585.8 188.6h1M585.5 233.1h1M594.1 187.6h1M584.6 192.4h1M569.0 201.3h1M606.2 186.5h1M579.8 194.1h1M581.7 194.4h1M575.2 198.2h1M555.9 222.6h1M574.9 199.9h1M593.9 226.3h1M567.9 202.3h1M572.5 240.8h1M595.3 226.3h1M563.9 207.7h1M573.7 242.5h1M581.7 191.7h1M566.4 203.6h1M596.2 185.9h1M571.0 200.2h1M556.7 217.7h1M561.8 235.8h1M586.6 233.7h1M563.9 237.7h1M575.0 195.4h1M556.2 222.9h1M577.6 238.5h1M557.4 230.2h1M566.4 209.2h1M588.8 231.0h1M572.9 200.3h1M565.6 210.2h1M590.2 228.1h1M556.9 225.3h1M564.7 210.7h1M574.5 241.2h1M565.8 240.9h1M557.8 226.3h1M605.6 204.1h1M608.4 194.8h1M609.8 193.3h1M580.5 234.7h1M556.7 223.5h1M567.5 238.9h1M600.7 185.0h1M604.2 206.8h1M579.4 194.3h1M556.9 227.1h1M598.0 222.8h1M582.3 190.5h1M603.6 210.9h1M569.9 203.4h1M559.8 231.2h1M605.8 206.8h1M564.9 239.8h1M556.9 225.2h1M596.3 222.6h1M558.3 232.4h1M579.1 192.1h1M594.7 184.6h1M604.1 213.4h1M563.9 239.5h1M557.6 224.9h1M598.8 183.5h1M556.3 229.8h1M560.8 236.0h1M606.3 185.6h1M600.3 217.8h1M573.0 239.0h1M598.4 182.8h1M602.1 215.8h1M573.4 200.5h1M561.0 214.9h1M607.2 189.9h1M586.8 187.5h1M583.3 236.3h1M592.4 186.4h1M579.5 195.6h1M605.2 210.6h1M556.7 223.6h1M607.8 188.2h1M571.3 239.8h1M566.9 205.4h1M564.7 209.1h1M584.0 189.6h1M555.5 225.2h1M575.1 196.8h1M580.7 195.3h1M591.3 186.6h1M594.1 229.1h1M558.8 217.9h1M583.5 235.3h1M555.6 222.4h1M592.0 226.6h1M571.0 199.7h1M594.2 229.0h1M576.5 194.7h1M591.9 186.3h1M567.4 207.0h1M610.5 194.8h1M573.1 201.0h1M609.9 188.1h1M583.8 189.4h1M564.3 236.0h1M556.6 222.6h1M582.6 190.5h1M589.7 185.8h1M592.5 229.5h1M599.0 183.1h1M586.4 191.0h1M595.5 186.1h1M607.4 193.3h1M560.3 236.1h1M585.3 191.4h1M591.6 187.3h1M601.5 181.9h1M564.0 237.5h1M608.8 201.3h1M602.8 182.6h1M608.3 195.7h1M602.9 184.1h1M604.5 209.1h1M603.5 207.6h1M584.7 192.4h1M561.6 212.9h1M608.6 197.3h1M604.5 211.4h1M604.2 183.9h1M578.8 195.0h1M555.7 224.2h1M610.5 190.7h1M557.3 222.7h1M568.5 241.8h1M607.4 196.4h1M607.3 187.8h1M597.3 220.4h1M586.6 231.9h1M557.3 226.1h1M589.6 188.2h1M570.9 240.9h1M560.7 231.9h1M554.9 228.3h1M559.9 215.8h1M588.9 190.1h1M558.4 230.9h1M587.0 230.8h1M593.4 227.2h1M606.0 203.8h1M575.9 239.3h1M569.7 240.9h1M565.8 240.8h1M586.7 191.1h1M581.5 192.4h1M558.6 214.7h1M600.6 183.5h1M558.2 216.4h1M605.4 184.9h1M588.7 231.8h1M561.4 210.9h1M559.7 213.9h1M603.6 183.6h1M559.2 234.7h1M589.4 232.5h1M609.8 194.0h1M604.3 205.7h1M560.3 214.1h1M603.9 183.6h1M562.4 233.0h1M589.2 189.0h1M577.9 239.0h1M562.0 209.7h1M586.2 232.1h1M583.4 236.3h1M580.0 237.5h1M583.3 234.2h1M593.7 184.6h1M595.7 222.4h1M562.6 210.4h1M556.6 226.6h1M591.4 227.3h1M609.1 187.8h1M595.1 223.0h1M594.0 227.0h1M600.1 215.5h1M584.9 192.8h1M602.7 182.8h1M559.0 234.6h1M605.0 210.8h1M582.7 193.6h1M610.6 197.6h1M567.5 240.6h1M573.1 196.8h1M558.3 216.7h1M569.3 200.6h1M600.8 219.2h1M559.9 231.3h1M598.8 222.5h1M601.7 212.2h1M608.5 187.2h1M558.4 220.6h1M606.1 209.8h1M554.5 225.0h1M559.5 229.3h1M606.5 187.9h1M607.3 203.1h1M574.6 239.2h1M561.3 234.4h1M582.1 234.1h1M588.8 188.7h1M570.2 239.3h1M568.4 203.3h1M579.4 239.4h1M592.5 226.2h1M565.0 210.2h1M579.2 237.1h1M599.4 219.4h1M582.9 235.5h1M560.7 231.5h1M588.2 187.3h1M577.0 240.1h1M595.3 183.5h1M568.5 206.7h1M608.4 195.1h1M602.6 181.5h1M559.7 218.6h1M610.3 189.4h1M558.5 233.6h1M608.0 206.0h1M609.3 192.8h1M571.9 202.8h1M566.5 208.9h1M576.7 237.4h1M590.9 188.4h1M563.0 234.1h1M566.4 204.6h1M590.3 230.7h1M558.0 230.4h1M602.7 212.2h1M556.1 230.4h1M590.8 227.1h1M605.5 204.3h1M594.8 227.5h1M583.5 191.4h1M593.0 188.0h1M604.2 213.3h1M591.3 188.7h1M556.7 226.6h1M555.0 222.5h1M556.8 217.1h1M554.8 225.3h1M609.2 191.9h1M586.5 232.0h1M581.8 236.5h1M605.2 205.9h1M590.6 228.9h1M556.5 220.0h1M559.1 213.4h1M567.9 241.7h1M562.1 238.0h1M598.6 185.9h1M603.4 210.4h1M607.6 184.4h1M559.0 235.0h1M569.7 200.9h1M574.4 195.7h1M567.5 239.7h1M561.4 210.8h1M588.4 229.4h1M607.4 206.0h1M574.9 200.1h1M592.4 187.9h1M590.2 229.5h1M556.8 220.7h1M607.2 184.5h1M586.4 232.7h1M577.3 194.6h1M609.5 193.6h1M587.6 233.9h1M609.9 191.9h1M606.5 208.7h1M594.7 184.4h1M565.9 237.1h1M559.2 217.2h1M610.3 191.5h1M606.4 204.4h1M571.7 239.1h1M602.7 184.2h1M580.5 194.0h1M609.5 196.2h1M607.6 203.2h1M591.2 228.6h1M582.1 236.7h1M606.6 203.0h1M596.8 224.1h1M599.5 217.0h1M580.1 194.6h1M574.4 238.3h1M571.6 203.6h1M561.7 216.4h1M606.6 209.0h1M569.7 200.4h1M577.3 237.0h1M562.9 235.7h1M574.0 198.2h1M562.7 211.1h1M595.2 185.8h1M559.0 216.2h1M604.2 208.2h1M593.6 187.0h1M583.8 192.9h1M557.2 231.5h1M577.5 193.8h1M566.2 209.9h1M602.6 183.1h1M556.2 228.6h1M577.8 197.6h1M555.3 222.2h1M579.9 195.9h1M589.5 231.5h1M600.4 220.6h1M555.8 223.0h1M610.8 190.8h1M610.5 191.1h1M555.6 227.3h1M578.2 193.6h1M602.1 182.3h1M594.8 224.7h1M606.6 189.7h1M588.5 232.3h1M558.1 219.2h1M561.1 213.3h1M585.9 230.9h1M576.5 195.6h1M587.0 189.8h1M597.1 225.8h1M605.7 212.1h1M605.5 185.8h1M563.7 210.9h1M575.4 198.6h1M559.9 232.7h1M602.9 182.1h1M600.3 185.3h1M590.0 188.5h1M604.2 207.7h1M601.1 216.1h1M609.7 187.0h1M605.5 205.4h1M560.2 213.2h1M557.6 230.0h1M563.3 211.6h1M575.3 239.0h1M582.5 192.3h1M569.1 205.1h1M599.2 185.4h1M574.3 240.5h1M562.8 238.4h1M591.6 226.7h1M595.8 226.2h1M607.7 186.9h1M567.0 209.0h1M557.6 227.8h1M586.0 233.7h1M561.1 214.4h1M567.4 204.7h1M598.1 224.9h1M607.8 203.2h1M602.2 216.4h1M610.0 196.0h1M599.9 185.4h1M566.8 241.3h1M570.9 241.7h1M590.8 186.7h1M557.9 227.4h1M610.3 193.0h1M570.0 202.1h1M587.9 229.4h1M582.9 235.8h1M582.5 236.6h1M579.5 192.2h1M558.5 218.7h1M602.1 214.2h1M608.5 199.7h1M591.6 184.7h1M561.4 213.2h1M560.6 234.0h1M608.9 193.8h1M561.2 233.0h1M609.1 196.6h1M607.3 185.9h1M600.0 181.6h1M582.6 191.4h1M611.0 192.8h1M559.1 213.5h1M608.2 205.6h1M608.1 196.0h1M589.0 230.4h1M609.1 200.7h1M607.3 208.6h1M572.7 201.4h1M560.7 211.9h1M600.5 221.3h1M562.8 212.9h1M560.8 211.0h1M591.9 187.7h1M602.8 182.1h1M597.7 222.9h1M600.8 216.5h1M569.0 203.8h1M570.5 201.7h1M586.5 230.2h1M573.2 240.2h1M604.0 208.8h1M600.4 182.3h1M560.7 231.7h1M587.7 232.9h1M556.2 228.5h1M564.3 206.9h1M593.1 227.2h1M591.6 229.2h1M555.6 222.9h1M558.8 232.6h1M577.6 196.6h1M599.5 221.8h1M596.4 183.4h1M605.1 209.8h1M610.5 191.4h1M592.1 186.5h1M591.8 186.7h1M585.5 231.7h1M607.5 204.1h1M592.4 225.5h1M601.1 182.7h1M600.9 219.3h1M590.8 186.4h1M606.6 209.2h1M580.9 235.5h1M580.3 239.0h1M589.3 186.5h1M609.7 196.2h1M586.9 187.0h1M574.5 197.0h1M596.9 185.4h1M568.5 202.5h1M565.0 210.9h1M580.2 196.0h1M596.6 221.2h1M568.9 240.9h1M566.3 237.5h1M576.9 237.6h1M587.7 232.6h1M556.3 227.9h1M567.4 205.0h1M568.8 240.9h1M560.3 216.5h1M567.4 241.7h1M565.4 238.4h1M580.0 196.1h1M571.5 240.2h1M603.5 207.5h1M564.6 239.2h1M570.6 239.0h1M561.0 216.9h1M609.2 193.2h1M592.1 227.3h1M601.6 218.9h1M609.2 188.3h1M579.4 239.0h1M576.6 241.4h1M588.3 187.9h1M556.2 230.5h1M573.9 197.5h1M608.1 197.3h1M568.5 201.7h1M597.9 219.6h1M571.6 199.3h1M607.1 203.4h1M609.4 195.2h1M582.4 194.3h1M566.9 240.7h1M574.9 239.1h1M596.1 221.7h1M558.4 232.2h1M563.6 238.6h1M606.0 209.7h1M568.5 202.4h1M584.3 189.6h1M589.5 231.7h1M558.8 229.1h1M562.8 211.8h1M568.2 202.3h1M607.0 195.9h1M561.1 213.9h1M580.1 236.0h1M596.8 184.0h1M589.5 188.7h1M604.1 215.1h1M607.8 192.8h1M558.7 230.7h1M606.6 188.2h1M555.7 222.5h1M584.9 188.9h1M563.3 210.8h1M604.1 210.9h1M588.3 190.3h1M595.7 184.9h1M607.1 202.0h1M584.5 189.8h1M573.9 198.6h1M604.4 183.2h1M585.1 235.7h1M585.1 235.7h1M557.9 229.0h1M583.7 189.6h1M566.4 206.4h1M610.2 190.1h1M567.9 205.4h1M607.3 202.3h1M585.0 234.0h1M566.0 236.5h1M604.3 214.4h1M596.2 227.4h1M569.6 205.1h1M564.0 208.7h1M563.3 210.1h1M600.2 216.9h1M605.9 187.6h1M605.5 204.5h1M601.6 214.4h1M566.0 206.3h1M597.6 220.3h1M585.0 192.8h1M558.9 228.8h1M568.3 203.2h1M603.4 212.7h1M567.6 205.5h1M568.4 242.1h1M573.0 201.2h1M605.9 209.0h1M573.9 199.3h1M609.6 187.9h1M583.7 189.5h1M587.0 189.5h1M596.3 221.4h1M567.2 204.6h1M600.7 219.8h1M578.9 194.8h1M588.1 233.6h1M606.6 183.7h1M571.2 200.8h1M588.8 188.2h1M564.9 210.6h1M572.3 241.9h1M559.6 230.4h1M602.8 211.3h1M608.1 204.4h1M608.0 206.5h1M608.4 201.8h1M561.0 213.6h1M571.4 201.6h1M591.4 185.7h1M584.9 190.2h1M557.6 225.7h1M603.2 183.7h1M556.0 219.8h1M582.6 190.9h1M561.9 215.1h1M600.2 217.9h1M567.8 240.6h1M578.3 238.0h1M606.9 205.1h1M572.0 239.2h1M566.7 204.6h1M593.3 228.3h1M600.7 215.9h1M609.5 186.1h1M601.3 213.0h1M570.6 240.3h1M581.8 191.8h1M573.8 198.0h1M577.2 197.3h1M572.1 198.1h1M607.8 187.8h1M567.0 205.5h1M570.5 200.6h1M583.7 233.8h1M558.0 219.4h1M599.8 216.6h1M607.7 186.8h1M595.4 184.5h1M569.3 241.6h1M563.5 235.1h1M608.5 205.0h1M567.8 205.7h1M593.0 226.2h1M609.3 191.5h1M602.7 210.7h1M589.0 188.7h1M602.7 209.8h1M602.0 183.1h1M586.1 191.4h1M607.3 207.9h1M568.8 204.2h1M561.2 216.9h1M603.5 212.8h1M608.4 205.7h1M580.5 195.9h1M567.3 207.8h1M579.2 192.8h1M556.9 228.7h1M602.2 216.8h1M596.5 226.0h1M564.6 207.6h1M607.5 185.9h1M558.3 232.0h1M587.5 186.9h1M604.5 208.7h1M601.2 184.3h1M574.6 199.5h1M585.7 188.9h1M605.1 182.6h1M578.3 240.7h1M555.6 229.7h1M555.9 220.7h1M599.8 221.6h1M592.0 230.2h1M607.5 189.6h1M593.5 224.4h1M610.9 194.9h1M593.6 184.2h1M596.4 186.5h1M559.0 229.5h1M556.2 226.2h1M576.9 198.1h1M572.1 199.8h1M594.7 228.2h1M559.7 235.6h1M607.6 191.4h1M584.0 236.7h1M609.6 189.7h1M595.5 185.8h1M577.1 197.9h1M568.4 203.1h1M568.6 200.9h1M606.4 201.7h1M573.1 242.1h1M586.3 189.6h1M599.2 218.3h1M589.4 188.5h1M590.0 228.2h1M564.0 237.2h1M600.1 182.5h1M607.8 195.7h1M602.9 210.0h1M563.9 209.3h1M607.2 189.5h1M567.2 205.8h1M565.5 209.5h1M566.4 203.5h1M569.1 204.0h1M562.5 210.9h1M578.5 239.1h1M573.4 242.6h1M601.6 215.9h1M599.1 181.8h1M608.4 201.7h1M592.0 188.6h1M562.5 235.2h1M581.7 238.2h1M562.6 234.8h1M587.2 230.6h1M598.6 220.1h1M563.7 211.4h1M570.9 241.6h1M594.8 227.9h1M562.0 234.6h1M580.0 235.4h1M572.4 239.7h1M564.3 206.6h1M607.0 188.5h1M565.4 237.7h1M600.8 184.9h1M568.9 239.7h1M583.3 235.2h1M574.1 242.4h1M601.7 215.2h1M603.3 213.5h1M592.9 184.5h1M569.0 241.9h1M591.1 189.1h1M609.5 187.7h1M610.5 195.2h1M563.2 238.7h1M601.3 218.8h1M569.1 239.7h1M576.1 241.6h1M571.8 241.2h1M558.0 221.6h1M574.6 241.8h1M602.7 210.0h1M564.7 238.9h1M558.9 229.0h1M562.1 213.5h1M582.9 237.8h1M599.8 216.3h1M564.0 235.4h1M591.2 188.7h1M557.8 221.5h1M561.8 212.8h1M594.0 186.2h1M599.8 220.7h1M603.4 215.4h1M558.9 220.1h1M603.7 184.0h1M578.1 197.7h1M592.9 227.1h1M598.0 186.1h1M602.0 184.0h1M556.0 225.1h1M599.3 222.0h1M557.8 222.2h1M582.9 233.3h1M606.8 185.2h1M570.3 203.7h1M582.3 193.7h1M587.8 230.4h1M610.8 195.7h1M589.2 187.3h1M562.6 212.9h1M605.1 185.4h1M558.0 227.7h1M602.4 183.0h1M571.0 203.2h1M560.7 212.6h1M556.0 224.6h1M580.5 192.2h1M608.3 195.1h1M556.0 224.3h1M607.9 199.2h1M587.4 187.1h1M582.5 190.5h1M608.5 195.6h1M567.2 239.5h1M590.9 186.5h1M560.3 214.5h1M589.3 231.2h1M565.8 208.5h1M596.8 222.5h1M556.1 230.8h1M609.0 195.5h1M564.4 212.2h1M558.7 227.8h1M601.3 213.7h1M607.5 192.3h1M574.7 240.8h1M608.7 184.9h1M585.5 189.6h1M555.4 219.9h1M567.2 206.9h1M568.2 202.0h1M597.5 221.9h1M564.0 208.6h1M567.5 206.9h1M606.5 202.5h1M563.7 236.1h1M607.0 189.4h1M595.2 227.0h1M588.4 228.9h1M603.0 216.4h1M606.7 198.8h1M606.0 185.5h1M609.9 189.7h1M593.5 185.4h1M605.4 208.9h1M566.1 207.6h1M607.6 186.3h1M582.7 235.3h1M584.9 190.2h1M600.6 216.7h1M609.3 194.0h1M600.0 218.2h1M608.2 203.3h1M588.5 233.0h1M593.7 184.3h1M556.6 222.0h1M607.3 197.0h1M565.9 208.2h1M564.6 208.7h1M608.1 198.1h1M597.1 185.9h1M610.6 193.3h1M604.9 212.2h1M567.1 204.0h1M563.0 236.4h1M556.2 227.8h1M557.9 230.1h1M558.8 227.8h1M575.5 195.4h1M562.2 212.4h1M558.9 228.1h1M567.9 239.9h1M560.7 213.6h1M591.7 187.3h1M565.4 237.3h1M565.6 209.1h1M610.2 196.4h1M606.9 200.0h1M586.8 188.3h1M561.2 232.3h1M580.0 237.0h1M577.6 238.3h1M559.3 218.9h1M592.5 187.3h1M561.9 234.9h1M603.3 210.7h1M559.6 214.7h1M605.1 206.0h1M586.0 233.7h1M577.2 195.0h1M587.6 233.8h1M570.1 203.9h1M591.6 229.6h1M572.9 240.5h1M589.8 189.7h1M567.6 241.7h1M565.2 206.5h1M557.7 222.7h1M588.6 188.7h1M575.6 198.5h1M555.7 224.7h1M604.4 184.5h1M590.6 227.3h1M606.2 201.1h1M609.9 187.6h1M561.9 210.3h1M557.4 223.1h1M608.9 202.4h1M555.9 226.5h1M587.5 230.6h1M595.9 225.8h1M592.8 227.3h1M578.0 236.6h1M566.2 239.3h1M561.0 210.9h1M572.9 241.3h1M571.9 241.1h1M601.2 181.6h1M589.3 188.9h1M572.5 201.6h1M564.3 236.7h1M569.1 205.5h1M594.3 184.9h1M588.2 188.1h1M598.4 182.2h1M584.9 192.1h1M607.4 194.9h1M583.9 190.0h1M566.9 238.3h1M565.4 206.8h1M592.0 186.0h1M585.6 235.3h1M604.4 208.8h1M587.0 232.3h1M560.3 234.5h1M555.6 225.9h1M596.5 184.1h1M596.7 184.8h1M607.9 197.2h1M594.6 224.0h1M590.4 186.4h1M587.1 232.9h1M560.2 218.6h1M557.3 220.6h1M557.8 225.2h1M578.6 193.4h1M584.2 234.3h1M586.5 187.4h1M603.5 182.2h1M601.9 211.4h1M575.9 198.7h1M604.3 181.5h1M596.3 185.1h1M597.0 222.5h1M590.0 185.7h1M601.4 184.9h1M558.3 225.8h1M575.3 241.7h1M577.3 193.9h1M581.0 193.3h1M581.0 238.0h1M600.9 215.8h1M562.2 233.9h1M606.5 185.6h1M558.5 214.6h1M592.6 188.5h1M567.0 240.5h1M586.8 189.8h1M597.6 220.2h1M577.8 194.0h1M562.1 235.8h1M558.8 216.6h1M570.8 239.7h1M600.3 185.4h1M607.7 192.9h1M574.5 239.5h1M578.0 193.4h1M603.5 208.2h1M567.6 239.6h1M591.8 227.7h1M558.7 219.5h1M609.4 200.9h1M608.8 201.4h1M570.3 200.4h1M557.8 217.5h1M595.6 185.2h1M577.7 238.0h1M583.6 237.0h1M571.2 199.2h1M609.1 195.9h1M583.2 235.5h1M558.2 231.9h1M569.6 240.8h1M560.8 213.8h1M605.1 209.0h1M603.3 214.7h1M607.4 207.6h1M602.0 214.9h1M566.4 240.8h1M591.1 188.6h1M560.9 235.1h1M558.2 222.9h1M557.7 222.6h1M563.5 213.7h1M610.7 191.6h1M599.0 217.7h1M593.9 186.7h1M577.8 239.6h1M567.7 238.6h1M558.6 219.9h1M583.7 234.4h1M573.4 198.7h1M572.4 239.8h1M564.1 211.5h1M590.8 186.1h1M608.2 199.6h1M579.8 237.7h1M557.9 227.6h1M610.0 188.1h1M601.1 217.6h1M589.1 232.2h1M606.0 186.7h1M581.0 237.4h1M582.9 194.2h1M609.1 189.9h1M591.6 228.0h1M592.7 229.8h1M558.5 215.8h1M588.4 231.6h1M589.7 232.3h1M559.4 232.7h1M604.5 184.8h1M583.4 192.9h1M586.5 233.6h1M587.1 188.0h1M601.8 215.6h1M573.7 241.2h1M556.4 227.8h1M597.2 222.3h1M599.8 218.2h1M557.4 223.3h1M605.5 206.5h1M569.9 242.3h1M607.3 196.4h1M566.9 203.7h1M588.7 230.8h1M573.8 239.2h1M568.9 238.9h1M570.7 241.6h1M572.3 199.5h1M572.3 240.3h1M558.0 216.9h1M556.5 225.8h1M606.6 210.0h1M582.1 234.3h1M607.2 183.4h1M561.2 234.7h1M555.5 220.3h1M567.8 206.9h1M580.0 239.2h1M581.0 191.4h1M606.8 188.0h1M608.9 200.6h1M581.1 238.0h1M581.9 234.2h1M611.1 193.0h1M601.5 181.8h1M582.0 237.0h1M562.6 238.4h1M576.9 197.8h1M584.1 192.4h1M605.6 184.7h1M566.2 205.3h1M562.0 214.0h1M599.5 218.2h1M602.2 184.3h1M607.8 195.0h1M580.0 238.7h1M590.7 228.0h1M565.0 208.5h1M563.5 213.0h1M580.2 236.3h1M597.6 182.5h1M563.0 214.1h1M606.2 184.5h1M579.1 236.8h1M594.2 224.0h1M591.0 229.2h1M596.8 220.9h1M582.1 238.0h1M571.6 201.8h1M555.4 229.4h1M558.4 222.9h1M603.1 212.5h1M599.1 218.6h1M601.6 182.7h1M585.2 190.6h1M604.3 211.8h1M560.1 234.9h1M580.8 238.5h1M567.3 240.3h1M608.3 200.9h1M583.4 193.8h1M600.6 220.1h1M599.5 221.0h1M557.0 230.6h1M562.9 236.4h1M570.7 200.9h1M588.3 188.0h1M560.3 235.6h1M560.2 232.7h1M557.4 225.6h1M560.5 215.3h1M603.1 184.9h1M607.6 192.8h1M565.3 236.1h1M562.5 234.5h1M607.0 187.8h1M603.5 213.6h1M597.6 183.3h1M559.7 230.2h1M584.7 189.2h1M587.7 232.7h1M581.7 236.6h1M579.5 196.4h1M597.0 183.0h1M563.0 235.1h1M608.1 204.6h1M563.5 238.4h1M583.5 192.2h1M605.7 211.7h1M570.2 204.3h1M608.2 192.2h1M588.0 230.5h1M599.1 185.2h1M601.3 184.3h1M593.6 227.5h1M608.6 194.0h1M583.6 189.3h1M561.5 213.3h1M562.3 209.9h1M578.7 195.4h1M576.6 198.1h1M555.7 228.6h1M558.4 225.4h1M603.9 214.1h1M574.6 198.6h1M561.2 211.1h1M601.8 217.0h1M594.2 185.4h1M568.7 206.8h1M609.9 198.6h1M570.9 241.9h1M600.2 221.0h1M557.5 223.2h1M577.5 197.9h1M569.2 206.1h1M607.8 197.4h1M588.1 187.1h1M573.8 196.6h1M557.8 220.1h1M598.5 218.2h1M596.7 182.9h1M594.3 184.0h1M578.6 236.2h1M561.7 215.2h1M558.4 222.9h1M590.9 185.3h1M586.9 191.4h1M607.3 183.4h1M595.6 225.2h1M608.8 195.2h1M610.2 196.3h1M569.6 205.7h1M565.4 208.3h1M583.0 235.6h1M587.5 190.3h1M608.9 193.4h1M595.5 222.3h1M599.8 185.2h1M569.5 241.1h1M606.4 184.0h1M594.1 226.1h1M604.5 210.1h1M594.5 227.8h1M608.1 201.5h1M557.4 221.7h1M587.9 232.6h1M596.4 226.4h1M566.0 240.4h1M581.1 194.2h1M607.0 196.7h1M556.3 227.7h1M588.8 188.8h1M558.3 215.6h1M556.1 228.6h1M605.6 206.5h1M593.3 186.4h1M562.3 233.1h1M576.7 237.4h1M565.7 204.5h1M578.9 194.4h1M606.4 210.6h1M593.2 228.3h1M602.8 212.8h1M558.1 233.8h1M608.3 204.2h1M554.8 222.4h1M608.8 200.1h1M583.3 234.2h1M567.2 206.1h1M582.4 234.9h1M560.6 213.4h1M606.0 184.7h1M561.5 213.1h1M586.1 231.0h1M603.5 210.8h1M592.7 186.3h1M610.3 192.6h1M601.8 213.8h1M563.4 213.7h1M557.8 217.4h1M567.5 238.3h1M570.4 201.7h1M572.2 202.8h1M606.6 198.0h1M609.3 194.1h1M586.2 235.0h1M560.0 213.8h1M590.3 185.5h1M557.7 216.8h1M607.2 195.7h1M608.6 195.0h1M605.6 207.0h1M608.6 194.7h1M581.6 234.3h1M573.7 197.8h1M610.0 198.5h1M560.8 215.2h1M568.4 239.3h1M564.1 211.0h1M599.6 217.6h1M588.7 233.2h1M606.0 206.7h1M600.5 215.5h1M557.3 231.2h1M565.3 208.6h1M567.7 238.0h1M608.2 192.1h1M590.6 188.6h1M574.9 241.2h1M607.3 198.4h1M558.5 221.4h1M600.2 181.5h1M575.2 200.0h1M557.8 231.4h1M587.0 188.0h1M580.4 235.0h1M588.9 232.4h1M608.3 187.5h1M590.8 229.4h1M555.2 228.4h1M572.2 200.7h1M579.5 239.0h1M610.8 196.9h1M561.6 232.2h1M569.0 202.7h1M609.2 186.3h1M568.5 202.3h1M575.8 239.6h1M556.1 230.1h1M594.6 184.1h1M587.2 190.1h1M610.7 193.9h1M591.1 186.3h1M590.1 187.2h1M594.6 223.4h1M581.2 237.5h1M608.4 196.5h1M596.8 220.6h1M592.1 230.9h1M557.9 222.6h1M555.6 222.6h1M584.9 233.8h1M593.3 227.3h1M573.4 239.5h1M602.4 215.0h1M578.8 236.2h1M597.2 184.8h1M607.1 199.6h1M588.5 187.6h1M557.4 226.5h1M591.9 227.0h1M590.7 227.5h1M588.3 186.5h1M567.5 205.7h1M572.2 239.5h1M607.0 183.6h1M558.8 214.0h1M601.4 182.6h1M599.3 185.5h1M604.7 214.3h1M579.6 238.0h1M571.2 239.4h1M601.8 212.1h1M560.2 230.5h1M571.7 239.2h1M610.2 196.3h1M607.8 205.2h1M591.6 228.9h1M557.1 221.6h1M597.5 184.3h1M587.4 231.2h1M590.4 230.6h1M566.3 238.7h1M600.1 219.0h1M589.3 230.3h1M564.6 210.9h1M571.6 242.8h1M572.9 200.3h1M584.0 193.5h1M606.0 183.6h1M577.3 195.2h1M557.6 219.9h1M564.0 239.3h1M606.7 189.8h1M608.2 203.1h1M597.7 182.2h1M595.7 225.6h1M557.7 216.3h1M570.3 242.5h1M557.6 230.6h1M559.2 220.8h1M569.1 239.6h1M568.5 239.9h1M608.8 188.3h1M610.2 195.7h1M589.1 231.1h1M593.3 228.8h1M560.7 218.1h1M584.2 193.1h1M559.1 219.0h1M587.9 190.5h1M573.5 239.7h1M579.8 236.6h1M604.7 207.3h1M575.1 238.5h1M607.0 197.8h1M601.6 213.1h1M607.6 198.8h1M575.1 195.6h1M561.3 232.1h1M600.0 181.7h1M556.9 231.4h1M582.1 235.1h1M571.5 239.0h1M610.8 196.9h1M556.0 221.8h1M576.9 240.1h1M580.7 234.7h1M581.1 239.0h1M597.0 184.6h1M555.0 228.7h1M571.3 239.8h1M584.4 234.4h1M561.4 213.3h1M591.0 226.7h1M565.3 207.0h1M584.6 189.2h1M584.0 191.4h1M597.2 182.7h1M582.9 233.6h1M559.6 214.4h1M607.6 189.2h1M602.9 184.1h1M580.3 195.2h1M568.7 201.1h1M559.8 214.9h1M560.5 215.1h1M564.7 237.6h1M576.5 194.9h1M600.0 217.9h1M582.0 234.0h1M568.6 201.5h1M575.7 197.3h1M600.3 217.6h1M592.0 187.3h1M608.8 204.2h1M593.4 228.5h1M555.6 229.1h1M564.4 237.7h1M610.2 196.0h1M580.6 239.4h1M563.4 213.6h1M556.8 217.8h1M609.6 201.8h1M598.3 184.9h1M607.7 187.0h1M591.3 187.3h1M608.0 206.9h1M556.8 218.8h1M588.6 229.3h1M579.5 236.2h1M564.0 234.7h1M593.4 185.7h1M594.3 226.5h1M600.2 222.0h1M559.3 229.0h1M604.1 208.3h1M604.8 210.5h1M557.2 216.7h1M608.3 200.7h1M565.0 210.5h1M606.3 201.4h1M589.8 228.0h1M560.1 212.2h1M556.6 220.4h1M581.6 193.9h1M594.4 184.9h1M602.4 183.4h1M603.8 207.8h1M564.7 238.9h1M555.7 224.7h1M573.5 239.4h1M560.6 235.8h1M602.1 217.8h1M591.1 186.2h1M564.3 212.1h1M606.2 200.8h1M581.3 236.1h1M587.3 231.3h1M583.7 190.3h1M569.6 203.2h1M598.0 218.4h1M561.9 209.5h1M560.8 233.3h1M562.3 211.2h1M602.2 183.6h1M555.5 224.1h1M608.5 191.3h1M605.6 184.0h1M605.5 185.2h1M568.3 207.3h1M590.2 231.4h1M562.6 236.5h1M569.3 202.4h1M557.3 233.0h1M565.0 211.0h1M581.1 239.0h1M560.0 213.3h1M591.4 230.4h1M599.6 221.3h1M588.4 188.9h1M585.9 233.4h1M608.8 194.4h1M585.3 190.9h1M566.4 241.3h1M569.4 238.4h1M594.6 225.2h1M589.0 230.0h1M582.3 190.1h1M594.0 225.4h1M608.1 190.9h1M581.1 234.3h1M568.0 206.3h1M607.7 196.5h1M568.9 204.2h1M610.0 197.1h1M556.4 219.3h1M600.7 217.5h1M574.8 195.9h1M607.4 204.9h1M585.5 233.0h1M604.2 183.1h1M587.0 233.6h1M558.1 225.1h1M587.4 229.6h1M595.4 227.3h1M606.3 208.7h1M556.2 225.1h1M574.7 200.0h1M578.0 195.8h1M594.8 228.4h1M589.4 186.5h1M593.2 185.0h1M564.2 209.8h1M565.6 210.1h1M570.3 200.3h1M563.0 212.0h1M560.1 215.7h1M610.8 193.6h1M557.8 232.3h1M608.9 196.8h1M574.1 197.0h1M606.1 186.5h1M609.1 192.1h1M607.1 197.0h1M559.9 219.3h1M600.2 215.1h1M604.7 211.9h1M563.4 208.5h1M609.6 189.2h1M609.6 192.5h1M566.0 208.8h1M587.6 233.7h1M608.6 202.1h1M585.2 188.7h1M588.1 229.1h1M598.6 220.8h1M607.3 189.9h1M604.5 214.3h1M595.8 183.0h1M608.2 189.6h1M561.2 216.3h1M606.2 209.0h1M557.6 231.5h1M601.3 214.7h1M595.7 225.2h1M610.2 199.5h1M570.8 203.1h1M607.4 188.2h1M563.6 238.3h1M582.8 237.5h1M602.3 213.8h1M568.1 207.0h1M574.7 240.9h1M572.6 241.0h1M589.6 230.0h1M584.0 190.7h1M572.2 200.3h1M588.1 189.8h1M576.4 198.6h1M599.6 222.7h1M577.9 194.2h1M568.6 204.2h1M604.6 204.7h1M574.8 198.6h1M607.7 194.2h1M560.9 231.3h1M564.7 238.7h1M602.9 184.6h1M557.2 223.9h1M559.4 214.6h1M592.4 227.4h1M604.2 183.3h1M601.2 219.1h1M607.8 196.1h1M562.1 214.3h1M585.1 234.3h1M608.1 205.3h1M565.7 236.5h1M606.7 186.9h1M579.1 195.3h1M594.7 223.9h1M569.5 200.6h1M566.1 209.8h1M568.6 206.2h1M582.2 237.8h1M598.1 222.7h1M559.2 213.5h1M570.3 203.3h1M587.1 191.3h1M597.5 225.4h1M587.1 188.5h1M588.9 189.2h1M603.0 211.0h1M579.2 193.6h1M573.3 197.3h1M576.7 241.0h1M581.3 194.7h1M596.4 186.1h1M561.6 215.7h1M568.6 206.9h1M557.4 221.0h1M577.4 196.0h1M607.9 191.4h1M568.6 239.4h1M607.0 207.0h1M568.9 205.1h1M590.6 227.8h1M564.6 238.0h1M601.2 214.5h1M589.7 188.9h1M558.4 229.9h1M604.6 183.1h1M606.2 205.9h1M580.3 235.4h1M584.9 190.6h1M587.4 189.3h1M584.0 193.0h1M608.7 193.3h1M561.3 231.9h1M603.6 212.8h1M576.8 198.4h1M607.8 187.0h1M558.5 230.8h1M558.3 223.9h1M581.0 193.0h1M593.8 224.3h1M575.5 238.9h1M582.7 192.0h1M578.4 193.8h1M560.8 213.9h1M569.7 240.1h1M585.1 189.4h1M580.2 239.7h1M563.4 207.6h1M575.8 241.3h1M607.8 199.8h1M608.9 190.1h1M557.7 223.1h1M604.2 208.7h1M607.1 196.7h1M556.9 221.1h1M599.6 219.9h1M579.5 239.6h1M596.0 184.1h1M599.3 222.7h1M600.3 218.6h1M605.1 185.0h1M606.2 206.0h1M562.4 215.5h1M606.0 208.8h1M561.1 236.4h1M557.1 220.3h1M574.2 242.2h1M560.5 233.5h1M579.5 192.5h1M566.8 238.2h1M598.9 183.5h1M592.8 229.3h1M573.9 241.8h1M587.7 190.8h1M577.9 196.3h1M602.2 213.1h1M574.4 239.9h1M569.9 242.3h1M603.5 211.4h1M571.7 203.3h1M560.6 215.0h1M598.9 185.8h1M591.6 184.7h1M597.0 221.7h1M561.9 237.0h1M590.7 188.1h1M556.3 226.8h1M603.9 183.9h1M603.6 209.0h1M598.4 224.0h1M584.0 189.8h1M596.3 224.7h1M591.1 188.8h1M588.0 233.5h1M594.4 187.0h1M601.2 220.3h1M566.5 207.1h1M567.3 205.2h1M607.0 205.2h1M606.7 198.9h1M605.4 203.4h1M580.4 239.1h1M557.8 232.3h1M562.3 215.0h1M556.6 221.3h1M584.5 234.6h1M556.8 230.7h1M603.7 211.8h1M607.8 183.5h1M597.2 225.6h1M578.3 239.6h1M609.2 197.1h1M570.6 238.8h1M604.6 182.7h1M607.1 209.0h1M603.4 182.4h1M593.9 226.8h1M586.7 188.0h1M597.2 221.6h1M560.7 217.7h1M566.0 240.2h1M608.6 190.4h1M565.3 236.6h1M606.6 201.3h1M608.2 199.8h1M561.8 233.6h1M558.7 216.9h1M594.7 185.9h1M591.4 227.2h1M591.9 187.3h1M569.9 203.8h1M607.2 189.5h1M578.9 237.2h1M565.3 236.1h1M602.6 184.3h1M609.4 197.8h1M564.6 239.8h1M556.9 219.3h1M586.4 189.4h1M604.8 212.7h1M586.2 235.4h1M561.1 237.2h1M556.7 225.9h1M606.9 187.0h1M561.8 209.7h1M607.4 184.2h1M557.8 226.6h1M587.5 230.9h1M576.0 238.2h1M565.6 205.3h1M557.9 224.9h1M590.8 228.3h1M567.3 239.4h1M581.4 235.0h1M599.6 184.5h1M579.3 194.6h1M586.9 234.4h1M604.6 206.1h1M610.2 191.1h1M602.9 214.0h1M566.8 238.8h1M559.6 220.1h1M606.4 204.5h1M556.8 221.8h1M559.1 216.6h1M596.0 221.9h1M596.4 223.9h1M562.7 237.5h1M568.0 241.1h1M607.1 203.4h1M559.0 218.8h1M566.5 209.1h1M564.3 210.4h1M566.6 204.3h1M607.6 186.4h1M576.5 194.4h1M558.0 228.5h1M600.1 182.5h1M560.0 215.1h1M608.4 197.0h1M566.0 208.4h1M608.4 197.7h1M607.1 196.9h1M575.0 195.5h1M557.2 228.5h1M555.1 227.9h1M607.7 191.5h1M594.1 223.8h1M558.9 233.0h1M572.1 201.8h1M590.0 232.2h1M592.0 185.3h1M608.2 198.5h1M603.3 214.7h1M595.2 223.0h1M598.1 184.3h1M586.9 233.5h1M601.8 181.5h1M573.1 240.8h1M569.4 204.1h1M606.5 188.5h1M591.7 227.1h1M557.1 221.2h1M585.1 232.1h1M581.9 190.3h1M598.3 224.9h1M603.0 217.0h1M581.6 191.4h1M585.0 191.2h1M569.4 204.0h1M603.0 210.6h1M579.0 194.5h1M587.8 231.1h1M598.3 219.6h1M567.5 205.2h1M575.7 240.0h1M597.8 220.6h1M594.9 183.9h1M586.8 234.2h1M554.8 224.3h1M609.6 192.2h1M583.4 190.0h1M559.0 233.8h1M557.3 229.3h1M558.7 227.5h1M568.4 202.2h1M557.0 228.4h1M570.0 240.1h1M607.5 200.8h1M558.1 230.5h1M572.9 197.0h1M569.4 239.7h1M590.4 228.0h1M596.7 182.6h1M610.4 194.7h1M576.5 197.1h1M607.5 199.3h1M599.3 218.5h1M604.0 183.4h1M593.8 229.0h1M591.3 230.1h1M566.3 207.6h1M597.7 184.6h1M608.8 193.7h1M565.9 210.4h1M603.8 183.9h1M576.6 241.5h1M555.1 224.7h1M569.9 239.9h1M570.4 239.1h1M595.9 183.6h1M603.4 209.4h1M583.7 236.8h1M598.3 183.5h1M609.4 188.2h1M608.2 193.0h1M568.1 239.0h1M598.7 224.4h1M557.5 219.4h1M598.4 183.4h1M605.9 182.7h1M573.5 197.6h1M565.4 236.7h1M572.6 242.8h1M563.5 234.3h1M566.7 207.7h1M557.4 217.1h1M601.2 219.2h1M600.6 218.0h1M577.3 194.4h1M567.4 205.8h1M577.3 238.6h1M607.0 207.2h1M569.3 239.8h1M570.8 242.1h1M606.0 202.6h1M576.8 194.5h1M580.6 195.2h1M603.7 213.9h1M605.8 186.0h1M567.7 205.3h1M581.8 234.8h1M563.8 213.2h1M609.4 187.0h1M603.8 213.4h1M562.2 209.5h1M575.0 238.6h1M563.0 214.1h1M578.2 238.6h1M607.0 183.8h1M566.0 237.0h1M593.3 185.9h1M566.2 205.3h1M598.4 221.1h1M609.6 201.4h1M581.9 193.3h1M609.2 185.5h1M574.0 197.0h1M606.6 188.6h1M575.9 238.3h1M566.0 206.4h1M598.1 184.0h1M589.8 231.1h1M568.0 239.2h1M557.5 227.8h1M603.1 184.7h1M601.5 182.7h1M573.6 197.4h1M565.1 238.5h1M558.7 227.6h1M586.8 233.5h1M607.0 185.9h1M606.7 208.6h1M570.1 200.4h1M599.5 182.7h1M605.4 182.2h1M584.2 232.9h1M595.2 226.1h1M563.7 210.4h1M556.6 228.0h1M569.9 239.1h1M565.8 237.0h1M572.7 242.1h1M557.8 220.3h1M608.9 185.4h1M595.5 184.0h1M556.2 227.2h1M595.3 187.0h1M564.9 211.4h1M604.4 209.3h1M599.1 182.6h1M586.8 187.1h1M602.9 211.2h1M559.8 215.3h1M599.0 185.6h1M609.7 196.5h1M605.7 184.5h1M558.0 224.4h1M559.9 231.1h1M603.8 184.2h1M575.1 239.8h1M571.1 199.3h1M604.9 207.5h1M584.9 191.1h1M599.1 216.7h1M568.9 206.5h1M556.5 219.7h1M579.6 193.4h1M601.3 217.4h1M558.5 219.6h1M573.5 240.6h1M605.9 209.3h1M557.2 226.7h1M570.9 200.6h1M599.6 219.6h1M604.1 185.0h1M563.0 238.0h1M587.7 233.7h1M557.7 223.7h1M607.9 198.5h1M606.3 209.8h1M562.5 234.6h1M557.8 224.0h1M606.4 203.2h1M568.1 204.0h1M580.1 194.9h1M590.1 186.4h1M588.2 232.6h1M573.7 199.6h1M566.4 208.3h1M596.7 184.4h1M568.3 238.8h1M588.2 232.0h1M581.1 236.4h1M609.4 194.2h1M570.6 203.3h1M555.2 228.0h1M609.7 191.6h1M580.8 237.1h1M592.2 226.4h1M606.0 206.4h1M579.5 193.5h1M572.6 242.0h1M600.1 216.6h1M606.4 187.6h1M580.3 238.6h1M600.0 222.3h1M557.4 231.1h1M608.7 187.0h1M572.0 199.5h1M607.7 197.9h1M578.6 195.4h1M581.2 195.3h1M596.5 226.8h1M605.0 183.6h1M590.9 231.6h1M566.1 237.8h1M607.3 182.8h1M564.1 237.5h1M590.2 230.2h1M608.0 191.6h1M600.8 183.3h1M557.9 227.4h1M580.0 239.4h1M567.9 237.7h1M598.8 182.9h1M603.6 212.6h1M576.2 240.0h1M592.2 229.5h1M597.5 184.9h1M582.5 193.2h1M602.6 211.9h1M559.4 234.4h1M556.3 230.9h1M560.0 235.6h1M581.3 235.0h1M569.1 238.7h1M597.4 182.5h1M608.9 201.1h1M606.2 187.7h1M607.9 197.1h1M588.7 232.6h1M571.0 201.0h1M579.0 236.8h1M607.1 187.3h1M600.6 216.0h1M600.9 183.4h1M560.0 217.7h1M580.2 193.7h1M570.8 204.3h1M595.1 184.5h1M609.8 195.1h1M562.0 235.4h1M608.0 202.6h1M608.3 186.8h1M584.2 234.2h1M600.3 218.2h1M570.6 204.1h1M599.7 222.1h1M566.3 204.5h1M569.6 205.3h1M603.8 181.7h1M556.5 226.1h1M610.1 199.6h1M555.6 221.6h1M588.2 230.4h1M573.7 199.7h1M573.1 199.0h1M593.3 184.4h1M608.4 199.8h1M598.1 223.3h1M563.4 238.5h1M595.1 225.7h1M563.1 213.0h1M581.6 193.4h1M607.1 206.3h1M593.8 185.5h1M565.5 205.8h1M579.9 193.2h1M563.0 234.9h1M575.0 198.9h1M592.4 225.7h1M607.5 200.5h1M572.2 199.9h1M579.4 192.9h1M596.8 186.2h1M556.0 219.3h1M572.4 240.6h1M596.3 184.6h1M572.0 241.3h1M565.8 236.9h1M559.0 229.2h1M597.8 185.7h1M571.9 240.7h1M565.9 206.2h1M608.7 204.6h1M607.7 200.5h1M603.9 185.0h1M603.4 212.1h1M569.8 199.8h1M567.0 207.5h1M588.3 229.5h1M559.3 217.2h1M588.2 230.4h1M606.8 186.9h1M576.0 238.7h1M576.1 198.5h1M558.8 232.2h1M592.8 225.3h1M557.9 220.2h1M596.5 222.6h1M558.2 227.8h1M566.6 207.1h1M606.2 210.2h1M607.1 192.1h1M557.5 223.4h1M554.8 224.4h1M558.5 217.5h1M608.0 194.1h1M555.4 227.1h1M567.9 202.9h1M607.4 191.3h1M602.1 214.7h1M594.8 224.6h1M567.4 205.5h1M587.3 187.5h1M606.2 210.0h1M606.6 209.9h1M610.6 197.3h1M584.6 190.1h1M600.8 183.4h1M600.0 183.5h1M567.8 240.4h1M566.9 238.4h1M583.2 236.2h1M583.2 235.0h1M557.9 230.2h1M566.1 209.3h1M565.7 205.0h1M560.2 234.8h1M568.2 206.2h1M575.5 197.3h1M588.1 231.6h1M589.9 231.6h1M555.8 219.5h1M609.6 196.0h1M567.8 203.4h1M557.4 226.1h1M574.9 196.8h1M578.8 195.1h1M567.1 240.2h1M585.9 231.3h1M571.0 203.9h1M566.2 240.9h1M584.2 232.6h1M599.8 185.4h1M587.7 232.1h1M572.9 201.9h1M582.2 236.1h1M579.5 195.9h1M601.6 218.8h1M592.4 184.3h1M576.1 198.8h1M560.4 231.8h1M564.9 235.4h1M582.0 236.8h1M592.3 226.3h1M596.2 227.2h1M578.2 237.6h1M566.2 208.1h1M586.9 231.7h1M593.8 185.4h1M605.8 209.1h1M584.7 188.6h1M558.6 216.0h1M569.8 240.1h1M575.7 198.4h1M601.0 181.8h1M579.9 192.5h1M577.0 196.8h1M581.3 194.0h1M560.1 234.0h1M558.1 224.0h1M571.4 242.0h1M557.3 225.4h1M603.6 209.8h1M572.4 200.6h1M606.3 205.3h1M556.9 218.2h1M556.9 227.0h1M585.2 233.1h1M559.7 215.5h1M605.6 205.8h1M558.1 222.2h1M585.2 235.9h1M601.6 217.9h1M608.9 191.1h1M572.6 201.0h1M585.3 232.1h1M607.6 198.7h1M608.5 191.3h1M604.6 207.6h1M610.0 188.4h1M588.0 189.3h1M559.0 218.9h1M579.7 239.6h1M570.0 200.6h1M579.0 235.8h1M592.3 186.6h1M577.6 236.7h1M602.4 210.4h1M562.5 236.8h1M609.7 196.4h1M595.6 222.8h1M589.1 189.9h1M608.8 193.4h1M595.5 225.8h1M583.1 236.4h1M574.8 199.9h1M602.1 182.8h1M566.1 241.0h1M566.0 239.5h1M592.2 230.7h1M561.7 235.9h1M556.3 230.3h1M600.9 182.7h1M573.1 240.9h1M602.7 182.3h1M586.2 190.9h1M591.7 228.3h1M568.8 202.4h1M569.9 242.5h1M592.2 226.3h1M574.9 197.4h1M565.1 207.5h1M607.7 187.9h1M561.4 213.4h1M563.4 212.3h1M564.9 206.3h1M587.8 231.3h1M566.6 238.6h1M556.2 227.4h1M558.5 231.5h1M584.2 192.9h1M561.2 211.0h1M610.1 199.6h1M607.9 205.6h1M579.9 191.5h1M588.8 230.7h1M566.7 237.5h1M598.7 183.8h1M596.9 224.3h1M584.7 236.0h1M557.3 219.5h1M600.7 183.0h1M572.0 202.4h1M605.5 202.7h1M571.3 240.4h1M601.4 217.1h1M609.6 194.0h1M608.2 201.6h1M605.7 187.0h1M601.8 181.9h1M563.2 211.6h1M572.4 198.0h1M557.3 219.0h1M581.7 190.5h1M582.6 189.6h1M563.4 210.9h1M574.3 240.7h1M601.5 216.4h1M561.8 234.9h1M593.8 225.7h1M598.6 184.8h1M568.4 206.4h1M603.2 215.3h1M572.9 202.1h1M590.8 188.3h1M560.0 234.4h1M604.6 208.5h1M603.8 183.1h1M601.4 184.0h1M580.6 238.9h1M577.9 237.6h1M568.9 240.7h1M589.8 229.8h1M590.5 229.1h1M595.2 184.7h1M575.3 198.6h1M595.8 184.2h1M589.6 232.2h1M584.7 191.2h1M590.6 230.1h1M583.9 232.7h1M596.8 223.8h1M567.5 241.6h1M607.4 186.9h1M610.5 190.4h1M578.4 237.2h1M559.3 212.9h1M596.6 182.6h1M606.6 188.8h1M555.6 227.0h1M585.9 234.7h1M586.5 234.8h1M574.8 238.7h1M604.8 184.2h1M591.1 228.2h1M558.3 233.8h1M555.5 221.9h1M564.1 213.0h1M580.5 196.0h1M610.4 189.7h1M567.9 206.4h1M608.6 200.5h1M590.7 189.5h1M594.8 184.9h1M584.4 191.6h1M593.1 184.7h1M600.7 181.6h1M607.1 203.9h1M576.3 239.8h1M584.4 233.8h1M559.5 230.3h1M582.1 237.7h1M608.6 194.9h1M576.6 194.0h1M573.2 241.7h1M601.8 184.9h1M572.0 240.6h1M599.4 218.0h1M603.9 183.1h1M562.0 213.2h1M571.1 239.7h1M559.6 233.4h1M572.1 202.6h1M593.1 188.2h1M575.3 240.9h1M556.4 229.0h1M603.8 184.1h1M564.0 235.8h1M597.5 223.3h1M569.2 201.6h1M595.3 225.2h1M602.8 214.0h1M578.6 236.4h1M565.8 210.0h1M587.4 232.0h1M582.7 191.6h1M585.1 190.5h1M580.5 239.5h1M574.0 198.7h1M607.2 190.2h1M610.4 199.1h1M603.7 208.4h1M560.3 235.1h1M593.3 227.0h1M579.3 195.1h1M578.6 239.8h1M585.3 231.8h1M598.7 223.1h1M561.0 212.3h1M571.9 199.6h1M560.2 213.3h1M601.3 184.0h1M570.6 199.4h1M595.4 226.0h1M607.3 208.3h1M588.1 190.3h1M558.9 216.6h1M569.1 242.2h1M582.8 235.3h1M599.1 220.9h1M588.3 230.2h1M595.1 186.2h1M608.6 184.7h1M602.8 215.9h1M577.5 239.5h1M609.8 197.9h1M602.7 182.6h1M603.3 210.1h1M557.4 216.0h1M603.1 184.5h1M565.6 236.7h1M568.7 204.6h1M607.4 202.3h1M591.1 186.4h1M556.8 224.2h1M557.6 224.6h1M573.0 199.8h1M563.6 208.6h1M556.4 219.5h1M585.2 234.2h1M603.7 211.7h1M577.5 194.2h1M578.2 238.2h1M605.5 205.7h1M572.5 200.1h1M558.6 229.1h1M607.7 193.2h1M583.6 232.5h1M566.2 209.5h1M559.3 231.5h1M606.8 184.5h1M560.9 232.0h1M559.2 214.9h1M607.3 183.5h1M582.3 235.1h1M573.5 200.2h1M584.0 190.1h1M558.2 218.1h1M582.1 193.5h1M593.8 185.6h1M582.0 234.2h1M556.7 228.5h1M565.4 207.1h1M579.0 192.5h1M568.2 205.5h1M588.6 233.0h1M566.6 239.0h1M601.7 183.8h1M601.0 182.7h1M560.1 233.7h1M584.7 234.4h1M609.4 191.6h1M556.6 224.4h1M563.0 213.1h1M587.5 234.2h1M593.8 224.2h1M557.9 220.1h1M561.6 213.6h1M568.9 242.1h1M559.2 217.3h1M608.3 204.9h1M558.8 230.1h1M605.4 202.7h1M567.8 203.0h1M608.2 187.5h1M591.6 185.4h1M579.3 192.7h1M554.9 226.7h1M558.8 220.7h1M607.4 204.7h1M574.8 199.1h1M610.5 191.5h1M592.9 227.4h1M591.6 228.9h1M561.0 235.8h1M592.9 227.5h1M570.4 238.9h1M604.0 184.0h1M589.0 186.1h1M605.7 206.6h1M558.2 230.8h1M599.5 182.8h1M557.9 228.1h1M588.2 233.1h1M592.3 184.2h1M585.7 231.5h1M591.5 229.6h1M608.0 199.4h1M603.0 210.3h1M601.4 217.4h1M596.7 220.4h1M565.1 205.3h1M606.9 183.3h1M580.2 194.1h1M567.4 208.1h1M557.9 220.1h1M564.1 239.7h1M558.9 233.7h1M606.7 203.4h1M585.6 233.7h1M587.3 233.4h1M566.3 204.1h1M604.4 181.8h1M609.9 201.0h1M596.1 184.9h1M606.1 184.4h1M558.4 233.1h1M585.7 234.4h1M609.1 203.0h1M569.3 239.0h1M605.0 186.0h1M594.0 224.7h1M599.0 182.7h1M592.8 187.7h1M563.9 236.3h1M557.9 216.3h1M588.3 231.9h1M585.2 188.5h1M600.8 182.6h1M607.6 186.0h1M596.8 223.5h1M602.4 213.5h1M605.7 182.1h1M599.8 220.1h1M576.3 238.7h1M599.2 184.0h1M605.9 183.8h1M608.1 197.8h1M594.2 225.3h1M556.2 230.6h1M555.7 225.5h1M600.4 181.4h1M566.8 204.7h1M588.6 188.3h1M581.3 191.0h1M558.2 216.6h1M592.9 187.9h1M603.5 184.3h1M563.2 237.5h1M585.6 191.7h1M602.8 183.4h1M562.2 237.6h1M584.9 188.3h1M607.2 200.1h1M573.6 241.2h1M565.6 206.4h1M587.8 233.1h1M566.2 207.4h1M575.2 197.4h1M589.2 187.7h1M562.3 237.4h1M562.9 209.3h1M600.5 216.8h1M577.4 240.3h1M555.7 224.4h1M558.4 224.0h1M555.5 228.7h1M608.7 192.1h1M588.3 188.8h1M607.5 196.8h1M557.0 226.9h1M581.0 191.5h1M585.3 232.0h1M600.9 184.6h1M585.7 232.5h1M576.9 237.6h1M608.0 200.0h1M557.2 222.3h1M556.9 224.3h1M566.0 237.6h1M597.3 219.8h1M586.1 234.8h1M570.2 240.6h1M608.8 186.9h1M594.2 224.3h1M572.3 198.0h1M606.1 202.6h1M574.6 241.2h1M570.2 239.5h1M600.2 184.7h1M571.3 240.0h1M610.8 191.5h1M589.8 187.1h1M594.3 227.9h1M592.8 228.8h1M580.7 191.7h1M580.4 238.8h1M567.8 203.0h1M578.7 237.0h1M595.9 227.3h1M555.2 225.2h1M607.5 194.6h1M605.4 205.0h1M580.0 239.1h1M560.3 233.9h1M605.7 209.8h1M606.2 210.7h1M588.6 229.3h1M560.5 211.9h1M606.7 203.4h1M598.7 219.7h1M565.9 207.2h1M603.0 181.0h1M592.2 230.7h1M564.0 208.4h1M572.4 239.1h1M586.2 189.5h1M592.1 186.7h1M557.9 227.2h1M591.3 228.2h1M597.2 224.1h1M572.3 241.1h1M607.3 183.9h1M593.0 225.4h1M579.4 236.8h1M562.1 235.8h1M601.3 185.0h1M601.7 184.4h1M604.4 210.7h1M598.9 222.2h1M589.3 228.8h1M585.3 233.2h1M593.5 186.1h1M593.2 185.4h1M587.3 234.5h1M558.7 217.7h1M579.8 239.8h1M576.1 241.0h1M605.9 187.7h1M589.8 230.0h1M606.3 205.7h1M582.9 189.7h1M601.1 217.8h1M592.6 187.5h1M608.0 191.7h1M555.5 225.7h1M601.5 219.8h1M608.1 195.0h1M563.8 237.4h1M571.2 202.2h1M601.0 213.7h1M571.6 239.9h1M603.5 210.4h1M608.4 186.6h1M598.3 183.8h1M564.7 205.8h1M575.7 198.3h1M599.3 219.5h1M597.8 185.1h1M608.6 192.2h1M608.3 199.8h1M577.1 198.2h1M578.0 237.0h1M603.5 208.8h1M600.5 214.9h1M607.7 196.2h1M571.0 240.4h1M605.4 182.0h1M589.6 188.4h1M591.3 229.4h1M570.4 203.7h1M580.9 237.0h1M567.9 202.3h1M599.1 183.7h1M606.9 200.6h1M562.8 237.0h1M598.7 224.1h1M562.4 211.0h1M558.4 233.3h1M570.9 203.7h1M592.7 230.4h1M598.9 218.7h1M593.5 184.6h1M585.6 188.5h1M555.8 223.5h1M568.3 240.4h1M568.2 239.5h1M567.0 238.5h1M569.9 241.3h1M569.2 239.3h1M603.8 206.7h1M595.6 223.6h1M577.0 238.9h1M565.1 239.7h1M586.3 190.1h1M559.2 217.1h1M593.7 185.7h1M583.9 232.4h1M555.2 221.2h1M571.6 239.4h1M592.6 230.0h1M577.7 239.3h1M574.3 198.2h1M571.0 202.7h1M596.8 220.6h1M580.1 237.6h1M598.7 219.5h1M606.3 202.3h1M601.0 184.0h1M558.5 219.7h1M578.9 196.0h1M559.8 218.3h1M583.2 236.3h1M566.9 240.0h1M555.9 228.9h1M568.3 203.0h1M608.5 199.4h1M586.6 231.4h1M587.7 231.0h1M557.3 221.9h1M575.3 241.5h1M600.9 220.5h1M599.4 221.5h1M604.1 184.6h1M586.1 235.0h1M568.7 201.0h1M571.2 198.6h1M589.1 230.7h1M582.9 237.3h1M562.6 237.4h1M559.9 230.6h1M581.5 191.7h1M561.7 234.9h1M596.6 184.6h1M607.6 194.7h1M556.3 226.7h1M574.2 200.9h1M604.6 207.0h1M608.6 187.3h1M556.6 222.3h1M609.1 192.8h1M587.2 233.1h1M597.2 183.6h1M600.7 181.5h1M595.7 222.2h1M603.8 207.5h1M608.4 187.9h1M571.7 240.5h1M556.8 220.2h1M577.1 239.7h1M587.8 190.2h1M570.8 200.0h1M594.0 184.4h1M572.9 240.0h1M569.6 202.4h1M581.7 190.8h1M561.4 216.9h1M562.4 212.6h1M558.6 234.2h1M596.2 225.4h1M600.8 217.5h1M559.3 231.3h1M598.9 183.2h1M605.0 184.8h1M561.3 210.3h1M558.1 233.4h1M611.0 193.2h1M587.5 190.2h1M569.8 241.6h1M588.7 187.4h1M600.6 217.6h1M586.1 187.5h1M556.8 218.9h1M556.6 231.2h1M592.3 230.4h1M562.1 214.2h1M558.8 217.7h1M592.1 226.3h1M590.8 186.4h1M562.4 212.8h1M564.7 210.8h1M583.9 192.6h1M582.2 235.8h1M562.4 233.2h1M595.8 223.8h1M607.4 203.5h1M605.3 208.4h1M588.4 186.5h1M606.9 209.3h1M598.6 183.8h1M610.2 196.5h1M578.5 194.7h1M586.5 232.6h1M571.3 198.6h1M595.9 185.0h1M607.8 205.0h1M608.9 199.6h1M605.4 181.6h1M592.3 228.8h1M575.5 240.7h1M608.1 205.0h1M558.2 220.2h1M604.4 210.9h1M559.7 213.4h1M569.9 241.6h1M567.1 238.9h1M566.4 239.8h1M556.8 218.3h1M575.4 239.7h1M558.4 222.4h1M592.9 225.0h1M608.6 187.5h1M568.7 206.8h1M564.0 206.7h1M567.4 204.0h1M581.5 191.4h1M608.8 185.1h1M562.5 234.5h1M581.5 237.0h1M568.4 204.6h1M580.1 236.2h1M592.1 188.6h1M582.1 192.1h1M575.7 198.3h1M594.7 227.2h1M598.1 224.2h1M605.2 206.0h1M588.5 187.4h1M589.2 186.4h1M602.7 182.3h1M586.1 189.1h1M562.9 235.4h1M585.8 191.5h1M610.6 192.4h1M594.8 223.0h1M582.0 191.6h1M599.2 182.6h1M610.5 193.9h1M560.6 232.9h1M579.2 238.1h1M597.7 223.9h1M586.0 190.8h1M578.0 196.8h1M560.5 236.1h1M593.1 184.9h1M599.9 219.6h1M568.2 241.0h1M580.1 235.2h1M567.9 240.9h1M597.0 221.9h1M562.6 234.4h1M562.4 214.6h1M607.3 207.9h1M563.2 209.7h1M573.9 240.8h1M562.1 235.3h1M579.5 196.4h1M606.1 184.2h1M566.5 240.6h1M573.9 198.3h1M589.3 186.5h1M566.7 203.6h1M587.9 232.9h1M608.1 193.7h1M582.7 193.3h1M608.2 184.0h1M558.8 230.9h1M603.8 211.4h1M596.0 227.4h1M606.3 185.1h1M597.2 185.8h1M593.1 187.3h1M562.7 208.8h1M610.3 188.3h1M608.0 190.2h1M575.9 240.5h1M603.9 182.5h1M590.9 231.6h1M604.5 185.3h1M569.9 240.1h1M604.2 207.8h1M588.5 190.6h1M562.9 234.8h1M570.3 204.3h1M566.7 238.9h1M590.0 229.5h1M586.3 230.4h1M602.5 216.0h1M562.4 214.7h1M605.0 212.9h1M606.1 200.8h1M564.9 209.5h1M594.8 227.3h1M573.2 240.9h1M572.9 200.7h1M604.5 210.4h1M569.8 205.4h1M605.5 210.9h1M560.1 216.0h1M589.2 188.2h1M593.6 228.2h1M559.5 216.2h1M556.5 220.7h1M577.8 197.9h1M601.1 216.6h1M596.2 223.9h1M575.4 195.1h1M567.6 206.7h1M607.4 206.3h1M594.6 228.6h1M595.9 222.7h1M564.1 207.6h1M575.4 241.3h1M570.6 201.0h1M610.2 195.3h1M576.8 240.2h1M597.6 184.7h1M607.0 206.4h1M573.9 240.6h1M559.4 233.6h1M566.6 208.4h1M570.6 239.2h1M606.7 207.4h1M602.6 215.4h1M572.2 241.6h1M590.9 228.6h1M576.5 197.9h1M591.0 227.3h1M566.2 208.2h1M590.9 186.1h1M594.0 183.6h1M558.6 220.3h1M583.4 191.9h1M559.0 233.4h1M577.1 196.4h1M607.9 203.7h1M594.5 184.7h1M572.3 201.2h1M559.5 229.5h1M590.9 228.8h1M571.1 240.6h1M606.0 185.9h1M586.9 231.6h1M578.0 237.9h1M592.1 187.9h1M590.8 188.9h1M561.4 233.5h1M565.4 237.4h1M591.6 230.1h1M581.5 237.1h1M591.2 227.6h1M560.4 216.1h1M579.7 195.4h1M562.2 235.5h1M581.3 192.6h1M604.1 184.1h1M596.6 226.8h1M564.0 238.5h1M609.6 193.4h1M592.0 188.0h1M602.4 214.8h1M608.3 194.8h1M607.2 192.1h1M607.3 185.7h1M567.9 205.0h1M564.1 238.4h1M609.8 193.5h1M556.8 224.6h1M571.9 241.8h1M590.3 231.6h1M609.9 188.2h1M567.1 208.2h1M569.2 242.4h1M575.2 239.6h1M561.0 231.5h1M563.9 236.0h1M607.4 203.0h1M555.7 228.0h1M564.2 236.5h1M575.3 242.2h1M558.4 218.0h1M592.8 187.7h1M584.5 191.7h1M596.9 226.4h1M587.3 231.9h1M606.7 206.1h1M594.5 228.5h1M576.5 241.1h1M565.0 206.5h1M582.3 193.4h1M596.9 183.6h1M569.4 205.4h1M565.3 211.0h1M599.0 223.0h1M583.2 189.9h1M603.8 183.6h1M577.0 239.5h1M601.1 183.7h1M570.1 200.8h1M606.6 199.1h1M610.0 191.3h1M569.0 203.8h1M587.6 191.0h1M605.0 205.6h1M572.7 241.6h1M580.9 234.7h1M607.9 185.4h1M605.8 182.1h1M600.0 221.1h1M593.2 184.5h1M570.2 201.0h1M599.3 221.3h1M571.7 242.4h1M608.7 186.1h1M566.6 204.1h1M575.1 197.8h1M585.5 233.6h1M562.9 234.1h1M559.7 235.2h1M586.2 189.2h1M589.2 229.7h1M561.7 212.9h1M583.3 193.7h1M582.5 237.6h1M607.4 184.7h1M575.8 240.5h1M604.1 213.6h1M599.7 185.5h1M566.7 241.4h1M601.8 219.1h1M583.6 190.8h1M565.6 210.0h1M586.9 187.9h1M577.2 239.5h1M607.6 189.2h1M605.3 182.9h1M559.4 233.8h1M586.1 191.7h1M556.4 225.6h1M561.4 233.2h1M604.1 184.5h1M574.6 239.8h1M577.4 194.6h1M602.1 212.8h1M606.2 207.7h1M586.4 190.4h1M578.8 239.5h1M604.8 210.9h1M556.4 225.9h1M607.0 183.4h1M574.5 200.2h1M604.6 183.3h1M597.3 221.9h1M600.8 218.2h1M581.5 234.2h1M609.1 186.8h1M568.3 202.1h1M576.0 238.1h1M596.4 222.5h1M567.9 240.1h1M565.8 205.6h1M566.5 203.6h1M598.2 224.8h1M606.1 207.6h1M604.2 215.2h1M583.1 193.9h1M560.9 215.6h1M584.4 188.8h1M558.6 229.1h1M595.5 185.3h1M589.6 228.0h1M601.1 214.6h1M569.0 239.7h1M591.2 230.6h1M596.5 185.5h1M602.1 181.6h1M598.7 222.3h1M592.2 185.7h1M577.1 193.9h1M582.7 237.9h1M610.3 192.7h1M560.6 235.6h1M605.4 186.6h1M599.2 223.4h1M606.5 188.1h1M556.7 224.2h1M569.4 240.5h1M596.9 222.4h1M559.0 228.2h1M610.0 198.9h1M565.6 240.8h1M560.8 232.1h1M598.8 185.8h1M568.3 202.5h1M557.2 230.0h1M563.8 212.6h1M558.2 230.1h1M555.7 225.9h1M565.7 237.8h1M601.1 219.7h1M590.4 229.4h1M581.5 195.0h1M562.6 214.5h1M556.2 229.0h1M609.4 186.1h1M558.6 230.6h1M555.8 228.7h1M558.6 228.8h1M569.0 240.3h1M561.3 234.1h1M561.2 232.9h1M558.7 230.6h1M586.4 191.6h1M560.4 213.5h1M573.5 200.5h1M609.8 201.6h1M573.5 240.8h1M559.9 235.3h1M563.1 210.7h1M565.9 206.7h1M568.4 238.3h1M582.0 237.8h1M608.4 199.4h1M586.2 232.7h1M584.0 233.3h1M599.1 218.8h1M557.0 228.0h1M559.5 219.9h1M571.8 240.9h1M557.1 226.7h1M607.8 188.1h1M575.6 199.2h1M604.0 182.7h1M602.1 182.9h1M557.1 221.6h1M557.6 226.4h1M585.7 187.9h1M556.6 231.6h1M583.1 193.7h1M589.3 230.2h1M560.4 233.7h1M590.1 231.1h1M606.7 187.3h1M586.8 231.8h1M562.7 209.7h1M607.4 189.0h1M588.5 231.5h1M585.3 188.8h1M566.4 206.5h1M605.4 203.5h1M600.0 184.9h1M567.2 205.5h1M593.4 184.9h1M588.9 189.1h1M605.3 184.2h1M604.2 212.3h1M592.9 229.5h1M602.1 213.4h1M589.1 187.0h1M608.4 191.2h1M610.3 194.7h1M584.2 189.9h1M605.2 212.4h1M592.2 230.1h1M609.9 187.2h1M583.8 235.3h1M576.2 198.2h1M557.2 230.7h1M557.3 225.9h1M555.4 227.5h1M572.4 201.9h1M582.2 192.9h1M577.1 194.0h1M597.0 186.4h1M609.7 197.7h1M607.1 193.0h1M566.4 205.2h1M556.8 231.5h1M557.2 223.5h1M603.7 184.3h1M565.9 206.3h1M591.1 186.4h1M575.9 241.8h1M602.5 181.3h1M556.6 225.4h1M572.9 199.1h1M559.6 218.4h1M566.2 237.3h1M561.0 235.6h1M579.9 191.7h1" fill="none" stroke="#c011bf" stroke-width="1" filter="url(#b3)"/>
</g>
<path d="M452.0 309.1h1.6M441.1 303.4h1.6M455.1 303.5h1.6M460.5 298.9h1.6M474.0 304.7h1.6M456.8 299.5h1.6M453.1 306.2h1.6M451.1 307.5h1.6M463.7 297.5h1.6M469.4 289.5h1.6M461.8 303.4h1.6M452.0 316.8h1.6M452.8 312.9h1.6M469.0 289.6h1.6M456.4 297.2h1.6M444.4 315.3h1.6M455.5 301.1h1.6M446.6 308.1h1.6M447.4 299.7h1.6M461.4 316.5h1.6M455.9 312.9h1.6M460.0 295.9h1.6M461.4 308.8h1.6M458.4 314.2h1.6M453.8 289.9h1.6M463.8 296.2h1.6M443.4 312.3h1.6M458.8 308.7h1.6M449.9 309.5h1.6M456.4 304.0h1.6M447.5 311.7h1.6M465.4 312.9h1.6M466.0 314.7h1.6M454.3 303.3h1.6M446.5 306.0h1.6M464.8 319.5h1.6M446.0 306.0h1.6M445.2 309.6h1.6M460.7 302.8h1.6M451.0 313.2h1.6M472.3 301.8h1.6M466.2 301.5h1.6M438.7 312.1h1.6M462.8 304.8h1.6M450.2 312.0h1.6M465.6 312.9h1.6M459.0 303.7h1.6M437.1 309.8h1.6M453.0 300.4h1.6M461.6 312.6h1.6M465.0 295.4h1.6M441.2 301.1h1.6M462.9 296.6h1.6M449.4 310.8h1.6M460.1 311.8h1.6M448.0 304.3h1.6M473.4 298.3h1.6M466.3 304.4h1.6M476.9 285.6h1.6M463.5 299.1h1.6M472.1 307.4h1.6M471.9 307.2h1.6M456.6 311.9h1.6M459.3 306.0h1.6M474.2 301.2h1.6M454.8 305.8h1.6M460.0 302.4h1.6M455.5 300.0h1.6M463.9 300.3h1.6M455.3 305.9h1.6M467.2 318.4h1.6M460.1 301.6h1.6M464.1 309.5h1.6M456.0 315.7h1.6M465.7 297.6h1.6M451.8 317.7h1.6M440.8 300.8h1.6M448.1 312.4h1.6M469.9 302.2h1.6M447.2 294.6h1.6M446.4 304.4h1.6M452.8 316.1h1.6M461.4 300.2h1.6M445.9 305.2h1.6M446.6 310.0h1.6M462.0 297.6h1.6M451.1 314.9h1.6M457.6 308.2h1.6M457.7 302.7h1.6M452.6 303.5h1.6M458.1 304.1h1.6M474.7 302.2h1.6M455.5 308.9h1.6M450.3 314.9h1.6M442.6 314.6h1.6M452.4 299.0h1.6M453.2 302.7h1.6M463.2 305.5h1.6M455.1 307.4h1.6M451.4 302.6h1.6M446.9 300.6h1.6M454.7 307.7h1.6M458.9 301.4h1.6M454.2 304.6h1.6M458.4 301.8h1.6M475.9 293.6h1.6M463.8 302.5h1.6M448.7 318.4h1.6M476.7 297.8h1.6M466.4 308.3h1.6M453.5 313.7h1.6M465.2 296.8h1.6M458.7 303.6h1.6M455.2 310.2h1.6M452.2 306.4h1.6M452.2 312.8h1.6M463.2 309.3h1.6M465.0 293.5h1.6M449.7 297.4h1.6M466.5 307.2h1.6M474.7 292.5h1.6M450.9 314.9h1.6M456.2 295.9h1.6M462.2 314.3h1.6M452.3 314.1h1.6M449.5 309.7h1.6M457.3 302.4h1.6M462.8 301.9h1.6M453.6 306.5h1.6M458.2 302.3h1.6M460.9 294.1h1.6M465.7 308.3h1.6M465.9 298.4h1.6M462.9 301.5h1.6M463.2 301.4h1.6M465.9 281.3h1.6M465.9 302.7h1.6M458.6 301.6h1.6M463.7 298.2h1.6M451.1 310.0h1.6M452.4 301.4h1.6M468.4 303.2h1.6M461.6 296.7h1.6M468.7 290.1h1.6M455.7 299.8h1.6M446.8 313.8h1.6M477.9 295.6h1.6M465.9 294.4h1.6M444.4 303.2h1.6M474.1 300.7h1.6M445.4 318.4h1.6M456.7 318.1h1.6M450.4 324.0h1.6M447.2 318.4h1.6M447.5 316.3h1.6M453.0 310.5h1.6M455.1 315.7h1.6M449.7 312.7h1.6M455.4 312.8h1.6M461.1 312.8h1.6M449.7 315.8h1.6M445.0 314.5h1.6M445.4 319.9h1.6M443.7 310.0h1.6M447.5 315.2h1.6M447.1 324.4h1.6M444.1 316.2h1.6M453.4 321.4h1.6M437.6 321.1h1.6M444.1 321.9h1.6M460.8 319.3h1.6M455.9 309.8h1.6M515.9 267.9h1.6M520.2 289.6h1.6M489.4 286.2h1.6M486.0 288.9h1.6M480.8 323.9h1.6M428.9 323.2h1.6M440.2 332.5h1.6M452.1 333.0h1.6M456.7 337.0h1.6M469.1 282.1h1.6M477.0 285.5h1.6M477.7 287.0h1.6M481.2 293.0h1.6M483.7 303.5h1.6M440.2 296.5h1.6M445.7 297.5h1.6M451.2 293.0h1.6M435.2 308.0h1.6M437.2 311.0h1.6M439.7 324.0h1.6M446.2 326.0h1.6" fill="none" stroke="#2323a8" stroke-width="1.6" filter="url(#b1)"/>
<path d="M398.50 243.4H523.0V365.50" fill="none" stroke="#4a4a4a" stroke-width="1.5"/>
<rect x="398.9" y="244.0" width="155.6" height="17.2" rx="2.5" ry="2.5" fill="#ffffff" fill-opacity="0.82" stroke="#c6c6c6" stroke-width="1"/>
<path d="M523.0 243.4V262" fill="none" stroke="#4a4a4a" stroke-width="1.5" stroke-opacity="0.55"/>
<text x="400.2" y="258.0" font-size="14.8" textLength="151.6" lengthAdjust="spacingAndGlyphs" fill="#111">PNH Neutrophils: 0.06%</text>
<path d="M398.50 128.00H683.00V365.50" fill="none" stroke="#777777" stroke-width="1.3"/>
<path d="M398.50 127.50V365.50H683.50" fill="none" stroke="#363636" stroke-width="1.6"/>
<path d="M419.48 365.50v1.9M398.50 347.29h-1.9M432.01 365.50v1.9M398.50 336.88h-1.9M440.89 365.50v1.9M398.50 329.50h-1.9M447.79 365.50v1.9M398.50 323.78h-1.9M453.42 365.50v1.9M398.50 319.10h-1.9M458.18 365.50v1.9M398.50 315.15h-1.9M462.31 365.50v1.9M398.50 311.72h-1.9M465.95 365.50v1.9M398.50 308.70h-1.9M469.20 365.50v4.6M398.50 306.00h-4.4M490.61 365.50v1.9M398.50 288.22h-1.9M503.14 365.50v1.9M398.50 277.82h-1.9M512.03 365.50v1.9M398.50 270.44h-1.9M518.92 365.50v1.9M398.50 264.71h-1.9M524.55 365.50v1.9M398.50 260.04h-1.9M529.31 365.50v1.9M398.50 256.08h-1.9M533.44 365.50v1.9M398.50 252.66h-1.9M537.08 365.50v1.9M398.50 249.64h-1.9M540.40 365.50v4.6M398.50 246.90h-4.4M561.75 365.50v1.9M398.50 229.15h-1.9M574.27 365.50v1.9M398.50 218.75h-1.9M583.16 365.50v1.9M398.50 211.37h-1.9M590.05 365.50v1.9M398.50 205.65h-1.9M595.69 365.50v1.9M398.50 200.97h-1.9M600.45 365.50v1.9M398.50 197.02h-1.9M604.57 365.50v1.9M398.50 193.59h-1.9M608.21 365.50v1.9M398.50 190.57h-1.9M611.60 365.50v4.6M398.50 187.90h-4.4M632.88 365.50v1.9M398.50 170.09h-1.9M645.41 365.50v1.9M398.50 159.68h-1.9M654.29 365.50v1.9M398.50 152.30h-1.9M661.19 365.50v1.9M398.50 146.58h-1.9M666.82 365.50v1.9M398.50 141.90h-1.9M671.58 365.50v1.9M398.50 137.95h-1.9M675.71 365.50v1.9M398.50 134.52h-1.9M679.35 365.50v1.9M398.50 131.50h-1.9M682.60 365.50v4.6M398.50 128.80h-4.4" fill="none" stroke="#363636" stroke-width="1.05"/>
<text class="s" x="462.80" y="380.80" font-size="9.9" textLength="9.8" lengthAdjust="spacingAndGlyphs">10</text><text class="s" x="473.40" y="377.40" font-size="6.8">0</text>
<text class="s" x="379.30" y="309.60" font-size="9.9" textLength="9.8" lengthAdjust="spacingAndGlyphs">10</text><text class="s" x="389.10" y="306.40" font-size="6.8">0</text>
<text class="s" x="534.00" y="380.80" font-size="9.9" textLength="9.8" lengthAdjust="spacingAndGlyphs">10</text><text class="s" x="544.60" y="377.40" font-size="6.8">1</text>
<text class="s" x="379.30" y="250.50" font-size="9.9" textLength="9.8" lengthAdjust="spacingAndGlyphs">10</text><text class="s" x="389.10" y="247.30" font-size="6.8">1</text>
<text class="s" x="605.20" y="380.80" font-size="9.9" textLength="9.8" lengthAdjust="spacingAndGlyphs">10</text><text class="s" x="615.80" y="377.40" font-size="6.8">2</text>
<text class="s" x="379.30" y="191.50" font-size="9.9" textLength="9.8" lengthAdjust="spacingAndGlyphs">10</text><text class="s" x="389.10" y="188.30" font-size="6.8">2</text>
<text class="s" x="676.20" y="380.80" font-size="9.9" textLength="9.8" lengthAdjust="spacingAndGlyphs">10</text><text class="s" x="686.80" y="377.40" font-size="6.8">3</text>
<text class="s" x="379.30" y="132.40" font-size="9.9" textLength="9.8" lengthAdjust="spacingAndGlyphs">10</text><text class="s" x="389.10" y="129.20" font-size="6.8">3</text>
<text x="471" y="121.9" font-size="14.8" textLength="135.3" lengthAdjust="spacingAndGlyphs">[CD15++ Neutrophils]</text>
<text x="521.5" y="400.6" font-size="14.6" textLength="38.7" lengthAdjust="spacingAndGlyphs">FLAER</text>
<text transform="translate(371.2 274.4) rotate(-90)" font-size="14.8" textLength="55.4" lengthAdjust="spacingAndGlyphs">CD24-PE</text>
<rect x="3" y="407.4" width="347.6" height="13.1" fill="#d3d3d3"/>
<rect x="355.7" y="406.5" width="337.2" height="12.2" fill="#d3d3d3"/>
<g class="s" font-size="10.1">
<g font-weight="bold" font-size="10.7"><text x="7.5" y="418.0" textLength="23.5" lengthAdjust="spacingAndGlyphs">Gate</text><text x="106.6" y="418.0" text-anchor="end" textLength="40.2" lengthAdjust="spacingAndGlyphs">Number</text><text x="150.2" y="418.0" text-anchor="end" textLength="39" lengthAdjust="spacingAndGlyphs">%Gated</text></g>
<text x="7.5" y="431.3" textLength="12" lengthAdjust="spacingAndGlyphs">All</text><text x="106.8" y="431.3" text-anchor="end" textLength="33" lengthAdjust="spacingAndGlyphs">63,962</text><text x="150.2" y="431.3" text-anchor="end" textLength="33" lengthAdjust="spacingAndGlyphs">100.00</text>
<text x="7.5" y="445.4" textLength="53.5" lengthAdjust="spacingAndGlyphs">PNH Monos</text><text x="106.8" y="445.4" text-anchor="end" textLength="17" lengthAdjust="spacingAndGlyphs">286</text><text x="150.2" y="445.4" text-anchor="end" textLength="22" lengthAdjust="spacingAndGlyphs">0.45</text>
</g>
<g class="s" font-size="9.5">
<g font-weight="bold" font-size="10.2"><text x="360.3" y="416.4" textLength="22.4" lengthAdjust="spacingAndGlyphs">Gate</text><text x="478.7" y="416.3" text-anchor="end" textLength="36.8" lengthAdjust="spacingAndGlyphs">Number</text><text x="519.3" y="416.3" text-anchor="end" textLength="36" lengthAdjust="spacingAndGlyphs">%Gated</text></g>
<text x="360.3" y="429.7" textLength="11.3" lengthAdjust="spacingAndGlyphs">All</text><text x="478.7" y="429.7" text-anchor="end" textLength="35.6" lengthAdjust="spacingAndGlyphs">302,071</text><text x="519.3" y="429.7" text-anchor="end" textLength="30.3" lengthAdjust="spacingAndGlyphs">100.00</text>
<text x="360.3" y="442.0" textLength="75.8" lengthAdjust="spacingAndGlyphs">PNH Neutrophils</text><text x="478.7" y="442.0" text-anchor="end" textLength="14.2" lengthAdjust="spacingAndGlyphs">192</text><text x="519.3" y="442.0" text-anchor="end" textLength="20.2" lengthAdjust="spacingAndGlyphs">0.06</text>
</g>
</svg></body></html>
